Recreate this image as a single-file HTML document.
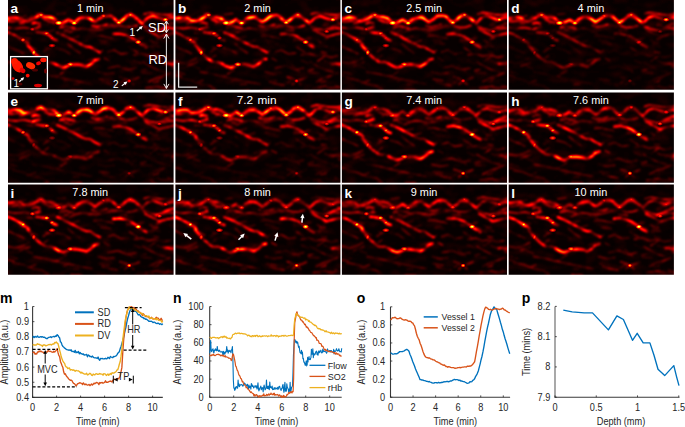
<!DOCTYPE html><html><head><meta charset="utf-8"><style>
html,body{margin:0;padding:0;background:#fff;width:685px;height:427px;overflow:hidden}
svg{display:block}
text{font-family:"Liberation Sans",sans-serif}
</style></head><body>
<svg width="685" height="427" viewBox="0 0 685 427">
<defs>
<filter id="hot" x="0" y="0" width="1" height="1" color-interpolation-filters="sRGB">
<feTurbulence type="fractalNoise" baseFrequency="0.11 0.22" numOctaves="2" seed="7" result="n"/>
<feColorMatrix in="n" type="matrix" values="2.6 0 0 0 -0.75  2.6 0 0 0 -0.75  2.6 0 0 0 -0.75  0 0 0 0 1" result="nm"/>
<feComposite in="SourceGraphic" in2="nm" operator="arithmetic" k1="1.15" k2="0.25" k3="0" k4="0" result="m"/>
<feTurbulence type="fractalNoise" baseFrequency="0.07 0.14" numOctaves="2" seed="11" result="n2"/>
<feColorMatrix in="n2" type="matrix" values="2.6 0 0 0 -1.25  2.6 0 0 0 -1.25  2.6 0 0 0 -1.25  0 0 0 0 1" result="nm2"/>
<feComposite in="m" in2="nm2" operator="arithmetic" k1="0" k2="1" k3="0.04" k4="0.006" result="mm"/>
<feGaussianBlur in="mm" stdDeviation="0.8" result="b"/>
<feComponentTransfer in="b">
<feFuncR type="table" tableValues="0 0.333 0.667 1 1 1 1 1 1"/>
<feFuncG type="table" tableValues="0 0 0 0 0.333 0.667 1 1 1"/>
<feFuncB type="table" tableValues="0 0 0 0 0 0 0 0.5 1"/>
<feFuncA type="linear" slope="0" intercept="1"/>
</feComponentTransfer></filter>
<clipPath id="cp0"><rect x="8" y="0" width="165.6" height="89.8"/></clipPath>
<clipPath id="cp1"><rect x="175.4" y="0" width="165.0" height="89.8"/></clipPath>
<clipPath id="cp2"><rect x="341.9" y="0" width="165.1" height="89.8"/></clipPath>
<clipPath id="cp3"><rect x="508.7" y="0" width="165.2" height="89.8"/></clipPath>
<clipPath id="cp4"><rect x="8" y="92.4" width="165.6" height="90.4"/></clipPath>
<clipPath id="cp5"><rect x="175.4" y="92.4" width="165.0" height="90.4"/></clipPath>
<clipPath id="cp6"><rect x="341.9" y="92.4" width="165.1" height="90.4"/></clipPath>
<clipPath id="cp7"><rect x="508.7" y="92.4" width="165.2" height="90.4"/></clipPath>
<clipPath id="cp8"><rect x="8" y="184.6" width="165.6" height="90.1"/></clipPath>
<clipPath id="cp9"><rect x="175.4" y="184.6" width="165.0" height="90.1"/></clipPath>
<clipPath id="cp10"><rect x="341.9" y="184.6" width="165.1" height="90.1"/></clipPath>
<clipPath id="cp11"><rect x="508.7" y="184.6" width="165.2" height="90.1"/></clipPath>
<filter id="hot2" x="0" y="0" width="1" height="1" color-interpolation-filters="sRGB">
<feFlood flood-color="#000" result="bk"/><feMerge result="mm"><feMergeNode in="bk"/><feMergeNode in="SourceGraphic"/></feMerge>
<feGaussianBlur in="mm" stdDeviation="0.75" result="b"/>
<feComponentTransfer in="b">
<feFuncR type="table" tableValues="0 0.333 0.667 1 1 1 1 1 1"/>
<feFuncG type="table" tableValues="0 0 0 0 0.333 0.667 1 1 1"/>
<feFuncB type="table" tableValues="0 0 0 0 0 0 0 0.5 1"/>
<feFuncA type="linear" slope="0" intercept="1"/>
</feComponentTransfer></filter>
<radialGradient id="rg"><stop offset="0" stop-color="#fff"/><stop offset="0.45" stop-color="#fff" stop-opacity="0.6"/><stop offset="1" stop-color="#fff" stop-opacity="0"/></radialGradient>
<filter id="blur1"><feGaussianBlur stdDeviation="0.6"/></filter>
</defs>
<g clip-path="url(#cp0)">
<g filter="url(#hot)">
<rect x="8" y="0" width="165.6" height="89.8" fill="rgb(1,1,1)"/>
<line x1="113.5" y1="27.6" x2="118.8" y2="26.0" stroke="rgb(32,32,32)" stroke-width="1.3" stroke-linecap="round"/>
<line x1="119.7" y1="83.1" x2="125.6" y2="79.5" stroke="rgb(24,24,24)" stroke-width="1.3" stroke-linecap="round"/>
<line x1="44.1" y1="58.3" x2="48.4" y2="55.2" stroke="rgb(33,33,33)" stroke-width="1.3" stroke-linecap="round"/>
<line x1="97.9" y1="40.1" x2="107.5" y2="41.3" stroke="rgb(24,24,24)" stroke-width="1.3" stroke-linecap="round"/>
<line x1="141.0" y1="70.7" x2="145.9" y2="69.6" stroke="rgb(49,49,49)" stroke-width="1.3" stroke-linecap="round"/>
<line x1="63.5" y1="31.9" x2="72.1" y2="26.9" stroke="rgb(36,36,36)" stroke-width="1.3" stroke-linecap="round"/>
<line x1="141.2" y1="72.7" x2="152.0" y2="73.2" stroke="rgb(30,30,30)" stroke-width="1.3" stroke-linecap="round"/>
<line x1="99.1" y1="79.1" x2="109.0" y2="80.7" stroke="rgb(26,26,26)" stroke-width="1.3" stroke-linecap="round"/>
<line x1="124.3" y1="28.9" x2="129.9" y2="26.8" stroke="rgb(27,27,27)" stroke-width="1.3" stroke-linecap="round"/>
<line x1="46.4" y1="32.5" x2="54.5" y2="30.0" stroke="rgb(34,34,34)" stroke-width="1.3" stroke-linecap="round"/>
<line x1="69.1" y1="39.4" x2="79.1" y2="36.2" stroke="rgb(33,33,33)" stroke-width="1.3" stroke-linecap="round"/>
<line x1="108.5" y1="37.0" x2="113.4" y2="38.5" stroke="rgb(23,23,23)" stroke-width="1.3" stroke-linecap="round"/>
<line x1="171.3" y1="67.0" x2="180.0" y2="67.6" stroke="rgb(39,39,39)" stroke-width="1.3" stroke-linecap="round"/>
<line x1="136.0" y1="40.7" x2="141.1" y2="37.0" stroke="rgb(29,29,29)" stroke-width="1.3" stroke-linecap="round"/>
<line x1="42.8" y1="86.3" x2="48.3" y2="89.3" stroke="rgb(42,42,42)" stroke-width="1.3" stroke-linecap="round"/>
<line x1="73.3" y1="84.5" x2="79.1" y2="84.2" stroke="rgb(23,23,23)" stroke-width="1.3" stroke-linecap="round"/>
<line x1="100.6" y1="42.8" x2="110.8" y2="44.0" stroke="rgb(27,27,27)" stroke-width="1.3" stroke-linecap="round"/>
<line x1="44.2" y1="89.8" x2="48.8" y2="89.9" stroke="rgb(19,19,19)" stroke-width="1.3" stroke-linecap="round"/>
<line x1="26.1" y1="66.2" x2="32.5" y2="68.8" stroke="rgb(21,21,21)" stroke-width="1.3" stroke-linecap="round"/>
<line x1="71.0" y1="89.8" x2="81.8" y2="90.2" stroke="rgb(34,34,34)" stroke-width="1.3" stroke-linecap="round"/>
<line x1="9.9" y1="72.1" x2="17.4" y2="74.0" stroke="rgb(32,32,32)" stroke-width="1.3" stroke-linecap="round"/>
<line x1="113.8" y1="33.1" x2="120.9" y2="32.5" stroke="rgb(37,37,37)" stroke-width="1.3" stroke-linecap="round"/>
<line x1="152.5" y1="42.9" x2="157.8" y2="42.9" stroke="rgb(43,43,43)" stroke-width="1.3" stroke-linecap="round"/>
<line x1="151.6" y1="45.1" x2="159.8" y2="46.6" stroke="rgb(18,18,18)" stroke-width="1.3" stroke-linecap="round"/>
<line x1="133.8" y1="60.5" x2="141.0" y2="63.3" stroke="rgb(23,23,23)" stroke-width="1.3" stroke-linecap="round"/>
<line x1="61.5" y1="27.2" x2="70.0" y2="32.7" stroke="rgb(33,33,33)" stroke-width="1.3" stroke-linecap="round"/>
<line x1="58.7" y1="29.7" x2="68.1" y2="34.8" stroke="rgb(17,17,17)" stroke-width="1.3" stroke-linecap="round"/>
<line x1="88.2" y1="30.4" x2="97.0" y2="33.6" stroke="rgb(24,24,24)" stroke-width="1.3" stroke-linecap="round"/>
<line x1="86.4" y1="61.2" x2="96.0" y2="58.1" stroke="rgb(37,37,37)" stroke-width="1.3" stroke-linecap="round"/>
<line x1="42.9" y1="60.5" x2="48.1" y2="62.1" stroke="rgb(29,29,29)" stroke-width="1.3" stroke-linecap="round"/>
<line x1="172.2" y1="67.6" x2="179.8" y2="67.0" stroke="rgb(26,26,26)" stroke-width="1.3" stroke-linecap="round"/>
<line x1="45.1" y1="47.6" x2="50.6" y2="48.3" stroke="rgb(25,25,25)" stroke-width="1.3" stroke-linecap="round"/>
<line x1="19.7" y1="66.4" x2="29.4" y2="62.8" stroke="rgb(50,50,50)" stroke-width="1.3" stroke-linecap="round"/>
<line x1="19.7" y1="41.2" x2="25.1" y2="42.5" stroke="rgb(20,20,20)" stroke-width="1.3" stroke-linecap="round"/>
<line x1="162.4" y1="62.5" x2="171.8" y2="62.2" stroke="rgb(29,29,29)" stroke-width="1.3" stroke-linecap="round"/>
<line x1="39.4" y1="32.2" x2="46.4" y2="31.6" stroke="rgb(33,33,33)" stroke-width="1.3" stroke-linecap="round"/>
<line x1="128.3" y1="69.1" x2="132.1" y2="71.9" stroke="rgb(30,30,30)" stroke-width="1.3" stroke-linecap="round"/>
<line x1="64.0" y1="81.1" x2="69.0" y2="79.4" stroke="rgb(26,26,26)" stroke-width="1.3" stroke-linecap="round"/>
<line x1="77.6" y1="43.8" x2="87.5" y2="40.4" stroke="rgb(24,24,24)" stroke-width="1.3" stroke-linecap="round"/>
<line x1="150.1" y1="61.2" x2="159.2" y2="55.0" stroke="rgb(42,42,42)" stroke-width="1.3" stroke-linecap="round"/>
<line x1="167.9" y1="85.3" x2="172.5" y2="87.6" stroke="rgb(27,27,27)" stroke-width="1.3" stroke-linecap="round"/>
<line x1="43.3" y1="51.7" x2="48.8" y2="48.0" stroke="rgb(35,35,35)" stroke-width="1.3" stroke-linecap="round"/>
<line x1="51.8" y1="76.2" x2="58.7" y2="75.8" stroke="rgb(53,53,53)" stroke-width="1.3" stroke-linecap="round"/>
<line x1="172.2" y1="61.6" x2="177.1" y2="63.0" stroke="rgb(34,34,34)" stroke-width="1.3" stroke-linecap="round"/>
<line x1="167.8" y1="63.1" x2="177.1" y2="63.6" stroke="rgb(18,18,18)" stroke-width="1.3" stroke-linecap="round"/>
<line x1="104.4" y1="58.2" x2="108.9" y2="60.5" stroke="rgb(32,32,32)" stroke-width="1.3" stroke-linecap="round"/>
<line x1="21.2" y1="37.9" x2="29.9" y2="39.0" stroke="rgb(29,29,29)" stroke-width="1.3" stroke-linecap="round"/>
<line x1="27.8" y1="83.0" x2="35.5" y2="80.3" stroke="rgb(34,34,34)" stroke-width="1.3" stroke-linecap="round"/>
<line x1="77.2" y1="63.4" x2="87.7" y2="63.7" stroke="rgb(28,28,28)" stroke-width="1.3" stroke-linecap="round"/>
<line x1="126.2" y1="41.3" x2="134.8" y2="40.1" stroke="rgb(21,21,21)" stroke-width="1.3" stroke-linecap="round"/>
<line x1="60.2" y1="74.1" x2="66.2" y2="70.2" stroke="rgb(53,53,53)" stroke-width="1.3" stroke-linecap="round"/>
<line x1="172.4" y1="30.7" x2="177.8" y2="28.5" stroke="rgb(47,47,47)" stroke-width="1.3" stroke-linecap="round"/>
<line x1="153.3" y1="82.3" x2="158.4" y2="81.4" stroke="rgb(48,48,48)" stroke-width="1.3" stroke-linecap="round"/>
<line x1="124.1" y1="65.1" x2="130.9" y2="70.3" stroke="rgb(16,16,16)" stroke-width="1.3" stroke-linecap="round"/>
<line x1="142.8" y1="45.2" x2="153.1" y2="47.4" stroke="rgb(24,24,24)" stroke-width="1.3" stroke-linecap="round"/>
<line x1="27.0" y1="32.9" x2="32.9" y2="33.3" stroke="rgb(41,41,41)" stroke-width="1.3" stroke-linecap="round"/>
<line x1="126.4" y1="39.0" x2="132.2" y2="40.1" stroke="rgb(24,24,24)" stroke-width="1.3" stroke-linecap="round"/>
<line x1="157.4" y1="80.2" x2="163.4" y2="76.6" stroke="rgb(29,29,29)" stroke-width="1.3" stroke-linecap="round"/>
<line x1="8.6" y1="75.4" x2="14.3" y2="76.4" stroke="rgb(38,38,38)" stroke-width="1.3" stroke-linecap="round"/>
<line x1="99.0" y1="53.4" x2="102.6" y2="50.6" stroke="rgb(42,42,42)" stroke-width="1.3" stroke-linecap="round"/>
<line x1="157.1" y1="60.9" x2="164.4" y2="64.4" stroke="rgb(24,24,24)" stroke-width="1.3" stroke-linecap="round"/>
<line x1="29.0" y1="45.7" x2="37.3" y2="50.6" stroke="rgb(38,38,38)" stroke-width="1.3" stroke-linecap="round"/>
<line x1="156.3" y1="39.4" x2="160.8" y2="37.9" stroke="rgb(44,44,44)" stroke-width="1.3" stroke-linecap="round"/>
<line x1="153.9" y1="52.0" x2="158.9" y2="52.8" stroke="rgb(41,41,41)" stroke-width="1.3" stroke-linecap="round"/>
<line x1="150.7" y1="88.5" x2="160.0" y2="92.6" stroke="rgb(22,22,22)" stroke-width="1.3" stroke-linecap="round"/>
<line x1="129.5" y1="47.3" x2="137.6" y2="52.5" stroke="rgb(46,46,46)" stroke-width="1.3" stroke-linecap="round"/>
<line x1="141.8" y1="43.1" x2="146.2" y2="44.8" stroke="rgb(43,43,43)" stroke-width="1.3" stroke-linecap="round"/>
<line x1="149.7" y1="40.2" x2="156.3" y2="43.2" stroke="rgb(24,24,24)" stroke-width="1.3" stroke-linecap="round"/>
<line x1="139.2" y1="40.6" x2="143.6" y2="37.4" stroke="rgb(34,34,34)" stroke-width="1.3" stroke-linecap="round"/>
<line x1="150.6" y1="87.9" x2="158.7" y2="85.4" stroke="rgb(37,37,37)" stroke-width="1.3" stroke-linecap="round"/>
<line x1="169.9" y1="21.7" x2="173.8" y2="24.0" stroke="rgb(41,41,41)" stroke-width="1.3" stroke-linecap="round"/>
<line x1="37.5" y1="29.3" x2="41.8" y2="28.0" stroke="rgb(27,27,27)" stroke-width="1.3" stroke-linecap="round"/>
<line x1="128.2" y1="17.6" x2="134.7" y2="18.5" stroke="rgb(29,29,29)" stroke-width="1.3" stroke-linecap="round"/>
<line x1="103.1" y1="16.6" x2="107.0" y2="17.6" stroke="rgb(46,46,46)" stroke-width="1.3" stroke-linecap="round"/>
<line x1="96.8" y1="24.9" x2="103.9" y2="27.1" stroke="rgb(32,32,32)" stroke-width="1.3" stroke-linecap="round"/>
<line x1="19.5" y1="24.0" x2="25.0" y2="22.8" stroke="rgb(56,56,56)" stroke-width="1.3" stroke-linecap="round"/>
<line x1="126.8" y1="17.4" x2="132.6" y2="16.0" stroke="rgb(36,36,36)" stroke-width="1.3" stroke-linecap="round"/>
<line x1="56.8" y1="14.3" x2="65.4" y2="13.4" stroke="rgb(41,41,41)" stroke-width="1.3" stroke-linecap="round"/>
<line x1="157.0" y1="23.1" x2="163.5" y2="21.5" stroke="rgb(19,19,19)" stroke-width="1.3" stroke-linecap="round"/>
<line x1="55.3" y1="19.7" x2="62.6" y2="20.4" stroke="rgb(34,34,34)" stroke-width="1.3" stroke-linecap="round"/>
<line x1="81.0" y1="15.8" x2="89.5" y2="15.6" stroke="rgb(51,51,51)" stroke-width="1.3" stroke-linecap="round"/>
<line x1="36.0" y1="13.5" x2="43.2" y2="13.7" stroke="rgb(32,32,32)" stroke-width="1.3" stroke-linecap="round"/>
<line x1="143.0" y1="25.5" x2="148.0" y2="26.6" stroke="rgb(21,21,21)" stroke-width="1.3" stroke-linecap="round"/>
<line x1="12.0" y1="16.4" x2="20.3" y2="16.2" stroke="rgb(22,22,22)" stroke-width="1.3" stroke-linecap="round"/>
<line x1="76.4" y1="23.3" x2="83.3" y2="20.6" stroke="rgb(27,27,27)" stroke-width="1.3" stroke-linecap="round"/>
<line x1="48.3" y1="23.8" x2="54.6" y2="19.4" stroke="rgb(43,43,43)" stroke-width="1.3" stroke-linecap="round"/>
<line x1="25.6" y1="19.7" x2="33.7" y2="16.3" stroke="rgb(44,44,44)" stroke-width="1.3" stroke-linecap="round"/>
<line x1="16.3" y1="16.5" x2="22.0" y2="19.1" stroke="rgb(51,51,51)" stroke-width="1.3" stroke-linecap="round"/>
<line x1="118.2" y1="29.8" x2="126.8" y2="30.8" stroke="rgb(33,33,33)" stroke-width="1.3" stroke-linecap="round"/>
<line x1="109.1" y1="24.9" x2="117.2" y2="25.0" stroke="rgb(43,43,43)" stroke-width="1.3" stroke-linecap="round"/>
<line x1="156.0" y1="25.4" x2="161.3" y2="25.2" stroke="rgb(25,25,25)" stroke-width="1.3" stroke-linecap="round"/>
<line x1="113.2" y1="25.8" x2="120.3" y2="26.0" stroke="rgb(36,36,36)" stroke-width="1.3" stroke-linecap="round"/>
<line x1="20.8" y1="17.1" x2="26.2" y2="15.6" stroke="rgb(34,34,34)" stroke-width="1.3" stroke-linecap="round"/>
<line x1="30.8" y1="16.2" x2="38.2" y2="17.9" stroke="rgb(27,27,27)" stroke-width="1.3" stroke-linecap="round"/>
<line x1="75.3" y1="21.8" x2="80.3" y2="21.2" stroke="rgb(34,34,34)" stroke-width="1.3" stroke-linecap="round"/>
<path d="M6.0,18.6 L9.2,18.4 L15.4,17.2 L20.3,17.8 L23.9,20.8 L28.8,20.8 L33.8,19.0 L37.4,16.6 L40.5,14.7 L44.8,17.2 L49.7,17.2 L54.0,18.4 L58.3,22.7 L62.0,23.3 L65.6,21.5 L68.7,19.6 L71.8,21.5 L74.2,23.3 L77.9,19.6 L81.6,17.8 L86.5,17.2 L90.0,18.4 L94.9,22.1 L98.6,19.6 L103.5,15.9 L108.4,15.3 L112.1,16.6 L115.8,20.2 L118.8,22.7 L123.1,19.6 L126.8,15.9 L130.5,14.7 L134.1,16.6 L137.8,19.6 L142.1,23.3" fill="none" stroke="rgb(150,150,150)" stroke-width="2.76" stroke-linejoin="round" stroke-linecap="round"/>
<path d="M142.1,23.3 L145.0,20.5 L148.0,17.5 L153.0,16.0 L158.0,17.8 L163.0,19.4 L165.4,19.6 L169.0,18.0 L175.0,17.0" fill="none" stroke="rgb(121,121,121)" stroke-width="2.42" stroke-linejoin="round" stroke-linecap="round"/>
<path d="M6.0,21.0 L12.0,21.5 L18.0,20.5 L23.0,22.5" fill="none" stroke="rgb(87,87,87)" stroke-width="2.07" stroke-linejoin="round" stroke-linecap="round"/>
<path d="M60.0,27.5 L65.0,26.0 L70.0,27.0 L75.0,28.5" fill="none" stroke="rgb(87,87,87)" stroke-width="2.07" stroke-linejoin="round" stroke-linecap="round"/>
<path d="M92.0,25.5 L97.0,27.0 L102.0,26.0 L107.0,24.5" fill="none" stroke="rgb(81,81,81)" stroke-width="2.07" stroke-linejoin="round" stroke-linecap="round"/>
<path d="M144.0,27.0 L150.0,29.0 L156.0,30.0 L163.0,29.5 L169.0,28.0 L175.0,28.5" fill="none" stroke="rgb(87,87,87)" stroke-width="2.07" stroke-linejoin="round" stroke-linecap="round"/>
<path d="M120.0,26.0 L126.0,27.5 L132.0,27.0 L137.0,25.5" fill="none" stroke="rgb(75,75,75)" stroke-width="1.95" stroke-linejoin="round" stroke-linecap="round"/>
<path d="M32.5,23.5 L35.5,22.5 L39.5,23.5" fill="none" stroke="rgb(116,116,116)" stroke-width="2.18" stroke-linejoin="round" stroke-linecap="round"/>
<path d="M39.5,15.0 L44.8,19.5 L49.7,21.5 L54.6,22.7" fill="none" stroke="rgb(93,93,93)" stroke-width="1.95" stroke-linejoin="round" stroke-linecap="round"/>
<path d="M144.0,14.0 L149.0,12.5 L155.0,13.5 L161.0,14.5 L168.0,15.0 L175.0,14.0" fill="none" stroke="rgb(81,81,81)" stroke-width="1.84" stroke-linejoin="round" stroke-linecap="round"/>
<path d="M6.0,27.5 L16.0,28.5 L24.0,27.5 L30.0,28.8" fill="none" stroke="rgb(64,64,64)" stroke-width="1.84" stroke-linejoin="round" stroke-linecap="round"/>
<path d="M32.5,29.4 L37.4,27.6 L39.9,26.4" fill="none" stroke="rgb(93,93,93)" stroke-width="2.07" stroke-linejoin="round" stroke-linecap="round"/>
<path d="M27.6,44.5 L28.2,45.6 L31.3,49.3 L33.8,52.4 L37.4,56.0 L41.1,59.1 L44.8,61.6" fill="none" stroke="rgb(134,134,134)" stroke-width="2.42" stroke-linejoin="round" stroke-linecap="round"/>
<path d="M44.8,61.6 L47.2,62.2 L50.9,62.0 L54.6,63.7" fill="none" stroke="rgb(91,91,91)" stroke-width="2.07" stroke-linejoin="round" stroke-linecap="round"/>
<path d="M54.6,63.7 L59.5,66.5 L63.2,67.8 L66.9,66.5 L70.5,64.6 L75.4,64.3 L81.6,65.3 L86.5,66.6 L90.0,64.5 L92.0,63.1 L94.9,60.3 L98.6,59.1" fill="none" stroke="rgb(134,134,134)" stroke-width="2.53" stroke-linejoin="round" stroke-linecap="round"/>
<path d="M6.0,31.5 L8.0,32.5 L12.9,34.3 L17.8,37.0 L21.5,39.0 L24.0,40.8 L27.6,42.5 L29.0,44.5" fill="none" stroke="rgb(102,102,102)" stroke-width="2.18" stroke-linejoin="round" stroke-linecap="round"/>
<path d="M57.0,32.5 L62.0,34.6 L66.9,36.8 L71.8,39.5 L76.7,42.0 L81.6,44.8 L86.0,46.5 L90.0,46.8 L94.9,49.9 L99.8,52.4" fill="none" stroke="rgb(96,96,96)" stroke-width="2.18" stroke-linejoin="round" stroke-linecap="round"/>
<path d="M36.2,32.2 L41.1,33.0 L46.0,33.7 L49.7,35.6 L52.1,38.0 L54.0,39.5 L57.0,40.5" fill="none" stroke="rgb(96,96,96)" stroke-width="2.07" stroke-linejoin="round" stroke-linecap="round"/>
<path d="M113.3,34.3 L119.4,33.7 L125.6,34.9 L130.5,36.8 L134.1,39.2 L137.8,41.7 L141.5,44.8 L146.4,47.5" fill="none" stroke="rgb(96,96,96)" stroke-width="2.07" stroke-linejoin="round" stroke-linecap="round"/>
<path d="M145.2,29.4 L150.1,31.9 L155.0,34.3 L158.7,36.8 L163.6,35.6 L168.5,34.3 L175.0,33.0" fill="none" stroke="rgb(75,75,75)" stroke-width="1.95" stroke-linejoin="round" stroke-linecap="round"/>
<path d="M70.5,31.9 L76.7,29.4 L81.6,28.2 L86.5,28.8 L92.0,29.4 L96.0,30.0 L102.3,28.8 L109.6,27.0 L113.3,26.4" fill="none" stroke="rgb(42,42,42)" stroke-width="1.84" stroke-linejoin="round" stroke-linecap="round"/>
<path d="M156.2,30.7 L161.1,28.8 L166.0,26.4 L170.9,24.5 L175.0,23.3" fill="none" stroke="rgb(75,75,75)" stroke-width="1.95" stroke-linejoin="round" stroke-linecap="round"/>
<path d="M165.0,64.0 L167.3,63.4 L172.2,64.6 L175.0,63.0" fill="none" stroke="rgb(91,91,91)" stroke-width="2.07" stroke-linejoin="round" stroke-linecap="round"/>
<path d="M134.1,54.8 L141.5,53.6 L148.9,56.0 L156.2,54.8 L163.6,57.3 L170.0,56.0" fill="none" stroke="rgb(35,35,35)" stroke-width="1.84" stroke-linejoin="round" stroke-linecap="round"/>
<path d="M8.0,46.2 L12.9,48.7 L20.3,51.7 L23.9,53.6" fill="none" stroke="rgb(35,35,35)" stroke-width="1.84" stroke-linejoin="round" stroke-linecap="round"/>
<path d="M8.0,61.9 L15.4,63.1 L22.7,61.3 L28.8,58.2" fill="none" stroke="rgb(35,35,35)" stroke-width="1.84" stroke-linejoin="round" stroke-linecap="round"/>
<path d="M102.3,81.8 L109.6,84.2 L117.0,85.5" fill="none" stroke="rgb(35,35,35)" stroke-width="1.84" stroke-linejoin="round" stroke-linecap="round"/>
<path d="M120.0,77.0 L125.0,78.5 L129.2,80.9 L134.0,79.5 L139.0,77.5" fill="none" stroke="rgb(42,42,42)" stroke-width="1.84" stroke-linejoin="round" stroke-linecap="round"/>
<path d="M125.0,84.5 L129.2,80.9 L133.5,84.5" fill="none" stroke="rgb(35,35,35)" stroke-width="1.72" stroke-linejoin="round" stroke-linecap="round"/>
<path d="M148.9,81.8 L156.2,78.1 L163.6,75.7 L170.0,73.0" fill="none" stroke="rgb(39,39,39)" stroke-width="1.84" stroke-linejoin="round" stroke-linecap="round"/>
<path d="M13.0,63.0 L23.0,64.0 L30.0,62.0" fill="none" stroke="rgb(29,29,29)" stroke-width="1.72" stroke-linejoin="round" stroke-linecap="round"/>
<path d="M33.0,72.0 L45.0,74.0 L57.0,77.0 L69.0,79.5 L81.0,82.0 L92.0,84.0" fill="none" stroke="rgb(32,32,32)" stroke-width="1.72" stroke-linejoin="round" stroke-linecap="round"/>
<path d="M108.0,52.0 L114.0,50.0 L121.0,54.0 L128.0,53.0" fill="none" stroke="rgb(35,35,35)" stroke-width="1.84" stroke-linejoin="round" stroke-linecap="round"/>
<path d="M94.0,36.0 L100.0,35.5 L106.0,37.0 L112.0,38.0" fill="none" stroke="rgb(32,32,32)" stroke-width="1.72" stroke-linejoin="round" stroke-linecap="round"/>
<path d="M68.0,44.0 L74.0,49.0 L80.0,53.0" fill="none" stroke="rgb(32,32,32)" stroke-width="1.72" stroke-linejoin="round" stroke-linecap="round"/>
<path d="M108.0,68.0 L118.0,66.0 L128.0,70.0 L136.0,68.0" fill="none" stroke="rgb(32,32,32)" stroke-width="1.72" stroke-linejoin="round" stroke-linecap="round"/>
<path d="M13.0,78.0 L23.0,80.0 L33.0,84.0 L43.0,86.0" fill="none" stroke="rgb(29,29,29)" stroke-width="1.72" stroke-linejoin="round" stroke-linecap="round"/>
<path d="M146.0,88.0 L156.0,86.5 L164.0,88.0 L172.0,87.0" fill="none" stroke="rgb(35,35,35)" stroke-width="1.84" stroke-linejoin="round" stroke-linecap="round"/>
<path d="M143.0,62.0 L150.0,66.0 L158.0,70.0 L166.0,72.0" fill="none" stroke="rgb(32,32,32)" stroke-width="1.72" stroke-linejoin="round" stroke-linecap="round"/>
<path d="M56.0,48.0 L64.0,50.0 L70.0,54.0" fill="none" stroke="rgb(29,29,29)" stroke-width="1.72" stroke-linejoin="round" stroke-linecap="round"/>
<path d="M98.0,72.0 L106.0,74.0 L114.0,73.0" fill="none" stroke="rgb(26,26,26)" stroke-width="1.72" stroke-linejoin="round" stroke-linecap="round"/>
</g>
<g filter="url(#hot2)" style="mix-blend-mode:lighten">
<rect x="8" y="0" width="165.6" height="89.8" fill="#000"/>
<ellipse cx="58.8" cy="22.9" rx="4.7" ry="2.7" fill="url(#rg)" fill-opacity="1.00"/>
<ellipse cx="74.2" cy="23.0" rx="3.6" ry="2.3" fill="url(#rg)" fill-opacity="0.97"/>
<ellipse cx="118.8" cy="22.5" rx="3.6" ry="2.3" fill="url(#rg)" fill-opacity="0.87"/>
<ellipse cx="165.4" cy="19.6" rx="3.6" ry="2.3" fill="url(#rg)" fill-opacity="0.82"/>
<ellipse cx="41.0" cy="15.0" rx="3.6" ry="2.2" fill="url(#rg)" fill-opacity="0.73"/>
<ellipse cx="130.5" cy="14.9" rx="3.2" ry="2.2" fill="url(#rg)" fill-opacity="0.70"/>
<ellipse cx="103.5" cy="16.0" rx="3.2" ry="2.2" fill="url(#rg)" fill-opacity="0.60"/>
<ellipse cx="33.8" cy="52.4" rx="2.5" ry="3.2" fill="url(#rg)" fill-opacity="0.81"/>
<ellipse cx="70.5" cy="64.4" rx="4.3" ry="2.5" fill="url(#rg)" fill-opacity="0.74"/>
<ellipse cx="23.0" cy="39.9" rx="2.9" ry="2.3" fill="url(#rg)" fill-opacity="0.62"/>
<ellipse cx="46.5" cy="33.4" rx="3.6" ry="2.2" fill="url(#rg)" fill-opacity="0.62"/>
<ellipse cx="138.2" cy="42.1" rx="3.6" ry="2.5" fill="url(#rg)" fill-opacity="0.81"/>
<ellipse cx="159.3" cy="31.3" rx="3.2" ry="2.2" fill="url(#rg)" fill-opacity="0.47"/>
<ellipse cx="52.0" cy="45.6" rx="4.0" ry="2.3" fill="url(#rg)" fill-opacity="0.45"/>
<ellipse cx="129.2" cy="80.9" rx="2.7" ry="2.2" fill="url(#rg)" fill-opacity="0.47"/>
<ellipse cx="52.1" cy="38.0" rx="2.9" ry="2.2" fill="url(#rg)" fill-opacity="0.45"/>
<ellipse cx="32.5" cy="29.2" rx="3.2" ry="2.2" fill="url(#rg)" fill-opacity="0.40"/>
</g>
</g>
<text x="10.5" y="13.4" font-size="13.6" font-weight="bold" fill="#fff">a</text>
<text x="90.2" y="11.8" font-size="10.9" fill="#fff" text-anchor="middle">1 min</text>
<g clip-path="url(#cp1)">
<g filter="url(#hot)">
<rect x="175.4" y="0" width="165.0" height="89.8" fill="rgb(1,1,1)"/>
<line x1="280.9" y1="27.6" x2="286.2" y2="26.0" stroke="rgb(36,36,36)" stroke-width="1.3" stroke-linecap="round"/>
<line x1="287.1" y1="83.1" x2="293.0" y2="79.5" stroke="rgb(25,25,25)" stroke-width="1.3" stroke-linecap="round"/>
<line x1="211.5" y1="58.3" x2="215.8" y2="55.2" stroke="rgb(33,33,33)" stroke-width="1.3" stroke-linecap="round"/>
<line x1="265.3" y1="40.1" x2="274.9" y2="41.3" stroke="rgb(16,16,16)" stroke-width="1.3" stroke-linecap="round"/>
<line x1="308.4" y1="70.7" x2="313.3" y2="69.6" stroke="rgb(42,42,42)" stroke-width="1.3" stroke-linecap="round"/>
<line x1="230.9" y1="31.9" x2="239.5" y2="26.9" stroke="rgb(39,39,39)" stroke-width="1.3" stroke-linecap="round"/>
<line x1="308.6" y1="72.7" x2="319.4" y2="73.2" stroke="rgb(32,32,32)" stroke-width="1.3" stroke-linecap="round"/>
<line x1="266.5" y1="79.1" x2="276.4" y2="80.7" stroke="rgb(26,26,26)" stroke-width="1.3" stroke-linecap="round"/>
<line x1="291.7" y1="28.9" x2="297.3" y2="26.8" stroke="rgb(22,22,22)" stroke-width="1.3" stroke-linecap="round"/>
<line x1="213.8" y1="32.5" x2="221.9" y2="30.0" stroke="rgb(24,24,24)" stroke-width="1.3" stroke-linecap="round"/>
<line x1="236.5" y1="39.4" x2="246.5" y2="36.2" stroke="rgb(27,27,27)" stroke-width="1.3" stroke-linecap="round"/>
<line x1="275.9" y1="37.0" x2="280.8" y2="38.5" stroke="rgb(37,37,37)" stroke-width="1.3" stroke-linecap="round"/>
<line x1="338.7" y1="67.0" x2="347.4" y2="67.6" stroke="rgb(44,44,44)" stroke-width="1.3" stroke-linecap="round"/>
<line x1="303.4" y1="40.7" x2="308.5" y2="37.0" stroke="rgb(25,25,25)" stroke-width="1.3" stroke-linecap="round"/>
<line x1="210.2" y1="86.3" x2="215.7" y2="89.3" stroke="rgb(41,41,41)" stroke-width="1.3" stroke-linecap="round"/>
<line x1="240.7" y1="84.5" x2="246.5" y2="84.2" stroke="rgb(30,30,30)" stroke-width="1.3" stroke-linecap="round"/>
<line x1="268.0" y1="42.8" x2="278.2" y2="44.0" stroke="rgb(22,22,22)" stroke-width="1.3" stroke-linecap="round"/>
<line x1="211.6" y1="89.8" x2="216.2" y2="89.9" stroke="rgb(20,20,20)" stroke-width="1.3" stroke-linecap="round"/>
<line x1="193.5" y1="66.2" x2="199.9" y2="68.8" stroke="rgb(20,20,20)" stroke-width="1.3" stroke-linecap="round"/>
<line x1="238.4" y1="89.8" x2="249.2" y2="90.2" stroke="rgb(31,31,31)" stroke-width="1.3" stroke-linecap="round"/>
<line x1="177.3" y1="72.1" x2="184.8" y2="74.0" stroke="rgb(30,30,30)" stroke-width="1.3" stroke-linecap="round"/>
<line x1="281.2" y1="33.1" x2="288.3" y2="32.5" stroke="rgb(51,51,51)" stroke-width="1.3" stroke-linecap="round"/>
<line x1="319.9" y1="42.9" x2="325.2" y2="42.9" stroke="rgb(41,41,41)" stroke-width="1.3" stroke-linecap="round"/>
<line x1="319.0" y1="45.1" x2="327.2" y2="46.6" stroke="rgb(28,28,28)" stroke-width="1.3" stroke-linecap="round"/>
<line x1="301.2" y1="60.5" x2="308.4" y2="63.3" stroke="rgb(21,21,21)" stroke-width="1.3" stroke-linecap="round"/>
<line x1="228.9" y1="27.2" x2="237.4" y2="32.7" stroke="rgb(39,39,39)" stroke-width="1.3" stroke-linecap="round"/>
<line x1="226.1" y1="29.7" x2="235.5" y2="34.8" stroke="rgb(23,23,23)" stroke-width="1.3" stroke-linecap="round"/>
<line x1="255.6" y1="30.4" x2="264.4" y2="33.6" stroke="rgb(27,27,27)" stroke-width="1.3" stroke-linecap="round"/>
<line x1="253.8" y1="61.2" x2="263.4" y2="58.1" stroke="rgb(27,27,27)" stroke-width="1.3" stroke-linecap="round"/>
<line x1="210.3" y1="60.5" x2="215.5" y2="62.1" stroke="rgb(28,28,28)" stroke-width="1.3" stroke-linecap="round"/>
<line x1="339.6" y1="67.6" x2="347.2" y2="67.0" stroke="rgb(19,19,19)" stroke-width="1.3" stroke-linecap="round"/>
<line x1="212.5" y1="47.6" x2="218.0" y2="48.3" stroke="rgb(26,26,26)" stroke-width="1.3" stroke-linecap="round"/>
<line x1="187.1" y1="66.4" x2="196.8" y2="62.8" stroke="rgb(44,44,44)" stroke-width="1.3" stroke-linecap="round"/>
<line x1="187.1" y1="41.2" x2="192.5" y2="42.5" stroke="rgb(22,22,22)" stroke-width="1.3" stroke-linecap="round"/>
<line x1="329.8" y1="62.5" x2="339.2" y2="62.2" stroke="rgb(31,31,31)" stroke-width="1.3" stroke-linecap="round"/>
<line x1="206.8" y1="32.2" x2="213.8" y2="31.6" stroke="rgb(37,37,37)" stroke-width="1.3" stroke-linecap="round"/>
<line x1="295.7" y1="69.1" x2="299.5" y2="71.9" stroke="rgb(34,34,34)" stroke-width="1.3" stroke-linecap="round"/>
<line x1="231.4" y1="81.1" x2="236.4" y2="79.4" stroke="rgb(36,36,36)" stroke-width="1.3" stroke-linecap="round"/>
<line x1="245.0" y1="43.8" x2="254.9" y2="40.4" stroke="rgb(25,25,25)" stroke-width="1.3" stroke-linecap="round"/>
<line x1="317.5" y1="61.2" x2="326.6" y2="55.0" stroke="rgb(50,50,50)" stroke-width="1.3" stroke-linecap="round"/>
<line x1="335.3" y1="85.3" x2="339.9" y2="87.6" stroke="rgb(32,32,32)" stroke-width="1.3" stroke-linecap="round"/>
<line x1="210.7" y1="51.7" x2="216.2" y2="48.0" stroke="rgb(36,36,36)" stroke-width="1.3" stroke-linecap="round"/>
<line x1="219.2" y1="76.2" x2="226.1" y2="75.8" stroke="rgb(38,38,38)" stroke-width="1.3" stroke-linecap="round"/>
<line x1="339.6" y1="61.6" x2="344.5" y2="63.0" stroke="rgb(21,21,21)" stroke-width="1.3" stroke-linecap="round"/>
<line x1="335.2" y1="63.1" x2="344.5" y2="63.6" stroke="rgb(25,25,25)" stroke-width="1.3" stroke-linecap="round"/>
<line x1="271.8" y1="58.2" x2="276.3" y2="60.5" stroke="rgb(53,53,53)" stroke-width="1.3" stroke-linecap="round"/>
<line x1="188.6" y1="37.9" x2="197.3" y2="39.0" stroke="rgb(31,31,31)" stroke-width="1.3" stroke-linecap="round"/>
<line x1="195.2" y1="83.0" x2="202.9" y2="80.3" stroke="rgb(39,39,39)" stroke-width="1.3" stroke-linecap="round"/>
<line x1="244.6" y1="63.4" x2="255.1" y2="63.7" stroke="rgb(25,25,25)" stroke-width="1.3" stroke-linecap="round"/>
<line x1="293.6" y1="41.3" x2="302.2" y2="40.1" stroke="rgb(25,25,25)" stroke-width="1.3" stroke-linecap="round"/>
<line x1="227.6" y1="74.1" x2="233.6" y2="70.2" stroke="rgb(47,47,47)" stroke-width="1.3" stroke-linecap="round"/>
<line x1="339.8" y1="30.7" x2="345.2" y2="28.5" stroke="rgb(31,31,31)" stroke-width="1.3" stroke-linecap="round"/>
<line x1="320.7" y1="82.3" x2="325.8" y2="81.4" stroke="rgb(31,31,31)" stroke-width="1.3" stroke-linecap="round"/>
<line x1="291.5" y1="65.1" x2="298.3" y2="70.3" stroke="rgb(21,21,21)" stroke-width="1.3" stroke-linecap="round"/>
<line x1="310.2" y1="45.2" x2="320.5" y2="47.4" stroke="rgb(21,21,21)" stroke-width="1.3" stroke-linecap="round"/>
<line x1="194.4" y1="32.9" x2="200.3" y2="33.3" stroke="rgb(43,43,43)" stroke-width="1.3" stroke-linecap="round"/>
<line x1="293.8" y1="39.0" x2="299.6" y2="40.1" stroke="rgb(35,35,35)" stroke-width="1.3" stroke-linecap="round"/>
<line x1="324.8" y1="80.2" x2="330.8" y2="76.6" stroke="rgb(20,20,20)" stroke-width="1.3" stroke-linecap="round"/>
<line x1="176.0" y1="75.4" x2="181.7" y2="76.4" stroke="rgb(40,40,40)" stroke-width="1.3" stroke-linecap="round"/>
<line x1="266.4" y1="53.4" x2="270.0" y2="50.6" stroke="rgb(31,31,31)" stroke-width="1.3" stroke-linecap="round"/>
<line x1="324.5" y1="60.9" x2="331.8" y2="64.4" stroke="rgb(30,30,30)" stroke-width="1.3" stroke-linecap="round"/>
<line x1="196.4" y1="45.7" x2="204.7" y2="50.6" stroke="rgb(44,44,44)" stroke-width="1.3" stroke-linecap="round"/>
<line x1="323.7" y1="39.4" x2="328.2" y2="37.9" stroke="rgb(44,44,44)" stroke-width="1.3" stroke-linecap="round"/>
<line x1="321.3" y1="52.0" x2="326.3" y2="52.8" stroke="rgb(39,39,39)" stroke-width="1.3" stroke-linecap="round"/>
<line x1="318.1" y1="88.5" x2="327.4" y2="92.6" stroke="rgb(16,16,16)" stroke-width="1.3" stroke-linecap="round"/>
<line x1="296.9" y1="47.3" x2="305.0" y2="52.5" stroke="rgb(45,45,45)" stroke-width="1.3" stroke-linecap="round"/>
<line x1="309.2" y1="43.1" x2="313.6" y2="44.8" stroke="rgb(45,45,45)" stroke-width="1.3" stroke-linecap="round"/>
<line x1="317.1" y1="40.2" x2="323.7" y2="43.2" stroke="rgb(25,25,25)" stroke-width="1.3" stroke-linecap="round"/>
<line x1="306.6" y1="40.6" x2="311.0" y2="37.4" stroke="rgb(24,24,24)" stroke-width="1.3" stroke-linecap="round"/>
<line x1="318.0" y1="87.9" x2="326.1" y2="85.4" stroke="rgb(35,35,35)" stroke-width="1.3" stroke-linecap="round"/>
<line x1="337.3" y1="21.7" x2="341.2" y2="24.0" stroke="rgb(43,43,43)" stroke-width="1.3" stroke-linecap="round"/>
<line x1="204.9" y1="29.3" x2="209.2" y2="28.0" stroke="rgb(36,36,36)" stroke-width="1.3" stroke-linecap="round"/>
<line x1="295.6" y1="17.6" x2="302.1" y2="18.5" stroke="rgb(39,39,39)" stroke-width="1.3" stroke-linecap="round"/>
<line x1="270.5" y1="16.6" x2="274.4" y2="17.6" stroke="rgb(50,50,50)" stroke-width="1.3" stroke-linecap="round"/>
<line x1="264.2" y1="24.9" x2="271.3" y2="27.1" stroke="rgb(25,25,25)" stroke-width="1.3" stroke-linecap="round"/>
<line x1="186.9" y1="24.0" x2="192.4" y2="22.8" stroke="rgb(52,52,52)" stroke-width="1.3" stroke-linecap="round"/>
<line x1="294.2" y1="17.4" x2="300.0" y2="16.0" stroke="rgb(41,41,41)" stroke-width="1.3" stroke-linecap="round"/>
<line x1="224.2" y1="14.3" x2="232.8" y2="13.4" stroke="rgb(47,47,47)" stroke-width="1.3" stroke-linecap="round"/>
<line x1="324.4" y1="23.1" x2="330.9" y2="21.5" stroke="rgb(25,25,25)" stroke-width="1.3" stroke-linecap="round"/>
<line x1="222.7" y1="19.7" x2="230.0" y2="20.4" stroke="rgb(27,27,27)" stroke-width="1.3" stroke-linecap="round"/>
<line x1="248.4" y1="15.8" x2="256.9" y2="15.6" stroke="rgb(34,34,34)" stroke-width="1.3" stroke-linecap="round"/>
<line x1="203.4" y1="13.5" x2="210.6" y2="13.7" stroke="rgb(36,36,36)" stroke-width="1.3" stroke-linecap="round"/>
<line x1="310.4" y1="25.5" x2="315.4" y2="26.6" stroke="rgb(22,22,22)" stroke-width="1.3" stroke-linecap="round"/>
<line x1="179.4" y1="16.4" x2="187.7" y2="16.2" stroke="rgb(29,29,29)" stroke-width="1.3" stroke-linecap="round"/>
<line x1="243.8" y1="23.3" x2="250.7" y2="20.6" stroke="rgb(30,30,30)" stroke-width="1.3" stroke-linecap="round"/>
<line x1="215.7" y1="23.8" x2="222.0" y2="19.4" stroke="rgb(41,41,41)" stroke-width="1.3" stroke-linecap="round"/>
<line x1="193.0" y1="19.7" x2="201.1" y2="16.3" stroke="rgb(30,30,30)" stroke-width="1.3" stroke-linecap="round"/>
<line x1="183.7" y1="16.5" x2="189.4" y2="19.1" stroke="rgb(47,47,47)" stroke-width="1.3" stroke-linecap="round"/>
<line x1="285.6" y1="29.8" x2="294.2" y2="30.8" stroke="rgb(48,48,48)" stroke-width="1.3" stroke-linecap="round"/>
<line x1="276.5" y1="24.9" x2="284.6" y2="25.0" stroke="rgb(32,32,32)" stroke-width="1.3" stroke-linecap="round"/>
<line x1="323.4" y1="25.4" x2="328.7" y2="25.2" stroke="rgb(29,29,29)" stroke-width="1.3" stroke-linecap="round"/>
<line x1="280.6" y1="25.8" x2="287.7" y2="26.0" stroke="rgb(29,29,29)" stroke-width="1.3" stroke-linecap="round"/>
<line x1="188.2" y1="17.1" x2="193.6" y2="15.6" stroke="rgb(39,39,39)" stroke-width="1.3" stroke-linecap="round"/>
<line x1="198.2" y1="16.2" x2="205.6" y2="17.9" stroke="rgb(29,29,29)" stroke-width="1.3" stroke-linecap="round"/>
<line x1="242.7" y1="21.8" x2="247.7" y2="21.2" stroke="rgb(32,32,32)" stroke-width="1.3" stroke-linecap="round"/>
<path d="M173.4,18.6 L176.6,18.4 L182.8,17.2 L187.7,17.8 L191.3,20.8 L196.2,20.8 L201.2,19.0 L204.8,16.6 L207.9,14.7 L212.2,17.2 L217.1,17.2 L221.4,18.4 L225.7,22.7 L229.4,23.3 L233.0,21.5 L236.1,19.6 L239.2,21.5 L241.6,23.3 L245.3,19.6 L249.0,17.8 L253.9,17.2 L257.4,18.4 L262.3,22.1 L266.0,19.6 L270.9,15.9 L275.8,15.3 L279.5,16.6 L283.2,20.2 L286.2,22.7 L290.5,19.6 L294.2,15.9 L297.9,14.7 L301.5,16.6 L305.2,19.6 L309.5,23.3" fill="none" stroke="rgb(150,150,150)" stroke-width="2.76" stroke-linejoin="round" stroke-linecap="round"/>
<path d="M309.5,23.3 L312.4,20.5 L315.4,17.5 L320.4,16.0 L325.4,17.8 L330.4,19.4 L332.8,19.6 L336.4,18.0 L342.4,17.0" fill="none" stroke="rgb(121,121,121)" stroke-width="2.42" stroke-linejoin="round" stroke-linecap="round"/>
<path d="M173.4,21.0 L179.4,21.5 L185.4,20.5 L190.4,22.5" fill="none" stroke="rgb(87,87,87)" stroke-width="2.07" stroke-linejoin="round" stroke-linecap="round"/>
<path d="M227.4,27.5 L232.4,26.0 L237.4,27.0 L242.4,28.5" fill="none" stroke="rgb(87,87,87)" stroke-width="2.07" stroke-linejoin="round" stroke-linecap="round"/>
<path d="M259.4,25.5 L264.4,27.0 L269.4,26.0 L274.4,24.5" fill="none" stroke="rgb(81,81,81)" stroke-width="2.07" stroke-linejoin="round" stroke-linecap="round"/>
<path d="M311.4,27.0 L317.4,29.0 L323.4,30.0 L330.4,29.5 L336.4,28.0 L342.4,28.5" fill="none" stroke="rgb(87,87,87)" stroke-width="2.07" stroke-linejoin="round" stroke-linecap="round"/>
<path d="M287.4,26.0 L293.4,27.5 L299.4,27.0 L304.4,25.5" fill="none" stroke="rgb(75,75,75)" stroke-width="1.95" stroke-linejoin="round" stroke-linecap="round"/>
<path d="M199.9,23.5 L202.9,22.5 L206.9,23.5" fill="none" stroke="rgb(116,116,116)" stroke-width="2.18" stroke-linejoin="round" stroke-linecap="round"/>
<path d="M206.9,15.0 L212.2,19.5 L217.1,21.5 L222.0,22.7" fill="none" stroke="rgb(93,93,93)" stroke-width="1.95" stroke-linejoin="round" stroke-linecap="round"/>
<path d="M311.4,14.0 L316.4,12.5 L322.4,13.5 L328.4,14.5 L335.4,15.0 L342.4,14.0" fill="none" stroke="rgb(81,81,81)" stroke-width="1.84" stroke-linejoin="round" stroke-linecap="round"/>
<path d="M173.4,27.5 L183.4,28.5 L191.4,27.5 L197.4,28.8" fill="none" stroke="rgb(64,64,64)" stroke-width="1.84" stroke-linejoin="round" stroke-linecap="round"/>
<path d="M199.9,29.4 L204.8,27.6 L207.3,26.4" fill="none" stroke="rgb(93,93,93)" stroke-width="2.07" stroke-linejoin="round" stroke-linecap="round"/>
<path d="M195.0,44.5 L195.6,45.6 L198.7,49.3 L201.2,52.4 L204.8,56.0 L208.5,59.1 L212.2,61.6" fill="none" stroke="rgb(134,134,134)" stroke-width="2.42" stroke-linejoin="round" stroke-linecap="round"/>
<path d="M212.2,61.6 L214.6,62.2 L218.3,62.0 L222.0,63.7" fill="none" stroke="rgb(91,91,91)" stroke-width="2.07" stroke-linejoin="round" stroke-linecap="round"/>
<path d="M222.0,63.7 L226.9,66.5 L230.6,67.8 L234.3,66.5 L237.9,64.6 L242.8,64.3 L249.0,65.3 L253.9,66.6 L257.4,64.5 L259.4,63.1 L262.3,60.3 L266.0,59.1" fill="none" stroke="rgb(134,134,134)" stroke-width="2.53" stroke-linejoin="round" stroke-linecap="round"/>
<path d="M173.4,31.5 L175.4,32.5 L180.3,34.3 L185.2,37.0 L188.9,39.0 L191.4,40.8 L195.0,42.5 L196.4,44.5" fill="none" stroke="rgb(102,102,102)" stroke-width="2.18" stroke-linejoin="round" stroke-linecap="round"/>
<path d="M224.4,32.5 L229.4,34.6 L234.3,36.8 L239.2,39.5 L244.1,42.0 L249.0,44.8 L253.4,46.5 L257.4,46.8 L262.3,49.9 L267.2,52.4" fill="none" stroke="rgb(96,96,96)" stroke-width="2.18" stroke-linejoin="round" stroke-linecap="round"/>
<path d="M203.6,32.2 L208.5,33.0 L213.4,33.7 L217.1,35.6 L219.5,38.0 L221.4,39.5 L224.4,40.5" fill="none" stroke="rgb(96,96,96)" stroke-width="2.07" stroke-linejoin="round" stroke-linecap="round"/>
<path d="M280.7,34.3 L286.8,33.7 L293.0,34.9 L297.9,36.8 L301.5,39.2 L305.2,41.7 L308.9,44.8 L313.8,47.5" fill="none" stroke="rgb(96,96,96)" stroke-width="2.07" stroke-linejoin="round" stroke-linecap="round"/>
<path d="M312.6,29.4 L317.5,31.9 L322.4,34.3 L326.1,36.8 L331.0,35.6 L335.9,34.3 L342.4,33.0" fill="none" stroke="rgb(75,75,75)" stroke-width="1.95" stroke-linejoin="round" stroke-linecap="round"/>
<path d="M237.9,31.9 L244.1,29.4 L249.0,28.2 L253.9,28.8 L259.4,29.4 L263.4,30.0 L269.7,28.8 L277.0,27.0 L280.7,26.4" fill="none" stroke="rgb(42,42,42)" stroke-width="1.84" stroke-linejoin="round" stroke-linecap="round"/>
<path d="M323.6,30.7 L328.5,28.8 L333.4,26.4 L338.3,24.5 L342.4,23.3" fill="none" stroke="rgb(75,75,75)" stroke-width="1.95" stroke-linejoin="round" stroke-linecap="round"/>
<path d="M332.4,64.0 L334.7,63.4 L339.6,64.6 L342.4,63.0" fill="none" stroke="rgb(91,91,91)" stroke-width="2.07" stroke-linejoin="round" stroke-linecap="round"/>
<path d="M301.5,54.8 L308.9,53.6 L316.3,56.0 L323.6,54.8 L331.0,57.3 L337.4,56.0" fill="none" stroke="rgb(35,35,35)" stroke-width="1.84" stroke-linejoin="round" stroke-linecap="round"/>
<path d="M175.4,46.2 L180.3,48.7 L187.7,51.7 L191.3,53.6" fill="none" stroke="rgb(35,35,35)" stroke-width="1.84" stroke-linejoin="round" stroke-linecap="round"/>
<path d="M175.4,61.9 L182.8,63.1 L190.1,61.3 L196.2,58.2" fill="none" stroke="rgb(35,35,35)" stroke-width="1.84" stroke-linejoin="round" stroke-linecap="round"/>
<path d="M269.7,81.8 L277.0,84.2 L284.4,85.5" fill="none" stroke="rgb(35,35,35)" stroke-width="1.84" stroke-linejoin="round" stroke-linecap="round"/>
<path d="M287.4,77.0 L292.4,78.5 L296.6,80.9 L301.4,79.5 L306.4,77.5" fill="none" stroke="rgb(42,42,42)" stroke-width="1.84" stroke-linejoin="round" stroke-linecap="round"/>
<path d="M292.4,84.5 L296.6,80.9 L300.9,84.5" fill="none" stroke="rgb(35,35,35)" stroke-width="1.72" stroke-linejoin="round" stroke-linecap="round"/>
<path d="M316.3,81.8 L323.6,78.1 L331.0,75.7 L337.4,73.0" fill="none" stroke="rgb(39,39,39)" stroke-width="1.84" stroke-linejoin="round" stroke-linecap="round"/>
<path d="M180.4,63.0 L190.4,64.0 L197.4,62.0" fill="none" stroke="rgb(29,29,29)" stroke-width="1.72" stroke-linejoin="round" stroke-linecap="round"/>
<path d="M200.4,72.0 L212.4,74.0 L224.4,77.0 L236.4,79.5 L248.4,82.0 L259.4,84.0" fill="none" stroke="rgb(32,32,32)" stroke-width="1.72" stroke-linejoin="round" stroke-linecap="round"/>
<path d="M275.4,52.0 L281.4,50.0 L288.4,54.0 L295.4,53.0" fill="none" stroke="rgb(35,35,35)" stroke-width="1.84" stroke-linejoin="round" stroke-linecap="round"/>
<path d="M261.4,36.0 L267.4,35.5 L273.4,37.0 L279.4,38.0" fill="none" stroke="rgb(32,32,32)" stroke-width="1.72" stroke-linejoin="round" stroke-linecap="round"/>
<path d="M235.4,44.0 L241.4,49.0 L247.4,53.0" fill="none" stroke="rgb(32,32,32)" stroke-width="1.72" stroke-linejoin="round" stroke-linecap="round"/>
<path d="M275.4,68.0 L285.4,66.0 L295.4,70.0 L303.4,68.0" fill="none" stroke="rgb(32,32,32)" stroke-width="1.72" stroke-linejoin="round" stroke-linecap="round"/>
<path d="M180.4,78.0 L190.4,80.0 L200.4,84.0 L210.4,86.0" fill="none" stroke="rgb(29,29,29)" stroke-width="1.72" stroke-linejoin="round" stroke-linecap="round"/>
<path d="M313.4,88.0 L323.4,86.5 L331.4,88.0 L339.4,87.0" fill="none" stroke="rgb(35,35,35)" stroke-width="1.84" stroke-linejoin="round" stroke-linecap="round"/>
<path d="M310.4,62.0 L317.4,66.0 L325.4,70.0 L333.4,72.0" fill="none" stroke="rgb(32,32,32)" stroke-width="1.72" stroke-linejoin="round" stroke-linecap="round"/>
<path d="M223.4,48.0 L231.4,50.0 L237.4,54.0" fill="none" stroke="rgb(29,29,29)" stroke-width="1.72" stroke-linejoin="round" stroke-linecap="round"/>
<path d="M265.4,72.0 L273.4,74.0 L281.4,73.0" fill="none" stroke="rgb(26,26,26)" stroke-width="1.72" stroke-linejoin="round" stroke-linecap="round"/>
</g>
<g filter="url(#hot2)" style="mix-blend-mode:lighten">
<rect x="175.4" y="0" width="165.0" height="89.8" fill="#000"/>
<ellipse cx="226.2" cy="22.9" rx="4.7" ry="2.7" fill="url(#rg)" fill-opacity="1.00"/>
<ellipse cx="241.6" cy="23.0" rx="3.6" ry="2.3" fill="url(#rg)" fill-opacity="0.97"/>
<ellipse cx="286.2" cy="22.5" rx="3.6" ry="2.3" fill="url(#rg)" fill-opacity="0.87"/>
<ellipse cx="332.8" cy="19.6" rx="3.6" ry="2.3" fill="url(#rg)" fill-opacity="0.82"/>
<ellipse cx="208.4" cy="15.0" rx="3.6" ry="2.2" fill="url(#rg)" fill-opacity="0.73"/>
<ellipse cx="297.9" cy="14.9" rx="3.2" ry="2.2" fill="url(#rg)" fill-opacity="0.70"/>
<ellipse cx="270.9" cy="16.0" rx="3.2" ry="2.2" fill="url(#rg)" fill-opacity="0.60"/>
<ellipse cx="201.2" cy="52.4" rx="2.5" ry="3.2" fill="url(#rg)" fill-opacity="0.81"/>
<ellipse cx="237.9" cy="64.4" rx="4.3" ry="2.5" fill="url(#rg)" fill-opacity="0.74"/>
<ellipse cx="190.4" cy="39.9" rx="2.9" ry="2.3" fill="url(#rg)" fill-opacity="0.62"/>
<ellipse cx="213.9" cy="33.4" rx="3.6" ry="2.2" fill="url(#rg)" fill-opacity="0.62"/>
<ellipse cx="305.6" cy="42.1" rx="3.6" ry="2.5" fill="url(#rg)" fill-opacity="0.81"/>
<ellipse cx="326.7" cy="31.3" rx="3.2" ry="2.2" fill="url(#rg)" fill-opacity="0.47"/>
<ellipse cx="219.4" cy="45.6" rx="4.0" ry="2.3" fill="url(#rg)" fill-opacity="0.45"/>
<ellipse cx="296.6" cy="80.9" rx="2.7" ry="2.2" fill="url(#rg)" fill-opacity="0.47"/>
<ellipse cx="219.5" cy="38.0" rx="2.9" ry="2.2" fill="url(#rg)" fill-opacity="0.45"/>
<ellipse cx="199.9" cy="29.2" rx="3.2" ry="2.2" fill="url(#rg)" fill-opacity="0.40"/>
</g>
</g>
<text x="177.9" y="13.4" font-size="13.6" font-weight="bold" fill="#fff">b</text>
<text x="257.6" y="11.8" font-size="10.9" fill="#fff" text-anchor="middle">2 min</text>
<g clip-path="url(#cp2)">
<g filter="url(#hot)">
<rect x="341.9" y="0" width="165.1" height="89.8" fill="rgb(1,1,1)"/>
<line x1="447.4" y1="27.6" x2="452.7" y2="26.0" stroke="rgb(37,37,37)" stroke-width="1.3" stroke-linecap="round"/>
<line x1="453.6" y1="83.1" x2="459.5" y2="79.5" stroke="rgb(17,17,17)" stroke-width="1.3" stroke-linecap="round"/>
<line x1="378.0" y1="58.3" x2="382.3" y2="55.2" stroke="rgb(29,29,29)" stroke-width="1.3" stroke-linecap="round"/>
<line x1="431.8" y1="40.1" x2="441.4" y2="41.3" stroke="rgb(17,17,17)" stroke-width="1.3" stroke-linecap="round"/>
<line x1="474.9" y1="70.7" x2="479.8" y2="69.6" stroke="rgb(47,47,47)" stroke-width="1.3" stroke-linecap="round"/>
<line x1="397.4" y1="31.9" x2="406.0" y2="26.9" stroke="rgb(29,29,29)" stroke-width="1.3" stroke-linecap="round"/>
<line x1="475.1" y1="72.7" x2="485.9" y2="73.2" stroke="rgb(27,27,27)" stroke-width="1.3" stroke-linecap="round"/>
<line x1="433.0" y1="79.1" x2="442.9" y2="80.7" stroke="rgb(36,36,36)" stroke-width="1.3" stroke-linecap="round"/>
<line x1="458.2" y1="28.9" x2="463.8" y2="26.8" stroke="rgb(22,22,22)" stroke-width="1.3" stroke-linecap="round"/>
<line x1="380.3" y1="32.5" x2="388.4" y2="30.0" stroke="rgb(35,35,35)" stroke-width="1.3" stroke-linecap="round"/>
<line x1="403.0" y1="39.4" x2="413.0" y2="36.2" stroke="rgb(35,35,35)" stroke-width="1.3" stroke-linecap="round"/>
<line x1="442.4" y1="37.0" x2="447.3" y2="38.5" stroke="rgb(27,27,27)" stroke-width="1.3" stroke-linecap="round"/>
<line x1="505.2" y1="67.0" x2="513.9" y2="67.6" stroke="rgb(41,41,41)" stroke-width="1.3" stroke-linecap="round"/>
<line x1="469.9" y1="40.7" x2="475.0" y2="37.0" stroke="rgb(22,22,22)" stroke-width="1.3" stroke-linecap="round"/>
<line x1="376.7" y1="86.3" x2="382.2" y2="89.3" stroke="rgb(42,42,42)" stroke-width="1.3" stroke-linecap="round"/>
<line x1="407.2" y1="84.5" x2="413.0" y2="84.2" stroke="rgb(24,24,24)" stroke-width="1.3" stroke-linecap="round"/>
<line x1="434.5" y1="42.8" x2="444.7" y2="44.0" stroke="rgb(27,27,27)" stroke-width="1.3" stroke-linecap="round"/>
<line x1="378.1" y1="89.8" x2="382.7" y2="89.9" stroke="rgb(23,23,23)" stroke-width="1.3" stroke-linecap="round"/>
<line x1="360.0" y1="66.2" x2="366.4" y2="68.8" stroke="rgb(17,17,17)" stroke-width="1.3" stroke-linecap="round"/>
<line x1="404.9" y1="89.8" x2="415.7" y2="90.2" stroke="rgb(43,43,43)" stroke-width="1.3" stroke-linecap="round"/>
<line x1="343.8" y1="72.1" x2="351.3" y2="74.0" stroke="rgb(31,31,31)" stroke-width="1.3" stroke-linecap="round"/>
<line x1="447.7" y1="33.1" x2="454.8" y2="32.5" stroke="rgb(38,38,38)" stroke-width="1.3" stroke-linecap="round"/>
<line x1="486.4" y1="42.9" x2="491.7" y2="42.9" stroke="rgb(50,50,50)" stroke-width="1.3" stroke-linecap="round"/>
<line x1="485.5" y1="45.1" x2="493.7" y2="46.6" stroke="rgb(24,24,24)" stroke-width="1.3" stroke-linecap="round"/>
<line x1="467.7" y1="60.5" x2="474.9" y2="63.3" stroke="rgb(23,23,23)" stroke-width="1.3" stroke-linecap="round"/>
<line x1="395.4" y1="27.2" x2="403.9" y2="32.7" stroke="rgb(40,40,40)" stroke-width="1.3" stroke-linecap="round"/>
<line x1="392.6" y1="29.7" x2="402.0" y2="34.8" stroke="rgb(21,21,21)" stroke-width="1.3" stroke-linecap="round"/>
<line x1="422.1" y1="30.4" x2="430.9" y2="33.6" stroke="rgb(20,20,20)" stroke-width="1.3" stroke-linecap="round"/>
<line x1="420.3" y1="61.2" x2="429.9" y2="58.1" stroke="rgb(22,22,22)" stroke-width="1.3" stroke-linecap="round"/>
<line x1="376.8" y1="60.5" x2="382.0" y2="62.1" stroke="rgb(23,23,23)" stroke-width="1.3" stroke-linecap="round"/>
<line x1="506.1" y1="67.6" x2="513.7" y2="67.0" stroke="rgb(29,29,29)" stroke-width="1.3" stroke-linecap="round"/>
<line x1="379.0" y1="47.6" x2="384.5" y2="48.3" stroke="rgb(25,25,25)" stroke-width="1.3" stroke-linecap="round"/>
<line x1="353.6" y1="66.4" x2="363.3" y2="62.8" stroke="rgb(39,39,39)" stroke-width="1.3" stroke-linecap="round"/>
<line x1="353.6" y1="41.2" x2="359.0" y2="42.5" stroke="rgb(28,28,28)" stroke-width="1.3" stroke-linecap="round"/>
<line x1="496.3" y1="62.5" x2="505.7" y2="62.2" stroke="rgb(40,40,40)" stroke-width="1.3" stroke-linecap="round"/>
<line x1="373.3" y1="32.2" x2="380.3" y2="31.6" stroke="rgb(38,38,38)" stroke-width="1.3" stroke-linecap="round"/>
<line x1="462.2" y1="69.1" x2="466.0" y2="71.9" stroke="rgb(27,27,27)" stroke-width="1.3" stroke-linecap="round"/>
<line x1="397.9" y1="81.1" x2="402.9" y2="79.4" stroke="rgb(26,26,26)" stroke-width="1.3" stroke-linecap="round"/>
<line x1="411.5" y1="43.8" x2="421.4" y2="40.4" stroke="rgb(37,37,37)" stroke-width="1.3" stroke-linecap="round"/>
<line x1="484.0" y1="61.2" x2="493.1" y2="55.0" stroke="rgb(32,32,32)" stroke-width="1.3" stroke-linecap="round"/>
<line x1="501.8" y1="85.3" x2="506.4" y2="87.6" stroke="rgb(36,36,36)" stroke-width="1.3" stroke-linecap="round"/>
<line x1="377.2" y1="51.7" x2="382.7" y2="48.0" stroke="rgb(45,45,45)" stroke-width="1.3" stroke-linecap="round"/>
<line x1="385.7" y1="76.2" x2="392.6" y2="75.8" stroke="rgb(52,52,52)" stroke-width="1.3" stroke-linecap="round"/>
<line x1="506.1" y1="61.6" x2="511.0" y2="63.0" stroke="rgb(33,33,33)" stroke-width="1.3" stroke-linecap="round"/>
<line x1="501.7" y1="63.1" x2="511.0" y2="63.6" stroke="rgb(23,23,23)" stroke-width="1.3" stroke-linecap="round"/>
<line x1="438.3" y1="58.2" x2="442.8" y2="60.5" stroke="rgb(32,32,32)" stroke-width="1.3" stroke-linecap="round"/>
<line x1="355.1" y1="37.9" x2="363.8" y2="39.0" stroke="rgb(19,19,19)" stroke-width="1.3" stroke-linecap="round"/>
<line x1="361.7" y1="83.0" x2="369.4" y2="80.3" stroke="rgb(34,34,34)" stroke-width="1.3" stroke-linecap="round"/>
<line x1="411.1" y1="63.4" x2="421.6" y2="63.7" stroke="rgb(29,29,29)" stroke-width="1.3" stroke-linecap="round"/>
<line x1="460.1" y1="41.3" x2="468.7" y2="40.1" stroke="rgb(21,21,21)" stroke-width="1.3" stroke-linecap="round"/>
<line x1="394.1" y1="74.1" x2="400.1" y2="70.2" stroke="rgb(41,41,41)" stroke-width="1.3" stroke-linecap="round"/>
<line x1="506.3" y1="30.7" x2="511.7" y2="28.5" stroke="rgb(32,32,32)" stroke-width="1.3" stroke-linecap="round"/>
<line x1="487.2" y1="82.3" x2="492.3" y2="81.4" stroke="rgb(35,35,35)" stroke-width="1.3" stroke-linecap="round"/>
<line x1="458.0" y1="65.1" x2="464.8" y2="70.3" stroke="rgb(15,15,15)" stroke-width="1.3" stroke-linecap="round"/>
<line x1="476.7" y1="45.2" x2="487.0" y2="47.4" stroke="rgb(21,21,21)" stroke-width="1.3" stroke-linecap="round"/>
<line x1="360.9" y1="32.9" x2="366.8" y2="33.3" stroke="rgb(34,34,34)" stroke-width="1.3" stroke-linecap="round"/>
<line x1="460.3" y1="39.0" x2="466.1" y2="40.1" stroke="rgb(26,26,26)" stroke-width="1.3" stroke-linecap="round"/>
<line x1="491.3" y1="80.2" x2="497.3" y2="76.6" stroke="rgb(30,30,30)" stroke-width="1.3" stroke-linecap="round"/>
<line x1="342.5" y1="75.4" x2="348.2" y2="76.4" stroke="rgb(28,28,28)" stroke-width="1.3" stroke-linecap="round"/>
<line x1="432.9" y1="53.4" x2="436.5" y2="50.6" stroke="rgb(34,34,34)" stroke-width="1.3" stroke-linecap="round"/>
<line x1="491.0" y1="60.9" x2="498.3" y2="64.4" stroke="rgb(20,20,20)" stroke-width="1.3" stroke-linecap="round"/>
<line x1="362.9" y1="45.7" x2="371.2" y2="50.6" stroke="rgb(38,38,38)" stroke-width="1.3" stroke-linecap="round"/>
<line x1="490.2" y1="39.4" x2="494.7" y2="37.9" stroke="rgb(43,43,43)" stroke-width="1.3" stroke-linecap="round"/>
<line x1="487.8" y1="52.0" x2="492.8" y2="52.8" stroke="rgb(38,38,38)" stroke-width="1.3" stroke-linecap="round"/>
<line x1="484.6" y1="88.5" x2="493.9" y2="92.6" stroke="rgb(23,23,23)" stroke-width="1.3" stroke-linecap="round"/>
<line x1="463.4" y1="47.3" x2="471.5" y2="52.5" stroke="rgb(48,48,48)" stroke-width="1.3" stroke-linecap="round"/>
<line x1="475.7" y1="43.1" x2="480.1" y2="44.8" stroke="rgb(32,32,32)" stroke-width="1.3" stroke-linecap="round"/>
<line x1="483.6" y1="40.2" x2="490.2" y2="43.2" stroke="rgb(32,32,32)" stroke-width="1.3" stroke-linecap="round"/>
<line x1="473.1" y1="40.6" x2="477.5" y2="37.4" stroke="rgb(29,29,29)" stroke-width="1.3" stroke-linecap="round"/>
<line x1="484.5" y1="87.9" x2="492.6" y2="85.4" stroke="rgb(33,33,33)" stroke-width="1.3" stroke-linecap="round"/>
<line x1="503.8" y1="21.7" x2="507.7" y2="24.0" stroke="rgb(50,50,50)" stroke-width="1.3" stroke-linecap="round"/>
<line x1="371.4" y1="29.3" x2="375.7" y2="28.0" stroke="rgb(30,30,30)" stroke-width="1.3" stroke-linecap="round"/>
<line x1="462.1" y1="17.6" x2="468.6" y2="18.5" stroke="rgb(25,25,25)" stroke-width="1.3" stroke-linecap="round"/>
<line x1="437.0" y1="16.6" x2="440.9" y2="17.6" stroke="rgb(37,37,37)" stroke-width="1.3" stroke-linecap="round"/>
<line x1="430.7" y1="24.9" x2="437.8" y2="27.1" stroke="rgb(26,26,26)" stroke-width="1.3" stroke-linecap="round"/>
<line x1="353.4" y1="24.0" x2="358.9" y2="22.8" stroke="rgb(37,37,37)" stroke-width="1.3" stroke-linecap="round"/>
<line x1="460.7" y1="17.4" x2="466.5" y2="16.0" stroke="rgb(27,27,27)" stroke-width="1.3" stroke-linecap="round"/>
<line x1="390.7" y1="14.3" x2="399.3" y2="13.4" stroke="rgb(34,34,34)" stroke-width="1.3" stroke-linecap="round"/>
<line x1="490.9" y1="23.1" x2="497.4" y2="21.5" stroke="rgb(23,23,23)" stroke-width="1.3" stroke-linecap="round"/>
<line x1="389.2" y1="19.7" x2="396.5" y2="20.4" stroke="rgb(39,39,39)" stroke-width="1.3" stroke-linecap="round"/>
<line x1="414.9" y1="15.8" x2="423.4" y2="15.6" stroke="rgb(50,50,50)" stroke-width="1.3" stroke-linecap="round"/>
<line x1="369.9" y1="13.5" x2="377.1" y2="13.7" stroke="rgb(37,37,37)" stroke-width="1.3" stroke-linecap="round"/>
<line x1="476.9" y1="25.5" x2="481.9" y2="26.6" stroke="rgb(22,22,22)" stroke-width="1.3" stroke-linecap="round"/>
<line x1="345.9" y1="16.4" x2="354.2" y2="16.2" stroke="rgb(28,28,28)" stroke-width="1.3" stroke-linecap="round"/>
<line x1="410.3" y1="23.3" x2="417.2" y2="20.6" stroke="rgb(29,29,29)" stroke-width="1.3" stroke-linecap="round"/>
<line x1="382.2" y1="23.8" x2="388.5" y2="19.4" stroke="rgb(33,33,33)" stroke-width="1.3" stroke-linecap="round"/>
<line x1="359.5" y1="19.7" x2="367.6" y2="16.3" stroke="rgb(32,32,32)" stroke-width="1.3" stroke-linecap="round"/>
<line x1="350.2" y1="16.5" x2="355.9" y2="19.1" stroke="rgb(45,45,45)" stroke-width="1.3" stroke-linecap="round"/>
<line x1="452.1" y1="29.8" x2="460.7" y2="30.8" stroke="rgb(33,33,33)" stroke-width="1.3" stroke-linecap="round"/>
<line x1="443.0" y1="24.9" x2="451.1" y2="25.0" stroke="rgb(31,31,31)" stroke-width="1.3" stroke-linecap="round"/>
<line x1="489.9" y1="25.4" x2="495.2" y2="25.2" stroke="rgb(27,27,27)" stroke-width="1.3" stroke-linecap="round"/>
<line x1="447.1" y1="25.8" x2="454.2" y2="26.0" stroke="rgb(35,35,35)" stroke-width="1.3" stroke-linecap="round"/>
<line x1="354.7" y1="17.1" x2="360.1" y2="15.6" stroke="rgb(34,34,34)" stroke-width="1.3" stroke-linecap="round"/>
<line x1="364.7" y1="16.2" x2="372.1" y2="17.9" stroke="rgb(23,23,23)" stroke-width="1.3" stroke-linecap="round"/>
<line x1="409.2" y1="21.8" x2="414.2" y2="21.2" stroke="rgb(31,31,31)" stroke-width="1.3" stroke-linecap="round"/>
<path d="M339.9,18.6 L343.1,18.4 L349.3,17.2 L354.2,17.8 L357.8,20.8 L362.7,20.8 L367.7,19.0 L371.3,16.6 L374.4,14.7 L378.7,17.2 L383.6,17.2 L387.9,18.4 L392.2,22.7 L395.9,23.3 L399.5,21.5 L402.6,19.6 L405.7,21.5 L408.1,23.3 L411.8,19.6 L415.5,17.8 L420.4,17.2 L423.9,18.4 L428.8,22.1 L432.5,19.6 L437.4,15.9 L442.3,15.3 L446.0,16.6 L449.7,20.2 L452.7,22.7 L457.0,19.6 L460.7,15.9 L464.4,14.7 L468.0,16.6 L471.7,19.6 L476.0,23.3" fill="none" stroke="rgb(147,147,147)" stroke-width="2.76" stroke-linejoin="round" stroke-linecap="round"/>
<path d="M476.0,23.3 L478.9,20.5 L481.9,17.5 L486.9,16.0 L491.9,17.8 L496.9,19.4 L499.3,19.6 L502.9,18.0 L508.9,17.0" fill="none" stroke="rgb(120,120,120)" stroke-width="2.42" stroke-linejoin="round" stroke-linecap="round"/>
<path d="M339.9,21.0 L345.9,21.5 L351.9,20.5 L356.9,22.5" fill="none" stroke="rgb(86,86,86)" stroke-width="2.07" stroke-linejoin="round" stroke-linecap="round"/>
<path d="M393.9,27.5 L398.9,26.0 L403.9,27.0 L408.9,28.5" fill="none" stroke="rgb(86,86,86)" stroke-width="2.07" stroke-linejoin="round" stroke-linecap="round"/>
<path d="M425.9,25.5 L430.9,27.0 L435.9,26.0 L440.9,24.5" fill="none" stroke="rgb(80,80,80)" stroke-width="2.07" stroke-linejoin="round" stroke-linecap="round"/>
<path d="M477.9,27.0 L483.9,29.0 L489.9,30.0 L496.9,29.5 L502.9,28.0 L508.9,28.5" fill="none" stroke="rgb(86,86,86)" stroke-width="2.07" stroke-linejoin="round" stroke-linecap="round"/>
<path d="M453.9,26.0 L459.9,27.5 L465.9,27.0 L470.9,25.5" fill="none" stroke="rgb(75,75,75)" stroke-width="1.95" stroke-linejoin="round" stroke-linecap="round"/>
<path d="M366.4,23.5 L369.4,22.5 L373.4,23.5" fill="none" stroke="rgb(115,115,115)" stroke-width="2.18" stroke-linejoin="round" stroke-linecap="round"/>
<path d="M373.4,15.0 L378.7,19.5 L383.6,21.5 L388.5,22.7" fill="none" stroke="rgb(91,91,91)" stroke-width="1.95" stroke-linejoin="round" stroke-linecap="round"/>
<path d="M477.9,14.0 L482.9,12.5 L488.9,13.5 L494.9,14.5 L501.9,15.0 L508.9,14.0" fill="none" stroke="rgb(81,81,81)" stroke-width="1.84" stroke-linejoin="round" stroke-linecap="round"/>
<path d="M339.9,27.5 L349.9,28.5 L357.9,27.5 L363.9,28.8" fill="none" stroke="rgb(66,66,66)" stroke-width="1.84" stroke-linejoin="round" stroke-linecap="round"/>
<path d="M366.4,29.4 L371.3,27.6 L373.8,26.4" fill="none" stroke="rgb(98,98,98)" stroke-width="2.07" stroke-linejoin="round" stroke-linecap="round"/>
<path d="M361.5,44.5 L362.1,45.6 L365.2,49.3 L367.7,52.4 L371.3,56.0 L375.0,59.1 L378.7,61.6" fill="none" stroke="rgb(124,124,124)" stroke-width="2.42" stroke-linejoin="round" stroke-linecap="round"/>
<path d="M378.7,61.6 L381.1,62.2 L384.8,62.0 L388.5,63.7" fill="none" stroke="rgb(83,83,83)" stroke-width="2.07" stroke-linejoin="round" stroke-linecap="round"/>
<path d="M388.5,63.7 L393.4,66.5 L397.1,67.8 L400.8,66.5 L404.4,64.6 L409.3,64.3 L415.5,65.3 L420.4,66.6 L423.9,64.5 L425.9,63.1 L428.8,60.3 L432.5,59.1" fill="none" stroke="rgb(127,127,127)" stroke-width="2.53" stroke-linejoin="round" stroke-linecap="round"/>
<path d="M339.9,31.5 L341.9,32.5 L346.8,34.3 L351.7,37.0 L355.4,39.0 L357.9,40.8 L361.5,42.5 L362.9,44.5" fill="none" stroke="rgb(100,100,100)" stroke-width="2.18" stroke-linejoin="round" stroke-linecap="round"/>
<path d="M390.9,32.5 L395.9,34.6 L400.8,36.8 L405.7,39.5 L410.6,42.0 L415.5,44.8 L419.9,46.5 L423.9,46.8 L428.8,49.9 L433.7,52.4" fill="none" stroke="rgb(93,93,93)" stroke-width="2.18" stroke-linejoin="round" stroke-linecap="round"/>
<path d="M370.1,32.2 L375.0,33.0 L379.9,33.7 L383.6,35.6 L386.0,38.0 L387.9,39.5 L390.9,40.5" fill="none" stroke="rgb(95,95,95)" stroke-width="2.07" stroke-linejoin="round" stroke-linecap="round"/>
<path d="M447.2,34.3 L453.3,33.7 L459.5,34.9 L464.4,36.8 L468.0,39.2 L471.7,41.7 L475.4,44.8 L480.3,47.5" fill="none" stroke="rgb(96,96,96)" stroke-width="2.07" stroke-linejoin="round" stroke-linecap="round"/>
<path d="M479.1,29.4 L484.0,31.9 L488.9,34.3 L492.6,36.8 L497.5,35.6 L502.4,34.3 L508.9,33.0" fill="none" stroke="rgb(75,75,75)" stroke-width="1.95" stroke-linejoin="round" stroke-linecap="round"/>
<path d="M404.4,31.9 L410.6,29.4 L415.5,28.2 L420.4,28.8 L425.9,29.4 L429.9,30.0 L436.2,28.8 L443.5,27.0 L447.2,26.4" fill="none" stroke="rgb(40,40,40)" stroke-width="1.84" stroke-linejoin="round" stroke-linecap="round"/>
<path d="M490.1,30.7 L495.0,28.8 L499.9,26.4 L504.8,24.5 L508.9,23.3" fill="none" stroke="rgb(75,75,75)" stroke-width="1.95" stroke-linejoin="round" stroke-linecap="round"/>
<path d="M498.9,64.0 L501.2,63.4 L506.1,64.6 L508.9,63.0" fill="none" stroke="rgb(86,86,86)" stroke-width="2.07" stroke-linejoin="round" stroke-linecap="round"/>
<path d="M468.0,54.8 L475.4,53.6 L482.8,56.0 L490.1,54.8 L497.5,57.3 L503.9,56.0" fill="none" stroke="rgb(34,34,34)" stroke-width="1.84" stroke-linejoin="round" stroke-linecap="round"/>
<path d="M341.9,46.2 L346.8,48.7 L354.2,51.7 L357.8,53.6" fill="none" stroke="rgb(34,34,34)" stroke-width="1.84" stroke-linejoin="round" stroke-linecap="round"/>
<path d="M341.9,61.9 L349.3,63.1 L356.6,61.3 L362.7,58.2" fill="none" stroke="rgb(34,34,34)" stroke-width="1.84" stroke-linejoin="round" stroke-linecap="round"/>
<path d="M436.2,81.8 L443.5,84.2 L450.9,85.5" fill="none" stroke="rgb(34,34,34)" stroke-width="1.84" stroke-linejoin="round" stroke-linecap="round"/>
<path d="M453.9,77.0 L458.9,78.5 L463.1,80.9 L467.9,79.5 L472.9,77.5" fill="none" stroke="rgb(40,40,40)" stroke-width="1.84" stroke-linejoin="round" stroke-linecap="round"/>
<path d="M458.9,84.5 L463.1,80.9 L467.4,84.5" fill="none" stroke="rgb(34,34,34)" stroke-width="1.72" stroke-linejoin="round" stroke-linecap="round"/>
<path d="M482.8,81.8 L490.1,78.1 L497.5,75.7 L503.9,73.0" fill="none" stroke="rgb(37,37,37)" stroke-width="1.84" stroke-linejoin="round" stroke-linecap="round"/>
<path d="M346.9,63.0 L356.9,64.0 L363.9,62.0" fill="none" stroke="rgb(27,27,27)" stroke-width="1.72" stroke-linejoin="round" stroke-linecap="round"/>
<path d="M366.9,72.0 L378.9,74.0 L390.9,77.0 L402.9,79.5 L414.9,82.0 L425.9,84.0" fill="none" stroke="rgb(31,31,31)" stroke-width="1.72" stroke-linejoin="round" stroke-linecap="round"/>
<path d="M441.9,52.0 L447.9,50.0 L454.9,54.0 L461.9,53.0" fill="none" stroke="rgb(34,34,34)" stroke-width="1.84" stroke-linejoin="round" stroke-linecap="round"/>
<path d="M427.9,36.0 L433.9,35.5 L439.9,37.0 L445.9,38.0" fill="none" stroke="rgb(31,31,31)" stroke-width="1.72" stroke-linejoin="round" stroke-linecap="round"/>
<path d="M401.9,44.0 L407.9,49.0 L413.9,53.0" fill="none" stroke="rgb(31,31,31)" stroke-width="1.72" stroke-linejoin="round" stroke-linecap="round"/>
<path d="M441.9,68.0 L451.9,66.0 L461.9,70.0 L469.9,68.0" fill="none" stroke="rgb(31,31,31)" stroke-width="1.72" stroke-linejoin="round" stroke-linecap="round"/>
<path d="M346.9,78.0 L356.9,80.0 L366.9,84.0 L376.9,86.0" fill="none" stroke="rgb(27,27,27)" stroke-width="1.72" stroke-linejoin="round" stroke-linecap="round"/>
<path d="M479.9,88.0 L489.9,86.5 L497.9,88.0 L505.9,87.0" fill="none" stroke="rgb(34,34,34)" stroke-width="1.84" stroke-linejoin="round" stroke-linecap="round"/>
<path d="M476.9,62.0 L483.9,66.0 L491.9,70.0 L499.9,72.0" fill="none" stroke="rgb(31,31,31)" stroke-width="1.72" stroke-linejoin="round" stroke-linecap="round"/>
<path d="M389.9,48.0 L397.9,50.0 L403.9,54.0" fill="none" stroke="rgb(27,27,27)" stroke-width="1.72" stroke-linejoin="round" stroke-linecap="round"/>
<path d="M431.9,72.0 L439.9,74.0 L447.9,73.0" fill="none" stroke="rgb(25,25,25)" stroke-width="1.72" stroke-linejoin="round" stroke-linecap="round"/>
</g>
<g filter="url(#hot2)" style="mix-blend-mode:lighten">
<rect x="341.9" y="0" width="165.1" height="89.8" fill="#000"/>
<ellipse cx="392.7" cy="22.9" rx="4.7" ry="2.7" fill="url(#rg)" fill-opacity="1.00"/>
<ellipse cx="408.1" cy="23.0" rx="3.6" ry="2.3" fill="url(#rg)" fill-opacity="0.94"/>
<ellipse cx="452.7" cy="22.5" rx="3.6" ry="2.3" fill="url(#rg)" fill-opacity="0.85"/>
<ellipse cx="499.3" cy="19.6" rx="3.6" ry="2.3" fill="url(#rg)" fill-opacity="0.80"/>
<ellipse cx="374.9" cy="15.0" rx="3.6" ry="2.2" fill="url(#rg)" fill-opacity="0.71"/>
<ellipse cx="464.4" cy="14.9" rx="3.2" ry="2.2" fill="url(#rg)" fill-opacity="0.69"/>
<ellipse cx="437.4" cy="16.0" rx="3.2" ry="2.2" fill="url(#rg)" fill-opacity="0.59"/>
<ellipse cx="367.7" cy="52.4" rx="2.5" ry="3.2" fill="url(#rg)" fill-opacity="0.74"/>
<ellipse cx="404.4" cy="64.4" rx="4.3" ry="2.5" fill="url(#rg)" fill-opacity="0.70"/>
<ellipse cx="356.9" cy="39.9" rx="2.9" ry="2.3" fill="url(#rg)" fill-opacity="0.61"/>
<ellipse cx="380.4" cy="33.4" rx="3.6" ry="2.2" fill="url(#rg)" fill-opacity="0.60"/>
<ellipse cx="472.1" cy="42.1" rx="3.6" ry="2.5" fill="url(#rg)" fill-opacity="0.78"/>
<ellipse cx="493.2" cy="31.3" rx="3.2" ry="2.2" fill="url(#rg)" fill-opacity="0.46"/>
<ellipse cx="385.9" cy="45.6" rx="4.0" ry="2.3" fill="url(#rg)" fill-opacity="0.44"/>
<ellipse cx="463.1" cy="80.9" rx="2.7" ry="2.2" fill="url(#rg)" fill-opacity="0.47"/>
<ellipse cx="386.0" cy="38.0" rx="2.9" ry="2.2" fill="url(#rg)" fill-opacity="0.45"/>
<ellipse cx="366.4" cy="29.2" rx="3.2" ry="2.2" fill="url(#rg)" fill-opacity="0.40"/>
</g>
</g>
<text x="344.4" y="13.4" font-size="13.6" font-weight="bold" fill="#fff">c</text>
<text x="424.09999999999997" y="11.8" font-size="10.9" fill="#fff" text-anchor="middle">2.5 min</text>
<g clip-path="url(#cp3)">
<g filter="url(#hot)">
<rect x="508.7" y="0" width="165.2" height="89.8" fill="rgb(1,1,1)"/>
<line x1="614.2" y1="27.6" x2="619.5" y2="26.0" stroke="rgb(31,31,31)" stroke-width="1.3" stroke-linecap="round"/>
<line x1="620.4" y1="83.1" x2="626.3" y2="79.5" stroke="rgb(16,16,16)" stroke-width="1.3" stroke-linecap="round"/>
<line x1="544.8" y1="58.3" x2="549.1" y2="55.2" stroke="rgb(32,32,32)" stroke-width="1.3" stroke-linecap="round"/>
<line x1="598.6" y1="40.1" x2="608.2" y2="41.3" stroke="rgb(18,18,18)" stroke-width="1.3" stroke-linecap="round"/>
<line x1="641.7" y1="70.7" x2="646.6" y2="69.6" stroke="rgb(38,38,38)" stroke-width="1.3" stroke-linecap="round"/>
<line x1="564.2" y1="31.9" x2="572.8" y2="26.9" stroke="rgb(27,27,27)" stroke-width="1.3" stroke-linecap="round"/>
<line x1="641.9" y1="72.7" x2="652.7" y2="73.2" stroke="rgb(27,27,27)" stroke-width="1.3" stroke-linecap="round"/>
<line x1="599.8" y1="79.1" x2="609.7" y2="80.7" stroke="rgb(27,27,27)" stroke-width="1.3" stroke-linecap="round"/>
<line x1="625.0" y1="28.9" x2="630.6" y2="26.8" stroke="rgb(14,14,14)" stroke-width="1.3" stroke-linecap="round"/>
<line x1="547.1" y1="32.5" x2="555.2" y2="30.0" stroke="rgb(23,23,23)" stroke-width="1.3" stroke-linecap="round"/>
<line x1="569.8" y1="39.4" x2="579.8" y2="36.2" stroke="rgb(22,22,22)" stroke-width="1.3" stroke-linecap="round"/>
<line x1="609.2" y1="37.0" x2="614.1" y2="38.5" stroke="rgb(29,29,29)" stroke-width="1.3" stroke-linecap="round"/>
<line x1="672.0" y1="67.0" x2="680.7" y2="67.6" stroke="rgb(39,39,39)" stroke-width="1.3" stroke-linecap="round"/>
<line x1="636.7" y1="40.7" x2="641.8" y2="37.0" stroke="rgb(19,19,19)" stroke-width="1.3" stroke-linecap="round"/>
<line x1="543.5" y1="86.3" x2="549.0" y2="89.3" stroke="rgb(26,26,26)" stroke-width="1.3" stroke-linecap="round"/>
<line x1="574.0" y1="84.5" x2="579.8" y2="84.2" stroke="rgb(24,24,24)" stroke-width="1.3" stroke-linecap="round"/>
<line x1="601.3" y1="42.8" x2="611.5" y2="44.0" stroke="rgb(20,20,20)" stroke-width="1.3" stroke-linecap="round"/>
<line x1="544.9" y1="89.8" x2="549.5" y2="89.9" stroke="rgb(14,14,14)" stroke-width="1.3" stroke-linecap="round"/>
<line x1="526.8" y1="66.2" x2="533.2" y2="68.8" stroke="rgb(15,15,15)" stroke-width="1.3" stroke-linecap="round"/>
<line x1="571.7" y1="89.8" x2="582.5" y2="90.2" stroke="rgb(30,30,30)" stroke-width="1.3" stroke-linecap="round"/>
<line x1="510.6" y1="72.1" x2="518.1" y2="74.0" stroke="rgb(23,23,23)" stroke-width="1.3" stroke-linecap="round"/>
<line x1="614.5" y1="33.1" x2="621.6" y2="32.5" stroke="rgb(42,42,42)" stroke-width="1.3" stroke-linecap="round"/>
<line x1="653.2" y1="42.9" x2="658.5" y2="42.9" stroke="rgb(28,28,28)" stroke-width="1.3" stroke-linecap="round"/>
<line x1="652.3" y1="45.1" x2="660.5" y2="46.6" stroke="rgb(24,24,24)" stroke-width="1.3" stroke-linecap="round"/>
<line x1="634.5" y1="60.5" x2="641.7" y2="63.3" stroke="rgb(17,17,17)" stroke-width="1.3" stroke-linecap="round"/>
<line x1="562.2" y1="27.2" x2="570.7" y2="32.7" stroke="rgb(49,49,49)" stroke-width="1.3" stroke-linecap="round"/>
<line x1="559.4" y1="29.7" x2="568.8" y2="34.8" stroke="rgb(21,21,21)" stroke-width="1.3" stroke-linecap="round"/>
<line x1="588.9" y1="30.4" x2="597.7" y2="33.6" stroke="rgb(15,15,15)" stroke-width="1.3" stroke-linecap="round"/>
<line x1="587.1" y1="61.2" x2="596.7" y2="58.1" stroke="rgb(26,26,26)" stroke-width="1.3" stroke-linecap="round"/>
<line x1="543.6" y1="60.5" x2="548.8" y2="62.1" stroke="rgb(18,18,18)" stroke-width="1.3" stroke-linecap="round"/>
<line x1="672.9" y1="67.6" x2="680.5" y2="67.0" stroke="rgb(14,14,14)" stroke-width="1.3" stroke-linecap="round"/>
<line x1="545.8" y1="47.6" x2="551.3" y2="48.3" stroke="rgb(19,19,19)" stroke-width="1.3" stroke-linecap="round"/>
<line x1="520.4" y1="66.4" x2="530.1" y2="62.8" stroke="rgb(37,37,37)" stroke-width="1.3" stroke-linecap="round"/>
<line x1="520.4" y1="41.2" x2="525.8" y2="42.5" stroke="rgb(19,19,19)" stroke-width="1.3" stroke-linecap="round"/>
<line x1="663.1" y1="62.5" x2="672.5" y2="62.2" stroke="rgb(26,26,26)" stroke-width="1.3" stroke-linecap="round"/>
<line x1="540.1" y1="32.2" x2="547.1" y2="31.6" stroke="rgb(29,29,29)" stroke-width="1.3" stroke-linecap="round"/>
<line x1="629.0" y1="69.1" x2="632.8" y2="71.9" stroke="rgb(29,29,29)" stroke-width="1.3" stroke-linecap="round"/>
<line x1="564.7" y1="81.1" x2="569.7" y2="79.4" stroke="rgb(21,21,21)" stroke-width="1.3" stroke-linecap="round"/>
<line x1="578.3" y1="43.8" x2="588.2" y2="40.4" stroke="rgb(24,24,24)" stroke-width="1.3" stroke-linecap="round"/>
<line x1="650.8" y1="61.2" x2="659.9" y2="55.0" stroke="rgb(34,34,34)" stroke-width="1.3" stroke-linecap="round"/>
<line x1="668.6" y1="85.3" x2="673.2" y2="87.6" stroke="rgb(31,31,31)" stroke-width="1.3" stroke-linecap="round"/>
<line x1="544.0" y1="51.7" x2="549.5" y2="48.0" stroke="rgb(28,28,28)" stroke-width="1.3" stroke-linecap="round"/>
<line x1="552.5" y1="76.2" x2="559.4" y2="75.8" stroke="rgb(35,35,35)" stroke-width="1.3" stroke-linecap="round"/>
<line x1="672.9" y1="61.6" x2="677.8" y2="63.0" stroke="rgb(27,27,27)" stroke-width="1.3" stroke-linecap="round"/>
<line x1="668.5" y1="63.1" x2="677.8" y2="63.6" stroke="rgb(18,18,18)" stroke-width="1.3" stroke-linecap="round"/>
<line x1="605.1" y1="58.2" x2="609.6" y2="60.5" stroke="rgb(38,38,38)" stroke-width="1.3" stroke-linecap="round"/>
<line x1="521.9" y1="37.9" x2="530.6" y2="39.0" stroke="rgb(24,24,24)" stroke-width="1.3" stroke-linecap="round"/>
<line x1="528.5" y1="83.0" x2="536.2" y2="80.3" stroke="rgb(28,28,28)" stroke-width="1.3" stroke-linecap="round"/>
<line x1="577.9" y1="63.4" x2="588.4" y2="63.7" stroke="rgb(18,18,18)" stroke-width="1.3" stroke-linecap="round"/>
<line x1="626.9" y1="41.3" x2="635.5" y2="40.1" stroke="rgb(23,23,23)" stroke-width="1.3" stroke-linecap="round"/>
<line x1="560.9" y1="74.1" x2="566.9" y2="70.2" stroke="rgb(35,35,35)" stroke-width="1.3" stroke-linecap="round"/>
<line x1="673.1" y1="30.7" x2="678.5" y2="28.5" stroke="rgb(31,31,31)" stroke-width="1.3" stroke-linecap="round"/>
<line x1="654.0" y1="82.3" x2="659.1" y2="81.4" stroke="rgb(38,38,38)" stroke-width="1.3" stroke-linecap="round"/>
<line x1="624.8" y1="65.1" x2="631.6" y2="70.3" stroke="rgb(15,15,15)" stroke-width="1.3" stroke-linecap="round"/>
<line x1="643.5" y1="45.2" x2="653.8" y2="47.4" stroke="rgb(19,19,19)" stroke-width="1.3" stroke-linecap="round"/>
<line x1="527.7" y1="32.9" x2="533.6" y2="33.3" stroke="rgb(31,31,31)" stroke-width="1.3" stroke-linecap="round"/>
<line x1="627.1" y1="39.0" x2="632.9" y2="40.1" stroke="rgb(30,30,30)" stroke-width="1.3" stroke-linecap="round"/>
<line x1="658.1" y1="80.2" x2="664.1" y2="76.6" stroke="rgb(26,26,26)" stroke-width="1.3" stroke-linecap="round"/>
<line x1="509.3" y1="75.4" x2="515.0" y2="76.4" stroke="rgb(32,32,32)" stroke-width="1.3" stroke-linecap="round"/>
<line x1="599.7" y1="53.4" x2="603.3" y2="50.6" stroke="rgb(28,28,28)" stroke-width="1.3" stroke-linecap="round"/>
<line x1="657.8" y1="60.9" x2="665.1" y2="64.4" stroke="rgb(23,23,23)" stroke-width="1.3" stroke-linecap="round"/>
<line x1="529.7" y1="45.7" x2="538.0" y2="50.6" stroke="rgb(39,39,39)" stroke-width="1.3" stroke-linecap="round"/>
<line x1="657.0" y1="39.4" x2="661.5" y2="37.9" stroke="rgb(34,34,34)" stroke-width="1.3" stroke-linecap="round"/>
<line x1="654.6" y1="52.0" x2="659.6" y2="52.8" stroke="rgb(38,38,38)" stroke-width="1.3" stroke-linecap="round"/>
<line x1="651.4" y1="88.5" x2="660.7" y2="92.6" stroke="rgb(17,17,17)" stroke-width="1.3" stroke-linecap="round"/>
<line x1="630.2" y1="47.3" x2="638.3" y2="52.5" stroke="rgb(32,32,32)" stroke-width="1.3" stroke-linecap="round"/>
<line x1="642.5" y1="43.1" x2="646.9" y2="44.8" stroke="rgb(34,34,34)" stroke-width="1.3" stroke-linecap="round"/>
<line x1="650.4" y1="40.2" x2="657.0" y2="43.2" stroke="rgb(18,18,18)" stroke-width="1.3" stroke-linecap="round"/>
<line x1="639.9" y1="40.6" x2="644.3" y2="37.4" stroke="rgb(24,24,24)" stroke-width="1.3" stroke-linecap="round"/>
<line x1="651.3" y1="87.9" x2="659.4" y2="85.4" stroke="rgb(28,28,28)" stroke-width="1.3" stroke-linecap="round"/>
<line x1="670.6" y1="21.7" x2="674.5" y2="24.0" stroke="rgb(38,38,38)" stroke-width="1.3" stroke-linecap="round"/>
<line x1="538.2" y1="29.3" x2="542.5" y2="28.0" stroke="rgb(30,30,30)" stroke-width="1.3" stroke-linecap="round"/>
<line x1="628.9" y1="17.6" x2="635.4" y2="18.5" stroke="rgb(35,35,35)" stroke-width="1.3" stroke-linecap="round"/>
<line x1="603.8" y1="16.6" x2="607.7" y2="17.6" stroke="rgb(36,36,36)" stroke-width="1.3" stroke-linecap="round"/>
<line x1="597.5" y1="24.9" x2="604.6" y2="27.1" stroke="rgb(24,24,24)" stroke-width="1.3" stroke-linecap="round"/>
<line x1="520.2" y1="24.0" x2="525.7" y2="22.8" stroke="rgb(46,46,46)" stroke-width="1.3" stroke-linecap="round"/>
<line x1="627.5" y1="17.4" x2="633.3" y2="16.0" stroke="rgb(28,28,28)" stroke-width="1.3" stroke-linecap="round"/>
<line x1="557.5" y1="14.3" x2="566.1" y2="13.4" stroke="rgb(35,35,35)" stroke-width="1.3" stroke-linecap="round"/>
<line x1="657.7" y1="23.1" x2="664.2" y2="21.5" stroke="rgb(24,24,24)" stroke-width="1.3" stroke-linecap="round"/>
<line x1="556.0" y1="19.7" x2="563.3" y2="20.4" stroke="rgb(37,37,37)" stroke-width="1.3" stroke-linecap="round"/>
<line x1="581.7" y1="15.8" x2="590.2" y2="15.6" stroke="rgb(48,48,48)" stroke-width="1.3" stroke-linecap="round"/>
<line x1="536.7" y1="13.5" x2="543.9" y2="13.7" stroke="rgb(32,32,32)" stroke-width="1.3" stroke-linecap="round"/>
<line x1="643.7" y1="25.5" x2="648.7" y2="26.6" stroke="rgb(25,25,25)" stroke-width="1.3" stroke-linecap="round"/>
<line x1="512.7" y1="16.4" x2="521.0" y2="16.2" stroke="rgb(18,18,18)" stroke-width="1.3" stroke-linecap="round"/>
<line x1="577.1" y1="23.3" x2="584.0" y2="20.6" stroke="rgb(28,28,28)" stroke-width="1.3" stroke-linecap="round"/>
<line x1="549.0" y1="23.8" x2="555.3" y2="19.4" stroke="rgb(35,35,35)" stroke-width="1.3" stroke-linecap="round"/>
<line x1="526.3" y1="19.7" x2="534.4" y2="16.3" stroke="rgb(36,36,36)" stroke-width="1.3" stroke-linecap="round"/>
<line x1="517.0" y1="16.5" x2="522.7" y2="19.1" stroke="rgb(47,47,47)" stroke-width="1.3" stroke-linecap="round"/>
<line x1="618.9" y1="29.8" x2="627.5" y2="30.8" stroke="rgb(30,30,30)" stroke-width="1.3" stroke-linecap="round"/>
<line x1="609.8" y1="24.9" x2="617.9" y2="25.0" stroke="rgb(34,34,34)" stroke-width="1.3" stroke-linecap="round"/>
<line x1="656.7" y1="25.4" x2="662.0" y2="25.2" stroke="rgb(35,35,35)" stroke-width="1.3" stroke-linecap="round"/>
<line x1="613.9" y1="25.8" x2="621.0" y2="26.0" stroke="rgb(28,28,28)" stroke-width="1.3" stroke-linecap="round"/>
<line x1="521.5" y1="17.1" x2="526.9" y2="15.6" stroke="rgb(40,40,40)" stroke-width="1.3" stroke-linecap="round"/>
<line x1="531.5" y1="16.2" x2="538.9" y2="17.9" stroke="rgb(25,25,25)" stroke-width="1.3" stroke-linecap="round"/>
<line x1="576.0" y1="21.8" x2="581.0" y2="21.2" stroke="rgb(36,36,36)" stroke-width="1.3" stroke-linecap="round"/>
<path d="M506.7,18.6 L509.9,18.4 L516.1,17.2 L521.0,17.8 L524.6,20.8 L529.5,20.8 L534.5,19.0 L538.1,16.6 L541.2,14.7 L545.5,17.2 L550.4,17.2 L554.7,18.4 L559.0,22.7 L562.7,23.3 L566.3,21.5 L569.4,19.6 L572.5,21.5 L574.9,23.3 L578.6,19.6 L582.3,17.8 L587.2,17.2 L590.7,18.4 L595.6,22.1 L599.3,19.6 L604.2,15.9 L609.1,15.3 L612.8,16.6 L616.5,20.2 L619.5,22.7 L623.8,19.6 L627.5,15.9 L631.2,14.7 L634.8,16.6 L638.5,19.6 L642.8,23.3" fill="none" stroke="rgb(139,139,139)" stroke-width="2.76" stroke-linejoin="round" stroke-linecap="round"/>
<path d="M642.8,23.3 L645.7,20.5 L648.7,17.5 L653.7,16.0 L658.7,17.8 L663.7,19.4 L666.1,19.6 L669.7,18.0 L675.7,17.0" fill="none" stroke="rgb(115,115,115)" stroke-width="2.42" stroke-linejoin="round" stroke-linecap="round"/>
<path d="M506.7,21.0 L512.7,21.5 L518.7,20.5 L523.7,22.5" fill="none" stroke="rgb(82,82,82)" stroke-width="2.07" stroke-linejoin="round" stroke-linecap="round"/>
<path d="M560.7,27.5 L565.7,26.0 L570.7,27.0 L575.7,28.5" fill="none" stroke="rgb(82,82,82)" stroke-width="2.07" stroke-linejoin="round" stroke-linecap="round"/>
<path d="M592.7,25.5 L597.7,27.0 L602.7,26.0 L607.7,24.5" fill="none" stroke="rgb(78,78,78)" stroke-width="2.07" stroke-linejoin="round" stroke-linecap="round"/>
<path d="M644.7,27.0 L650.7,29.0 L656.7,30.0 L663.7,29.5 L669.7,28.0 L675.7,28.5" fill="none" stroke="rgb(83,83,83)" stroke-width="2.07" stroke-linejoin="round" stroke-linecap="round"/>
<path d="M620.7,26.0 L626.7,27.5 L632.7,27.0 L637.7,25.5" fill="none" stroke="rgb(72,72,72)" stroke-width="1.95" stroke-linejoin="round" stroke-linecap="round"/>
<path d="M533.2,23.5 L536.2,22.5 L540.2,23.5" fill="none" stroke="rgb(110,110,110)" stroke-width="2.18" stroke-linejoin="round" stroke-linecap="round"/>
<path d="M540.2,15.0 L545.5,19.5 L550.4,21.5 L555.3,22.7" fill="none" stroke="rgb(88,88,88)" stroke-width="1.95" stroke-linejoin="round" stroke-linecap="round"/>
<path d="M644.7,14.0 L649.7,12.5 L655.7,13.5 L661.7,14.5 L668.7,15.0 L675.7,14.0" fill="none" stroke="rgb(79,79,79)" stroke-width="1.84" stroke-linejoin="round" stroke-linecap="round"/>
<path d="M506.7,27.5 L516.7,28.5 L524.7,27.5 L530.7,28.8" fill="none" stroke="rgb(66,66,66)" stroke-width="1.84" stroke-linejoin="round" stroke-linecap="round"/>
<path d="M533.2,29.4 L538.1,27.6 L540.6,26.4" fill="none" stroke="rgb(100,100,100)" stroke-width="2.07" stroke-linejoin="round" stroke-linecap="round"/>
<path d="M528.3,44.5 L528.9,45.6 L532.0,49.3 L534.5,52.4 L538.1,56.0 L541.8,59.1 L545.5,61.6" fill="none" stroke="rgb(48,48,48)" stroke-width="2.42" stroke-linejoin="round" stroke-linecap="round"/>
<path d="M545.5,61.6 L547.9,62.2 L551.6,62.0 L555.3,63.7" fill="none" stroke="rgb(32,32,32)" stroke-width="2.07" stroke-linejoin="round" stroke-linecap="round"/>
<path d="M555.3,63.7 L560.2,66.5 L563.9,67.8 L567.6,66.5 L571.2,64.6 L576.1,64.3 L582.3,65.3 L587.2,66.6 L590.7,64.5 L592.7,63.1 L595.6,60.3 L599.3,59.1" fill="none" stroke="rgb(51,51,51)" stroke-width="2.53" stroke-linejoin="round" stroke-linecap="round"/>
<path d="M506.7,31.5 L508.7,32.5 L513.6,34.3 L518.5,37.0 L522.2,39.0 L524.7,40.8 L528.3,42.5 L529.7,44.5" fill="none" stroke="rgb(55,55,55)" stroke-width="2.18" stroke-linejoin="round" stroke-linecap="round"/>
<path d="M557.7,32.5 L562.7,34.6 L567.6,36.8 L572.5,39.5 L577.4,42.0 L582.3,44.8 L586.7,46.5 L590.7,46.8 L595.6,49.9 L600.5,52.4" fill="none" stroke="rgb(50,50,50)" stroke-width="2.18" stroke-linejoin="round" stroke-linecap="round"/>
<path d="M536.9,32.2 L541.8,33.0 L546.7,33.7 L550.4,35.6 L552.8,38.0 L554.7,39.5 L557.7,40.5" fill="none" stroke="rgb(52,52,52)" stroke-width="2.07" stroke-linejoin="round" stroke-linecap="round"/>
<path d="M614.0,34.3 L620.1,33.7 L626.3,34.9 L631.2,36.8 L634.8,39.2 L638.5,41.7 L642.2,44.8 L647.1,47.5" fill="none" stroke="rgb(52,52,52)" stroke-width="2.07" stroke-linejoin="round" stroke-linecap="round"/>
<path d="M645.9,29.4 L650.8,31.9 L655.7,34.3 L659.4,36.8 L664.3,35.6 L669.2,34.3 L675.7,33.0" fill="none" stroke="rgb(41,41,41)" stroke-width="1.95" stroke-linejoin="round" stroke-linecap="round"/>
<path d="M571.2,31.9 L577.4,29.4 L582.3,28.2 L587.2,28.8 L592.7,29.4 L596.7,30.0 L603.0,28.8 L610.3,27.0 L614.0,26.4" fill="none" stroke="rgb(22,22,22)" stroke-width="1.84" stroke-linejoin="round" stroke-linecap="round"/>
<path d="M656.9,30.7 L661.8,28.8 L666.7,26.4 L671.6,24.5 L675.7,23.3" fill="none" stroke="rgb(41,41,41)" stroke-width="1.95" stroke-linejoin="round" stroke-linecap="round"/>
<path d="M665.7,64.0 L668.0,63.4 L672.9,64.6 L675.7,63.0" fill="none" stroke="rgb(35,35,35)" stroke-width="2.07" stroke-linejoin="round" stroke-linecap="round"/>
<path d="M634.8,54.8 L642.2,53.6 L649.6,56.0 L656.9,54.8 L664.3,57.3 L670.7,56.0" fill="none" stroke="rgb(14,14,14)" stroke-width="1.84" stroke-linejoin="round" stroke-linecap="round"/>
<path d="M508.7,46.2 L513.6,48.7 L521.0,51.7 L524.6,53.6" fill="none" stroke="rgb(13,13,13)" stroke-width="1.84" stroke-linejoin="round" stroke-linecap="round"/>
<path d="M508.7,61.9 L516.1,63.1 L523.4,61.3 L529.5,58.2" fill="none" stroke="rgb(14,14,14)" stroke-width="1.84" stroke-linejoin="round" stroke-linecap="round"/>
<path d="M603.0,81.8 L610.3,84.2 L617.7,85.5" fill="none" stroke="rgb(14,14,14)" stroke-width="1.84" stroke-linejoin="round" stroke-linecap="round"/>
<path d="M620.7,77.0 L625.7,78.5 L629.9,80.9 L634.7,79.5 L639.7,77.5" fill="none" stroke="rgb(16,16,16)" stroke-width="1.84" stroke-linejoin="round" stroke-linecap="round"/>
<path d="M625.7,84.5 L629.9,80.9 L634.2,84.5" fill="none" stroke="rgb(14,14,14)" stroke-width="1.72" stroke-linejoin="round" stroke-linecap="round"/>
<path d="M649.6,81.8 L656.9,78.1 L664.3,75.7 L670.7,73.0" fill="none" stroke="rgb(15,15,15)" stroke-width="1.84" stroke-linejoin="round" stroke-linecap="round"/>
<path d="M513.7,63.0 L523.7,64.0 L530.7,62.0" fill="none" stroke="rgb(11,11,11)" stroke-width="1.72" stroke-linejoin="round" stroke-linecap="round"/>
<path d="M533.7,72.0 L545.7,74.0 L557.7,77.0 L569.7,79.5 L581.7,82.0 L592.7,84.0" fill="none" stroke="rgb(12,12,12)" stroke-width="1.72" stroke-linejoin="round" stroke-linecap="round"/>
<path d="M608.7,52.0 L614.7,50.0 L621.7,54.0 L628.7,53.0" fill="none" stroke="rgb(13,13,13)" stroke-width="1.84" stroke-linejoin="round" stroke-linecap="round"/>
<path d="M594.7,36.0 L600.7,35.5 L606.7,37.0 L612.7,38.0" fill="none" stroke="rgb(16,16,16)" stroke-width="1.72" stroke-linejoin="round" stroke-linecap="round"/>
<path d="M568.7,44.0 L574.7,49.0 L580.7,53.0" fill="none" stroke="rgb(12,12,12)" stroke-width="1.72" stroke-linejoin="round" stroke-linecap="round"/>
<path d="M608.7,68.0 L618.7,66.0 L628.7,70.0 L636.7,68.0" fill="none" stroke="rgb(12,12,12)" stroke-width="1.72" stroke-linejoin="round" stroke-linecap="round"/>
<path d="M513.7,78.0 L523.7,80.0 L533.7,84.0 L543.7,86.0" fill="none" stroke="rgb(11,11,11)" stroke-width="1.72" stroke-linejoin="round" stroke-linecap="round"/>
<path d="M646.7,88.0 L656.7,86.5 L664.7,88.0 L672.7,87.0" fill="none" stroke="rgb(13,13,13)" stroke-width="1.84" stroke-linejoin="round" stroke-linecap="round"/>
<path d="M643.7,62.0 L650.7,66.0 L658.7,70.0 L666.7,72.0" fill="none" stroke="rgb(12,12,12)" stroke-width="1.72" stroke-linejoin="round" stroke-linecap="round"/>
<path d="M556.7,48.0 L564.7,50.0 L570.7,54.0" fill="none" stroke="rgb(11,11,11)" stroke-width="1.72" stroke-linejoin="round" stroke-linecap="round"/>
</g>
<g filter="url(#hot2)" style="mix-blend-mode:lighten">
<rect x="508.7" y="0" width="165.2" height="89.8" fill="#000"/>
<ellipse cx="559.5" cy="22.9" rx="4.7" ry="2.7" fill="url(#rg)" fill-opacity="0.95"/>
<ellipse cx="574.9" cy="23.0" rx="3.6" ry="2.3" fill="url(#rg)" fill-opacity="0.88"/>
<ellipse cx="619.5" cy="22.5" rx="3.6" ry="2.3" fill="url(#rg)" fill-opacity="0.81"/>
<ellipse cx="666.1" cy="19.6" rx="3.6" ry="2.3" fill="url(#rg)" fill-opacity="0.76"/>
<ellipse cx="541.7" cy="15.0" rx="3.6" ry="2.2" fill="url(#rg)" fill-opacity="0.67"/>
<ellipse cx="631.2" cy="14.9" rx="3.2" ry="2.2" fill="url(#rg)" fill-opacity="0.66"/>
<ellipse cx="604.2" cy="16.0" rx="3.2" ry="2.2" fill="url(#rg)" fill-opacity="0.56"/>
<ellipse cx="534.5" cy="52.4" rx="2.5" ry="3.2" fill="url(#rg)" fill-opacity="0.29"/>
<ellipse cx="571.2" cy="64.4" rx="4.3" ry="2.5" fill="url(#rg)" fill-opacity="0.28"/>
<ellipse cx="523.7" cy="39.9" rx="2.9" ry="2.3" fill="url(#rg)" fill-opacity="0.33"/>
<ellipse cx="547.2" cy="33.4" rx="3.6" ry="2.2" fill="url(#rg)" fill-opacity="0.33"/>
<ellipse cx="638.9" cy="42.1" rx="3.6" ry="2.5" fill="url(#rg)" fill-opacity="0.42"/>
<ellipse cx="660.0" cy="31.3" rx="3.2" ry="2.2" fill="url(#rg)" fill-opacity="0.24"/>
<ellipse cx="552.7" cy="45.6" rx="4.0" ry="2.3" fill="url(#rg)" fill-opacity="0.18"/>
<ellipse cx="629.9" cy="80.9" rx="2.7" ry="2.2" fill="url(#rg)" fill-opacity="0.20"/>
<ellipse cx="552.8" cy="38.0" rx="2.9" ry="2.2" fill="url(#rg)" fill-opacity="0.25"/>
<ellipse cx="533.2" cy="29.2" rx="3.2" ry="2.2" fill="url(#rg)" fill-opacity="0.22"/>
</g>
</g>
<text x="511.2" y="13.4" font-size="13.6" font-weight="bold" fill="#fff">d</text>
<text x="590.9" y="11.8" font-size="10.9" fill="#fff" text-anchor="middle">4 min</text>
<g clip-path="url(#cp4)">
<g filter="url(#hot)">
<rect x="8" y="92.4" width="165.6" height="90.4" fill="rgb(1,1,1)"/>
<line x1="113.5" y1="120.0" x2="118.8" y2="118.4" stroke="rgb(43,43,43)" stroke-width="1.3" stroke-linecap="round"/>
<line x1="119.7" y1="175.5" x2="125.6" y2="171.9" stroke="rgb(17,17,17)" stroke-width="1.3" stroke-linecap="round"/>
<line x1="44.1" y1="150.7" x2="48.4" y2="147.6" stroke="rgb(41,41,41)" stroke-width="1.3" stroke-linecap="round"/>
<line x1="97.9" y1="132.5" x2="107.5" y2="133.7" stroke="rgb(24,24,24)" stroke-width="1.3" stroke-linecap="round"/>
<line x1="141.0" y1="163.1" x2="145.9" y2="162.0" stroke="rgb(39,39,39)" stroke-width="1.3" stroke-linecap="round"/>
<line x1="63.5" y1="124.3" x2="72.1" y2="119.3" stroke="rgb(35,35,35)" stroke-width="1.3" stroke-linecap="round"/>
<line x1="141.2" y1="165.1" x2="152.0" y2="165.6" stroke="rgb(23,23,23)" stroke-width="1.3" stroke-linecap="round"/>
<line x1="99.1" y1="171.5" x2="109.0" y2="173.1" stroke="rgb(27,27,27)" stroke-width="1.3" stroke-linecap="round"/>
<line x1="124.3" y1="121.3" x2="129.9" y2="119.2" stroke="rgb(19,19,19)" stroke-width="1.3" stroke-linecap="round"/>
<line x1="46.4" y1="124.9" x2="54.5" y2="122.4" stroke="rgb(30,30,30)" stroke-width="1.3" stroke-linecap="round"/>
<line x1="69.1" y1="131.8" x2="79.1" y2="128.6" stroke="rgb(28,28,28)" stroke-width="1.3" stroke-linecap="round"/>
<line x1="108.5" y1="129.4" x2="113.4" y2="130.9" stroke="rgb(34,34,34)" stroke-width="1.3" stroke-linecap="round"/>
<line x1="171.3" y1="159.4" x2="180.0" y2="160.0" stroke="rgb(29,29,29)" stroke-width="1.3" stroke-linecap="round"/>
<line x1="136.0" y1="133.1" x2="141.1" y2="129.4" stroke="rgb(21,21,21)" stroke-width="1.3" stroke-linecap="round"/>
<line x1="42.8" y1="178.7" x2="48.3" y2="181.7" stroke="rgb(26,26,26)" stroke-width="1.3" stroke-linecap="round"/>
<line x1="73.3" y1="176.9" x2="79.1" y2="176.6" stroke="rgb(28,28,28)" stroke-width="1.3" stroke-linecap="round"/>
<line x1="100.6" y1="135.2" x2="110.8" y2="136.4" stroke="rgb(26,26,26)" stroke-width="1.3" stroke-linecap="round"/>
<line x1="44.2" y1="182.2" x2="48.8" y2="182.3" stroke="rgb(20,20,20)" stroke-width="1.3" stroke-linecap="round"/>
<line x1="26.1" y1="158.6" x2="32.5" y2="161.2" stroke="rgb(19,19,19)" stroke-width="1.3" stroke-linecap="round"/>
<line x1="71.0" y1="182.2" x2="81.8" y2="182.6" stroke="rgb(41,41,41)" stroke-width="1.3" stroke-linecap="round"/>
<line x1="9.9" y1="164.5" x2="17.4" y2="166.4" stroke="rgb(24,24,24)" stroke-width="1.3" stroke-linecap="round"/>
<line x1="113.8" y1="125.5" x2="120.9" y2="124.9" stroke="rgb(34,34,34)" stroke-width="1.3" stroke-linecap="round"/>
<line x1="152.5" y1="135.3" x2="157.8" y2="135.3" stroke="rgb(38,38,38)" stroke-width="1.3" stroke-linecap="round"/>
<line x1="151.6" y1="137.5" x2="159.8" y2="139.0" stroke="rgb(20,20,20)" stroke-width="1.3" stroke-linecap="round"/>
<line x1="133.8" y1="152.9" x2="141.0" y2="155.7" stroke="rgb(15,15,15)" stroke-width="1.3" stroke-linecap="round"/>
<line x1="61.5" y1="119.6" x2="70.0" y2="125.1" stroke="rgb(51,51,51)" stroke-width="1.3" stroke-linecap="round"/>
<line x1="58.7" y1="122.1" x2="68.1" y2="127.2" stroke="rgb(23,23,23)" stroke-width="1.3" stroke-linecap="round"/>
<line x1="88.2" y1="122.8" x2="97.0" y2="126.0" stroke="rgb(24,24,24)" stroke-width="1.3" stroke-linecap="round"/>
<line x1="86.4" y1="153.6" x2="96.0" y2="150.5" stroke="rgb(34,34,34)" stroke-width="1.3" stroke-linecap="round"/>
<line x1="42.9" y1="152.9" x2="48.1" y2="154.5" stroke="rgb(25,25,25)" stroke-width="1.3" stroke-linecap="round"/>
<line x1="172.2" y1="160.0" x2="179.8" y2="159.4" stroke="rgb(20,20,20)" stroke-width="1.3" stroke-linecap="round"/>
<line x1="45.1" y1="140.0" x2="50.6" y2="140.7" stroke="rgb(23,23,23)" stroke-width="1.3" stroke-linecap="round"/>
<line x1="19.7" y1="158.8" x2="29.4" y2="155.2" stroke="rgb(36,36,36)" stroke-width="1.3" stroke-linecap="round"/>
<line x1="19.7" y1="133.6" x2="25.1" y2="134.9" stroke="rgb(24,24,24)" stroke-width="1.3" stroke-linecap="round"/>
<line x1="162.4" y1="154.9" x2="171.8" y2="154.6" stroke="rgb(27,27,27)" stroke-width="1.3" stroke-linecap="round"/>
<line x1="39.4" y1="124.6" x2="46.4" y2="124.0" stroke="rgb(29,29,29)" stroke-width="1.3" stroke-linecap="round"/>
<line x1="128.3" y1="161.5" x2="132.1" y2="164.3" stroke="rgb(28,28,28)" stroke-width="1.3" stroke-linecap="round"/>
<line x1="64.0" y1="173.5" x2="69.0" y2="171.8" stroke="rgb(27,27,27)" stroke-width="1.3" stroke-linecap="round"/>
<line x1="77.6" y1="136.2" x2="87.5" y2="132.8" stroke="rgb(22,22,22)" stroke-width="1.3" stroke-linecap="round"/>
<line x1="150.1" y1="153.6" x2="159.2" y2="147.4" stroke="rgb(41,41,41)" stroke-width="1.3" stroke-linecap="round"/>
<line x1="167.9" y1="177.7" x2="172.5" y2="180.0" stroke="rgb(22,22,22)" stroke-width="1.3" stroke-linecap="round"/>
<line x1="43.3" y1="144.1" x2="48.8" y2="140.4" stroke="rgb(42,42,42)" stroke-width="1.3" stroke-linecap="round"/>
<line x1="51.8" y1="168.6" x2="58.7" y2="168.2" stroke="rgb(33,33,33)" stroke-width="1.3" stroke-linecap="round"/>
<line x1="172.2" y1="154.0" x2="177.1" y2="155.4" stroke="rgb(19,19,19)" stroke-width="1.3" stroke-linecap="round"/>
<line x1="167.8" y1="155.5" x2="177.1" y2="156.0" stroke="rgb(17,17,17)" stroke-width="1.3" stroke-linecap="round"/>
<line x1="104.4" y1="150.6" x2="108.9" y2="152.9" stroke="rgb(31,31,31)" stroke-width="1.3" stroke-linecap="round"/>
<line x1="21.2" y1="130.3" x2="29.9" y2="131.4" stroke="rgb(20,20,20)" stroke-width="1.3" stroke-linecap="round"/>
<line x1="27.8" y1="175.4" x2="35.5" y2="172.7" stroke="rgb(36,36,36)" stroke-width="1.3" stroke-linecap="round"/>
<line x1="77.2" y1="155.8" x2="87.7" y2="156.1" stroke="rgb(26,26,26)" stroke-width="1.3" stroke-linecap="round"/>
<line x1="126.2" y1="133.7" x2="134.8" y2="132.5" stroke="rgb(24,24,24)" stroke-width="1.3" stroke-linecap="round"/>
<line x1="60.2" y1="166.5" x2="66.2" y2="162.6" stroke="rgb(44,44,44)" stroke-width="1.3" stroke-linecap="round"/>
<line x1="172.4" y1="123.1" x2="177.8" y2="120.9" stroke="rgb(39,39,39)" stroke-width="1.3" stroke-linecap="round"/>
<line x1="153.3" y1="174.7" x2="158.4" y2="173.8" stroke="rgb(37,37,37)" stroke-width="1.3" stroke-linecap="round"/>
<line x1="124.1" y1="157.5" x2="130.9" y2="162.7" stroke="rgb(23,23,23)" stroke-width="1.3" stroke-linecap="round"/>
<line x1="142.8" y1="137.6" x2="153.1" y2="139.8" stroke="rgb(20,20,20)" stroke-width="1.3" stroke-linecap="round"/>
<line x1="27.0" y1="125.3" x2="32.9" y2="125.7" stroke="rgb(39,39,39)" stroke-width="1.3" stroke-linecap="round"/>
<line x1="126.4" y1="131.4" x2="132.2" y2="132.5" stroke="rgb(33,33,33)" stroke-width="1.3" stroke-linecap="round"/>
<line x1="157.4" y1="172.6" x2="163.4" y2="169.0" stroke="rgb(28,28,28)" stroke-width="1.3" stroke-linecap="round"/>
<line x1="8.6" y1="167.8" x2="14.3" y2="168.8" stroke="rgb(26,26,26)" stroke-width="1.3" stroke-linecap="round"/>
<line x1="99.0" y1="145.8" x2="102.6" y2="143.0" stroke="rgb(30,30,30)" stroke-width="1.3" stroke-linecap="round"/>
<line x1="157.1" y1="153.3" x2="164.4" y2="156.8" stroke="rgb(17,17,17)" stroke-width="1.3" stroke-linecap="round"/>
<line x1="29.0" y1="138.1" x2="37.3" y2="143.0" stroke="rgb(35,35,35)" stroke-width="1.3" stroke-linecap="round"/>
<line x1="156.3" y1="131.8" x2="160.8" y2="130.3" stroke="rgb(45,45,45)" stroke-width="1.3" stroke-linecap="round"/>
<line x1="153.9" y1="144.4" x2="158.9" y2="145.2" stroke="rgb(47,47,47)" stroke-width="1.3" stroke-linecap="round"/>
<line x1="150.7" y1="180.9" x2="160.0" y2="185.0" stroke="rgb(23,23,23)" stroke-width="1.3" stroke-linecap="round"/>
<line x1="129.5" y1="139.7" x2="137.6" y2="144.9" stroke="rgb(30,30,30)" stroke-width="1.3" stroke-linecap="round"/>
<line x1="141.8" y1="135.5" x2="146.2" y2="137.2" stroke="rgb(42,42,42)" stroke-width="1.3" stroke-linecap="round"/>
<line x1="149.7" y1="132.6" x2="156.3" y2="135.6" stroke="rgb(30,30,30)" stroke-width="1.3" stroke-linecap="round"/>
<line x1="139.2" y1="133.0" x2="143.6" y2="129.8" stroke="rgb(31,31,31)" stroke-width="1.3" stroke-linecap="round"/>
<line x1="150.6" y1="180.3" x2="158.7" y2="177.8" stroke="rgb(32,32,32)" stroke-width="1.3" stroke-linecap="round"/>
<line x1="169.9" y1="114.1" x2="173.8" y2="116.4" stroke="rgb(40,40,40)" stroke-width="1.3" stroke-linecap="round"/>
<line x1="37.5" y1="121.7" x2="41.8" y2="120.4" stroke="rgb(25,25,25)" stroke-width="1.3" stroke-linecap="round"/>
<line x1="128.2" y1="110.0" x2="134.7" y2="110.9" stroke="rgb(39,39,39)" stroke-width="1.3" stroke-linecap="round"/>
<line x1="103.1" y1="109.0" x2="107.0" y2="110.0" stroke="rgb(55,55,55)" stroke-width="1.3" stroke-linecap="round"/>
<line x1="96.8" y1="117.3" x2="103.9" y2="119.5" stroke="rgb(40,40,40)" stroke-width="1.3" stroke-linecap="round"/>
<line x1="19.5" y1="116.4" x2="25.0" y2="115.2" stroke="rgb(45,45,45)" stroke-width="1.3" stroke-linecap="round"/>
<line x1="126.8" y1="109.8" x2="132.6" y2="108.4" stroke="rgb(42,42,42)" stroke-width="1.3" stroke-linecap="round"/>
<line x1="56.8" y1="106.7" x2="65.4" y2="105.8" stroke="rgb(34,34,34)" stroke-width="1.3" stroke-linecap="round"/>
<line x1="157.0" y1="115.5" x2="163.5" y2="113.9" stroke="rgb(29,29,29)" stroke-width="1.3" stroke-linecap="round"/>
<line x1="55.3" y1="112.1" x2="62.6" y2="112.8" stroke="rgb(44,44,44)" stroke-width="1.3" stroke-linecap="round"/>
<line x1="81.0" y1="108.2" x2="89.5" y2="108.0" stroke="rgb(41,41,41)" stroke-width="1.3" stroke-linecap="round"/>
<line x1="36.0" y1="105.9" x2="43.2" y2="106.1" stroke="rgb(25,25,25)" stroke-width="1.3" stroke-linecap="round"/>
<line x1="143.0" y1="117.9" x2="148.0" y2="119.0" stroke="rgb(30,30,30)" stroke-width="1.3" stroke-linecap="round"/>
<line x1="12.0" y1="108.8" x2="20.3" y2="108.6" stroke="rgb(28,28,28)" stroke-width="1.3" stroke-linecap="round"/>
<line x1="76.4" y1="115.7" x2="83.3" y2="113.0" stroke="rgb(34,34,34)" stroke-width="1.3" stroke-linecap="round"/>
<line x1="48.3" y1="116.2" x2="54.6" y2="111.8" stroke="rgb(34,34,34)" stroke-width="1.3" stroke-linecap="round"/>
<line x1="25.6" y1="112.1" x2="33.7" y2="108.7" stroke="rgb(33,33,33)" stroke-width="1.3" stroke-linecap="round"/>
<line x1="16.3" y1="108.9" x2="22.0" y2="111.5" stroke="rgb(53,53,53)" stroke-width="1.3" stroke-linecap="round"/>
<line x1="118.2" y1="122.2" x2="126.8" y2="123.2" stroke="rgb(32,32,32)" stroke-width="1.3" stroke-linecap="round"/>
<line x1="109.1" y1="117.3" x2="117.2" y2="117.4" stroke="rgb(47,47,47)" stroke-width="1.3" stroke-linecap="round"/>
<line x1="156.0" y1="117.8" x2="161.3" y2="117.6" stroke="rgb(26,26,26)" stroke-width="1.3" stroke-linecap="round"/>
<line x1="113.2" y1="118.2" x2="120.3" y2="118.4" stroke="rgb(26,26,26)" stroke-width="1.3" stroke-linecap="round"/>
<line x1="20.8" y1="109.5" x2="26.2" y2="108.0" stroke="rgb(30,30,30)" stroke-width="1.3" stroke-linecap="round"/>
<line x1="30.8" y1="108.6" x2="38.2" y2="110.3" stroke="rgb(32,32,32)" stroke-width="1.3" stroke-linecap="round"/>
<line x1="75.3" y1="114.2" x2="80.3" y2="113.6" stroke="rgb(42,42,42)" stroke-width="1.3" stroke-linecap="round"/>
<path d="M6.0,111.0 L9.2,110.8 L15.4,109.6 L20.3,110.2 L23.9,113.2 L28.8,113.2 L33.8,111.4 L37.4,109.0 L40.5,107.1 L44.8,109.6 L49.7,109.6 L54.0,110.8 L58.3,115.1 L62.0,115.7 L65.6,113.9 L68.7,112.0 L71.8,113.9 L74.2,115.7 L77.9,112.0 L81.6,110.2 L86.5,109.6 L90.0,110.8 L94.9,114.5 L98.6,112.0 L103.5,108.3 L108.4,107.7 L112.1,109.0 L115.8,112.6 L118.8,115.1 L123.1,112.0 L126.8,108.3 L130.5,107.1 L134.1,109.0 L137.8,112.0 L142.1,115.7" fill="none" stroke="rgb(146,146,146)" stroke-width="2.76" stroke-linejoin="round" stroke-linecap="round"/>
<path d="M142.1,115.7 L145.0,112.9 L148.0,109.9 L153.0,108.4 L158.0,110.2 L163.0,111.8 L165.4,112.0 L169.0,110.4 L175.0,109.4" fill="none" stroke="rgb(125,125,125)" stroke-width="2.42" stroke-linejoin="round" stroke-linecap="round"/>
<path d="M6.0,113.4 L12.0,113.9 L18.0,112.9 L23.0,114.9" fill="none" stroke="rgb(90,90,90)" stroke-width="2.07" stroke-linejoin="round" stroke-linecap="round"/>
<path d="M60.0,119.9 L65.0,118.4 L70.0,119.4 L75.0,120.9" fill="none" stroke="rgb(90,90,90)" stroke-width="2.07" stroke-linejoin="round" stroke-linecap="round"/>
<path d="M92.0,117.9 L97.0,119.4 L102.0,118.4 L107.0,116.9" fill="none" stroke="rgb(88,88,88)" stroke-width="2.07" stroke-linejoin="round" stroke-linecap="round"/>
<path d="M144.0,119.4 L150.0,121.4 L156.0,122.4 L163.0,121.9 L169.0,120.4 L175.0,120.9" fill="none" stroke="rgb(94,94,94)" stroke-width="2.07" stroke-linejoin="round" stroke-linecap="round"/>
<path d="M120.0,118.4 L126.0,119.9 L132.0,119.4 L137.0,117.9" fill="none" stroke="rgb(81,81,81)" stroke-width="1.95" stroke-linejoin="round" stroke-linecap="round"/>
<path d="M32.5,115.9 L35.5,114.9 L39.5,115.9" fill="none" stroke="rgb(123,123,123)" stroke-width="2.18" stroke-linejoin="round" stroke-linecap="round"/>
<path d="M39.5,107.4 L44.8,111.9 L49.7,113.9 L54.6,115.1" fill="none" stroke="rgb(97,97,97)" stroke-width="1.95" stroke-linejoin="round" stroke-linecap="round"/>
<path d="M144.0,106.4 L149.0,104.9 L155.0,105.9 L161.0,106.9 L168.0,107.4 L175.0,106.4" fill="none" stroke="rgb(91,91,91)" stroke-width="1.84" stroke-linejoin="round" stroke-linecap="round"/>
<path d="M6.0,119.9 L16.0,120.9 L24.0,119.9 L30.0,121.2" fill="none" stroke="rgb(88,88,88)" stroke-width="1.84" stroke-linejoin="round" stroke-linecap="round"/>
<path d="M32.5,121.8 L37.4,120.0 L39.9,118.8" fill="none" stroke="rgb(140,140,140)" stroke-width="2.07" stroke-linejoin="round" stroke-linecap="round"/>
<path d="M27.6,136.9 L28.2,138.0 L31.3,141.7 L33.8,144.8 L37.4,148.4 L41.1,151.5 L44.8,154.0" fill="none" stroke="rgb(52,52,52)" stroke-width="2.42" stroke-linejoin="round" stroke-linecap="round"/>
<path d="M44.8,154.0 L47.2,154.6 L50.9,154.4 L54.6,156.1" fill="none" stroke="rgb(32,32,32)" stroke-width="2.07" stroke-linejoin="round" stroke-linecap="round"/>
<path d="M54.6,156.1 L59.5,158.9 L63.2,160.2 L66.9,158.9 L70.5,157.0 L75.4,156.7 L81.6,157.7 L86.5,159.0 L90.0,156.9 L92.0,155.5 L94.9,152.7 L98.6,151.5" fill="none" stroke="rgb(60,60,60)" stroke-width="2.53" stroke-linejoin="round" stroke-linecap="round"/>
<path d="M6.0,123.9 L8.0,124.9 L12.9,126.7 L17.8,129.4 L21.5,131.4 L24.0,133.2 L27.6,134.9 L29.0,136.9" fill="none" stroke="rgb(106,106,106)" stroke-width="2.18" stroke-linejoin="round" stroke-linecap="round"/>
<path d="M57.0,124.9 L62.0,127.0 L66.9,129.2 L71.8,131.9 L76.7,134.4 L81.6,137.2 L86.0,138.9 L90.0,139.2 L94.9,142.3 L99.8,144.8" fill="none" stroke="rgb(90,90,90)" stroke-width="2.18" stroke-linejoin="round" stroke-linecap="round"/>
<path d="M36.2,124.6 L41.1,125.4 L46.0,126.1 L49.7,128.0 L52.1,130.4 L54.0,131.9 L57.0,132.9" fill="none" stroke="rgb(101,101,101)" stroke-width="2.07" stroke-linejoin="round" stroke-linecap="round"/>
<path d="M113.3,126.7 L119.4,126.1 L125.6,127.3 L130.5,129.2 L134.1,131.6 L137.8,134.1 L141.5,137.2 L146.4,139.9" fill="none" stroke="rgb(104,104,104)" stroke-width="2.07" stroke-linejoin="round" stroke-linecap="round"/>
<path d="M145.2,121.8 L150.1,124.3 L155.0,126.7 L158.7,129.2 L163.6,128.0 L168.5,126.7 L175.0,125.4" fill="none" stroke="rgb(83,83,83)" stroke-width="1.95" stroke-linejoin="round" stroke-linecap="round"/>
<path d="M70.5,124.3 L76.7,121.8 L81.6,120.6 L86.5,121.2 L92.0,121.8 L96.0,122.4 L102.3,121.2 L109.6,119.4 L113.3,118.8" fill="none" stroke="rgb(39,39,39)" stroke-width="1.84" stroke-linejoin="round" stroke-linecap="round"/>
<path d="M156.2,123.1 L161.1,121.2 L166.0,118.8 L170.9,116.9 L175.0,115.7" fill="none" stroke="rgb(83,83,83)" stroke-width="1.95" stroke-linejoin="round" stroke-linecap="round"/>
<path d="M165.0,156.4 L167.3,155.8 L172.2,157.0 L175.0,155.4" fill="none" stroke="rgb(41,41,41)" stroke-width="2.07" stroke-linejoin="round" stroke-linecap="round"/>
<path d="M134.1,147.2 L141.5,146.0 L148.9,148.4 L156.2,147.2 L163.6,149.7 L170.0,148.4" fill="none" stroke="rgb(17,17,17)" stroke-width="1.84" stroke-linejoin="round" stroke-linecap="round"/>
<path d="M8.0,138.6 L12.9,141.1 L20.3,144.1 L23.9,146.0" fill="none" stroke="rgb(16,16,16)" stroke-width="1.84" stroke-linejoin="round" stroke-linecap="round"/>
<path d="M8.0,154.3 L15.4,155.5 L22.7,153.7 L28.8,150.6" fill="none" stroke="rgb(17,17,17)" stroke-width="1.84" stroke-linejoin="round" stroke-linecap="round"/>
<path d="M102.3,174.2 L109.6,176.6 L117.0,177.9" fill="none" stroke="rgb(17,17,17)" stroke-width="1.84" stroke-linejoin="round" stroke-linecap="round"/>
<path d="M120.0,169.4 L125.0,170.9 L129.2,173.3 L134.0,171.9 L139.0,169.9" fill="none" stroke="rgb(21,21,21)" stroke-width="1.84" stroke-linejoin="round" stroke-linecap="round"/>
<path d="M125.0,176.9 L129.2,173.3 L133.5,176.9" fill="none" stroke="rgb(19,19,19)" stroke-width="1.72" stroke-linejoin="round" stroke-linecap="round"/>
<path d="M148.9,174.2 L156.2,170.5 L163.6,168.1 L170.0,165.4" fill="none" stroke="rgb(17,17,17)" stroke-width="1.84" stroke-linejoin="round" stroke-linecap="round"/>
<path d="M13.0,155.4 L23.0,156.4 L30.0,154.4" fill="none" stroke="rgb(13,13,13)" stroke-width="1.72" stroke-linejoin="round" stroke-linecap="round"/>
<path d="M33.0,164.4 L45.0,166.4 L57.0,169.4 L69.0,171.9 L81.0,174.4 L92.0,176.4" fill="none" stroke="rgb(14,14,14)" stroke-width="1.72" stroke-linejoin="round" stroke-linecap="round"/>
<path d="M108.0,144.4 L114.0,142.4 L121.0,146.4 L128.0,145.4" fill="none" stroke="rgb(16,16,16)" stroke-width="1.84" stroke-linejoin="round" stroke-linecap="round"/>
<path d="M94.0,128.4 L100.0,127.9 L106.0,129.4 L112.0,130.4" fill="none" stroke="rgb(29,29,29)" stroke-width="1.72" stroke-linejoin="round" stroke-linecap="round"/>
<path d="M68.0,136.4 L74.0,141.4 L80.0,145.4" fill="none" stroke="rgb(14,14,14)" stroke-width="1.72" stroke-linejoin="round" stroke-linecap="round"/>
<path d="M108.0,160.4 L118.0,158.4 L128.0,162.4 L136.0,160.4" fill="none" stroke="rgb(15,15,15)" stroke-width="1.72" stroke-linejoin="round" stroke-linecap="round"/>
<path d="M13.0,170.4 L23.0,172.4 L33.0,176.4 L43.0,178.4" fill="none" stroke="rgb(13,13,13)" stroke-width="1.72" stroke-linejoin="round" stroke-linecap="round"/>
<path d="M146.0,180.4 L156.0,178.9 L164.0,180.4 L172.0,179.4" fill="none" stroke="rgb(16,16,16)" stroke-width="1.84" stroke-linejoin="round" stroke-linecap="round"/>
<path d="M143.0,154.4 L150.0,158.4 L158.0,162.4 L166.0,164.4" fill="none" stroke="rgb(14,14,14)" stroke-width="1.72" stroke-linejoin="round" stroke-linecap="round"/>
<path d="M56.0,140.4 L64.0,142.4 L70.0,146.4" fill="none" stroke="rgb(13,13,13)" stroke-width="1.72" stroke-linejoin="round" stroke-linecap="round"/>
<path d="M98.0,164.4 L106.0,166.4 L114.0,165.4" fill="none" stroke="rgb(12,12,12)" stroke-width="1.72" stroke-linejoin="round" stroke-linecap="round"/>
</g>
<g filter="url(#hot2)" style="mix-blend-mode:lighten">
<rect x="8" y="92.4" width="165.6" height="90.4" fill="#000"/>
<ellipse cx="58.8" cy="115.3" rx="4.7" ry="2.7" fill="url(#rg)" fill-opacity="0.97"/>
<ellipse cx="74.2" cy="115.4" rx="3.6" ry="2.3" fill="url(#rg)" fill-opacity="0.89"/>
<ellipse cx="118.8" cy="114.9" rx="3.6" ry="2.3" fill="url(#rg)" fill-opacity="0.87"/>
<ellipse cx="165.4" cy="112.0" rx="3.6" ry="2.3" fill="url(#rg)" fill-opacity="0.78"/>
<ellipse cx="41.0" cy="107.4" rx="3.6" ry="2.2" fill="url(#rg)" fill-opacity="0.70"/>
<ellipse cx="130.5" cy="107.3" rx="3.2" ry="2.2" fill="url(#rg)" fill-opacity="0.71"/>
<ellipse cx="103.5" cy="108.4" rx="3.2" ry="2.2" fill="url(#rg)" fill-opacity="0.60"/>
<ellipse cx="33.8" cy="144.8" rx="2.5" ry="3.2" fill="url(#rg)" fill-opacity="0.30"/>
<ellipse cx="70.5" cy="156.8" rx="4.3" ry="2.5" fill="url(#rg)" fill-opacity="0.32"/>
<ellipse cx="23.0" cy="132.3" rx="2.9" ry="2.3" fill="url(#rg)" fill-opacity="0.65"/>
<ellipse cx="46.5" cy="125.8" rx="3.6" ry="2.2" fill="url(#rg)" fill-opacity="0.62"/>
<ellipse cx="138.2" cy="134.5" rx="3.6" ry="2.5" fill="url(#rg)" fill-opacity="0.77"/>
<ellipse cx="159.3" cy="123.7" rx="3.2" ry="2.2" fill="url(#rg)" fill-opacity="0.45"/>
<ellipse cx="52.0" cy="138.0" rx="4.0" ry="2.3" fill="url(#rg)" fill-opacity="0.24"/>
<ellipse cx="129.2" cy="173.3" rx="2.7" ry="2.2" fill="url(#rg)" fill-opacity="0.28"/>
<ellipse cx="52.1" cy="130.4" rx="2.9" ry="2.2" fill="url(#rg)" fill-opacity="0.51"/>
<ellipse cx="32.5" cy="121.6" rx="3.2" ry="2.2" fill="url(#rg)" fill-opacity="0.43"/>
</g>
</g>
<text x="10.5" y="105.80000000000001" font-size="13.6" font-weight="bold" fill="#fff">e</text>
<text x="90.2" y="104.2" font-size="10.9" fill="#fff" text-anchor="middle">7 min</text>
<g clip-path="url(#cp5)">
<g filter="url(#hot)">
<rect x="175.4" y="92.4" width="165.0" height="90.4" fill="rgb(1,1,1)"/>
<line x1="280.9" y1="120.0" x2="286.2" y2="118.4" stroke="rgb(33,33,33)" stroke-width="1.3" stroke-linecap="round"/>
<line x1="287.1" y1="175.5" x2="293.0" y2="171.9" stroke="rgb(21,21,21)" stroke-width="1.3" stroke-linecap="round"/>
<line x1="211.5" y1="150.7" x2="215.8" y2="147.6" stroke="rgb(28,28,28)" stroke-width="1.3" stroke-linecap="round"/>
<line x1="265.3" y1="132.5" x2="274.9" y2="133.7" stroke="rgb(22,22,22)" stroke-width="1.3" stroke-linecap="round"/>
<line x1="308.4" y1="163.1" x2="313.3" y2="162.0" stroke="rgb(43,43,43)" stroke-width="1.3" stroke-linecap="round"/>
<line x1="230.9" y1="124.3" x2="239.5" y2="119.3" stroke="rgb(31,31,31)" stroke-width="1.3" stroke-linecap="round"/>
<line x1="308.6" y1="165.1" x2="319.4" y2="165.6" stroke="rgb(29,29,29)" stroke-width="1.3" stroke-linecap="round"/>
<line x1="266.5" y1="171.5" x2="276.4" y2="173.1" stroke="rgb(33,33,33)" stroke-width="1.3" stroke-linecap="round"/>
<line x1="291.7" y1="121.3" x2="297.3" y2="119.2" stroke="rgb(16,16,16)" stroke-width="1.3" stroke-linecap="round"/>
<line x1="213.8" y1="124.9" x2="221.9" y2="122.4" stroke="rgb(28,28,28)" stroke-width="1.3" stroke-linecap="round"/>
<line x1="236.5" y1="131.8" x2="246.5" y2="128.6" stroke="rgb(36,36,36)" stroke-width="1.3" stroke-linecap="round"/>
<line x1="275.9" y1="129.4" x2="280.8" y2="130.9" stroke="rgb(28,28,28)" stroke-width="1.3" stroke-linecap="round"/>
<line x1="338.7" y1="159.4" x2="347.4" y2="160.0" stroke="rgb(46,46,46)" stroke-width="1.3" stroke-linecap="round"/>
<line x1="303.4" y1="133.1" x2="308.5" y2="129.4" stroke="rgb(28,28,28)" stroke-width="1.3" stroke-linecap="round"/>
<line x1="210.2" y1="178.7" x2="215.7" y2="181.7" stroke="rgb(32,32,32)" stroke-width="1.3" stroke-linecap="round"/>
<line x1="240.7" y1="176.9" x2="246.5" y2="176.6" stroke="rgb(21,21,21)" stroke-width="1.3" stroke-linecap="round"/>
<line x1="268.0" y1="135.2" x2="278.2" y2="136.4" stroke="rgb(23,23,23)" stroke-width="1.3" stroke-linecap="round"/>
<line x1="211.6" y1="182.2" x2="216.2" y2="182.3" stroke="rgb(24,24,24)" stroke-width="1.3" stroke-linecap="round"/>
<line x1="193.5" y1="158.6" x2="199.9" y2="161.2" stroke="rgb(23,23,23)" stroke-width="1.3" stroke-linecap="round"/>
<line x1="238.4" y1="182.2" x2="249.2" y2="182.6" stroke="rgb(41,41,41)" stroke-width="1.3" stroke-linecap="round"/>
<line x1="177.3" y1="164.5" x2="184.8" y2="166.4" stroke="rgb(25,25,25)" stroke-width="1.3" stroke-linecap="round"/>
<line x1="281.2" y1="125.5" x2="288.3" y2="124.9" stroke="rgb(41,41,41)" stroke-width="1.3" stroke-linecap="round"/>
<line x1="319.9" y1="135.3" x2="325.2" y2="135.3" stroke="rgb(34,34,34)" stroke-width="1.3" stroke-linecap="round"/>
<line x1="319.0" y1="137.5" x2="327.2" y2="139.0" stroke="rgb(23,23,23)" stroke-width="1.3" stroke-linecap="round"/>
<line x1="301.2" y1="152.9" x2="308.4" y2="155.7" stroke="rgb(16,16,16)" stroke-width="1.3" stroke-linecap="round"/>
<line x1="228.9" y1="119.6" x2="237.4" y2="125.1" stroke="rgb(46,46,46)" stroke-width="1.3" stroke-linecap="round"/>
<line x1="226.1" y1="122.1" x2="235.5" y2="127.2" stroke="rgb(23,23,23)" stroke-width="1.3" stroke-linecap="round"/>
<line x1="255.6" y1="122.8" x2="264.4" y2="126.0" stroke="rgb(24,24,24)" stroke-width="1.3" stroke-linecap="round"/>
<line x1="253.8" y1="153.6" x2="263.4" y2="150.5" stroke="rgb(25,25,25)" stroke-width="1.3" stroke-linecap="round"/>
<line x1="210.3" y1="152.9" x2="215.5" y2="154.5" stroke="rgb(21,21,21)" stroke-width="1.3" stroke-linecap="round"/>
<line x1="339.6" y1="160.0" x2="347.2" y2="159.4" stroke="rgb(20,20,20)" stroke-width="1.3" stroke-linecap="round"/>
<line x1="212.5" y1="140.0" x2="218.0" y2="140.7" stroke="rgb(27,27,27)" stroke-width="1.3" stroke-linecap="round"/>
<line x1="187.1" y1="158.8" x2="196.8" y2="155.2" stroke="rgb(39,39,39)" stroke-width="1.3" stroke-linecap="round"/>
<line x1="187.1" y1="133.6" x2="192.5" y2="134.9" stroke="rgb(25,25,25)" stroke-width="1.3" stroke-linecap="round"/>
<line x1="329.8" y1="154.9" x2="339.2" y2="154.6" stroke="rgb(36,36,36)" stroke-width="1.3" stroke-linecap="round"/>
<line x1="206.8" y1="124.6" x2="213.8" y2="124.0" stroke="rgb(28,28,28)" stroke-width="1.3" stroke-linecap="round"/>
<line x1="295.7" y1="161.5" x2="299.5" y2="164.3" stroke="rgb(34,34,34)" stroke-width="1.3" stroke-linecap="round"/>
<line x1="231.4" y1="173.5" x2="236.4" y2="171.8" stroke="rgb(24,24,24)" stroke-width="1.3" stroke-linecap="round"/>
<line x1="245.0" y1="136.2" x2="254.9" y2="132.8" stroke="rgb(25,25,25)" stroke-width="1.3" stroke-linecap="round"/>
<line x1="317.5" y1="153.6" x2="326.6" y2="147.4" stroke="rgb(40,40,40)" stroke-width="1.3" stroke-linecap="round"/>
<line x1="335.3" y1="177.7" x2="339.9" y2="180.0" stroke="rgb(32,32,32)" stroke-width="1.3" stroke-linecap="round"/>
<line x1="210.7" y1="144.1" x2="216.2" y2="140.4" stroke="rgb(40,40,40)" stroke-width="1.3" stroke-linecap="round"/>
<line x1="219.2" y1="168.6" x2="226.1" y2="168.2" stroke="rgb(42,42,42)" stroke-width="1.3" stroke-linecap="round"/>
<line x1="339.6" y1="154.0" x2="344.5" y2="155.4" stroke="rgb(25,25,25)" stroke-width="1.3" stroke-linecap="round"/>
<line x1="335.2" y1="155.5" x2="344.5" y2="156.0" stroke="rgb(22,22,22)" stroke-width="1.3" stroke-linecap="round"/>
<line x1="271.8" y1="150.6" x2="276.3" y2="152.9" stroke="rgb(49,49,49)" stroke-width="1.3" stroke-linecap="round"/>
<line x1="188.6" y1="130.3" x2="197.3" y2="131.4" stroke="rgb(29,29,29)" stroke-width="1.3" stroke-linecap="round"/>
<line x1="195.2" y1="175.4" x2="202.9" y2="172.7" stroke="rgb(36,36,36)" stroke-width="1.3" stroke-linecap="round"/>
<line x1="244.6" y1="155.8" x2="255.1" y2="156.1" stroke="rgb(24,24,24)" stroke-width="1.3" stroke-linecap="round"/>
<line x1="293.6" y1="133.7" x2="302.2" y2="132.5" stroke="rgb(32,32,32)" stroke-width="1.3" stroke-linecap="round"/>
<line x1="227.6" y1="166.5" x2="233.6" y2="162.6" stroke="rgb(40,40,40)" stroke-width="1.3" stroke-linecap="round"/>
<line x1="339.8" y1="123.1" x2="345.2" y2="120.9" stroke="rgb(43,43,43)" stroke-width="1.3" stroke-linecap="round"/>
<line x1="320.7" y1="174.7" x2="325.8" y2="173.8" stroke="rgb(45,45,45)" stroke-width="1.3" stroke-linecap="round"/>
<line x1="291.5" y1="157.5" x2="298.3" y2="162.7" stroke="rgb(21,21,21)" stroke-width="1.3" stroke-linecap="round"/>
<line x1="310.2" y1="137.6" x2="320.5" y2="139.8" stroke="rgb(21,21,21)" stroke-width="1.3" stroke-linecap="round"/>
<line x1="194.4" y1="125.3" x2="200.3" y2="125.7" stroke="rgb(37,37,37)" stroke-width="1.3" stroke-linecap="round"/>
<line x1="293.8" y1="131.4" x2="299.6" y2="132.5" stroke="rgb(32,32,32)" stroke-width="1.3" stroke-linecap="round"/>
<line x1="324.8" y1="172.6" x2="330.8" y2="169.0" stroke="rgb(31,31,31)" stroke-width="1.3" stroke-linecap="round"/>
<line x1="176.0" y1="167.8" x2="181.7" y2="168.8" stroke="rgb(38,38,38)" stroke-width="1.3" stroke-linecap="round"/>
<line x1="266.4" y1="145.8" x2="270.0" y2="143.0" stroke="rgb(40,40,40)" stroke-width="1.3" stroke-linecap="round"/>
<line x1="324.5" y1="153.3" x2="331.8" y2="156.8" stroke="rgb(28,28,28)" stroke-width="1.3" stroke-linecap="round"/>
<line x1="196.4" y1="138.1" x2="204.7" y2="143.0" stroke="rgb(39,39,39)" stroke-width="1.3" stroke-linecap="round"/>
<line x1="323.7" y1="131.8" x2="328.2" y2="130.3" stroke="rgb(35,35,35)" stroke-width="1.3" stroke-linecap="round"/>
<line x1="321.3" y1="144.4" x2="326.3" y2="145.2" stroke="rgb(49,49,49)" stroke-width="1.3" stroke-linecap="round"/>
<line x1="318.1" y1="180.9" x2="327.4" y2="185.0" stroke="rgb(25,25,25)" stroke-width="1.3" stroke-linecap="round"/>
<line x1="296.9" y1="139.7" x2="305.0" y2="144.9" stroke="rgb(32,32,32)" stroke-width="1.3" stroke-linecap="round"/>
<line x1="309.2" y1="135.5" x2="313.6" y2="137.2" stroke="rgb(30,30,30)" stroke-width="1.3" stroke-linecap="round"/>
<line x1="317.1" y1="132.6" x2="323.7" y2="135.6" stroke="rgb(31,31,31)" stroke-width="1.3" stroke-linecap="round"/>
<line x1="306.6" y1="133.0" x2="311.0" y2="129.8" stroke="rgb(32,32,32)" stroke-width="1.3" stroke-linecap="round"/>
<line x1="318.0" y1="180.3" x2="326.1" y2="177.8" stroke="rgb(27,27,27)" stroke-width="1.3" stroke-linecap="round"/>
<line x1="337.3" y1="114.1" x2="341.2" y2="116.4" stroke="rgb(43,43,43)" stroke-width="1.3" stroke-linecap="round"/>
<line x1="204.9" y1="121.7" x2="209.2" y2="120.4" stroke="rgb(34,34,34)" stroke-width="1.3" stroke-linecap="round"/>
<line x1="295.6" y1="110.0" x2="302.1" y2="110.9" stroke="rgb(42,42,42)" stroke-width="1.3" stroke-linecap="round"/>
<line x1="270.5" y1="109.0" x2="274.4" y2="110.0" stroke="rgb(41,41,41)" stroke-width="1.3" stroke-linecap="round"/>
<line x1="264.2" y1="117.3" x2="271.3" y2="119.5" stroke="rgb(33,33,33)" stroke-width="1.3" stroke-linecap="round"/>
<line x1="186.9" y1="116.4" x2="192.4" y2="115.2" stroke="rgb(51,51,51)" stroke-width="1.3" stroke-linecap="round"/>
<line x1="294.2" y1="109.8" x2="300.0" y2="108.4" stroke="rgb(29,29,29)" stroke-width="1.3" stroke-linecap="round"/>
<line x1="224.2" y1="106.7" x2="232.8" y2="105.8" stroke="rgb(40,40,40)" stroke-width="1.3" stroke-linecap="round"/>
<line x1="324.4" y1="115.5" x2="330.9" y2="113.9" stroke="rgb(19,19,19)" stroke-width="1.3" stroke-linecap="round"/>
<line x1="222.7" y1="112.1" x2="230.0" y2="112.8" stroke="rgb(36,36,36)" stroke-width="1.3" stroke-linecap="round"/>
<line x1="248.4" y1="108.2" x2="256.9" y2="108.0" stroke="rgb(39,39,39)" stroke-width="1.3" stroke-linecap="round"/>
<line x1="203.4" y1="105.9" x2="210.6" y2="106.1" stroke="rgb(26,26,26)" stroke-width="1.3" stroke-linecap="round"/>
<line x1="310.4" y1="117.9" x2="315.4" y2="119.0" stroke="rgb(27,27,27)" stroke-width="1.3" stroke-linecap="round"/>
<line x1="179.4" y1="108.8" x2="187.7" y2="108.6" stroke="rgb(21,21,21)" stroke-width="1.3" stroke-linecap="round"/>
<line x1="243.8" y1="115.7" x2="250.7" y2="113.0" stroke="rgb(30,30,30)" stroke-width="1.3" stroke-linecap="round"/>
<line x1="215.7" y1="116.2" x2="222.0" y2="111.8" stroke="rgb(36,36,36)" stroke-width="1.3" stroke-linecap="round"/>
<line x1="193.0" y1="112.1" x2="201.1" y2="108.7" stroke="rgb(36,36,36)" stroke-width="1.3" stroke-linecap="round"/>
<line x1="183.7" y1="108.9" x2="189.4" y2="111.5" stroke="rgb(41,41,41)" stroke-width="1.3" stroke-linecap="round"/>
<line x1="285.6" y1="122.2" x2="294.2" y2="123.2" stroke="rgb(47,47,47)" stroke-width="1.3" stroke-linecap="round"/>
<line x1="276.5" y1="117.3" x2="284.6" y2="117.4" stroke="rgb(37,37,37)" stroke-width="1.3" stroke-linecap="round"/>
<line x1="323.4" y1="117.8" x2="328.7" y2="117.6" stroke="rgb(26,26,26)" stroke-width="1.3" stroke-linecap="round"/>
<line x1="280.6" y1="118.2" x2="287.7" y2="118.4" stroke="rgb(26,26,26)" stroke-width="1.3" stroke-linecap="round"/>
<line x1="188.2" y1="109.5" x2="193.6" y2="108.0" stroke="rgb(34,34,34)" stroke-width="1.3" stroke-linecap="round"/>
<line x1="198.2" y1="108.6" x2="205.6" y2="110.3" stroke="rgb(29,29,29)" stroke-width="1.3" stroke-linecap="round"/>
<line x1="242.7" y1="114.2" x2="247.7" y2="113.6" stroke="rgb(30,30,30)" stroke-width="1.3" stroke-linecap="round"/>
<path d="M173.4,111.0 L176.6,110.8 L182.8,109.6 L187.7,110.2 L191.3,113.2 L196.2,113.2 L201.2,111.4 L204.8,109.0 L207.9,107.1 L212.2,109.6 L217.1,109.6 L221.4,110.8 L225.7,115.1 L229.4,115.7 L233.0,113.9 L236.1,112.0 L239.2,113.9 L241.6,115.7 L245.3,112.0 L249.0,110.2 L253.9,109.6 L257.4,110.8 L262.3,114.5 L266.0,112.0 L270.9,108.3 L275.8,107.7 L279.5,109.0 L283.2,112.6 L286.2,115.1 L290.5,112.0 L294.2,108.3 L297.9,107.1 L301.5,109.0 L305.2,112.0 L309.5,115.7" fill="none" stroke="rgb(142,142,142)" stroke-width="2.76" stroke-linejoin="round" stroke-linecap="round"/>
<path d="M309.5,115.7 L312.4,112.9 L315.4,109.9 L320.4,108.4 L325.4,110.2 L330.4,111.8 L332.8,112.0 L336.4,110.4 L342.4,109.4" fill="none" stroke="rgb(123,123,123)" stroke-width="2.42" stroke-linejoin="round" stroke-linecap="round"/>
<path d="M173.4,113.4 L179.4,113.9 L185.4,112.9 L190.4,114.9" fill="none" stroke="rgb(89,89,89)" stroke-width="2.07" stroke-linejoin="round" stroke-linecap="round"/>
<path d="M227.4,119.9 L232.4,118.4 L237.4,119.4 L242.4,120.9" fill="none" stroke="rgb(89,89,89)" stroke-width="2.07" stroke-linejoin="round" stroke-linecap="round"/>
<path d="M259.4,117.9 L264.4,119.4 L269.4,118.4 L274.4,116.9" fill="none" stroke="rgb(87,87,87)" stroke-width="2.07" stroke-linejoin="round" stroke-linecap="round"/>
<path d="M311.4,119.4 L317.4,121.4 L323.4,122.4 L330.4,121.9 L336.4,120.4 L342.4,120.9" fill="none" stroke="rgb(93,93,93)" stroke-width="2.07" stroke-linejoin="round" stroke-linecap="round"/>
<path d="M287.4,118.4 L293.4,119.9 L299.4,119.4 L304.4,117.9" fill="none" stroke="rgb(80,80,80)" stroke-width="1.95" stroke-linejoin="round" stroke-linecap="round"/>
<path d="M199.9,115.9 L202.9,114.9 L206.9,115.9" fill="none" stroke="rgb(122,122,122)" stroke-width="2.18" stroke-linejoin="round" stroke-linecap="round"/>
<path d="M206.9,107.4 L212.2,111.9 L217.1,113.9 L222.0,115.1" fill="none" stroke="rgb(95,95,95)" stroke-width="1.95" stroke-linejoin="round" stroke-linecap="round"/>
<path d="M311.4,106.4 L316.4,104.9 L322.4,105.9 L328.4,106.9 L335.4,107.4 L342.4,106.4" fill="none" stroke="rgb(91,91,91)" stroke-width="1.84" stroke-linejoin="round" stroke-linecap="round"/>
<path d="M173.4,119.9 L183.4,120.9 L191.4,119.9 L197.4,121.2" fill="none" stroke="rgb(90,90,90)" stroke-width="1.84" stroke-linejoin="round" stroke-linecap="round"/>
<path d="M199.9,121.8 L204.8,120.0 L207.3,118.8" fill="none" stroke="rgb(146,146,146)" stroke-width="2.07" stroke-linejoin="round" stroke-linecap="round"/>
<path d="M195.0,136.9 L195.6,138.0 L198.7,141.7 L201.2,144.8 L204.8,148.4 L208.5,151.5 L212.2,154.0" fill="none" stroke="rgb(56,56,56)" stroke-width="2.42" stroke-linejoin="round" stroke-linecap="round"/>
<path d="M212.2,154.0 L214.6,154.6 L218.3,154.4 L222.0,156.1" fill="none" stroke="rgb(34,34,34)" stroke-width="2.07" stroke-linejoin="round" stroke-linecap="round"/>
<path d="M222.0,156.1 L226.9,158.9 L230.6,160.2 L234.3,158.9 L237.9,157.0 L242.8,156.7 L249.0,157.7 L253.9,159.0 L257.4,156.9 L259.4,155.5 L262.3,152.7 L266.0,151.5" fill="none" stroke="rgb(67,67,67)" stroke-width="2.53" stroke-linejoin="round" stroke-linecap="round"/>
<path d="M173.4,123.9 L175.4,124.9 L180.3,126.7 L185.2,129.4 L188.9,131.4 L191.4,133.2 L195.0,134.9 L196.4,136.9" fill="none" stroke="rgb(113,113,113)" stroke-width="2.18" stroke-linejoin="round" stroke-linecap="round"/>
<path d="M224.4,124.9 L229.4,127.0 L234.3,129.2 L239.2,131.9 L244.1,134.4 L249.0,137.2 L253.4,138.9 L257.4,139.2 L262.3,142.3 L267.2,144.8" fill="none" stroke="rgb(95,95,95)" stroke-width="2.18" stroke-linejoin="round" stroke-linecap="round"/>
<path d="M203.6,124.6 L208.5,125.4 L213.4,126.1 L217.1,128.0 L219.5,130.4 L221.4,131.9 L224.4,132.9" fill="none" stroke="rgb(108,108,108)" stroke-width="2.07" stroke-linejoin="round" stroke-linecap="round"/>
<path d="M280.7,126.7 L286.8,126.1 L293.0,127.3 L297.9,129.2 L301.5,131.6 L305.2,134.1 L308.9,137.2 L313.8,139.9" fill="none" stroke="rgb(111,111,111)" stroke-width="2.07" stroke-linejoin="round" stroke-linecap="round"/>
<path d="M312.6,121.8 L317.5,124.3 L322.4,126.7 L326.1,129.2 L331.0,128.0 L335.9,126.7 L342.4,125.4" fill="none" stroke="rgb(89,89,89)" stroke-width="1.95" stroke-linejoin="round" stroke-linecap="round"/>
<path d="M237.9,124.3 L244.1,121.8 L249.0,120.6 L253.9,121.2 L259.4,121.8 L263.4,122.4 L269.7,121.2 L277.0,119.4 L280.7,118.8" fill="none" stroke="rgb(41,41,41)" stroke-width="1.84" stroke-linejoin="round" stroke-linecap="round"/>
<path d="M323.6,123.1 L328.5,121.2 L333.4,118.8 L338.3,116.9 L342.4,115.7" fill="none" stroke="rgb(89,89,89)" stroke-width="1.95" stroke-linejoin="round" stroke-linecap="round"/>
<path d="M332.4,156.4 L334.7,155.8 L339.6,157.0 L342.4,155.4" fill="none" stroke="rgb(46,46,46)" stroke-width="2.07" stroke-linejoin="round" stroke-linecap="round"/>
<path d="M301.5,147.2 L308.9,146.0 L316.3,148.4 L323.6,147.2 L331.0,149.7 L337.4,148.4" fill="none" stroke="rgb(19,19,19)" stroke-width="1.84" stroke-linejoin="round" stroke-linecap="round"/>
<path d="M175.4,138.6 L180.3,141.1 L187.7,144.1 L191.3,146.0" fill="none" stroke="rgb(18,18,18)" stroke-width="1.84" stroke-linejoin="round" stroke-linecap="round"/>
<path d="M175.4,154.3 L182.8,155.5 L190.1,153.7 L196.2,150.6" fill="none" stroke="rgb(19,19,19)" stroke-width="1.84" stroke-linejoin="round" stroke-linecap="round"/>
<path d="M269.7,174.2 L277.0,176.6 L284.4,177.9" fill="none" stroke="rgb(19,19,19)" stroke-width="1.84" stroke-linejoin="round" stroke-linecap="round"/>
<path d="M287.4,169.4 L292.4,170.9 L296.6,173.3 L301.4,171.9 L306.4,169.9" fill="none" stroke="rgb(23,23,23)" stroke-width="1.84" stroke-linejoin="round" stroke-linecap="round"/>
<path d="M292.4,176.9 L296.6,173.3 L300.9,176.9" fill="none" stroke="rgb(21,21,21)" stroke-width="1.72" stroke-linejoin="round" stroke-linecap="round"/>
<path d="M316.3,174.2 L323.6,170.5 L331.0,168.1 L337.4,165.4" fill="none" stroke="rgb(19,19,19)" stroke-width="1.84" stroke-linejoin="round" stroke-linecap="round"/>
<path d="M180.4,155.4 L190.4,156.4 L197.4,154.4" fill="none" stroke="rgb(14,14,14)" stroke-width="1.72" stroke-linejoin="round" stroke-linecap="round"/>
<path d="M200.4,164.4 L212.4,166.4 L224.4,169.4 L236.4,171.9 L248.4,174.4 L259.4,176.4" fill="none" stroke="rgb(16,16,16)" stroke-width="1.72" stroke-linejoin="round" stroke-linecap="round"/>
<path d="M275.4,144.4 L281.4,142.4 L288.4,146.4 L295.4,145.4" fill="none" stroke="rgb(18,18,18)" stroke-width="1.84" stroke-linejoin="round" stroke-linecap="round"/>
<path d="M261.4,128.4 L267.4,127.9 L273.4,129.4 L279.4,130.4" fill="none" stroke="rgb(30,30,30)" stroke-width="1.72" stroke-linejoin="round" stroke-linecap="round"/>
<path d="M235.4,136.4 L241.4,141.4 L247.4,145.4" fill="none" stroke="rgb(16,16,16)" stroke-width="1.72" stroke-linejoin="round" stroke-linecap="round"/>
<path d="M275.4,160.4 L285.4,158.4 L295.4,162.4 L303.4,160.4" fill="none" stroke="rgb(17,17,17)" stroke-width="1.72" stroke-linejoin="round" stroke-linecap="round"/>
<path d="M180.4,170.4 L190.4,172.4 L200.4,176.4 L210.4,178.4" fill="none" stroke="rgb(14,14,14)" stroke-width="1.72" stroke-linejoin="round" stroke-linecap="round"/>
<path d="M313.4,180.4 L323.4,178.9 L331.4,180.4 L339.4,179.4" fill="none" stroke="rgb(18,18,18)" stroke-width="1.84" stroke-linejoin="round" stroke-linecap="round"/>
<path d="M310.4,154.4 L317.4,158.4 L325.4,162.4 L333.4,164.4" fill="none" stroke="rgb(16,16,16)" stroke-width="1.72" stroke-linejoin="round" stroke-linecap="round"/>
<path d="M223.4,140.4 L231.4,142.4 L237.4,146.4" fill="none" stroke="rgb(14,14,14)" stroke-width="1.72" stroke-linejoin="round" stroke-linecap="round"/>
<path d="M265.4,164.4 L273.4,166.4 L281.4,165.4" fill="none" stroke="rgb(14,14,14)" stroke-width="1.72" stroke-linejoin="round" stroke-linecap="round"/>
</g>
<g filter="url(#hot2)" style="mix-blend-mode:lighten">
<rect x="175.4" y="92.4" width="165.0" height="90.4" fill="#000"/>
<ellipse cx="226.2" cy="115.3" rx="4.7" ry="2.7" fill="url(#rg)" fill-opacity="0.94"/>
<ellipse cx="241.6" cy="115.4" rx="3.6" ry="2.3" fill="url(#rg)" fill-opacity="0.85"/>
<ellipse cx="286.2" cy="114.9" rx="3.6" ry="2.3" fill="url(#rg)" fill-opacity="0.85"/>
<ellipse cx="332.8" cy="112.0" rx="3.6" ry="2.3" fill="url(#rg)" fill-opacity="0.76"/>
<ellipse cx="208.4" cy="107.4" rx="3.6" ry="2.2" fill="url(#rg)" fill-opacity="0.68"/>
<ellipse cx="297.9" cy="107.3" rx="3.2" ry="2.2" fill="url(#rg)" fill-opacity="0.70"/>
<ellipse cx="270.9" cy="108.4" rx="3.2" ry="2.2" fill="url(#rg)" fill-opacity="0.59"/>
<ellipse cx="201.2" cy="144.8" rx="2.5" ry="3.2" fill="url(#rg)" fill-opacity="0.32"/>
<ellipse cx="237.9" cy="156.8" rx="4.3" ry="2.5" fill="url(#rg)" fill-opacity="0.35"/>
<ellipse cx="190.4" cy="132.3" rx="2.9" ry="2.3" fill="url(#rg)" fill-opacity="0.70"/>
<ellipse cx="213.9" cy="125.8" rx="3.6" ry="2.2" fill="url(#rg)" fill-opacity="0.66"/>
<ellipse cx="305.6" cy="134.5" rx="3.6" ry="2.5" fill="url(#rg)" fill-opacity="0.81"/>
<ellipse cx="326.7" cy="123.7" rx="3.2" ry="2.2" fill="url(#rg)" fill-opacity="0.47"/>
<ellipse cx="219.4" cy="138.0" rx="4.0" ry="2.3" fill="url(#rg)" fill-opacity="0.27"/>
<ellipse cx="296.6" cy="173.3" rx="2.7" ry="2.2" fill="url(#rg)" fill-opacity="0.33"/>
<ellipse cx="219.5" cy="130.4" rx="2.9" ry="2.2" fill="url(#rg)" fill-opacity="0.55"/>
<ellipse cx="199.9" cy="121.6" rx="3.2" ry="2.2" fill="url(#rg)" fill-opacity="0.47"/>
</g>
</g>
<text x="177.9" y="105.80000000000001" font-size="13.6" font-weight="bold" fill="#fff">f</text>
<text x="256.6" y="104.30000000000001" font-size="11.8" word-spacing="1.2" fill="#fff" text-anchor="middle">7.2 min</text>
<g clip-path="url(#cp6)">
<g filter="url(#hot)">
<rect x="341.9" y="92.4" width="165.1" height="90.4" fill="rgb(1,1,1)"/>
<line x1="447.4" y1="120.0" x2="452.7" y2="118.4" stroke="rgb(44,44,44)" stroke-width="1.3" stroke-linecap="round"/>
<line x1="453.6" y1="175.5" x2="459.5" y2="171.9" stroke="rgb(21,21,21)" stroke-width="1.3" stroke-linecap="round"/>
<line x1="378.0" y1="150.7" x2="382.3" y2="147.6" stroke="rgb(40,40,40)" stroke-width="1.3" stroke-linecap="round"/>
<line x1="431.8" y1="132.5" x2="441.4" y2="133.7" stroke="rgb(23,23,23)" stroke-width="1.3" stroke-linecap="round"/>
<line x1="474.9" y1="163.1" x2="479.8" y2="162.0" stroke="rgb(36,36,36)" stroke-width="1.3" stroke-linecap="round"/>
<line x1="397.4" y1="124.3" x2="406.0" y2="119.3" stroke="rgb(27,27,27)" stroke-width="1.3" stroke-linecap="round"/>
<line x1="475.1" y1="165.1" x2="485.9" y2="165.6" stroke="rgb(31,31,31)" stroke-width="1.3" stroke-linecap="round"/>
<line x1="433.0" y1="171.5" x2="442.9" y2="173.1" stroke="rgb(27,27,27)" stroke-width="1.3" stroke-linecap="round"/>
<line x1="458.2" y1="121.3" x2="463.8" y2="119.2" stroke="rgb(21,21,21)" stroke-width="1.3" stroke-linecap="round"/>
<line x1="380.3" y1="124.9" x2="388.4" y2="122.4" stroke="rgb(35,35,35)" stroke-width="1.3" stroke-linecap="round"/>
<line x1="403.0" y1="131.8" x2="413.0" y2="128.6" stroke="rgb(42,42,42)" stroke-width="1.3" stroke-linecap="round"/>
<line x1="442.4" y1="129.4" x2="447.3" y2="130.9" stroke="rgb(23,23,23)" stroke-width="1.3" stroke-linecap="round"/>
<line x1="505.2" y1="159.4" x2="513.9" y2="160.0" stroke="rgb(31,31,31)" stroke-width="1.3" stroke-linecap="round"/>
<line x1="469.9" y1="133.1" x2="475.0" y2="129.4" stroke="rgb(23,23,23)" stroke-width="1.3" stroke-linecap="round"/>
<line x1="376.7" y1="178.7" x2="382.2" y2="181.7" stroke="rgb(42,42,42)" stroke-width="1.3" stroke-linecap="round"/>
<line x1="407.2" y1="176.9" x2="413.0" y2="176.6" stroke="rgb(20,20,20)" stroke-width="1.3" stroke-linecap="round"/>
<line x1="434.5" y1="135.2" x2="444.7" y2="136.4" stroke="rgb(25,25,25)" stroke-width="1.3" stroke-linecap="round"/>
<line x1="378.1" y1="182.2" x2="382.7" y2="182.3" stroke="rgb(17,17,17)" stroke-width="1.3" stroke-linecap="round"/>
<line x1="360.0" y1="158.6" x2="366.4" y2="161.2" stroke="rgb(18,18,18)" stroke-width="1.3" stroke-linecap="round"/>
<line x1="404.9" y1="182.2" x2="415.7" y2="182.6" stroke="rgb(41,41,41)" stroke-width="1.3" stroke-linecap="round"/>
<line x1="343.8" y1="164.5" x2="351.3" y2="166.4" stroke="rgb(22,22,22)" stroke-width="1.3" stroke-linecap="round"/>
<line x1="447.7" y1="125.5" x2="454.8" y2="124.9" stroke="rgb(41,41,41)" stroke-width="1.3" stroke-linecap="round"/>
<line x1="486.4" y1="135.3" x2="491.7" y2="135.3" stroke="rgb(47,47,47)" stroke-width="1.3" stroke-linecap="round"/>
<line x1="485.5" y1="137.5" x2="493.7" y2="139.0" stroke="rgb(27,27,27)" stroke-width="1.3" stroke-linecap="round"/>
<line x1="467.7" y1="152.9" x2="474.9" y2="155.7" stroke="rgb(19,19,19)" stroke-width="1.3" stroke-linecap="round"/>
<line x1="395.4" y1="119.6" x2="403.9" y2="125.1" stroke="rgb(43,43,43)" stroke-width="1.3" stroke-linecap="round"/>
<line x1="392.6" y1="122.1" x2="402.0" y2="127.2" stroke="rgb(23,23,23)" stroke-width="1.3" stroke-linecap="round"/>
<line x1="422.1" y1="122.8" x2="430.9" y2="126.0" stroke="rgb(27,27,27)" stroke-width="1.3" stroke-linecap="round"/>
<line x1="420.3" y1="153.6" x2="429.9" y2="150.5" stroke="rgb(26,26,26)" stroke-width="1.3" stroke-linecap="round"/>
<line x1="376.8" y1="152.9" x2="382.0" y2="154.5" stroke="rgb(26,26,26)" stroke-width="1.3" stroke-linecap="round"/>
<line x1="506.1" y1="160.0" x2="513.7" y2="159.4" stroke="rgb(24,24,24)" stroke-width="1.3" stroke-linecap="round"/>
<line x1="379.0" y1="140.0" x2="384.5" y2="140.7" stroke="rgb(31,31,31)" stroke-width="1.3" stroke-linecap="round"/>
<line x1="353.6" y1="158.8" x2="363.3" y2="155.2" stroke="rgb(43,43,43)" stroke-width="1.3" stroke-linecap="round"/>
<line x1="353.6" y1="133.6" x2="359.0" y2="134.9" stroke="rgb(23,23,23)" stroke-width="1.3" stroke-linecap="round"/>
<line x1="496.3" y1="154.9" x2="505.7" y2="154.6" stroke="rgb(34,34,34)" stroke-width="1.3" stroke-linecap="round"/>
<line x1="373.3" y1="124.6" x2="380.3" y2="124.0" stroke="rgb(28,28,28)" stroke-width="1.3" stroke-linecap="round"/>
<line x1="462.2" y1="161.5" x2="466.0" y2="164.3" stroke="rgb(25,25,25)" stroke-width="1.3" stroke-linecap="round"/>
<line x1="397.9" y1="173.5" x2="402.9" y2="171.8" stroke="rgb(39,39,39)" stroke-width="1.3" stroke-linecap="round"/>
<line x1="411.5" y1="136.2" x2="421.4" y2="132.8" stroke="rgb(37,37,37)" stroke-width="1.3" stroke-linecap="round"/>
<line x1="484.0" y1="153.6" x2="493.1" y2="147.4" stroke="rgb(48,48,48)" stroke-width="1.3" stroke-linecap="round"/>
<line x1="501.8" y1="177.7" x2="506.4" y2="180.0" stroke="rgb(32,32,32)" stroke-width="1.3" stroke-linecap="round"/>
<line x1="377.2" y1="144.1" x2="382.7" y2="140.4" stroke="rgb(48,48,48)" stroke-width="1.3" stroke-linecap="round"/>
<line x1="385.7" y1="168.6" x2="392.6" y2="168.2" stroke="rgb(38,38,38)" stroke-width="1.3" stroke-linecap="round"/>
<line x1="506.1" y1="154.0" x2="511.0" y2="155.4" stroke="rgb(27,27,27)" stroke-width="1.3" stroke-linecap="round"/>
<line x1="501.7" y1="155.5" x2="511.0" y2="156.0" stroke="rgb(18,18,18)" stroke-width="1.3" stroke-linecap="round"/>
<line x1="438.3" y1="150.6" x2="442.8" y2="152.9" stroke="rgb(41,41,41)" stroke-width="1.3" stroke-linecap="round"/>
<line x1="355.1" y1="130.3" x2="363.8" y2="131.4" stroke="rgb(22,22,22)" stroke-width="1.3" stroke-linecap="round"/>
<line x1="361.7" y1="175.4" x2="369.4" y2="172.7" stroke="rgb(27,27,27)" stroke-width="1.3" stroke-linecap="round"/>
<line x1="411.1" y1="155.8" x2="421.6" y2="156.1" stroke="rgb(31,31,31)" stroke-width="1.3" stroke-linecap="round"/>
<line x1="460.1" y1="133.7" x2="468.7" y2="132.5" stroke="rgb(22,22,22)" stroke-width="1.3" stroke-linecap="round"/>
<line x1="394.1" y1="166.5" x2="400.1" y2="162.6" stroke="rgb(51,51,51)" stroke-width="1.3" stroke-linecap="round"/>
<line x1="506.3" y1="123.1" x2="511.7" y2="120.9" stroke="rgb(46,46,46)" stroke-width="1.3" stroke-linecap="round"/>
<line x1="487.2" y1="174.7" x2="492.3" y2="173.8" stroke="rgb(31,31,31)" stroke-width="1.3" stroke-linecap="round"/>
<line x1="458.0" y1="157.5" x2="464.8" y2="162.7" stroke="rgb(20,20,20)" stroke-width="1.3" stroke-linecap="round"/>
<line x1="476.7" y1="137.6" x2="487.0" y2="139.8" stroke="rgb(30,30,30)" stroke-width="1.3" stroke-linecap="round"/>
<line x1="360.9" y1="125.3" x2="366.8" y2="125.7" stroke="rgb(43,43,43)" stroke-width="1.3" stroke-linecap="round"/>
<line x1="460.3" y1="131.4" x2="466.1" y2="132.5" stroke="rgb(33,33,33)" stroke-width="1.3" stroke-linecap="round"/>
<line x1="491.3" y1="172.6" x2="497.3" y2="169.0" stroke="rgb(31,31,31)" stroke-width="1.3" stroke-linecap="round"/>
<line x1="342.5" y1="167.8" x2="348.2" y2="168.8" stroke="rgb(42,42,42)" stroke-width="1.3" stroke-linecap="round"/>
<line x1="432.9" y1="145.8" x2="436.5" y2="143.0" stroke="rgb(36,36,36)" stroke-width="1.3" stroke-linecap="round"/>
<line x1="491.0" y1="153.3" x2="498.3" y2="156.8" stroke="rgb(24,24,24)" stroke-width="1.3" stroke-linecap="round"/>
<line x1="362.9" y1="138.1" x2="371.2" y2="143.0" stroke="rgb(42,42,42)" stroke-width="1.3" stroke-linecap="round"/>
<line x1="490.2" y1="131.8" x2="494.7" y2="130.3" stroke="rgb(36,36,36)" stroke-width="1.3" stroke-linecap="round"/>
<line x1="487.8" y1="144.4" x2="492.8" y2="145.2" stroke="rgb(49,49,49)" stroke-width="1.3" stroke-linecap="round"/>
<line x1="484.6" y1="180.9" x2="493.9" y2="185.0" stroke="rgb(20,20,20)" stroke-width="1.3" stroke-linecap="round"/>
<line x1="463.4" y1="139.7" x2="471.5" y2="144.9" stroke="rgb(46,46,46)" stroke-width="1.3" stroke-linecap="round"/>
<line x1="475.7" y1="135.5" x2="480.1" y2="137.2" stroke="rgb(31,31,31)" stroke-width="1.3" stroke-linecap="round"/>
<line x1="483.6" y1="132.6" x2="490.2" y2="135.6" stroke="rgb(27,27,27)" stroke-width="1.3" stroke-linecap="round"/>
<line x1="473.1" y1="133.0" x2="477.5" y2="129.8" stroke="rgb(21,21,21)" stroke-width="1.3" stroke-linecap="round"/>
<line x1="484.5" y1="180.3" x2="492.6" y2="177.8" stroke="rgb(32,32,32)" stroke-width="1.3" stroke-linecap="round"/>
<line x1="503.8" y1="114.1" x2="507.7" y2="116.4" stroke="rgb(51,51,51)" stroke-width="1.3" stroke-linecap="round"/>
<line x1="371.4" y1="121.7" x2="375.7" y2="120.4" stroke="rgb(33,33,33)" stroke-width="1.3" stroke-linecap="round"/>
<line x1="462.1" y1="110.0" x2="468.6" y2="110.9" stroke="rgb(30,30,30)" stroke-width="1.3" stroke-linecap="round"/>
<line x1="437.0" y1="109.0" x2="440.9" y2="110.0" stroke="rgb(45,45,45)" stroke-width="1.3" stroke-linecap="round"/>
<line x1="430.7" y1="117.3" x2="437.8" y2="119.5" stroke="rgb(25,25,25)" stroke-width="1.3" stroke-linecap="round"/>
<line x1="353.4" y1="116.4" x2="358.9" y2="115.2" stroke="rgb(38,38,38)" stroke-width="1.3" stroke-linecap="round"/>
<line x1="460.7" y1="109.8" x2="466.5" y2="108.4" stroke="rgb(31,31,31)" stroke-width="1.3" stroke-linecap="round"/>
<line x1="390.7" y1="106.7" x2="399.3" y2="105.8" stroke="rgb(39,39,39)" stroke-width="1.3" stroke-linecap="round"/>
<line x1="490.9" y1="115.5" x2="497.4" y2="113.9" stroke="rgb(19,19,19)" stroke-width="1.3" stroke-linecap="round"/>
<line x1="389.2" y1="112.1" x2="396.5" y2="112.8" stroke="rgb(31,31,31)" stroke-width="1.3" stroke-linecap="round"/>
<line x1="414.9" y1="108.2" x2="423.4" y2="108.0" stroke="rgb(36,36,36)" stroke-width="1.3" stroke-linecap="round"/>
<line x1="369.9" y1="105.9" x2="377.1" y2="106.1" stroke="rgb(29,29,29)" stroke-width="1.3" stroke-linecap="round"/>
<line x1="476.9" y1="117.9" x2="481.9" y2="119.0" stroke="rgb(27,27,27)" stroke-width="1.3" stroke-linecap="round"/>
<line x1="345.9" y1="108.8" x2="354.2" y2="108.6" stroke="rgb(20,20,20)" stroke-width="1.3" stroke-linecap="round"/>
<line x1="410.3" y1="115.7" x2="417.2" y2="113.0" stroke="rgb(35,35,35)" stroke-width="1.3" stroke-linecap="round"/>
<line x1="382.2" y1="116.2" x2="388.5" y2="111.8" stroke="rgb(45,45,45)" stroke-width="1.3" stroke-linecap="round"/>
<line x1="359.5" y1="112.1" x2="367.6" y2="108.7" stroke="rgb(33,33,33)" stroke-width="1.3" stroke-linecap="round"/>
<line x1="350.2" y1="108.9" x2="355.9" y2="111.5" stroke="rgb(49,49,49)" stroke-width="1.3" stroke-linecap="round"/>
<line x1="452.1" y1="122.2" x2="460.7" y2="123.2" stroke="rgb(39,39,39)" stroke-width="1.3" stroke-linecap="round"/>
<line x1="443.0" y1="117.3" x2="451.1" y2="117.4" stroke="rgb(41,41,41)" stroke-width="1.3" stroke-linecap="round"/>
<line x1="489.9" y1="117.8" x2="495.2" y2="117.6" stroke="rgb(22,22,22)" stroke-width="1.3" stroke-linecap="round"/>
<line x1="447.1" y1="118.2" x2="454.2" y2="118.4" stroke="rgb(25,25,25)" stroke-width="1.3" stroke-linecap="round"/>
<line x1="354.7" y1="109.5" x2="360.1" y2="108.0" stroke="rgb(39,39,39)" stroke-width="1.3" stroke-linecap="round"/>
<line x1="364.7" y1="108.6" x2="372.1" y2="110.3" stroke="rgb(17,17,17)" stroke-width="1.3" stroke-linecap="round"/>
<line x1="409.2" y1="114.2" x2="414.2" y2="113.6" stroke="rgb(32,32,32)" stroke-width="1.3" stroke-linecap="round"/>
<path d="M339.9,111.0 L343.1,110.8 L349.3,109.6 L354.2,110.2 L357.8,113.2 L362.7,113.2 L367.7,111.4 L371.3,109.0 L374.4,107.1 L378.7,109.6 L383.6,109.6 L387.9,110.8 L392.2,115.1 L395.9,115.7 L399.5,113.9 L402.6,112.0 L405.7,113.9 L408.1,115.7 L411.8,112.0 L415.5,110.2 L420.4,109.6 L423.9,110.8 L428.8,114.5 L432.5,112.0 L437.4,108.3 L442.3,107.7 L446.0,109.0 L449.7,112.6 L452.7,115.1 L457.0,112.0 L460.7,108.3 L464.4,107.1 L468.0,109.0 L471.7,112.0 L476.0,115.7" fill="none" stroke="rgb(91,91,91)" stroke-width="2.76" stroke-linejoin="round" stroke-linecap="round"/>
<path d="M476.0,115.7 L478.9,112.9 L481.9,109.9 L486.9,108.4 L491.9,110.2 L496.9,111.8 L499.3,112.0 L502.9,110.4 L508.9,109.4" fill="none" stroke="rgb(82,82,82)" stroke-width="2.42" stroke-linejoin="round" stroke-linecap="round"/>
<path d="M339.9,113.4 L345.9,113.9 L351.9,112.9 L356.9,114.9" fill="none" stroke="rgb(59,59,59)" stroke-width="2.07" stroke-linejoin="round" stroke-linecap="round"/>
<path d="M393.9,119.9 L398.9,118.4 L403.9,119.4 L408.9,120.9" fill="none" stroke="rgb(59,59,59)" stroke-width="2.07" stroke-linejoin="round" stroke-linecap="round"/>
<path d="M425.9,117.9 L430.9,119.4 L435.9,118.4 L440.9,116.9" fill="none" stroke="rgb(59,59,59)" stroke-width="2.07" stroke-linejoin="round" stroke-linecap="round"/>
<path d="M477.9,119.4 L483.9,121.4 L489.9,122.4 L496.9,121.9 L502.9,120.4 L508.9,120.9" fill="none" stroke="rgb(64,64,64)" stroke-width="2.07" stroke-linejoin="round" stroke-linecap="round"/>
<path d="M453.9,118.4 L459.9,119.9 L465.9,119.4 L470.9,117.9" fill="none" stroke="rgb(55,55,55)" stroke-width="1.95" stroke-linejoin="round" stroke-linecap="round"/>
<path d="M366.4,115.9 L369.4,114.9 L373.4,115.9" fill="none" stroke="rgb(82,82,82)" stroke-width="2.18" stroke-linejoin="round" stroke-linecap="round"/>
<path d="M373.4,107.4 L378.7,111.9 L383.6,113.9 L388.5,115.1" fill="none" stroke="rgb(64,64,64)" stroke-width="1.95" stroke-linejoin="round" stroke-linecap="round"/>
<path d="M477.9,106.4 L482.9,104.9 L488.9,105.9 L494.9,106.9 L501.9,107.4 L508.9,106.4" fill="none" stroke="rgb(64,64,64)" stroke-width="1.84" stroke-linejoin="round" stroke-linecap="round"/>
<path d="M339.9,119.9 L349.9,120.9 L357.9,119.9 L363.9,121.2" fill="none" stroke="rgb(68,68,68)" stroke-width="1.84" stroke-linejoin="round" stroke-linecap="round"/>
<path d="M366.4,121.8 L371.3,120.0 L373.8,118.8" fill="none" stroke="rgb(114,114,114)" stroke-width="2.07" stroke-linejoin="round" stroke-linecap="round"/>
<path d="M361.5,136.9 L362.1,138.0 L365.2,141.7 L367.7,144.8 L371.3,148.4 L375.0,151.5 L378.7,154.0" fill="none" stroke="rgb(102,102,102)" stroke-width="2.42" stroke-linejoin="round" stroke-linecap="round"/>
<path d="M378.7,154.0 L381.1,154.6 L384.8,154.4 L388.5,156.1" fill="none" stroke="rgb(59,59,59)" stroke-width="2.07" stroke-linejoin="round" stroke-linecap="round"/>
<path d="M388.5,156.1 L393.4,158.9 L397.1,160.2 L400.8,158.9 L404.4,157.0 L409.3,156.7 L415.5,157.7 L420.4,159.0 L423.9,156.9 L425.9,155.5 L428.8,152.7 L432.5,151.5" fill="none" stroke="rgb(134,134,134)" stroke-width="2.53" stroke-linejoin="round" stroke-linecap="round"/>
<path d="M339.9,123.9 L341.9,124.9 L346.8,126.7 L351.7,129.4 L355.4,131.4 L357.9,133.2 L361.5,134.9 L362.9,136.9" fill="none" stroke="rgb(139,139,139)" stroke-width="2.18" stroke-linejoin="round" stroke-linecap="round"/>
<path d="M390.9,124.9 L395.9,127.0 L400.8,129.2 L405.7,131.9 L410.6,134.4 L415.5,137.2 L419.9,138.9 L423.9,139.2 L428.8,142.3 L433.7,144.8" fill="none" stroke="rgb(112,112,112)" stroke-width="2.18" stroke-linejoin="round" stroke-linecap="round"/>
<path d="M370.1,124.6 L375.0,125.4 L379.9,126.1 L383.6,128.0 L386.0,130.4 L387.9,131.9 L390.9,132.9" fill="none" stroke="rgb(134,134,134)" stroke-width="2.07" stroke-linejoin="round" stroke-linecap="round"/>
<path d="M447.2,126.7 L453.3,126.1 L459.5,127.3 L464.4,129.2 L468.0,131.6 L471.7,134.1 L475.4,137.2 L480.3,139.9" fill="none" stroke="rgb(139,139,139)" stroke-width="2.07" stroke-linejoin="round" stroke-linecap="round"/>
<path d="M479.1,121.8 L484.0,124.3 L488.9,126.7 L492.6,129.2 L497.5,128.0 L502.4,126.7 L508.9,125.4" fill="none" stroke="rgb(112,112,112)" stroke-width="1.95" stroke-linejoin="round" stroke-linecap="round"/>
<path d="M404.4,124.3 L410.6,121.8 L415.5,120.6 L420.4,121.2 L425.9,121.8 L429.9,122.4 L436.2,121.2 L443.5,119.4 L447.2,118.8" fill="none" stroke="rgb(48,48,48)" stroke-width="1.84" stroke-linejoin="round" stroke-linecap="round"/>
<path d="M490.1,123.1 L495.0,121.2 L499.9,118.8 L504.8,116.9 L508.9,115.7" fill="none" stroke="rgb(112,112,112)" stroke-width="1.95" stroke-linejoin="round" stroke-linecap="round"/>
<path d="M498.9,156.4 L501.2,155.8 L506.1,157.0 L508.9,155.4" fill="none" stroke="rgb(91,91,91)" stroke-width="2.07" stroke-linejoin="round" stroke-linecap="round"/>
<path d="M468.0,147.2 L475.4,146.0 L482.8,148.4 L490.1,147.2 L497.5,149.7 L503.9,148.4" fill="none" stroke="rgb(39,39,39)" stroke-width="1.84" stroke-linejoin="round" stroke-linecap="round"/>
<path d="M341.9,138.6 L346.8,141.1 L354.2,144.1 L357.8,146.0" fill="none" stroke="rgb(35,35,35)" stroke-width="1.84" stroke-linejoin="round" stroke-linecap="round"/>
<path d="M341.9,154.3 L349.3,155.5 L356.6,153.7 L362.7,150.6" fill="none" stroke="rgb(39,39,39)" stroke-width="1.84" stroke-linejoin="round" stroke-linecap="round"/>
<path d="M436.2,174.2 L443.5,176.6 L450.9,177.9" fill="none" stroke="rgb(39,39,39)" stroke-width="1.84" stroke-linejoin="round" stroke-linecap="round"/>
<path d="M453.9,169.4 L458.9,170.9 L463.1,173.3 L467.9,171.9 L472.9,169.9" fill="none" stroke="rgb(48,48,48)" stroke-width="1.84" stroke-linejoin="round" stroke-linecap="round"/>
<path d="M458.9,176.9 L463.1,173.3 L467.4,176.9" fill="none" stroke="rgb(45,45,45)" stroke-width="1.72" stroke-linejoin="round" stroke-linecap="round"/>
<path d="M482.8,174.2 L490.1,170.5 L497.5,168.1 L503.9,165.4" fill="none" stroke="rgb(39,39,39)" stroke-width="1.84" stroke-linejoin="round" stroke-linecap="round"/>
<path d="M346.9,155.4 L356.9,156.4 L363.9,154.4" fill="none" stroke="rgb(29,29,29)" stroke-width="1.72" stroke-linejoin="round" stroke-linecap="round"/>
<path d="M366.9,164.4 L378.9,166.4 L390.9,169.4 L402.9,171.9 L414.9,174.4 L425.9,176.4" fill="none" stroke="rgb(32,32,32)" stroke-width="1.72" stroke-linejoin="round" stroke-linecap="round"/>
<path d="M441.9,144.4 L447.9,142.4 L454.9,146.4 L461.9,145.4" fill="none" stroke="rgb(35,35,35)" stroke-width="1.84" stroke-linejoin="round" stroke-linecap="round"/>
<path d="M427.9,128.4 L433.9,127.9 L439.9,129.4 L445.9,130.4" fill="none" stroke="rgb(35,35,35)" stroke-width="1.72" stroke-linejoin="round" stroke-linecap="round"/>
<path d="M401.9,136.4 L407.9,141.4 L413.9,145.4" fill="none" stroke="rgb(32,32,32)" stroke-width="1.72" stroke-linejoin="round" stroke-linecap="round"/>
<path d="M441.9,160.4 L451.9,158.4 L461.9,162.4 L469.9,160.4" fill="none" stroke="rgb(35,35,35)" stroke-width="1.72" stroke-linejoin="round" stroke-linecap="round"/>
<path d="M346.9,170.4 L356.9,172.4 L366.9,176.4 L376.9,178.4" fill="none" stroke="rgb(29,29,29)" stroke-width="1.72" stroke-linejoin="round" stroke-linecap="round"/>
<path d="M479.9,180.4 L489.9,178.9 L497.9,180.4 L505.9,179.4" fill="none" stroke="rgb(35,35,35)" stroke-width="1.84" stroke-linejoin="round" stroke-linecap="round"/>
<path d="M476.9,154.4 L483.9,158.4 L491.9,162.4 L499.9,164.4" fill="none" stroke="rgb(32,32,32)" stroke-width="1.72" stroke-linejoin="round" stroke-linecap="round"/>
<path d="M389.9,140.4 L397.9,142.4 L403.9,146.4" fill="none" stroke="rgb(29,29,29)" stroke-width="1.72" stroke-linejoin="round" stroke-linecap="round"/>
<path d="M431.9,164.4 L439.9,166.4 L447.9,165.4" fill="none" stroke="rgb(29,29,29)" stroke-width="1.72" stroke-linejoin="round" stroke-linecap="round"/>
</g>
<g filter="url(#hot2)" style="mix-blend-mode:lighten">
<rect x="341.9" y="92.4" width="165.1" height="90.4" fill="#000"/>
<ellipse cx="392.7" cy="115.3" rx="4.7" ry="2.7" fill="url(#rg)" fill-opacity="0.59"/>
<ellipse cx="408.1" cy="115.4" rx="3.6" ry="2.3" fill="url(#rg)" fill-opacity="0.52"/>
<ellipse cx="452.7" cy="114.9" rx="3.6" ry="2.3" fill="url(#rg)" fill-opacity="0.55"/>
<ellipse cx="499.3" cy="112.0" rx="3.6" ry="2.3" fill="url(#rg)" fill-opacity="0.48"/>
<ellipse cx="374.9" cy="107.4" rx="3.6" ry="2.2" fill="url(#rg)" fill-opacity="0.43"/>
<ellipse cx="464.4" cy="107.3" rx="3.2" ry="2.2" fill="url(#rg)" fill-opacity="0.46"/>
<ellipse cx="437.4" cy="108.4" rx="3.2" ry="2.2" fill="url(#rg)" fill-opacity="0.38"/>
<ellipse cx="367.7" cy="144.8" rx="2.5" ry="3.2" fill="url(#rg)" fill-opacity="0.56"/>
<ellipse cx="404.4" cy="156.8" rx="4.3" ry="2.5" fill="url(#rg)" fill-opacity="0.69"/>
<ellipse cx="356.9" cy="132.3" rx="2.9" ry="2.3" fill="url(#rg)" fill-opacity="0.87"/>
<ellipse cx="380.4" cy="125.8" rx="3.6" ry="2.2" fill="url(#rg)" fill-opacity="0.81"/>
<ellipse cx="472.1" cy="134.5" rx="3.6" ry="2.5" fill="url(#rg)" fill-opacity="0.96"/>
<ellipse cx="493.2" cy="123.7" rx="3.2" ry="2.2" fill="url(#rg)" fill-opacity="0.56"/>
<ellipse cx="385.9" cy="138.0" rx="4.0" ry="2.3" fill="url(#rg)" fill-opacity="0.58"/>
<ellipse cx="463.1" cy="173.3" rx="2.7" ry="2.2" fill="url(#rg)" fill-opacity="0.74"/>
<ellipse cx="386.0" cy="130.4" rx="2.9" ry="2.2" fill="url(#rg)" fill-opacity="0.69"/>
<ellipse cx="366.4" cy="121.6" rx="3.2" ry="2.2" fill="url(#rg)" fill-opacity="0.58"/>
</g>
</g>
<text x="344.4" y="105.80000000000001" font-size="13.6" font-weight="bold" fill="#fff">g</text>
<text x="424.09999999999997" y="104.2" font-size="10.9" fill="#fff" text-anchor="middle">7.4 min</text>
<g clip-path="url(#cp7)">
<g filter="url(#hot)">
<rect x="508.7" y="92.4" width="165.2" height="90.4" fill="rgb(1,1,1)"/>
<line x1="614.2" y1="120.0" x2="619.5" y2="118.4" stroke="rgb(44,44,44)" stroke-width="1.3" stroke-linecap="round"/>
<line x1="620.4" y1="175.5" x2="626.3" y2="171.9" stroke="rgb(25,25,25)" stroke-width="1.3" stroke-linecap="round"/>
<line x1="544.8" y1="150.7" x2="549.1" y2="147.6" stroke="rgb(40,40,40)" stroke-width="1.3" stroke-linecap="round"/>
<line x1="598.6" y1="132.5" x2="608.2" y2="133.7" stroke="rgb(18,18,18)" stroke-width="1.3" stroke-linecap="round"/>
<line x1="641.7" y1="163.1" x2="646.6" y2="162.0" stroke="rgb(39,39,39)" stroke-width="1.3" stroke-linecap="round"/>
<line x1="564.2" y1="124.3" x2="572.8" y2="119.3" stroke="rgb(38,38,38)" stroke-width="1.3" stroke-linecap="round"/>
<line x1="641.9" y1="165.1" x2="652.7" y2="165.6" stroke="rgb(34,34,34)" stroke-width="1.3" stroke-linecap="round"/>
<line x1="599.8" y1="171.5" x2="609.7" y2="173.1" stroke="rgb(25,25,25)" stroke-width="1.3" stroke-linecap="round"/>
<line x1="625.0" y1="121.3" x2="630.6" y2="119.2" stroke="rgb(18,18,18)" stroke-width="1.3" stroke-linecap="round"/>
<line x1="547.1" y1="124.9" x2="555.2" y2="122.4" stroke="rgb(35,35,35)" stroke-width="1.3" stroke-linecap="round"/>
<line x1="569.8" y1="131.8" x2="579.8" y2="128.6" stroke="rgb(28,28,28)" stroke-width="1.3" stroke-linecap="round"/>
<line x1="609.2" y1="129.4" x2="614.1" y2="130.9" stroke="rgb(32,32,32)" stroke-width="1.3" stroke-linecap="round"/>
<line x1="672.0" y1="159.4" x2="680.7" y2="160.0" stroke="rgb(36,36,36)" stroke-width="1.3" stroke-linecap="round"/>
<line x1="636.7" y1="133.1" x2="641.8" y2="129.4" stroke="rgb(29,29,29)" stroke-width="1.3" stroke-linecap="round"/>
<line x1="543.5" y1="178.7" x2="549.0" y2="181.7" stroke="rgb(42,42,42)" stroke-width="1.3" stroke-linecap="round"/>
<line x1="574.0" y1="176.9" x2="579.8" y2="176.6" stroke="rgb(27,27,27)" stroke-width="1.3" stroke-linecap="round"/>
<line x1="601.3" y1="135.2" x2="611.5" y2="136.4" stroke="rgb(28,28,28)" stroke-width="1.3" stroke-linecap="round"/>
<line x1="544.9" y1="182.2" x2="549.5" y2="182.3" stroke="rgb(19,19,19)" stroke-width="1.3" stroke-linecap="round"/>
<line x1="526.8" y1="158.6" x2="533.2" y2="161.2" stroke="rgb(23,23,23)" stroke-width="1.3" stroke-linecap="round"/>
<line x1="571.7" y1="182.2" x2="582.5" y2="182.6" stroke="rgb(43,43,43)" stroke-width="1.3" stroke-linecap="round"/>
<line x1="510.6" y1="164.5" x2="518.1" y2="166.4" stroke="rgb(25,25,25)" stroke-width="1.3" stroke-linecap="round"/>
<line x1="614.5" y1="125.5" x2="621.6" y2="124.9" stroke="rgb(42,42,42)" stroke-width="1.3" stroke-linecap="round"/>
<line x1="653.2" y1="135.3" x2="658.5" y2="135.3" stroke="rgb(42,42,42)" stroke-width="1.3" stroke-linecap="round"/>
<line x1="652.3" y1="137.5" x2="660.5" y2="139.0" stroke="rgb(21,21,21)" stroke-width="1.3" stroke-linecap="round"/>
<line x1="634.5" y1="152.9" x2="641.7" y2="155.7" stroke="rgb(17,17,17)" stroke-width="1.3" stroke-linecap="round"/>
<line x1="562.2" y1="119.6" x2="570.7" y2="125.1" stroke="rgb(39,39,39)" stroke-width="1.3" stroke-linecap="round"/>
<line x1="559.4" y1="122.1" x2="568.8" y2="127.2" stroke="rgb(18,18,18)" stroke-width="1.3" stroke-linecap="round"/>
<line x1="588.9" y1="122.8" x2="597.7" y2="126.0" stroke="rgb(25,25,25)" stroke-width="1.3" stroke-linecap="round"/>
<line x1="587.1" y1="153.6" x2="596.7" y2="150.5" stroke="rgb(35,35,35)" stroke-width="1.3" stroke-linecap="round"/>
<line x1="543.6" y1="152.9" x2="548.8" y2="154.5" stroke="rgb(32,32,32)" stroke-width="1.3" stroke-linecap="round"/>
<line x1="672.9" y1="160.0" x2="680.5" y2="159.4" stroke="rgb(20,20,20)" stroke-width="1.3" stroke-linecap="round"/>
<line x1="545.8" y1="140.0" x2="551.3" y2="140.7" stroke="rgb(24,24,24)" stroke-width="1.3" stroke-linecap="round"/>
<line x1="520.4" y1="158.8" x2="530.1" y2="155.2" stroke="rgb(49,49,49)" stroke-width="1.3" stroke-linecap="round"/>
<line x1="520.4" y1="133.6" x2="525.8" y2="134.9" stroke="rgb(22,22,22)" stroke-width="1.3" stroke-linecap="round"/>
<line x1="663.1" y1="154.9" x2="672.5" y2="154.6" stroke="rgb(49,49,49)" stroke-width="1.3" stroke-linecap="round"/>
<line x1="540.1" y1="124.6" x2="547.1" y2="124.0" stroke="rgb(26,26,26)" stroke-width="1.3" stroke-linecap="round"/>
<line x1="629.0" y1="161.5" x2="632.8" y2="164.3" stroke="rgb(35,35,35)" stroke-width="1.3" stroke-linecap="round"/>
<line x1="564.7" y1="173.5" x2="569.7" y2="171.8" stroke="rgb(23,23,23)" stroke-width="1.3" stroke-linecap="round"/>
<line x1="578.3" y1="136.2" x2="588.2" y2="132.8" stroke="rgb(33,33,33)" stroke-width="1.3" stroke-linecap="round"/>
<line x1="650.8" y1="153.6" x2="659.9" y2="147.4" stroke="rgb(46,46,46)" stroke-width="1.3" stroke-linecap="round"/>
<line x1="668.6" y1="177.7" x2="673.2" y2="180.0" stroke="rgb(32,32,32)" stroke-width="1.3" stroke-linecap="round"/>
<line x1="544.0" y1="144.1" x2="549.5" y2="140.4" stroke="rgb(46,46,46)" stroke-width="1.3" stroke-linecap="round"/>
<line x1="552.5" y1="168.6" x2="559.4" y2="168.2" stroke="rgb(52,52,52)" stroke-width="1.3" stroke-linecap="round"/>
<line x1="672.9" y1="154.0" x2="677.8" y2="155.4" stroke="rgb(34,34,34)" stroke-width="1.3" stroke-linecap="round"/>
<line x1="668.5" y1="155.5" x2="677.8" y2="156.0" stroke="rgb(18,18,18)" stroke-width="1.3" stroke-linecap="round"/>
<line x1="605.1" y1="150.6" x2="609.6" y2="152.9" stroke="rgb(43,43,43)" stroke-width="1.3" stroke-linecap="round"/>
<line x1="521.9" y1="130.3" x2="530.6" y2="131.4" stroke="rgb(20,20,20)" stroke-width="1.3" stroke-linecap="round"/>
<line x1="528.5" y1="175.4" x2="536.2" y2="172.7" stroke="rgb(33,33,33)" stroke-width="1.3" stroke-linecap="round"/>
<line x1="577.9" y1="155.8" x2="588.4" y2="156.1" stroke="rgb(20,20,20)" stroke-width="1.3" stroke-linecap="round"/>
<line x1="626.9" y1="133.7" x2="635.5" y2="132.5" stroke="rgb(22,22,22)" stroke-width="1.3" stroke-linecap="round"/>
<line x1="560.9" y1="166.5" x2="566.9" y2="162.6" stroke="rgb(46,46,46)" stroke-width="1.3" stroke-linecap="round"/>
<line x1="673.1" y1="123.1" x2="678.5" y2="120.9" stroke="rgb(33,33,33)" stroke-width="1.3" stroke-linecap="round"/>
<line x1="654.0" y1="174.7" x2="659.1" y2="173.8" stroke="rgb(33,33,33)" stroke-width="1.3" stroke-linecap="round"/>
<line x1="624.8" y1="157.5" x2="631.6" y2="162.7" stroke="rgb(15,15,15)" stroke-width="1.3" stroke-linecap="round"/>
<line x1="643.5" y1="137.6" x2="653.8" y2="139.8" stroke="rgb(27,27,27)" stroke-width="1.3" stroke-linecap="round"/>
<line x1="527.7" y1="125.3" x2="533.6" y2="125.7" stroke="rgb(30,30,30)" stroke-width="1.3" stroke-linecap="round"/>
<line x1="627.1" y1="131.4" x2="632.9" y2="132.5" stroke="rgb(25,25,25)" stroke-width="1.3" stroke-linecap="round"/>
<line x1="658.1" y1="172.6" x2="664.1" y2="169.0" stroke="rgb(28,28,28)" stroke-width="1.3" stroke-linecap="round"/>
<line x1="509.3" y1="167.8" x2="515.0" y2="168.8" stroke="rgb(42,42,42)" stroke-width="1.3" stroke-linecap="round"/>
<line x1="599.7" y1="145.8" x2="603.3" y2="143.0" stroke="rgb(44,44,44)" stroke-width="1.3" stroke-linecap="round"/>
<line x1="657.8" y1="153.3" x2="665.1" y2="156.8" stroke="rgb(24,24,24)" stroke-width="1.3" stroke-linecap="round"/>
<line x1="529.7" y1="138.1" x2="538.0" y2="143.0" stroke="rgb(41,41,41)" stroke-width="1.3" stroke-linecap="round"/>
<line x1="657.0" y1="131.8" x2="661.5" y2="130.3" stroke="rgb(43,43,43)" stroke-width="1.3" stroke-linecap="round"/>
<line x1="654.6" y1="144.4" x2="659.6" y2="145.2" stroke="rgb(38,38,38)" stroke-width="1.3" stroke-linecap="round"/>
<line x1="651.4" y1="180.9" x2="660.7" y2="185.0" stroke="rgb(25,25,25)" stroke-width="1.3" stroke-linecap="round"/>
<line x1="630.2" y1="139.7" x2="638.3" y2="144.9" stroke="rgb(45,45,45)" stroke-width="1.3" stroke-linecap="round"/>
<line x1="642.5" y1="135.5" x2="646.9" y2="137.2" stroke="rgb(48,48,48)" stroke-width="1.3" stroke-linecap="round"/>
<line x1="650.4" y1="132.6" x2="657.0" y2="135.6" stroke="rgb(33,33,33)" stroke-width="1.3" stroke-linecap="round"/>
<line x1="639.9" y1="133.0" x2="644.3" y2="129.8" stroke="rgb(33,33,33)" stroke-width="1.3" stroke-linecap="round"/>
<line x1="651.3" y1="180.3" x2="659.4" y2="177.8" stroke="rgb(30,30,30)" stroke-width="1.3" stroke-linecap="round"/>
<line x1="670.6" y1="114.1" x2="674.5" y2="116.4" stroke="rgb(44,44,44)" stroke-width="1.3" stroke-linecap="round"/>
<line x1="538.2" y1="121.7" x2="542.5" y2="120.4" stroke="rgb(37,37,37)" stroke-width="1.3" stroke-linecap="round"/>
<line x1="628.9" y1="110.0" x2="635.4" y2="110.9" stroke="rgb(31,31,31)" stroke-width="1.3" stroke-linecap="round"/>
<line x1="603.8" y1="109.0" x2="607.7" y2="110.0" stroke="rgb(32,32,32)" stroke-width="1.3" stroke-linecap="round"/>
<line x1="597.5" y1="117.3" x2="604.6" y2="119.5" stroke="rgb(35,35,35)" stroke-width="1.3" stroke-linecap="round"/>
<line x1="520.2" y1="116.4" x2="525.7" y2="115.2" stroke="rgb(34,34,34)" stroke-width="1.3" stroke-linecap="round"/>
<line x1="627.5" y1="109.8" x2="633.3" y2="108.4" stroke="rgb(30,30,30)" stroke-width="1.3" stroke-linecap="round"/>
<line x1="557.5" y1="106.7" x2="566.1" y2="105.8" stroke="rgb(35,35,35)" stroke-width="1.3" stroke-linecap="round"/>
<line x1="657.7" y1="115.5" x2="664.2" y2="113.9" stroke="rgb(16,16,16)" stroke-width="1.3" stroke-linecap="round"/>
<line x1="556.0" y1="112.1" x2="563.3" y2="112.8" stroke="rgb(33,33,33)" stroke-width="1.3" stroke-linecap="round"/>
<line x1="581.7" y1="108.2" x2="590.2" y2="108.0" stroke="rgb(41,41,41)" stroke-width="1.3" stroke-linecap="round"/>
<line x1="536.7" y1="105.9" x2="543.9" y2="106.1" stroke="rgb(33,33,33)" stroke-width="1.3" stroke-linecap="round"/>
<line x1="643.7" y1="117.9" x2="648.7" y2="119.0" stroke="rgb(27,27,27)" stroke-width="1.3" stroke-linecap="round"/>
<line x1="512.7" y1="108.8" x2="521.0" y2="108.6" stroke="rgb(20,20,20)" stroke-width="1.3" stroke-linecap="round"/>
<line x1="577.1" y1="115.7" x2="584.0" y2="113.0" stroke="rgb(33,33,33)" stroke-width="1.3" stroke-linecap="round"/>
<line x1="549.0" y1="116.2" x2="555.3" y2="111.8" stroke="rgb(48,48,48)" stroke-width="1.3" stroke-linecap="round"/>
<line x1="526.3" y1="112.1" x2="534.4" y2="108.7" stroke="rgb(35,35,35)" stroke-width="1.3" stroke-linecap="round"/>
<line x1="517.0" y1="108.9" x2="522.7" y2="111.5" stroke="rgb(46,46,46)" stroke-width="1.3" stroke-linecap="round"/>
<line x1="618.9" y1="122.2" x2="627.5" y2="123.2" stroke="rgb(33,33,33)" stroke-width="1.3" stroke-linecap="round"/>
<line x1="609.8" y1="117.3" x2="617.9" y2="117.4" stroke="rgb(37,37,37)" stroke-width="1.3" stroke-linecap="round"/>
<line x1="656.7" y1="117.8" x2="662.0" y2="117.6" stroke="rgb(22,22,22)" stroke-width="1.3" stroke-linecap="round"/>
<line x1="613.9" y1="118.2" x2="621.0" y2="118.4" stroke="rgb(22,22,22)" stroke-width="1.3" stroke-linecap="round"/>
<line x1="521.5" y1="109.5" x2="526.9" y2="108.0" stroke="rgb(30,30,30)" stroke-width="1.3" stroke-linecap="round"/>
<line x1="531.5" y1="108.6" x2="538.9" y2="110.3" stroke="rgb(18,18,18)" stroke-width="1.3" stroke-linecap="round"/>
<line x1="576.0" y1="114.2" x2="581.0" y2="113.6" stroke="rgb(24,24,24)" stroke-width="1.3" stroke-linecap="round"/>
<path d="M506.7,111.0 L509.9,110.8 L516.1,109.6 L521.0,110.2 L524.6,113.2 L529.5,113.2 L534.5,111.4 L538.1,109.0 L541.2,107.1 L545.5,109.6 L550.4,109.6 L554.7,110.8 L559.0,115.1 L562.7,115.7 L566.3,113.9 L569.4,112.0 L572.5,113.9 L574.9,115.7 L578.6,112.0 L582.3,110.2 L587.2,109.6 L590.7,110.8 L595.6,114.5 L599.3,112.0 L604.2,108.3 L609.1,107.7 L612.8,109.0 L616.5,112.6 L619.5,115.1 L623.8,112.0 L627.5,108.3 L631.2,107.1 L634.8,109.0 L638.5,112.0 L642.8,115.7" fill="none" stroke="rgb(91,91,91)" stroke-width="2.76" stroke-linejoin="round" stroke-linecap="round"/>
<path d="M642.8,115.7 L645.7,112.9 L648.7,109.9 L653.7,108.4 L658.7,110.2 L663.7,111.8 L666.1,112.0 L669.7,110.4 L675.7,109.4" fill="none" stroke="rgb(82,82,82)" stroke-width="2.42" stroke-linejoin="round" stroke-linecap="round"/>
<path d="M506.7,113.4 L512.7,113.9 L518.7,112.9 L523.7,114.9" fill="none" stroke="rgb(59,59,59)" stroke-width="2.07" stroke-linejoin="round" stroke-linecap="round"/>
<path d="M560.7,119.9 L565.7,118.4 L570.7,119.4 L575.7,120.9" fill="none" stroke="rgb(59,59,59)" stroke-width="2.07" stroke-linejoin="round" stroke-linecap="round"/>
<path d="M592.7,117.9 L597.7,119.4 L602.7,118.4 L607.7,116.9" fill="none" stroke="rgb(59,59,59)" stroke-width="2.07" stroke-linejoin="round" stroke-linecap="round"/>
<path d="M644.7,119.4 L650.7,121.4 L656.7,122.4 L663.7,121.9 L669.7,120.4 L675.7,120.9" fill="none" stroke="rgb(64,64,64)" stroke-width="2.07" stroke-linejoin="round" stroke-linecap="round"/>
<path d="M620.7,118.4 L626.7,119.9 L632.7,119.4 L637.7,117.9" fill="none" stroke="rgb(55,55,55)" stroke-width="1.95" stroke-linejoin="round" stroke-linecap="round"/>
<path d="M533.2,115.9 L536.2,114.9 L540.2,115.9" fill="none" stroke="rgb(82,82,82)" stroke-width="2.18" stroke-linejoin="round" stroke-linecap="round"/>
<path d="M540.2,107.4 L545.5,111.9 L550.4,113.9 L555.3,115.1" fill="none" stroke="rgb(64,64,64)" stroke-width="1.95" stroke-linejoin="round" stroke-linecap="round"/>
<path d="M644.7,106.4 L649.7,104.9 L655.7,105.9 L661.7,106.9 L668.7,107.4 L675.7,106.4" fill="none" stroke="rgb(64,64,64)" stroke-width="1.84" stroke-linejoin="round" stroke-linecap="round"/>
<path d="M506.7,119.9 L516.7,120.9 L524.7,119.9 L530.7,121.2" fill="none" stroke="rgb(68,68,68)" stroke-width="1.84" stroke-linejoin="round" stroke-linecap="round"/>
<path d="M533.2,121.8 L538.1,120.0 L540.6,118.8" fill="none" stroke="rgb(114,114,114)" stroke-width="2.07" stroke-linejoin="round" stroke-linecap="round"/>
<path d="M528.3,136.9 L528.9,138.0 L532.0,141.7 L534.5,144.8 L538.1,148.4 L541.8,151.5 L545.5,154.0" fill="none" stroke="rgb(102,102,102)" stroke-width="2.42" stroke-linejoin="round" stroke-linecap="round"/>
<path d="M545.5,154.0 L547.9,154.6 L551.6,154.4 L555.3,156.1" fill="none" stroke="rgb(59,59,59)" stroke-width="2.07" stroke-linejoin="round" stroke-linecap="round"/>
<path d="M555.3,156.1 L560.2,158.9 L563.9,160.2 L567.6,158.9 L571.2,157.0 L576.1,156.7 L582.3,157.7 L587.2,159.0 L590.7,156.9 L592.7,155.5 L595.6,152.7 L599.3,151.5" fill="none" stroke="rgb(134,134,134)" stroke-width="2.53" stroke-linejoin="round" stroke-linecap="round"/>
<path d="M506.7,123.9 L508.7,124.9 L513.6,126.7 L518.5,129.4 L522.2,131.4 L524.7,133.2 L528.3,134.9 L529.7,136.9" fill="none" stroke="rgb(139,139,139)" stroke-width="2.18" stroke-linejoin="round" stroke-linecap="round"/>
<path d="M557.7,124.9 L562.7,127.0 L567.6,129.2 L572.5,131.9 L577.4,134.4 L582.3,137.2 L586.7,138.9 L590.7,139.2 L595.6,142.3 L600.5,144.8" fill="none" stroke="rgb(112,112,112)" stroke-width="2.18" stroke-linejoin="round" stroke-linecap="round"/>
<path d="M536.9,124.6 L541.8,125.4 L546.7,126.1 L550.4,128.0 L552.8,130.4 L554.7,131.9 L557.7,132.9" fill="none" stroke="rgb(134,134,134)" stroke-width="2.07" stroke-linejoin="round" stroke-linecap="round"/>
<path d="M614.0,126.7 L620.1,126.1 L626.3,127.3 L631.2,129.2 L634.8,131.6 L638.5,134.1 L642.2,137.2 L647.1,139.9" fill="none" stroke="rgb(139,139,139)" stroke-width="2.07" stroke-linejoin="round" stroke-linecap="round"/>
<path d="M645.9,121.8 L650.8,124.3 L655.7,126.7 L659.4,129.2 L664.3,128.0 L669.2,126.7 L675.7,125.4" fill="none" stroke="rgb(112,112,112)" stroke-width="1.95" stroke-linejoin="round" stroke-linecap="round"/>
<path d="M571.2,124.3 L577.4,121.8 L582.3,120.6 L587.2,121.2 L592.7,121.8 L596.7,122.4 L603.0,121.2 L610.3,119.4 L614.0,118.8" fill="none" stroke="rgb(48,48,48)" stroke-width="1.84" stroke-linejoin="round" stroke-linecap="round"/>
<path d="M656.9,123.1 L661.8,121.2 L666.7,118.8 L671.6,116.9 L675.7,115.7" fill="none" stroke="rgb(112,112,112)" stroke-width="1.95" stroke-linejoin="round" stroke-linecap="round"/>
<path d="M665.7,156.4 L668.0,155.8 L672.9,157.0 L675.7,155.4" fill="none" stroke="rgb(91,91,91)" stroke-width="2.07" stroke-linejoin="round" stroke-linecap="round"/>
<path d="M634.8,147.2 L642.2,146.0 L649.6,148.4 L656.9,147.2 L664.3,149.7 L670.7,148.4" fill="none" stroke="rgb(39,39,39)" stroke-width="1.84" stroke-linejoin="round" stroke-linecap="round"/>
<path d="M508.7,138.6 L513.6,141.1 L521.0,144.1 L524.6,146.0" fill="none" stroke="rgb(35,35,35)" stroke-width="1.84" stroke-linejoin="round" stroke-linecap="round"/>
<path d="M508.7,154.3 L516.1,155.5 L523.4,153.7 L529.5,150.6" fill="none" stroke="rgb(39,39,39)" stroke-width="1.84" stroke-linejoin="round" stroke-linecap="round"/>
<path d="M603.0,174.2 L610.3,176.6 L617.7,177.9" fill="none" stroke="rgb(39,39,39)" stroke-width="1.84" stroke-linejoin="round" stroke-linecap="round"/>
<path d="M620.7,169.4 L625.7,170.9 L629.9,173.3 L634.7,171.9 L639.7,169.9" fill="none" stroke="rgb(48,48,48)" stroke-width="1.84" stroke-linejoin="round" stroke-linecap="round"/>
<path d="M625.7,176.9 L629.9,173.3 L634.2,176.9" fill="none" stroke="rgb(45,45,45)" stroke-width="1.72" stroke-linejoin="round" stroke-linecap="round"/>
<path d="M649.6,174.2 L656.9,170.5 L664.3,168.1 L670.7,165.4" fill="none" stroke="rgb(39,39,39)" stroke-width="1.84" stroke-linejoin="round" stroke-linecap="round"/>
<path d="M513.7,155.4 L523.7,156.4 L530.7,154.4" fill="none" stroke="rgb(29,29,29)" stroke-width="1.72" stroke-linejoin="round" stroke-linecap="round"/>
<path d="M533.7,164.4 L545.7,166.4 L557.7,169.4 L569.7,171.9 L581.7,174.4 L592.7,176.4" fill="none" stroke="rgb(32,32,32)" stroke-width="1.72" stroke-linejoin="round" stroke-linecap="round"/>
<path d="M608.7,144.4 L614.7,142.4 L621.7,146.4 L628.7,145.4" fill="none" stroke="rgb(35,35,35)" stroke-width="1.84" stroke-linejoin="round" stroke-linecap="round"/>
<path d="M594.7,128.4 L600.7,127.9 L606.7,129.4 L612.7,130.4" fill="none" stroke="rgb(35,35,35)" stroke-width="1.72" stroke-linejoin="round" stroke-linecap="round"/>
<path d="M568.7,136.4 L574.7,141.4 L580.7,145.4" fill="none" stroke="rgb(32,32,32)" stroke-width="1.72" stroke-linejoin="round" stroke-linecap="round"/>
<path d="M608.7,160.4 L618.7,158.4 L628.7,162.4 L636.7,160.4" fill="none" stroke="rgb(35,35,35)" stroke-width="1.72" stroke-linejoin="round" stroke-linecap="round"/>
<path d="M513.7,170.4 L523.7,172.4 L533.7,176.4 L543.7,178.4" fill="none" stroke="rgb(29,29,29)" stroke-width="1.72" stroke-linejoin="round" stroke-linecap="round"/>
<path d="M646.7,180.4 L656.7,178.9 L664.7,180.4 L672.7,179.4" fill="none" stroke="rgb(35,35,35)" stroke-width="1.84" stroke-linejoin="round" stroke-linecap="round"/>
<path d="M643.7,154.4 L650.7,158.4 L658.7,162.4 L666.7,164.4" fill="none" stroke="rgb(32,32,32)" stroke-width="1.72" stroke-linejoin="round" stroke-linecap="round"/>
<path d="M556.7,140.4 L564.7,142.4 L570.7,146.4" fill="none" stroke="rgb(29,29,29)" stroke-width="1.72" stroke-linejoin="round" stroke-linecap="round"/>
<path d="M598.7,164.4 L606.7,166.4 L614.7,165.4" fill="none" stroke="rgb(29,29,29)" stroke-width="1.72" stroke-linejoin="round" stroke-linecap="round"/>
</g>
<g filter="url(#hot2)" style="mix-blend-mode:lighten">
<rect x="508.7" y="92.4" width="165.2" height="90.4" fill="#000"/>
<ellipse cx="559.5" cy="115.3" rx="4.7" ry="2.7" fill="url(#rg)" fill-opacity="0.59"/>
<ellipse cx="574.9" cy="115.4" rx="3.6" ry="2.3" fill="url(#rg)" fill-opacity="0.52"/>
<ellipse cx="619.5" cy="114.9" rx="3.6" ry="2.3" fill="url(#rg)" fill-opacity="0.55"/>
<ellipse cx="666.1" cy="112.0" rx="3.6" ry="2.3" fill="url(#rg)" fill-opacity="0.48"/>
<ellipse cx="541.7" cy="107.4" rx="3.6" ry="2.2" fill="url(#rg)" fill-opacity="0.43"/>
<ellipse cx="631.2" cy="107.3" rx="3.2" ry="2.2" fill="url(#rg)" fill-opacity="0.46"/>
<ellipse cx="604.2" cy="108.4" rx="3.2" ry="2.2" fill="url(#rg)" fill-opacity="0.38"/>
<ellipse cx="534.5" cy="144.8" rx="2.5" ry="3.2" fill="url(#rg)" fill-opacity="0.56"/>
<ellipse cx="571.2" cy="156.8" rx="4.3" ry="2.5" fill="url(#rg)" fill-opacity="0.69"/>
<ellipse cx="523.7" cy="132.3" rx="2.9" ry="2.3" fill="url(#rg)" fill-opacity="0.87"/>
<ellipse cx="547.2" cy="125.8" rx="3.6" ry="2.2" fill="url(#rg)" fill-opacity="0.81"/>
<ellipse cx="638.9" cy="134.5" rx="3.6" ry="2.5" fill="url(#rg)" fill-opacity="0.96"/>
<ellipse cx="660.0" cy="123.7" rx="3.2" ry="2.2" fill="url(#rg)" fill-opacity="0.56"/>
<ellipse cx="552.7" cy="138.0" rx="4.0" ry="2.3" fill="url(#rg)" fill-opacity="0.58"/>
<ellipse cx="629.9" cy="173.3" rx="2.7" ry="2.2" fill="url(#rg)" fill-opacity="0.74"/>
<ellipse cx="552.8" cy="130.4" rx="2.9" ry="2.2" fill="url(#rg)" fill-opacity="0.69"/>
<ellipse cx="533.2" cy="121.6" rx="3.2" ry="2.2" fill="url(#rg)" fill-opacity="0.58"/>
</g>
</g>
<text x="511.2" y="105.80000000000001" font-size="13.6" font-weight="bold" fill="#fff">h</text>
<text x="590.9" y="104.2" font-size="10.9" fill="#fff" text-anchor="middle">7.6 min</text>
<g clip-path="url(#cp8)">
<g filter="url(#hot)">
<rect x="8" y="184.6" width="165.6" height="90.1" fill="rgb(1,1,1)"/>
<line x1="113.5" y1="212.2" x2="118.8" y2="210.6" stroke="rgb(42,42,42)" stroke-width="1.3" stroke-linecap="round"/>
<line x1="119.7" y1="267.7" x2="125.6" y2="264.1" stroke="rgb(19,19,19)" stroke-width="1.3" stroke-linecap="round"/>
<line x1="44.1" y1="242.9" x2="48.4" y2="239.8" stroke="rgb(41,41,41)" stroke-width="1.3" stroke-linecap="round"/>
<line x1="97.9" y1="224.7" x2="107.5" y2="225.9" stroke="rgb(25,25,25)" stroke-width="1.3" stroke-linecap="round"/>
<line x1="141.0" y1="255.3" x2="145.9" y2="254.2" stroke="rgb(38,38,38)" stroke-width="1.3" stroke-linecap="round"/>
<line x1="63.5" y1="216.5" x2="72.1" y2="211.5" stroke="rgb(39,39,39)" stroke-width="1.3" stroke-linecap="round"/>
<line x1="141.2" y1="257.3" x2="152.0" y2="257.8" stroke="rgb(27,27,27)" stroke-width="1.3" stroke-linecap="round"/>
<line x1="99.1" y1="263.7" x2="109.0" y2="265.3" stroke="rgb(28,28,28)" stroke-width="1.3" stroke-linecap="round"/>
<line x1="124.3" y1="213.5" x2="129.9" y2="211.4" stroke="rgb(20,20,20)" stroke-width="1.3" stroke-linecap="round"/>
<line x1="46.4" y1="217.1" x2="54.5" y2="214.6" stroke="rgb(33,33,33)" stroke-width="1.3" stroke-linecap="round"/>
<line x1="69.1" y1="224.0" x2="79.1" y2="220.8" stroke="rgb(29,29,29)" stroke-width="1.3" stroke-linecap="round"/>
<line x1="108.5" y1="221.6" x2="113.4" y2="223.1" stroke="rgb(32,32,32)" stroke-width="1.3" stroke-linecap="round"/>
<line x1="171.3" y1="251.6" x2="180.0" y2="252.2" stroke="rgb(37,37,37)" stroke-width="1.3" stroke-linecap="round"/>
<line x1="136.0" y1="225.3" x2="141.1" y2="221.6" stroke="rgb(22,22,22)" stroke-width="1.3" stroke-linecap="round"/>
<line x1="42.8" y1="270.9" x2="48.3" y2="273.9" stroke="rgb(34,34,34)" stroke-width="1.3" stroke-linecap="round"/>
<line x1="73.3" y1="269.1" x2="79.1" y2="268.8" stroke="rgb(25,25,25)" stroke-width="1.3" stroke-linecap="round"/>
<line x1="100.6" y1="227.4" x2="110.8" y2="228.6" stroke="rgb(29,29,29)" stroke-width="1.3" stroke-linecap="round"/>
<line x1="44.2" y1="274.4" x2="48.8" y2="274.5" stroke="rgb(26,26,26)" stroke-width="1.3" stroke-linecap="round"/>
<line x1="26.1" y1="250.8" x2="32.5" y2="253.4" stroke="rgb(27,27,27)" stroke-width="1.3" stroke-linecap="round"/>
<line x1="71.0" y1="274.4" x2="81.8" y2="274.8" stroke="rgb(35,35,35)" stroke-width="1.3" stroke-linecap="round"/>
<line x1="9.9" y1="256.7" x2="17.4" y2="258.6" stroke="rgb(33,33,33)" stroke-width="1.3" stroke-linecap="round"/>
<line x1="113.8" y1="217.7" x2="120.9" y2="217.1" stroke="rgb(45,45,45)" stroke-width="1.3" stroke-linecap="round"/>
<line x1="152.5" y1="227.5" x2="157.8" y2="227.5" stroke="rgb(52,52,52)" stroke-width="1.3" stroke-linecap="round"/>
<line x1="151.6" y1="229.7" x2="159.8" y2="231.2" stroke="rgb(28,28,28)" stroke-width="1.3" stroke-linecap="round"/>
<line x1="133.8" y1="245.1" x2="141.0" y2="247.9" stroke="rgb(21,21,21)" stroke-width="1.3" stroke-linecap="round"/>
<line x1="61.5" y1="211.8" x2="70.0" y2="217.3" stroke="rgb(32,32,32)" stroke-width="1.3" stroke-linecap="round"/>
<line x1="58.7" y1="214.3" x2="68.1" y2="219.4" stroke="rgb(27,27,27)" stroke-width="1.3" stroke-linecap="round"/>
<line x1="88.2" y1="215.0" x2="97.0" y2="218.2" stroke="rgb(29,29,29)" stroke-width="1.3" stroke-linecap="round"/>
<line x1="86.4" y1="245.8" x2="96.0" y2="242.7" stroke="rgb(32,32,32)" stroke-width="1.3" stroke-linecap="round"/>
<line x1="42.9" y1="245.1" x2="48.1" y2="246.7" stroke="rgb(22,22,22)" stroke-width="1.3" stroke-linecap="round"/>
<line x1="172.2" y1="252.2" x2="179.8" y2="251.6" stroke="rgb(27,27,27)" stroke-width="1.3" stroke-linecap="round"/>
<line x1="45.1" y1="232.2" x2="50.6" y2="232.9" stroke="rgb(29,29,29)" stroke-width="1.3" stroke-linecap="round"/>
<line x1="19.7" y1="251.0" x2="29.4" y2="247.4" stroke="rgb(48,48,48)" stroke-width="1.3" stroke-linecap="round"/>
<line x1="19.7" y1="225.8" x2="25.1" y2="227.1" stroke="rgb(29,29,29)" stroke-width="1.3" stroke-linecap="round"/>
<line x1="162.4" y1="247.1" x2="171.8" y2="246.8" stroke="rgb(49,49,49)" stroke-width="1.3" stroke-linecap="round"/>
<line x1="39.4" y1="216.8" x2="46.4" y2="216.2" stroke="rgb(35,35,35)" stroke-width="1.3" stroke-linecap="round"/>
<line x1="128.3" y1="253.7" x2="132.1" y2="256.5" stroke="rgb(28,28,28)" stroke-width="1.3" stroke-linecap="round"/>
<line x1="64.0" y1="265.7" x2="69.0" y2="264.0" stroke="rgb(31,31,31)" stroke-width="1.3" stroke-linecap="round"/>
<line x1="77.6" y1="228.4" x2="87.5" y2="225.0" stroke="rgb(31,31,31)" stroke-width="1.3" stroke-linecap="round"/>
<line x1="150.1" y1="245.8" x2="159.2" y2="239.6" stroke="rgb(45,45,45)" stroke-width="1.3" stroke-linecap="round"/>
<line x1="167.9" y1="269.9" x2="172.5" y2="272.2" stroke="rgb(34,34,34)" stroke-width="1.3" stroke-linecap="round"/>
<line x1="43.3" y1="236.3" x2="48.8" y2="232.6" stroke="rgb(51,51,51)" stroke-width="1.3" stroke-linecap="round"/>
<line x1="51.8" y1="260.8" x2="58.7" y2="260.4" stroke="rgb(43,43,43)" stroke-width="1.3" stroke-linecap="round"/>
<line x1="172.2" y1="246.2" x2="177.1" y2="247.6" stroke="rgb(29,29,29)" stroke-width="1.3" stroke-linecap="round"/>
<line x1="167.8" y1="247.7" x2="177.1" y2="248.2" stroke="rgb(27,27,27)" stroke-width="1.3" stroke-linecap="round"/>
<line x1="104.4" y1="242.8" x2="108.9" y2="245.1" stroke="rgb(49,49,49)" stroke-width="1.3" stroke-linecap="round"/>
<line x1="21.2" y1="222.5" x2="29.9" y2="223.6" stroke="rgb(32,32,32)" stroke-width="1.3" stroke-linecap="round"/>
<line x1="27.8" y1="267.6" x2="35.5" y2="264.9" stroke="rgb(38,38,38)" stroke-width="1.3" stroke-linecap="round"/>
<line x1="77.2" y1="248.0" x2="87.7" y2="248.3" stroke="rgb(20,20,20)" stroke-width="1.3" stroke-linecap="round"/>
<line x1="126.2" y1="225.9" x2="134.8" y2="224.7" stroke="rgb(26,26,26)" stroke-width="1.3" stroke-linecap="round"/>
<line x1="60.2" y1="258.7" x2="66.2" y2="254.8" stroke="rgb(39,39,39)" stroke-width="1.3" stroke-linecap="round"/>
<line x1="172.4" y1="215.3" x2="177.8" y2="213.1" stroke="rgb(37,37,37)" stroke-width="1.3" stroke-linecap="round"/>
<line x1="153.3" y1="266.9" x2="158.4" y2="266.0" stroke="rgb(32,32,32)" stroke-width="1.3" stroke-linecap="round"/>
<line x1="124.1" y1="249.7" x2="130.9" y2="254.9" stroke="rgb(16,16,16)" stroke-width="1.3" stroke-linecap="round"/>
<line x1="142.8" y1="229.8" x2="153.1" y2="232.0" stroke="rgb(23,23,23)" stroke-width="1.3" stroke-linecap="round"/>
<line x1="27.0" y1="217.5" x2="32.9" y2="217.9" stroke="rgb(40,40,40)" stroke-width="1.3" stroke-linecap="round"/>
<line x1="126.4" y1="223.6" x2="132.2" y2="224.7" stroke="rgb(38,38,38)" stroke-width="1.3" stroke-linecap="round"/>
<line x1="157.4" y1="264.8" x2="163.4" y2="261.2" stroke="rgb(33,33,33)" stroke-width="1.3" stroke-linecap="round"/>
<line x1="8.6" y1="260.0" x2="14.3" y2="261.0" stroke="rgb(39,39,39)" stroke-width="1.3" stroke-linecap="round"/>
<line x1="99.0" y1="238.0" x2="102.6" y2="235.2" stroke="rgb(30,30,30)" stroke-width="1.3" stroke-linecap="round"/>
<line x1="157.1" y1="245.5" x2="164.4" y2="249.0" stroke="rgb(20,20,20)" stroke-width="1.3" stroke-linecap="round"/>
<line x1="29.0" y1="230.3" x2="37.3" y2="235.2" stroke="rgb(31,31,31)" stroke-width="1.3" stroke-linecap="round"/>
<line x1="156.3" y1="224.0" x2="160.8" y2="222.5" stroke="rgb(46,46,46)" stroke-width="1.3" stroke-linecap="round"/>
<line x1="153.9" y1="236.6" x2="158.9" y2="237.4" stroke="rgb(38,38,38)" stroke-width="1.3" stroke-linecap="round"/>
<line x1="150.7" y1="273.1" x2="160.0" y2="277.2" stroke="rgb(23,23,23)" stroke-width="1.3" stroke-linecap="round"/>
<line x1="129.5" y1="231.9" x2="137.6" y2="237.1" stroke="rgb(39,39,39)" stroke-width="1.3" stroke-linecap="round"/>
<line x1="141.8" y1="227.7" x2="146.2" y2="229.4" stroke="rgb(42,42,42)" stroke-width="1.3" stroke-linecap="round"/>
<line x1="149.7" y1="224.8" x2="156.3" y2="227.8" stroke="rgb(33,33,33)" stroke-width="1.3" stroke-linecap="round"/>
<line x1="139.2" y1="225.2" x2="143.6" y2="222.0" stroke="rgb(30,30,30)" stroke-width="1.3" stroke-linecap="round"/>
<line x1="150.6" y1="272.5" x2="158.7" y2="270.0" stroke="rgb(23,23,23)" stroke-width="1.3" stroke-linecap="round"/>
<line x1="169.9" y1="206.3" x2="173.8" y2="208.6" stroke="rgb(46,46,46)" stroke-width="1.3" stroke-linecap="round"/>
<line x1="37.5" y1="213.9" x2="41.8" y2="212.6" stroke="rgb(30,30,30)" stroke-width="1.3" stroke-linecap="round"/>
<line x1="128.2" y1="202.2" x2="134.7" y2="203.1" stroke="rgb(36,36,36)" stroke-width="1.3" stroke-linecap="round"/>
<line x1="103.1" y1="201.2" x2="107.0" y2="202.2" stroke="rgb(36,36,36)" stroke-width="1.3" stroke-linecap="round"/>
<line x1="96.8" y1="209.5" x2="103.9" y2="211.7" stroke="rgb(25,25,25)" stroke-width="1.3" stroke-linecap="round"/>
<line x1="19.5" y1="208.6" x2="25.0" y2="207.4" stroke="rgb(49,49,49)" stroke-width="1.3" stroke-linecap="round"/>
<line x1="126.8" y1="202.0" x2="132.6" y2="200.6" stroke="rgb(28,28,28)" stroke-width="1.3" stroke-linecap="round"/>
<line x1="56.8" y1="198.9" x2="65.4" y2="198.0" stroke="rgb(28,28,28)" stroke-width="1.3" stroke-linecap="round"/>
<line x1="157.0" y1="207.7" x2="163.5" y2="206.1" stroke="rgb(23,23,23)" stroke-width="1.3" stroke-linecap="round"/>
<line x1="55.3" y1="204.3" x2="62.6" y2="205.0" stroke="rgb(38,38,38)" stroke-width="1.3" stroke-linecap="round"/>
<line x1="81.0" y1="200.4" x2="89.5" y2="200.2" stroke="rgb(38,38,38)" stroke-width="1.3" stroke-linecap="round"/>
<line x1="36.0" y1="198.1" x2="43.2" y2="198.3" stroke="rgb(23,23,23)" stroke-width="1.3" stroke-linecap="round"/>
<line x1="143.0" y1="210.1" x2="148.0" y2="211.2" stroke="rgb(30,30,30)" stroke-width="1.3" stroke-linecap="round"/>
<line x1="12.0" y1="201.0" x2="20.3" y2="200.8" stroke="rgb(20,20,20)" stroke-width="1.3" stroke-linecap="round"/>
<line x1="76.4" y1="207.9" x2="83.3" y2="205.2" stroke="rgb(27,27,27)" stroke-width="1.3" stroke-linecap="round"/>
<line x1="48.3" y1="208.4" x2="54.6" y2="204.0" stroke="rgb(29,29,29)" stroke-width="1.3" stroke-linecap="round"/>
<line x1="25.6" y1="204.3" x2="33.7" y2="200.9" stroke="rgb(39,39,39)" stroke-width="1.3" stroke-linecap="round"/>
<line x1="16.3" y1="201.1" x2="22.0" y2="203.7" stroke="rgb(33,33,33)" stroke-width="1.3" stroke-linecap="round"/>
<line x1="118.2" y1="214.4" x2="126.8" y2="215.4" stroke="rgb(35,35,35)" stroke-width="1.3" stroke-linecap="round"/>
<line x1="109.1" y1="209.5" x2="117.2" y2="209.6" stroke="rgb(30,30,30)" stroke-width="1.3" stroke-linecap="round"/>
<line x1="156.0" y1="210.0" x2="161.3" y2="209.8" stroke="rgb(29,29,29)" stroke-width="1.3" stroke-linecap="round"/>
<line x1="113.2" y1="210.4" x2="120.3" y2="210.6" stroke="rgb(33,33,33)" stroke-width="1.3" stroke-linecap="round"/>
<line x1="20.8" y1="201.7" x2="26.2" y2="200.2" stroke="rgb(28,28,28)" stroke-width="1.3" stroke-linecap="round"/>
<line x1="30.8" y1="200.8" x2="38.2" y2="202.5" stroke="rgb(23,23,23)" stroke-width="1.3" stroke-linecap="round"/>
<line x1="75.3" y1="206.4" x2="80.3" y2="205.8" stroke="rgb(26,26,26)" stroke-width="1.3" stroke-linecap="round"/>
<path d="M6.0,203.2 L9.2,203.0 L15.4,201.8 L20.3,202.4 L23.9,205.4 L28.8,205.4 L33.8,203.6 L37.4,201.2 L40.5,199.3 L44.8,201.8 L49.7,201.8 L54.0,203.0 L58.3,207.3 L62.0,207.9 L65.6,206.1 L68.7,204.2 L71.8,206.1 L74.2,207.9 L77.9,204.2 L81.6,202.4 L86.5,201.8 L90.0,203.0 L94.9,206.7 L98.6,204.2 L103.5,200.5 L108.4,199.9 L112.1,201.2 L115.8,204.8 L118.8,207.3 L123.1,204.2 L126.8,200.5 L130.5,199.3 L134.1,201.2 L137.8,204.2 L142.1,207.9" fill="none" stroke="rgb(88,88,88)" stroke-width="2.76" stroke-linejoin="round" stroke-linecap="round"/>
<path d="M142.1,207.9 L145.0,205.1 L148.0,202.1 L153.0,200.6 L158.0,202.4 L163.0,204.0 L165.4,204.2 L169.0,202.6 L175.0,201.6" fill="none" stroke="rgb(79,79,79)" stroke-width="2.42" stroke-linejoin="round" stroke-linecap="round"/>
<path d="M6.0,205.6 L12.0,206.1 L18.0,205.1 L23.0,207.1" fill="none" stroke="rgb(57,57,57)" stroke-width="2.07" stroke-linejoin="round" stroke-linecap="round"/>
<path d="M60.0,212.1 L65.0,210.6 L70.0,211.6 L75.0,213.1" fill="none" stroke="rgb(57,57,57)" stroke-width="2.07" stroke-linejoin="round" stroke-linecap="round"/>
<path d="M92.0,210.1 L97.0,211.6 L102.0,210.6 L107.0,209.1" fill="none" stroke="rgb(57,57,57)" stroke-width="2.07" stroke-linejoin="round" stroke-linecap="round"/>
<path d="M144.0,211.6 L150.0,213.6 L156.0,214.6 L163.0,214.1 L169.0,212.6 L175.0,213.1" fill="none" stroke="rgb(61,61,61)" stroke-width="2.07" stroke-linejoin="round" stroke-linecap="round"/>
<path d="M120.0,210.6 L126.0,212.1 L132.0,211.6 L137.0,210.1" fill="none" stroke="rgb(53,53,53)" stroke-width="1.95" stroke-linejoin="round" stroke-linecap="round"/>
<path d="M32.5,208.1 L35.5,207.1 L39.5,208.1" fill="none" stroke="rgb(79,79,79)" stroke-width="2.18" stroke-linejoin="round" stroke-linecap="round"/>
<path d="M39.5,199.6 L44.8,204.1 L49.7,206.1 L54.6,207.3" fill="none" stroke="rgb(61,61,61)" stroke-width="1.95" stroke-linejoin="round" stroke-linecap="round"/>
<path d="M144.0,198.6 L149.0,197.1 L155.0,198.1 L161.0,199.1 L168.0,199.6 L175.0,198.6" fill="none" stroke="rgb(61,61,61)" stroke-width="1.84" stroke-linejoin="round" stroke-linecap="round"/>
<path d="M6.0,212.1 L16.0,213.1 L24.0,212.1 L30.0,213.4" fill="none" stroke="rgb(66,66,66)" stroke-width="1.84" stroke-linejoin="round" stroke-linecap="round"/>
<path d="M32.5,214.0 L37.4,212.2 L39.9,211.0" fill="none" stroke="rgb(110,110,110)" stroke-width="2.07" stroke-linejoin="round" stroke-linecap="round"/>
<path d="M27.6,229.1 L28.2,230.2 L31.3,233.9 L33.8,237.0 L37.4,240.6 L41.1,243.7 L44.8,246.2" fill="none" stroke="rgb(102,102,102)" stroke-width="2.42" stroke-linejoin="round" stroke-linecap="round"/>
<path d="M44.8,246.2 L47.2,246.8 L50.9,246.6 L54.6,248.3" fill="none" stroke="rgb(59,59,59)" stroke-width="2.07" stroke-linejoin="round" stroke-linecap="round"/>
<path d="M54.6,248.3 L59.5,251.1 L63.2,252.4 L66.9,251.1 L70.5,249.2 L75.4,248.9 L81.6,249.9 L86.5,251.2 L90.0,249.1 L92.0,247.7 L94.9,244.9 L98.6,243.7" fill="none" stroke="rgb(134,134,134)" stroke-width="2.53" stroke-linejoin="round" stroke-linecap="round"/>
<path d="M6.0,216.1 L8.0,217.1 L12.9,218.9 L17.8,221.6 L21.5,223.6 L24.0,225.4 L27.6,227.1 L29.0,229.1" fill="none" stroke="rgb(139,139,139)" stroke-width="2.18" stroke-linejoin="round" stroke-linecap="round"/>
<path d="M57.0,217.1 L62.0,219.2 L66.9,221.4 L71.8,224.1 L76.7,226.6 L81.6,229.4 L86.0,231.1 L90.0,231.4 L94.9,234.5 L99.8,237.0" fill="none" stroke="rgb(112,112,112)" stroke-width="2.18" stroke-linejoin="round" stroke-linecap="round"/>
<path d="M36.2,216.8 L41.1,217.6 L46.0,218.3 L49.7,220.2 L52.1,222.6 L54.0,224.1 L57.0,225.1" fill="none" stroke="rgb(134,134,134)" stroke-width="2.07" stroke-linejoin="round" stroke-linecap="round"/>
<path d="M113.3,218.9 L119.4,218.3 L125.6,219.5 L130.5,221.4 L134.1,223.8 L137.8,226.3 L141.5,229.4 L146.4,232.1" fill="none" stroke="rgb(139,139,139)" stroke-width="2.07" stroke-linejoin="round" stroke-linecap="round"/>
<path d="M145.2,214.0 L150.1,216.5 L155.0,218.9 L158.7,221.4 L163.6,220.2 L168.5,218.9 L175.0,217.6" fill="none" stroke="rgb(112,112,112)" stroke-width="1.95" stroke-linejoin="round" stroke-linecap="round"/>
<path d="M70.5,216.5 L76.7,214.0 L81.6,212.8 L86.5,213.4 L92.0,214.0 L96.0,214.6 L102.3,213.4 L109.6,211.6 L113.3,211.0" fill="none" stroke="rgb(48,48,48)" stroke-width="1.84" stroke-linejoin="round" stroke-linecap="round"/>
<path d="M156.2,215.3 L161.1,213.4 L166.0,211.0 L170.9,209.1 L175.0,207.9" fill="none" stroke="rgb(112,112,112)" stroke-width="1.95" stroke-linejoin="round" stroke-linecap="round"/>
<path d="M165.0,248.6 L167.3,248.0 L172.2,249.2 L175.0,247.6" fill="none" stroke="rgb(91,91,91)" stroke-width="2.07" stroke-linejoin="round" stroke-linecap="round"/>
<path d="M134.1,239.4 L141.5,238.2 L148.9,240.6 L156.2,239.4 L163.6,241.9 L170.0,240.6" fill="none" stroke="rgb(39,39,39)" stroke-width="1.84" stroke-linejoin="round" stroke-linecap="round"/>
<path d="M8.0,230.8 L12.9,233.3 L20.3,236.3 L23.9,238.2" fill="none" stroke="rgb(35,35,35)" stroke-width="1.84" stroke-linejoin="round" stroke-linecap="round"/>
<path d="M8.0,246.5 L15.4,247.7 L22.7,245.9 L28.8,242.8" fill="none" stroke="rgb(39,39,39)" stroke-width="1.84" stroke-linejoin="round" stroke-linecap="round"/>
<path d="M102.3,266.4 L109.6,268.8 L117.0,270.1" fill="none" stroke="rgb(39,39,39)" stroke-width="1.84" stroke-linejoin="round" stroke-linecap="round"/>
<path d="M120.0,261.6 L125.0,263.1 L129.2,265.5 L134.0,264.1 L139.0,262.1" fill="none" stroke="rgb(48,48,48)" stroke-width="1.84" stroke-linejoin="round" stroke-linecap="round"/>
<path d="M125.0,269.1 L129.2,265.5 L133.5,269.1" fill="none" stroke="rgb(45,45,45)" stroke-width="1.72" stroke-linejoin="round" stroke-linecap="round"/>
<path d="M148.9,266.4 L156.2,262.7 L163.6,260.3 L170.0,257.6" fill="none" stroke="rgb(39,39,39)" stroke-width="1.84" stroke-linejoin="round" stroke-linecap="round"/>
<path d="M13.0,247.6 L23.0,248.6 L30.0,246.6" fill="none" stroke="rgb(29,29,29)" stroke-width="1.72" stroke-linejoin="round" stroke-linecap="round"/>
<path d="M33.0,256.6 L45.0,258.6 L57.0,261.6 L69.0,264.1 L81.0,266.6 L92.0,268.6" fill="none" stroke="rgb(32,32,32)" stroke-width="1.72" stroke-linejoin="round" stroke-linecap="round"/>
<path d="M108.0,236.6 L114.0,234.6 L121.0,238.6 L128.0,237.6" fill="none" stroke="rgb(35,35,35)" stroke-width="1.84" stroke-linejoin="round" stroke-linecap="round"/>
<path d="M94.0,220.6 L100.0,220.1 L106.0,221.6 L112.0,222.6" fill="none" stroke="rgb(35,35,35)" stroke-width="1.72" stroke-linejoin="round" stroke-linecap="round"/>
<path d="M68.0,228.6 L74.0,233.6 L80.0,237.6" fill="none" stroke="rgb(32,32,32)" stroke-width="1.72" stroke-linejoin="round" stroke-linecap="round"/>
<path d="M108.0,252.6 L118.0,250.6 L128.0,254.6 L136.0,252.6" fill="none" stroke="rgb(35,35,35)" stroke-width="1.72" stroke-linejoin="round" stroke-linecap="round"/>
<path d="M13.0,262.6 L23.0,264.6 L33.0,268.6 L43.0,270.6" fill="none" stroke="rgb(29,29,29)" stroke-width="1.72" stroke-linejoin="round" stroke-linecap="round"/>
<path d="M146.0,272.6 L156.0,271.1 L164.0,272.6 L172.0,271.6" fill="none" stroke="rgb(35,35,35)" stroke-width="1.84" stroke-linejoin="round" stroke-linecap="round"/>
<path d="M143.0,246.6 L150.0,250.6 L158.0,254.6 L166.0,256.6" fill="none" stroke="rgb(32,32,32)" stroke-width="1.72" stroke-linejoin="round" stroke-linecap="round"/>
<path d="M56.0,232.6 L64.0,234.6 L70.0,238.6" fill="none" stroke="rgb(29,29,29)" stroke-width="1.72" stroke-linejoin="round" stroke-linecap="round"/>
<path d="M98.0,256.6 L106.0,258.6 L114.0,257.6" fill="none" stroke="rgb(29,29,29)" stroke-width="1.72" stroke-linejoin="round" stroke-linecap="round"/>
</g>
<g filter="url(#hot2)" style="mix-blend-mode:lighten">
<rect x="8" y="184.6" width="165.6" height="90.1" fill="#000"/>
<ellipse cx="58.8" cy="207.5" rx="4.7" ry="2.7" fill="url(#rg)" fill-opacity="0.57"/>
<ellipse cx="74.2" cy="207.6" rx="3.6" ry="2.3" fill="url(#rg)" fill-opacity="0.51"/>
<ellipse cx="118.8" cy="207.1" rx="3.6" ry="2.3" fill="url(#rg)" fill-opacity="0.53"/>
<ellipse cx="165.4" cy="204.2" rx="3.6" ry="2.3" fill="url(#rg)" fill-opacity="0.46"/>
<ellipse cx="41.0" cy="199.6" rx="3.6" ry="2.2" fill="url(#rg)" fill-opacity="0.41"/>
<ellipse cx="130.5" cy="199.5" rx="3.2" ry="2.2" fill="url(#rg)" fill-opacity="0.44"/>
<ellipse cx="103.5" cy="200.6" rx="3.2" ry="2.2" fill="url(#rg)" fill-opacity="0.37"/>
<ellipse cx="33.8" cy="237.0" rx="2.5" ry="3.2" fill="url(#rg)" fill-opacity="0.56"/>
<ellipse cx="70.5" cy="249.0" rx="4.3" ry="2.5" fill="url(#rg)" fill-opacity="0.69"/>
<ellipse cx="23.0" cy="224.5" rx="2.9" ry="2.3" fill="url(#rg)" fill-opacity="0.87"/>
<ellipse cx="46.5" cy="218.0" rx="3.6" ry="2.2" fill="url(#rg)" fill-opacity="0.81"/>
<ellipse cx="138.2" cy="226.7" rx="3.6" ry="2.5" fill="url(#rg)" fill-opacity="0.96"/>
<ellipse cx="159.3" cy="215.9" rx="3.2" ry="2.2" fill="url(#rg)" fill-opacity="0.56"/>
<ellipse cx="52.0" cy="230.2" rx="4.0" ry="2.3" fill="url(#rg)" fill-opacity="0.58"/>
<ellipse cx="129.2" cy="265.5" rx="2.7" ry="2.2" fill="url(#rg)" fill-opacity="0.74"/>
<ellipse cx="52.1" cy="222.6" rx="2.9" ry="2.2" fill="url(#rg)" fill-opacity="0.69"/>
<ellipse cx="32.5" cy="213.8" rx="3.2" ry="2.2" fill="url(#rg)" fill-opacity="0.58"/>
</g>
</g>
<text x="10.5" y="198.0" font-size="13.6" font-weight="bold" fill="#fff">i</text>
<text x="90.2" y="196.4" font-size="10.9" fill="#fff" text-anchor="middle">7.8 min</text>
<g clip-path="url(#cp9)">
<g filter="url(#hot)">
<rect x="175.4" y="184.6" width="165.0" height="90.1" fill="rgb(1,1,1)"/>
<line x1="280.9" y1="212.2" x2="286.2" y2="210.6" stroke="rgb(39,39,39)" stroke-width="1.3" stroke-linecap="round"/>
<line x1="287.1" y1="267.7" x2="293.0" y2="264.1" stroke="rgb(25,25,25)" stroke-width="1.3" stroke-linecap="round"/>
<line x1="211.5" y1="242.9" x2="215.8" y2="239.8" stroke="rgb(26,26,26)" stroke-width="1.3" stroke-linecap="round"/>
<line x1="265.3" y1="224.7" x2="274.9" y2="225.9" stroke="rgb(25,25,25)" stroke-width="1.3" stroke-linecap="round"/>
<line x1="308.4" y1="255.3" x2="313.3" y2="254.2" stroke="rgb(50,50,50)" stroke-width="1.3" stroke-linecap="round"/>
<line x1="230.9" y1="216.5" x2="239.5" y2="211.5" stroke="rgb(26,26,26)" stroke-width="1.3" stroke-linecap="round"/>
<line x1="308.6" y1="257.3" x2="319.4" y2="257.8" stroke="rgb(34,34,34)" stroke-width="1.3" stroke-linecap="round"/>
<line x1="266.5" y1="263.7" x2="276.4" y2="265.3" stroke="rgb(39,39,39)" stroke-width="1.3" stroke-linecap="round"/>
<line x1="291.7" y1="213.5" x2="297.3" y2="211.4" stroke="rgb(19,19,19)" stroke-width="1.3" stroke-linecap="round"/>
<line x1="213.8" y1="217.1" x2="221.9" y2="214.6" stroke="rgb(36,36,36)" stroke-width="1.3" stroke-linecap="round"/>
<line x1="236.5" y1="224.0" x2="246.5" y2="220.8" stroke="rgb(33,33,33)" stroke-width="1.3" stroke-linecap="round"/>
<line x1="275.9" y1="221.6" x2="280.8" y2="223.1" stroke="rgb(28,28,28)" stroke-width="1.3" stroke-linecap="round"/>
<line x1="338.7" y1="251.6" x2="347.4" y2="252.2" stroke="rgb(43,43,43)" stroke-width="1.3" stroke-linecap="round"/>
<line x1="303.4" y1="225.3" x2="308.5" y2="221.6" stroke="rgb(29,29,29)" stroke-width="1.3" stroke-linecap="round"/>
<line x1="210.2" y1="270.9" x2="215.7" y2="273.9" stroke="rgb(40,40,40)" stroke-width="1.3" stroke-linecap="round"/>
<line x1="240.7" y1="269.1" x2="246.5" y2="268.8" stroke="rgb(23,23,23)" stroke-width="1.3" stroke-linecap="round"/>
<line x1="268.0" y1="227.4" x2="278.2" y2="228.6" stroke="rgb(29,29,29)" stroke-width="1.3" stroke-linecap="round"/>
<line x1="211.6" y1="274.4" x2="216.2" y2="274.5" stroke="rgb(17,17,17)" stroke-width="1.3" stroke-linecap="round"/>
<line x1="193.5" y1="250.8" x2="199.9" y2="253.4" stroke="rgb(19,19,19)" stroke-width="1.3" stroke-linecap="round"/>
<line x1="238.4" y1="274.4" x2="249.2" y2="274.8" stroke="rgb(40,40,40)" stroke-width="1.3" stroke-linecap="round"/>
<line x1="177.3" y1="256.7" x2="184.8" y2="258.6" stroke="rgb(21,21,21)" stroke-width="1.3" stroke-linecap="round"/>
<line x1="281.2" y1="217.7" x2="288.3" y2="217.1" stroke="rgb(39,39,39)" stroke-width="1.3" stroke-linecap="round"/>
<line x1="319.9" y1="227.5" x2="325.2" y2="227.5" stroke="rgb(48,48,48)" stroke-width="1.3" stroke-linecap="round"/>
<line x1="319.0" y1="229.7" x2="327.2" y2="231.2" stroke="rgb(20,20,20)" stroke-width="1.3" stroke-linecap="round"/>
<line x1="301.2" y1="245.1" x2="308.4" y2="247.9" stroke="rgb(20,20,20)" stroke-width="1.3" stroke-linecap="round"/>
<line x1="228.9" y1="211.8" x2="237.4" y2="217.3" stroke="rgb(28,28,28)" stroke-width="1.3" stroke-linecap="round"/>
<line x1="226.1" y1="214.3" x2="235.5" y2="219.4" stroke="rgb(25,25,25)" stroke-width="1.3" stroke-linecap="round"/>
<line x1="255.6" y1="215.0" x2="264.4" y2="218.2" stroke="rgb(18,18,18)" stroke-width="1.3" stroke-linecap="round"/>
<line x1="253.8" y1="245.8" x2="263.4" y2="242.7" stroke="rgb(25,25,25)" stroke-width="1.3" stroke-linecap="round"/>
<line x1="210.3" y1="245.1" x2="215.5" y2="246.7" stroke="rgb(31,31,31)" stroke-width="1.3" stroke-linecap="round"/>
<line x1="339.6" y1="252.2" x2="347.2" y2="251.6" stroke="rgb(22,22,22)" stroke-width="1.3" stroke-linecap="round"/>
<line x1="212.5" y1="232.2" x2="218.0" y2="232.9" stroke="rgb(26,26,26)" stroke-width="1.3" stroke-linecap="round"/>
<line x1="187.1" y1="251.0" x2="196.8" y2="247.4" stroke="rgb(43,43,43)" stroke-width="1.3" stroke-linecap="round"/>
<line x1="187.1" y1="225.8" x2="192.5" y2="227.1" stroke="rgb(23,23,23)" stroke-width="1.3" stroke-linecap="round"/>
<line x1="329.8" y1="247.1" x2="339.2" y2="246.8" stroke="rgb(38,38,38)" stroke-width="1.3" stroke-linecap="round"/>
<line x1="206.8" y1="216.8" x2="213.8" y2="216.2" stroke="rgb(26,26,26)" stroke-width="1.3" stroke-linecap="round"/>
<line x1="295.7" y1="253.7" x2="299.5" y2="256.5" stroke="rgb(24,24,24)" stroke-width="1.3" stroke-linecap="round"/>
<line x1="231.4" y1="265.7" x2="236.4" y2="264.0" stroke="rgb(26,26,26)" stroke-width="1.3" stroke-linecap="round"/>
<line x1="245.0" y1="228.4" x2="254.9" y2="225.0" stroke="rgb(27,27,27)" stroke-width="1.3" stroke-linecap="round"/>
<line x1="317.5" y1="245.8" x2="326.6" y2="239.6" stroke="rgb(36,36,36)" stroke-width="1.3" stroke-linecap="round"/>
<line x1="335.3" y1="269.9" x2="339.9" y2="272.2" stroke="rgb(38,38,38)" stroke-width="1.3" stroke-linecap="round"/>
<line x1="210.7" y1="236.3" x2="216.2" y2="232.6" stroke="rgb(37,37,37)" stroke-width="1.3" stroke-linecap="round"/>
<line x1="219.2" y1="260.8" x2="226.1" y2="260.4" stroke="rgb(34,34,34)" stroke-width="1.3" stroke-linecap="round"/>
<line x1="339.6" y1="246.2" x2="344.5" y2="247.6" stroke="rgb(24,24,24)" stroke-width="1.3" stroke-linecap="round"/>
<line x1="335.2" y1="247.7" x2="344.5" y2="248.2" stroke="rgb(17,17,17)" stroke-width="1.3" stroke-linecap="round"/>
<line x1="271.8" y1="242.8" x2="276.3" y2="245.1" stroke="rgb(50,50,50)" stroke-width="1.3" stroke-linecap="round"/>
<line x1="188.6" y1="222.5" x2="197.3" y2="223.6" stroke="rgb(32,32,32)" stroke-width="1.3" stroke-linecap="round"/>
<line x1="195.2" y1="267.6" x2="202.9" y2="264.9" stroke="rgb(40,40,40)" stroke-width="1.3" stroke-linecap="round"/>
<line x1="244.6" y1="248.0" x2="255.1" y2="248.3" stroke="rgb(31,31,31)" stroke-width="1.3" stroke-linecap="round"/>
<line x1="293.6" y1="225.9" x2="302.2" y2="224.7" stroke="rgb(28,28,28)" stroke-width="1.3" stroke-linecap="round"/>
<line x1="227.6" y1="258.7" x2="233.6" y2="254.8" stroke="rgb(42,42,42)" stroke-width="1.3" stroke-linecap="round"/>
<line x1="339.8" y1="215.3" x2="345.2" y2="213.1" stroke="rgb(40,40,40)" stroke-width="1.3" stroke-linecap="round"/>
<line x1="320.7" y1="266.9" x2="325.8" y2="266.0" stroke="rgb(43,43,43)" stroke-width="1.3" stroke-linecap="round"/>
<line x1="291.5" y1="249.7" x2="298.3" y2="254.9" stroke="rgb(18,18,18)" stroke-width="1.3" stroke-linecap="round"/>
<line x1="310.2" y1="229.8" x2="320.5" y2="232.0" stroke="rgb(24,24,24)" stroke-width="1.3" stroke-linecap="round"/>
<line x1="194.4" y1="217.5" x2="200.3" y2="217.9" stroke="rgb(32,32,32)" stroke-width="1.3" stroke-linecap="round"/>
<line x1="293.8" y1="223.6" x2="299.6" y2="224.7" stroke="rgb(35,35,35)" stroke-width="1.3" stroke-linecap="round"/>
<line x1="324.8" y1="264.8" x2="330.8" y2="261.2" stroke="rgb(32,32,32)" stroke-width="1.3" stroke-linecap="round"/>
<line x1="176.0" y1="260.0" x2="181.7" y2="261.0" stroke="rgb(41,41,41)" stroke-width="1.3" stroke-linecap="round"/>
<line x1="266.4" y1="238.0" x2="270.0" y2="235.2" stroke="rgb(33,33,33)" stroke-width="1.3" stroke-linecap="round"/>
<line x1="324.5" y1="245.5" x2="331.8" y2="249.0" stroke="rgb(25,25,25)" stroke-width="1.3" stroke-linecap="round"/>
<line x1="196.4" y1="230.3" x2="204.7" y2="235.2" stroke="rgb(45,45,45)" stroke-width="1.3" stroke-linecap="round"/>
<line x1="323.7" y1="224.0" x2="328.2" y2="222.5" stroke="rgb(39,39,39)" stroke-width="1.3" stroke-linecap="round"/>
<line x1="321.3" y1="236.6" x2="326.3" y2="237.4" stroke="rgb(32,32,32)" stroke-width="1.3" stroke-linecap="round"/>
<line x1="318.1" y1="273.1" x2="327.4" y2="277.2" stroke="rgb(16,16,16)" stroke-width="1.3" stroke-linecap="round"/>
<line x1="296.9" y1="231.9" x2="305.0" y2="237.1" stroke="rgb(41,41,41)" stroke-width="1.3" stroke-linecap="round"/>
<line x1="309.2" y1="227.7" x2="313.6" y2="229.4" stroke="rgb(45,45,45)" stroke-width="1.3" stroke-linecap="round"/>
<line x1="317.1" y1="224.8" x2="323.7" y2="227.8" stroke="rgb(27,27,27)" stroke-width="1.3" stroke-linecap="round"/>
<line x1="306.6" y1="225.2" x2="311.0" y2="222.0" stroke="rgb(31,31,31)" stroke-width="1.3" stroke-linecap="round"/>
<line x1="318.0" y1="272.5" x2="326.1" y2="270.0" stroke="rgb(30,30,30)" stroke-width="1.3" stroke-linecap="round"/>
<line x1="337.3" y1="206.3" x2="341.2" y2="208.6" stroke="rgb(50,50,50)" stroke-width="1.3" stroke-linecap="round"/>
<line x1="204.9" y1="213.9" x2="209.2" y2="212.6" stroke="rgb(28,28,28)" stroke-width="1.3" stroke-linecap="round"/>
<line x1="295.6" y1="202.2" x2="302.1" y2="203.1" stroke="rgb(34,34,34)" stroke-width="1.3" stroke-linecap="round"/>
<line x1="270.5" y1="201.2" x2="274.4" y2="202.2" stroke="rgb(47,47,47)" stroke-width="1.3" stroke-linecap="round"/>
<line x1="264.2" y1="209.5" x2="271.3" y2="211.7" stroke="rgb(23,23,23)" stroke-width="1.3" stroke-linecap="round"/>
<line x1="186.9" y1="208.6" x2="192.4" y2="207.4" stroke="rgb(34,34,34)" stroke-width="1.3" stroke-linecap="round"/>
<line x1="294.2" y1="202.0" x2="300.0" y2="200.6" stroke="rgb(26,26,26)" stroke-width="1.3" stroke-linecap="round"/>
<line x1="224.2" y1="198.9" x2="232.8" y2="198.0" stroke="rgb(41,41,41)" stroke-width="1.3" stroke-linecap="round"/>
<line x1="324.4" y1="207.7" x2="330.9" y2="206.1" stroke="rgb(22,22,22)" stroke-width="1.3" stroke-linecap="round"/>
<line x1="222.7" y1="204.3" x2="230.0" y2="205.0" stroke="rgb(24,24,24)" stroke-width="1.3" stroke-linecap="round"/>
<line x1="248.4" y1="200.4" x2="256.9" y2="200.2" stroke="rgb(43,43,43)" stroke-width="1.3" stroke-linecap="round"/>
<line x1="203.4" y1="198.1" x2="210.6" y2="198.3" stroke="rgb(25,25,25)" stroke-width="1.3" stroke-linecap="round"/>
<line x1="310.4" y1="210.1" x2="315.4" y2="211.2" stroke="rgb(30,30,30)" stroke-width="1.3" stroke-linecap="round"/>
<line x1="179.4" y1="201.0" x2="187.7" y2="200.8" stroke="rgb(19,19,19)" stroke-width="1.3" stroke-linecap="round"/>
<line x1="243.8" y1="207.9" x2="250.7" y2="205.2" stroke="rgb(25,25,25)" stroke-width="1.3" stroke-linecap="round"/>
<line x1="215.7" y1="208.4" x2="222.0" y2="204.0" stroke="rgb(35,35,35)" stroke-width="1.3" stroke-linecap="round"/>
<line x1="193.0" y1="204.3" x2="201.1" y2="200.9" stroke="rgb(31,31,31)" stroke-width="1.3" stroke-linecap="round"/>
<line x1="183.7" y1="201.1" x2="189.4" y2="203.7" stroke="rgb(37,37,37)" stroke-width="1.3" stroke-linecap="round"/>
<line x1="285.6" y1="214.4" x2="294.2" y2="215.4" stroke="rgb(45,45,45)" stroke-width="1.3" stroke-linecap="round"/>
<line x1="276.5" y1="209.5" x2="284.6" y2="209.6" stroke="rgb(26,26,26)" stroke-width="1.3" stroke-linecap="round"/>
<line x1="323.4" y1="210.0" x2="328.7" y2="209.8" stroke="rgb(23,23,23)" stroke-width="1.3" stroke-linecap="round"/>
<line x1="280.6" y1="210.4" x2="287.7" y2="210.6" stroke="rgb(20,20,20)" stroke-width="1.3" stroke-linecap="round"/>
<line x1="188.2" y1="201.7" x2="193.6" y2="200.2" stroke="rgb(41,41,41)" stroke-width="1.3" stroke-linecap="round"/>
<line x1="198.2" y1="200.8" x2="205.6" y2="202.5" stroke="rgb(22,22,22)" stroke-width="1.3" stroke-linecap="round"/>
<line x1="242.7" y1="206.4" x2="247.7" y2="205.8" stroke="rgb(27,27,27)" stroke-width="1.3" stroke-linecap="round"/>
<path d="M173.4,203.2 L176.6,203.0 L182.8,201.8 L187.7,202.4 L191.3,205.4 L196.2,205.4 L201.2,203.6 L204.8,201.2 L207.9,199.3 L212.2,201.8 L217.1,201.8 L221.4,203.0 L225.7,207.3 L229.4,207.9 L233.0,206.1 L236.1,204.2 L239.2,206.1 L241.6,207.9 L245.3,204.2 L249.0,202.4 L253.9,201.8 L257.4,203.0 L262.3,206.7 L266.0,204.2 L270.9,200.5 L275.8,199.9 L279.5,201.2 L283.2,204.8 L286.2,207.3 L290.5,204.2 L294.2,200.5 L297.9,199.3 L301.5,201.2 L305.2,204.2 L309.5,207.9" fill="none" stroke="rgb(88,88,88)" stroke-width="2.76" stroke-linejoin="round" stroke-linecap="round"/>
<path d="M309.5,207.9 L312.4,205.1 L315.4,202.1 L320.4,200.6 L325.4,202.4 L330.4,204.0 L332.8,204.2 L336.4,202.6 L342.4,201.6" fill="none" stroke="rgb(79,79,79)" stroke-width="2.42" stroke-linejoin="round" stroke-linecap="round"/>
<path d="M173.4,205.6 L179.4,206.1 L185.4,205.1 L190.4,207.1" fill="none" stroke="rgb(57,57,57)" stroke-width="2.07" stroke-linejoin="round" stroke-linecap="round"/>
<path d="M227.4,212.1 L232.4,210.6 L237.4,211.6 L242.4,213.1" fill="none" stroke="rgb(57,57,57)" stroke-width="2.07" stroke-linejoin="round" stroke-linecap="round"/>
<path d="M259.4,210.1 L264.4,211.6 L269.4,210.6 L274.4,209.1" fill="none" stroke="rgb(57,57,57)" stroke-width="2.07" stroke-linejoin="round" stroke-linecap="round"/>
<path d="M311.4,211.6 L317.4,213.6 L323.4,214.6 L330.4,214.1 L336.4,212.6 L342.4,213.1" fill="none" stroke="rgb(61,61,61)" stroke-width="2.07" stroke-linejoin="round" stroke-linecap="round"/>
<path d="M287.4,210.6 L293.4,212.1 L299.4,211.6 L304.4,210.1" fill="none" stroke="rgb(53,53,53)" stroke-width="1.95" stroke-linejoin="round" stroke-linecap="round"/>
<path d="M199.9,208.1 L202.9,207.1 L206.9,208.1" fill="none" stroke="rgb(79,79,79)" stroke-width="2.18" stroke-linejoin="round" stroke-linecap="round"/>
<path d="M206.9,199.6 L212.2,204.1 L217.1,206.1 L222.0,207.3" fill="none" stroke="rgb(61,61,61)" stroke-width="1.95" stroke-linejoin="round" stroke-linecap="round"/>
<path d="M311.4,198.6 L316.4,197.1 L322.4,198.1 L328.4,199.1 L335.4,199.6 L342.4,198.6" fill="none" stroke="rgb(61,61,61)" stroke-width="1.84" stroke-linejoin="round" stroke-linecap="round"/>
<path d="M173.4,212.1 L183.4,213.1 L191.4,212.1 L197.4,213.4" fill="none" stroke="rgb(66,66,66)" stroke-width="1.84" stroke-linejoin="round" stroke-linecap="round"/>
<path d="M199.9,214.0 L204.8,212.2 L207.3,211.0" fill="none" stroke="rgb(110,110,110)" stroke-width="2.07" stroke-linejoin="round" stroke-linecap="round"/>
<path d="M195.0,229.1 L195.6,230.2 L198.7,233.9 L201.2,237.0 L204.8,240.6 L208.5,243.7 L212.2,246.2" fill="none" stroke="rgb(102,102,102)" stroke-width="2.42" stroke-linejoin="round" stroke-linecap="round"/>
<path d="M212.2,246.2 L214.6,246.8 L218.3,246.6 L222.0,248.3" fill="none" stroke="rgb(59,59,59)" stroke-width="2.07" stroke-linejoin="round" stroke-linecap="round"/>
<path d="M222.0,248.3 L226.9,251.1 L230.6,252.4 L234.3,251.1 L237.9,249.2 L242.8,248.9 L249.0,249.9 L253.9,251.2 L257.4,249.1 L259.4,247.7 L262.3,244.9 L266.0,243.7" fill="none" stroke="rgb(134,134,134)" stroke-width="2.53" stroke-linejoin="round" stroke-linecap="round"/>
<path d="M173.4,216.1 L175.4,217.1 L180.3,218.9 L185.2,221.6 L188.9,223.6 L191.4,225.4 L195.0,227.1 L196.4,229.1" fill="none" stroke="rgb(139,139,139)" stroke-width="2.18" stroke-linejoin="round" stroke-linecap="round"/>
<path d="M224.4,217.1 L229.4,219.2 L234.3,221.4 L239.2,224.1 L244.1,226.6 L249.0,229.4 L253.4,231.1 L257.4,231.4 L262.3,234.5 L267.2,237.0" fill="none" stroke="rgb(112,112,112)" stroke-width="2.18" stroke-linejoin="round" stroke-linecap="round"/>
<path d="M203.6,216.8 L208.5,217.6 L213.4,218.3 L217.1,220.2 L219.5,222.6 L221.4,224.1 L224.4,225.1" fill="none" stroke="rgb(134,134,134)" stroke-width="2.07" stroke-linejoin="round" stroke-linecap="round"/>
<path d="M280.7,218.9 L286.8,218.3 L293.0,219.5 L297.9,221.4 L301.5,223.8 L305.2,226.3 L308.9,229.4 L313.8,232.1" fill="none" stroke="rgb(139,139,139)" stroke-width="2.07" stroke-linejoin="round" stroke-linecap="round"/>
<path d="M312.6,214.0 L317.5,216.5 L322.4,218.9 L326.1,221.4 L331.0,220.2 L335.9,218.9 L342.4,217.6" fill="none" stroke="rgb(112,112,112)" stroke-width="1.95" stroke-linejoin="round" stroke-linecap="round"/>
<path d="M237.9,216.5 L244.1,214.0 L249.0,212.8 L253.9,213.4 L259.4,214.0 L263.4,214.6 L269.7,213.4 L277.0,211.6 L280.7,211.0" fill="none" stroke="rgb(48,48,48)" stroke-width="1.84" stroke-linejoin="round" stroke-linecap="round"/>
<path d="M323.6,215.3 L328.5,213.4 L333.4,211.0 L338.3,209.1 L342.4,207.9" fill="none" stroke="rgb(112,112,112)" stroke-width="1.95" stroke-linejoin="round" stroke-linecap="round"/>
<path d="M332.4,248.6 L334.7,248.0 L339.6,249.2 L342.4,247.6" fill="none" stroke="rgb(91,91,91)" stroke-width="2.07" stroke-linejoin="round" stroke-linecap="round"/>
<path d="M301.5,239.4 L308.9,238.2 L316.3,240.6 L323.6,239.4 L331.0,241.9 L337.4,240.6" fill="none" stroke="rgb(39,39,39)" stroke-width="1.84" stroke-linejoin="round" stroke-linecap="round"/>
<path d="M175.4,230.8 L180.3,233.3 L187.7,236.3 L191.3,238.2" fill="none" stroke="rgb(35,35,35)" stroke-width="1.84" stroke-linejoin="round" stroke-linecap="round"/>
<path d="M175.4,246.5 L182.8,247.7 L190.1,245.9 L196.2,242.8" fill="none" stroke="rgb(39,39,39)" stroke-width="1.84" stroke-linejoin="round" stroke-linecap="round"/>
<path d="M269.7,266.4 L277.0,268.8 L284.4,270.1" fill="none" stroke="rgb(39,39,39)" stroke-width="1.84" stroke-linejoin="round" stroke-linecap="round"/>
<path d="M287.4,261.6 L292.4,263.1 L296.6,265.5 L301.4,264.1 L306.4,262.1" fill="none" stroke="rgb(48,48,48)" stroke-width="1.84" stroke-linejoin="round" stroke-linecap="round"/>
<path d="M292.4,269.1 L296.6,265.5 L300.9,269.1" fill="none" stroke="rgb(45,45,45)" stroke-width="1.72" stroke-linejoin="round" stroke-linecap="round"/>
<path d="M316.3,266.4 L323.6,262.7 L331.0,260.3 L337.4,257.6" fill="none" stroke="rgb(39,39,39)" stroke-width="1.84" stroke-linejoin="round" stroke-linecap="round"/>
<path d="M180.4,247.6 L190.4,248.6 L197.4,246.6" fill="none" stroke="rgb(29,29,29)" stroke-width="1.72" stroke-linejoin="round" stroke-linecap="round"/>
<path d="M200.4,256.6 L212.4,258.6 L224.4,261.6 L236.4,264.1 L248.4,266.6 L259.4,268.6" fill="none" stroke="rgb(32,32,32)" stroke-width="1.72" stroke-linejoin="round" stroke-linecap="round"/>
<path d="M275.4,236.6 L281.4,234.6 L288.4,238.6 L295.4,237.6" fill="none" stroke="rgb(35,35,35)" stroke-width="1.84" stroke-linejoin="round" stroke-linecap="round"/>
<path d="M261.4,220.6 L267.4,220.1 L273.4,221.6 L279.4,222.6" fill="none" stroke="rgb(35,35,35)" stroke-width="1.72" stroke-linejoin="round" stroke-linecap="round"/>
<path d="M235.4,228.6 L241.4,233.6 L247.4,237.6" fill="none" stroke="rgb(32,32,32)" stroke-width="1.72" stroke-linejoin="round" stroke-linecap="round"/>
<path d="M275.4,252.6 L285.4,250.6 L295.4,254.6 L303.4,252.6" fill="none" stroke="rgb(35,35,35)" stroke-width="1.72" stroke-linejoin="round" stroke-linecap="round"/>
<path d="M180.4,262.6 L190.4,264.6 L200.4,268.6 L210.4,270.6" fill="none" stroke="rgb(29,29,29)" stroke-width="1.72" stroke-linejoin="round" stroke-linecap="round"/>
<path d="M313.4,272.6 L323.4,271.1 L331.4,272.6 L339.4,271.6" fill="none" stroke="rgb(35,35,35)" stroke-width="1.84" stroke-linejoin="round" stroke-linecap="round"/>
<path d="M310.4,246.6 L317.4,250.6 L325.4,254.6 L333.4,256.6" fill="none" stroke="rgb(32,32,32)" stroke-width="1.72" stroke-linejoin="round" stroke-linecap="round"/>
<path d="M223.4,232.6 L231.4,234.6 L237.4,238.6" fill="none" stroke="rgb(29,29,29)" stroke-width="1.72" stroke-linejoin="round" stroke-linecap="round"/>
<path d="M265.4,256.6 L273.4,258.6 L281.4,257.6" fill="none" stroke="rgb(29,29,29)" stroke-width="1.72" stroke-linejoin="round" stroke-linecap="round"/>
</g>
<g filter="url(#hot2)" style="mix-blend-mode:lighten">
<rect x="175.4" y="184.6" width="165.0" height="90.1" fill="#000"/>
<ellipse cx="226.2" cy="207.5" rx="4.7" ry="2.7" fill="url(#rg)" fill-opacity="0.57"/>
<ellipse cx="241.6" cy="207.6" rx="3.6" ry="2.3" fill="url(#rg)" fill-opacity="0.51"/>
<ellipse cx="286.2" cy="207.1" rx="3.6" ry="2.3" fill="url(#rg)" fill-opacity="0.53"/>
<ellipse cx="332.8" cy="204.2" rx="3.6" ry="2.3" fill="url(#rg)" fill-opacity="0.46"/>
<ellipse cx="208.4" cy="199.6" rx="3.6" ry="2.2" fill="url(#rg)" fill-opacity="0.41"/>
<ellipse cx="297.9" cy="199.5" rx="3.2" ry="2.2" fill="url(#rg)" fill-opacity="0.44"/>
<ellipse cx="270.9" cy="200.6" rx="3.2" ry="2.2" fill="url(#rg)" fill-opacity="0.37"/>
<ellipse cx="201.2" cy="237.0" rx="2.5" ry="3.2" fill="url(#rg)" fill-opacity="0.56"/>
<ellipse cx="237.9" cy="249.0" rx="4.3" ry="2.5" fill="url(#rg)" fill-opacity="0.69"/>
<ellipse cx="190.4" cy="224.5" rx="2.9" ry="2.3" fill="url(#rg)" fill-opacity="0.87"/>
<ellipse cx="213.9" cy="218.0" rx="3.6" ry="2.2" fill="url(#rg)" fill-opacity="0.81"/>
<ellipse cx="305.6" cy="226.7" rx="3.6" ry="2.5" fill="url(#rg)" fill-opacity="0.96"/>
<ellipse cx="326.7" cy="215.9" rx="3.2" ry="2.2" fill="url(#rg)" fill-opacity="0.56"/>
<ellipse cx="219.4" cy="230.2" rx="4.0" ry="2.3" fill="url(#rg)" fill-opacity="0.58"/>
<ellipse cx="296.6" cy="265.5" rx="2.7" ry="2.2" fill="url(#rg)" fill-opacity="0.74"/>
<ellipse cx="219.5" cy="222.6" rx="2.9" ry="2.2" fill="url(#rg)" fill-opacity="0.69"/>
<ellipse cx="199.9" cy="213.8" rx="3.2" ry="2.2" fill="url(#rg)" fill-opacity="0.58"/>
</g>
</g>
<text x="177.9" y="198.0" font-size="13.6" font-weight="bold" fill="#fff">j</text>
<text x="257.6" y="196.4" font-size="10.9" fill="#fff" text-anchor="middle">8 min</text>
<g clip-path="url(#cp10)">
<g filter="url(#hot)">
<rect x="341.9" y="184.6" width="165.1" height="90.1" fill="rgb(1,1,1)"/>
<line x1="447.4" y1="212.2" x2="452.7" y2="210.6" stroke="rgb(30,30,30)" stroke-width="1.3" stroke-linecap="round"/>
<line x1="453.6" y1="267.7" x2="459.5" y2="264.1" stroke="rgb(22,22,22)" stroke-width="1.3" stroke-linecap="round"/>
<line x1="378.0" y1="242.9" x2="382.3" y2="239.8" stroke="rgb(44,44,44)" stroke-width="1.3" stroke-linecap="round"/>
<line x1="431.8" y1="224.7" x2="441.4" y2="225.9" stroke="rgb(22,22,22)" stroke-width="1.3" stroke-linecap="round"/>
<line x1="474.9" y1="255.3" x2="479.8" y2="254.2" stroke="rgb(42,42,42)" stroke-width="1.3" stroke-linecap="round"/>
<line x1="397.4" y1="216.5" x2="406.0" y2="211.5" stroke="rgb(31,31,31)" stroke-width="1.3" stroke-linecap="round"/>
<line x1="475.1" y1="257.3" x2="485.9" y2="257.8" stroke="rgb(24,24,24)" stroke-width="1.3" stroke-linecap="round"/>
<line x1="433.0" y1="263.7" x2="442.9" y2="265.3" stroke="rgb(43,43,43)" stroke-width="1.3" stroke-linecap="round"/>
<line x1="458.2" y1="213.5" x2="463.8" y2="211.4" stroke="rgb(25,25,25)" stroke-width="1.3" stroke-linecap="round"/>
<line x1="380.3" y1="217.1" x2="388.4" y2="214.6" stroke="rgb(25,25,25)" stroke-width="1.3" stroke-linecap="round"/>
<line x1="403.0" y1="224.0" x2="413.0" y2="220.8" stroke="rgb(37,37,37)" stroke-width="1.3" stroke-linecap="round"/>
<line x1="442.4" y1="221.6" x2="447.3" y2="223.1" stroke="rgb(32,32,32)" stroke-width="1.3" stroke-linecap="round"/>
<line x1="505.2" y1="251.6" x2="513.9" y2="252.2" stroke="rgb(49,49,49)" stroke-width="1.3" stroke-linecap="round"/>
<line x1="469.9" y1="225.3" x2="475.0" y2="221.6" stroke="rgb(24,24,24)" stroke-width="1.3" stroke-linecap="round"/>
<line x1="376.7" y1="270.9" x2="382.2" y2="273.9" stroke="rgb(32,32,32)" stroke-width="1.3" stroke-linecap="round"/>
<line x1="407.2" y1="269.1" x2="413.0" y2="268.8" stroke="rgb(22,22,22)" stroke-width="1.3" stroke-linecap="round"/>
<line x1="434.5" y1="227.4" x2="444.7" y2="228.6" stroke="rgb(31,31,31)" stroke-width="1.3" stroke-linecap="round"/>
<line x1="378.1" y1="274.4" x2="382.7" y2="274.5" stroke="rgb(26,26,26)" stroke-width="1.3" stroke-linecap="round"/>
<line x1="360.0" y1="250.8" x2="366.4" y2="253.4" stroke="rgb(25,25,25)" stroke-width="1.3" stroke-linecap="round"/>
<line x1="404.9" y1="274.4" x2="415.7" y2="274.8" stroke="rgb(33,33,33)" stroke-width="1.3" stroke-linecap="round"/>
<line x1="343.8" y1="256.7" x2="351.3" y2="258.6" stroke="rgb(25,25,25)" stroke-width="1.3" stroke-linecap="round"/>
<line x1="447.7" y1="217.7" x2="454.8" y2="217.1" stroke="rgb(33,33,33)" stroke-width="1.3" stroke-linecap="round"/>
<line x1="486.4" y1="227.5" x2="491.7" y2="227.5" stroke="rgb(34,34,34)" stroke-width="1.3" stroke-linecap="round"/>
<line x1="485.5" y1="229.7" x2="493.7" y2="231.2" stroke="rgb(24,24,24)" stroke-width="1.3" stroke-linecap="round"/>
<line x1="467.7" y1="245.1" x2="474.9" y2="247.9" stroke="rgb(17,17,17)" stroke-width="1.3" stroke-linecap="round"/>
<line x1="395.4" y1="211.8" x2="403.9" y2="217.3" stroke="rgb(32,32,32)" stroke-width="1.3" stroke-linecap="round"/>
<line x1="392.6" y1="214.3" x2="402.0" y2="219.4" stroke="rgb(19,19,19)" stroke-width="1.3" stroke-linecap="round"/>
<line x1="422.1" y1="215.0" x2="430.9" y2="218.2" stroke="rgb(22,22,22)" stroke-width="1.3" stroke-linecap="round"/>
<line x1="420.3" y1="245.8" x2="429.9" y2="242.7" stroke="rgb(36,36,36)" stroke-width="1.3" stroke-linecap="round"/>
<line x1="376.8" y1="245.1" x2="382.0" y2="246.7" stroke="rgb(24,24,24)" stroke-width="1.3" stroke-linecap="round"/>
<line x1="506.1" y1="252.2" x2="513.7" y2="251.6" stroke="rgb(25,25,25)" stroke-width="1.3" stroke-linecap="round"/>
<line x1="379.0" y1="232.2" x2="384.5" y2="232.9" stroke="rgb(24,24,24)" stroke-width="1.3" stroke-linecap="round"/>
<line x1="353.6" y1="251.0" x2="363.3" y2="247.4" stroke="rgb(36,36,36)" stroke-width="1.3" stroke-linecap="round"/>
<line x1="353.6" y1="225.8" x2="359.0" y2="227.1" stroke="rgb(21,21,21)" stroke-width="1.3" stroke-linecap="round"/>
<line x1="496.3" y1="247.1" x2="505.7" y2="246.8" stroke="rgb(45,45,45)" stroke-width="1.3" stroke-linecap="round"/>
<line x1="373.3" y1="216.8" x2="380.3" y2="216.2" stroke="rgb(37,37,37)" stroke-width="1.3" stroke-linecap="round"/>
<line x1="462.2" y1="253.7" x2="466.0" y2="256.5" stroke="rgb(33,33,33)" stroke-width="1.3" stroke-linecap="round"/>
<line x1="397.9" y1="265.7" x2="402.9" y2="264.0" stroke="rgb(37,37,37)" stroke-width="1.3" stroke-linecap="round"/>
<line x1="411.5" y1="228.4" x2="421.4" y2="225.0" stroke="rgb(34,34,34)" stroke-width="1.3" stroke-linecap="round"/>
<line x1="484.0" y1="245.8" x2="493.1" y2="239.6" stroke="rgb(36,36,36)" stroke-width="1.3" stroke-linecap="round"/>
<line x1="501.8" y1="269.9" x2="506.4" y2="272.2" stroke="rgb(27,27,27)" stroke-width="1.3" stroke-linecap="round"/>
<line x1="377.2" y1="236.3" x2="382.7" y2="232.6" stroke="rgb(45,45,45)" stroke-width="1.3" stroke-linecap="round"/>
<line x1="385.7" y1="260.8" x2="392.6" y2="260.4" stroke="rgb(45,45,45)" stroke-width="1.3" stroke-linecap="round"/>
<line x1="506.1" y1="246.2" x2="511.0" y2="247.6" stroke="rgb(31,31,31)" stroke-width="1.3" stroke-linecap="round"/>
<line x1="501.7" y1="247.7" x2="511.0" y2="248.2" stroke="rgb(26,26,26)" stroke-width="1.3" stroke-linecap="round"/>
<line x1="438.3" y1="242.8" x2="442.8" y2="245.1" stroke="rgb(49,49,49)" stroke-width="1.3" stroke-linecap="round"/>
<line x1="355.1" y1="222.5" x2="363.8" y2="223.6" stroke="rgb(32,32,32)" stroke-width="1.3" stroke-linecap="round"/>
<line x1="361.7" y1="267.6" x2="369.4" y2="264.9" stroke="rgb(38,38,38)" stroke-width="1.3" stroke-linecap="round"/>
<line x1="411.1" y1="248.0" x2="421.6" y2="248.3" stroke="rgb(28,28,28)" stroke-width="1.3" stroke-linecap="round"/>
<line x1="460.1" y1="225.9" x2="468.7" y2="224.7" stroke="rgb(32,32,32)" stroke-width="1.3" stroke-linecap="round"/>
<line x1="394.1" y1="258.7" x2="400.1" y2="254.8" stroke="rgb(43,43,43)" stroke-width="1.3" stroke-linecap="round"/>
<line x1="506.3" y1="215.3" x2="511.7" y2="213.1" stroke="rgb(49,49,49)" stroke-width="1.3" stroke-linecap="round"/>
<line x1="487.2" y1="266.9" x2="492.3" y2="266.0" stroke="rgb(48,48,48)" stroke-width="1.3" stroke-linecap="round"/>
<line x1="458.0" y1="249.7" x2="464.8" y2="254.9" stroke="rgb(21,21,21)" stroke-width="1.3" stroke-linecap="round"/>
<line x1="476.7" y1="229.8" x2="487.0" y2="232.0" stroke="rgb(22,22,22)" stroke-width="1.3" stroke-linecap="round"/>
<line x1="360.9" y1="217.5" x2="366.8" y2="217.9" stroke="rgb(32,32,32)" stroke-width="1.3" stroke-linecap="round"/>
<line x1="460.3" y1="223.6" x2="466.1" y2="224.7" stroke="rgb(34,34,34)" stroke-width="1.3" stroke-linecap="round"/>
<line x1="491.3" y1="264.8" x2="497.3" y2="261.2" stroke="rgb(28,28,28)" stroke-width="1.3" stroke-linecap="round"/>
<line x1="342.5" y1="260.0" x2="348.2" y2="261.0" stroke="rgb(37,37,37)" stroke-width="1.3" stroke-linecap="round"/>
<line x1="432.9" y1="238.0" x2="436.5" y2="235.2" stroke="rgb(39,39,39)" stroke-width="1.3" stroke-linecap="round"/>
<line x1="491.0" y1="245.5" x2="498.3" y2="249.0" stroke="rgb(27,27,27)" stroke-width="1.3" stroke-linecap="round"/>
<line x1="362.9" y1="230.3" x2="371.2" y2="235.2" stroke="rgb(44,44,44)" stroke-width="1.3" stroke-linecap="round"/>
<line x1="490.2" y1="224.0" x2="494.7" y2="222.5" stroke="rgb(47,47,47)" stroke-width="1.3" stroke-linecap="round"/>
<line x1="487.8" y1="236.6" x2="492.8" y2="237.4" stroke="rgb(52,52,52)" stroke-width="1.3" stroke-linecap="round"/>
<line x1="484.6" y1="273.1" x2="493.9" y2="277.2" stroke="rgb(16,16,16)" stroke-width="1.3" stroke-linecap="round"/>
<line x1="463.4" y1="231.9" x2="471.5" y2="237.1" stroke="rgb(38,38,38)" stroke-width="1.3" stroke-linecap="round"/>
<line x1="475.7" y1="227.7" x2="480.1" y2="229.4" stroke="rgb(46,46,46)" stroke-width="1.3" stroke-linecap="round"/>
<line x1="483.6" y1="224.8" x2="490.2" y2="227.8" stroke="rgb(28,28,28)" stroke-width="1.3" stroke-linecap="round"/>
<line x1="473.1" y1="225.2" x2="477.5" y2="222.0" stroke="rgb(30,30,30)" stroke-width="1.3" stroke-linecap="round"/>
<line x1="484.5" y1="272.5" x2="492.6" y2="270.0" stroke="rgb(26,26,26)" stroke-width="1.3" stroke-linecap="round"/>
<line x1="503.8" y1="206.3" x2="507.7" y2="208.6" stroke="rgb(40,40,40)" stroke-width="1.3" stroke-linecap="round"/>
<line x1="371.4" y1="213.9" x2="375.7" y2="212.6" stroke="rgb(39,39,39)" stroke-width="1.3" stroke-linecap="round"/>
<line x1="462.1" y1="202.2" x2="468.6" y2="203.1" stroke="rgb(32,32,32)" stroke-width="1.3" stroke-linecap="round"/>
<line x1="437.0" y1="201.2" x2="440.9" y2="202.2" stroke="rgb(50,50,50)" stroke-width="1.3" stroke-linecap="round"/>
<line x1="430.7" y1="209.5" x2="437.8" y2="211.7" stroke="rgb(35,35,35)" stroke-width="1.3" stroke-linecap="round"/>
<line x1="353.4" y1="208.6" x2="358.9" y2="207.4" stroke="rgb(48,48,48)" stroke-width="1.3" stroke-linecap="round"/>
<line x1="460.7" y1="202.0" x2="466.5" y2="200.6" stroke="rgb(35,35,35)" stroke-width="1.3" stroke-linecap="round"/>
<line x1="390.7" y1="198.9" x2="399.3" y2="198.0" stroke="rgb(44,44,44)" stroke-width="1.3" stroke-linecap="round"/>
<line x1="490.9" y1="207.7" x2="497.4" y2="206.1" stroke="rgb(24,24,24)" stroke-width="1.3" stroke-linecap="round"/>
<line x1="389.2" y1="204.3" x2="396.5" y2="205.0" stroke="rgb(38,38,38)" stroke-width="1.3" stroke-linecap="round"/>
<line x1="414.9" y1="200.4" x2="423.4" y2="200.2" stroke="rgb(37,37,37)" stroke-width="1.3" stroke-linecap="round"/>
<line x1="369.9" y1="198.1" x2="377.1" y2="198.3" stroke="rgb(27,27,27)" stroke-width="1.3" stroke-linecap="round"/>
<line x1="476.9" y1="210.1" x2="481.9" y2="211.2" stroke="rgb(24,24,24)" stroke-width="1.3" stroke-linecap="round"/>
<line x1="345.9" y1="201.0" x2="354.2" y2="200.8" stroke="rgb(25,25,25)" stroke-width="1.3" stroke-linecap="round"/>
<line x1="410.3" y1="207.9" x2="417.2" y2="205.2" stroke="rgb(40,40,40)" stroke-width="1.3" stroke-linecap="round"/>
<line x1="382.2" y1="208.4" x2="388.5" y2="204.0" stroke="rgb(41,41,41)" stroke-width="1.3" stroke-linecap="round"/>
<line x1="359.5" y1="204.3" x2="367.6" y2="200.9" stroke="rgb(31,31,31)" stroke-width="1.3" stroke-linecap="round"/>
<line x1="350.2" y1="201.1" x2="355.9" y2="203.7" stroke="rgb(30,30,30)" stroke-width="1.3" stroke-linecap="round"/>
<line x1="452.1" y1="214.4" x2="460.7" y2="215.4" stroke="rgb(35,35,35)" stroke-width="1.3" stroke-linecap="round"/>
<line x1="443.0" y1="209.5" x2="451.1" y2="209.6" stroke="rgb(25,25,25)" stroke-width="1.3" stroke-linecap="round"/>
<line x1="489.9" y1="210.0" x2="495.2" y2="209.8" stroke="rgb(21,21,21)" stroke-width="1.3" stroke-linecap="round"/>
<line x1="447.1" y1="210.4" x2="454.2" y2="210.6" stroke="rgb(20,20,20)" stroke-width="1.3" stroke-linecap="round"/>
<line x1="354.7" y1="201.7" x2="360.1" y2="200.2" stroke="rgb(31,31,31)" stroke-width="1.3" stroke-linecap="round"/>
<line x1="364.7" y1="200.8" x2="372.1" y2="202.5" stroke="rgb(19,19,19)" stroke-width="1.3" stroke-linecap="round"/>
<line x1="409.2" y1="206.4" x2="414.2" y2="205.8" stroke="rgb(37,37,37)" stroke-width="1.3" stroke-linecap="round"/>
<path d="M339.9,203.2 L343.1,203.0 L349.3,201.8 L354.2,202.4 L357.8,205.4 L362.7,205.4 L367.7,203.6 L371.3,201.2 L374.4,199.3 L378.7,201.8 L383.6,201.8 L387.9,203.0 L392.2,207.3 L395.9,207.9 L399.5,206.1 L402.6,204.2 L405.7,206.1 L408.1,207.9 L411.8,204.2 L415.5,202.4 L420.4,201.8 L423.9,203.0 L428.8,206.7 L432.5,204.2 L437.4,200.5 L442.3,199.9 L446.0,201.2 L449.7,204.8 L452.7,207.3 L457.0,204.2 L460.7,200.5 L464.4,199.3 L468.0,201.2 L471.7,204.2 L476.0,207.9" fill="none" stroke="rgb(88,88,88)" stroke-width="2.76" stroke-linejoin="round" stroke-linecap="round"/>
<path d="M476.0,207.9 L478.9,205.1 L481.9,202.1 L486.9,200.6 L491.9,202.4 L496.9,204.0 L499.3,204.2 L502.9,202.6 L508.9,201.6" fill="none" stroke="rgb(79,79,79)" stroke-width="2.42" stroke-linejoin="round" stroke-linecap="round"/>
<path d="M339.9,205.6 L345.9,206.1 L351.9,205.1 L356.9,207.1" fill="none" stroke="rgb(57,57,57)" stroke-width="2.07" stroke-linejoin="round" stroke-linecap="round"/>
<path d="M393.9,212.1 L398.9,210.6 L403.9,211.6 L408.9,213.1" fill="none" stroke="rgb(57,57,57)" stroke-width="2.07" stroke-linejoin="round" stroke-linecap="round"/>
<path d="M425.9,210.1 L430.9,211.6 L435.9,210.6 L440.9,209.1" fill="none" stroke="rgb(57,57,57)" stroke-width="2.07" stroke-linejoin="round" stroke-linecap="round"/>
<path d="M477.9,211.6 L483.9,213.6 L489.9,214.6 L496.9,214.1 L502.9,212.6 L508.9,213.1" fill="none" stroke="rgb(61,61,61)" stroke-width="2.07" stroke-linejoin="round" stroke-linecap="round"/>
<path d="M453.9,210.6 L459.9,212.1 L465.9,211.6 L470.9,210.1" fill="none" stroke="rgb(53,53,53)" stroke-width="1.95" stroke-linejoin="round" stroke-linecap="round"/>
<path d="M366.4,208.1 L369.4,207.1 L373.4,208.1" fill="none" stroke="rgb(79,79,79)" stroke-width="2.18" stroke-linejoin="round" stroke-linecap="round"/>
<path d="M373.4,199.6 L378.7,204.1 L383.6,206.1 L388.5,207.3" fill="none" stroke="rgb(61,61,61)" stroke-width="1.95" stroke-linejoin="round" stroke-linecap="round"/>
<path d="M477.9,198.6 L482.9,197.1 L488.9,198.1 L494.9,199.1 L501.9,199.6 L508.9,198.6" fill="none" stroke="rgb(61,61,61)" stroke-width="1.84" stroke-linejoin="round" stroke-linecap="round"/>
<path d="M339.9,212.1 L349.9,213.1 L357.9,212.1 L363.9,213.4" fill="none" stroke="rgb(66,66,66)" stroke-width="1.84" stroke-linejoin="round" stroke-linecap="round"/>
<path d="M366.4,214.0 L371.3,212.2 L373.8,211.0" fill="none" stroke="rgb(110,110,110)" stroke-width="2.07" stroke-linejoin="round" stroke-linecap="round"/>
<path d="M361.5,229.1 L362.1,230.2 L365.2,233.9 L367.7,237.0 L371.3,240.6 L375.0,243.7 L378.7,246.2" fill="none" stroke="rgb(102,102,102)" stroke-width="2.42" stroke-linejoin="round" stroke-linecap="round"/>
<path d="M378.7,246.2 L381.1,246.8 L384.8,246.6 L388.5,248.3" fill="none" stroke="rgb(59,59,59)" stroke-width="2.07" stroke-linejoin="round" stroke-linecap="round"/>
<path d="M388.5,248.3 L393.4,251.1 L397.1,252.4 L400.8,251.1 L404.4,249.2 L409.3,248.9 L415.5,249.9 L420.4,251.2 L423.9,249.1 L425.9,247.7 L428.8,244.9 L432.5,243.7" fill="none" stroke="rgb(134,134,134)" stroke-width="2.53" stroke-linejoin="round" stroke-linecap="round"/>
<path d="M339.9,216.1 L341.9,217.1 L346.8,218.9 L351.7,221.6 L355.4,223.6 L357.9,225.4 L361.5,227.1 L362.9,229.1" fill="none" stroke="rgb(139,139,139)" stroke-width="2.18" stroke-linejoin="round" stroke-linecap="round"/>
<path d="M390.9,217.1 L395.9,219.2 L400.8,221.4 L405.7,224.1 L410.6,226.6 L415.5,229.4 L419.9,231.1 L423.9,231.4 L428.8,234.5 L433.7,237.0" fill="none" stroke="rgb(112,112,112)" stroke-width="2.18" stroke-linejoin="round" stroke-linecap="round"/>
<path d="M370.1,216.8 L375.0,217.6 L379.9,218.3 L383.6,220.2 L386.0,222.6 L387.9,224.1 L390.9,225.1" fill="none" stroke="rgb(134,134,134)" stroke-width="2.07" stroke-linejoin="round" stroke-linecap="round"/>
<path d="M447.2,218.9 L453.3,218.3 L459.5,219.5 L464.4,221.4 L468.0,223.8 L471.7,226.3 L475.4,229.4 L480.3,232.1" fill="none" stroke="rgb(139,139,139)" stroke-width="2.07" stroke-linejoin="round" stroke-linecap="round"/>
<path d="M479.1,214.0 L484.0,216.5 L488.9,218.9 L492.6,221.4 L497.5,220.2 L502.4,218.9 L508.9,217.6" fill="none" stroke="rgb(112,112,112)" stroke-width="1.95" stroke-linejoin="round" stroke-linecap="round"/>
<path d="M404.4,216.5 L410.6,214.0 L415.5,212.8 L420.4,213.4 L425.9,214.0 L429.9,214.6 L436.2,213.4 L443.5,211.6 L447.2,211.0" fill="none" stroke="rgb(48,48,48)" stroke-width="1.84" stroke-linejoin="round" stroke-linecap="round"/>
<path d="M490.1,215.3 L495.0,213.4 L499.9,211.0 L504.8,209.1 L508.9,207.9" fill="none" stroke="rgb(112,112,112)" stroke-width="1.95" stroke-linejoin="round" stroke-linecap="round"/>
<path d="M498.9,248.6 L501.2,248.0 L506.1,249.2 L508.9,247.6" fill="none" stroke="rgb(91,91,91)" stroke-width="2.07" stroke-linejoin="round" stroke-linecap="round"/>
<path d="M468.0,239.4 L475.4,238.2 L482.8,240.6 L490.1,239.4 L497.5,241.9 L503.9,240.6" fill="none" stroke="rgb(39,39,39)" stroke-width="1.84" stroke-linejoin="round" stroke-linecap="round"/>
<path d="M341.9,230.8 L346.8,233.3 L354.2,236.3 L357.8,238.2" fill="none" stroke="rgb(35,35,35)" stroke-width="1.84" stroke-linejoin="round" stroke-linecap="round"/>
<path d="M341.9,246.5 L349.3,247.7 L356.6,245.9 L362.7,242.8" fill="none" stroke="rgb(39,39,39)" stroke-width="1.84" stroke-linejoin="round" stroke-linecap="round"/>
<path d="M436.2,266.4 L443.5,268.8 L450.9,270.1" fill="none" stroke="rgb(39,39,39)" stroke-width="1.84" stroke-linejoin="round" stroke-linecap="round"/>
<path d="M453.9,261.6 L458.9,263.1 L463.1,265.5 L467.9,264.1 L472.9,262.1" fill="none" stroke="rgb(48,48,48)" stroke-width="1.84" stroke-linejoin="round" stroke-linecap="round"/>
<path d="M458.9,269.1 L463.1,265.5 L467.4,269.1" fill="none" stroke="rgb(45,45,45)" stroke-width="1.72" stroke-linejoin="round" stroke-linecap="round"/>
<path d="M482.8,266.4 L490.1,262.7 L497.5,260.3 L503.9,257.6" fill="none" stroke="rgb(39,39,39)" stroke-width="1.84" stroke-linejoin="round" stroke-linecap="round"/>
<path d="M346.9,247.6 L356.9,248.6 L363.9,246.6" fill="none" stroke="rgb(29,29,29)" stroke-width="1.72" stroke-linejoin="round" stroke-linecap="round"/>
<path d="M366.9,256.6 L378.9,258.6 L390.9,261.6 L402.9,264.1 L414.9,266.6 L425.9,268.6" fill="none" stroke="rgb(32,32,32)" stroke-width="1.72" stroke-linejoin="round" stroke-linecap="round"/>
<path d="M441.9,236.6 L447.9,234.6 L454.9,238.6 L461.9,237.6" fill="none" stroke="rgb(35,35,35)" stroke-width="1.84" stroke-linejoin="round" stroke-linecap="round"/>
<path d="M427.9,220.6 L433.9,220.1 L439.9,221.6 L445.9,222.6" fill="none" stroke="rgb(35,35,35)" stroke-width="1.72" stroke-linejoin="round" stroke-linecap="round"/>
<path d="M401.9,228.6 L407.9,233.6 L413.9,237.6" fill="none" stroke="rgb(32,32,32)" stroke-width="1.72" stroke-linejoin="round" stroke-linecap="round"/>
<path d="M441.9,252.6 L451.9,250.6 L461.9,254.6 L469.9,252.6" fill="none" stroke="rgb(35,35,35)" stroke-width="1.72" stroke-linejoin="round" stroke-linecap="round"/>
<path d="M346.9,262.6 L356.9,264.6 L366.9,268.6 L376.9,270.6" fill="none" stroke="rgb(29,29,29)" stroke-width="1.72" stroke-linejoin="round" stroke-linecap="round"/>
<path d="M479.9,272.6 L489.9,271.1 L497.9,272.6 L505.9,271.6" fill="none" stroke="rgb(35,35,35)" stroke-width="1.84" stroke-linejoin="round" stroke-linecap="round"/>
<path d="M476.9,246.6 L483.9,250.6 L491.9,254.6 L499.9,256.6" fill="none" stroke="rgb(32,32,32)" stroke-width="1.72" stroke-linejoin="round" stroke-linecap="round"/>
<path d="M389.9,232.6 L397.9,234.6 L403.9,238.6" fill="none" stroke="rgb(29,29,29)" stroke-width="1.72" stroke-linejoin="round" stroke-linecap="round"/>
<path d="M431.9,256.6 L439.9,258.6 L447.9,257.6" fill="none" stroke="rgb(29,29,29)" stroke-width="1.72" stroke-linejoin="round" stroke-linecap="round"/>
</g>
<g filter="url(#hot2)" style="mix-blend-mode:lighten">
<rect x="341.9" y="184.6" width="165.1" height="90.1" fill="#000"/>
<ellipse cx="392.7" cy="207.5" rx="4.7" ry="2.7" fill="url(#rg)" fill-opacity="0.57"/>
<ellipse cx="408.1" cy="207.6" rx="3.6" ry="2.3" fill="url(#rg)" fill-opacity="0.51"/>
<ellipse cx="452.7" cy="207.1" rx="3.6" ry="2.3" fill="url(#rg)" fill-opacity="0.53"/>
<ellipse cx="499.3" cy="204.2" rx="3.6" ry="2.3" fill="url(#rg)" fill-opacity="0.46"/>
<ellipse cx="374.9" cy="199.6" rx="3.6" ry="2.2" fill="url(#rg)" fill-opacity="0.41"/>
<ellipse cx="464.4" cy="199.5" rx="3.2" ry="2.2" fill="url(#rg)" fill-opacity="0.44"/>
<ellipse cx="437.4" cy="200.6" rx="3.2" ry="2.2" fill="url(#rg)" fill-opacity="0.37"/>
<ellipse cx="367.7" cy="237.0" rx="2.5" ry="3.2" fill="url(#rg)" fill-opacity="0.56"/>
<ellipse cx="404.4" cy="249.0" rx="4.3" ry="2.5" fill="url(#rg)" fill-opacity="0.69"/>
<ellipse cx="356.9" cy="224.5" rx="2.9" ry="2.3" fill="url(#rg)" fill-opacity="0.87"/>
<ellipse cx="380.4" cy="218.0" rx="3.6" ry="2.2" fill="url(#rg)" fill-opacity="0.81"/>
<ellipse cx="472.1" cy="226.7" rx="3.6" ry="2.5" fill="url(#rg)" fill-opacity="0.96"/>
<ellipse cx="493.2" cy="215.9" rx="3.2" ry="2.2" fill="url(#rg)" fill-opacity="0.56"/>
<ellipse cx="385.9" cy="230.2" rx="4.0" ry="2.3" fill="url(#rg)" fill-opacity="0.58"/>
<ellipse cx="463.1" cy="265.5" rx="2.7" ry="2.2" fill="url(#rg)" fill-opacity="0.74"/>
<ellipse cx="386.0" cy="222.6" rx="2.9" ry="2.2" fill="url(#rg)" fill-opacity="0.69"/>
<ellipse cx="366.4" cy="213.8" rx="3.2" ry="2.2" fill="url(#rg)" fill-opacity="0.58"/>
</g>
</g>
<text x="344.4" y="198.0" font-size="13.6" font-weight="bold" fill="#fff">k</text>
<text x="424.09999999999997" y="196.4" font-size="10.9" fill="#fff" text-anchor="middle">9 min</text>
<g clip-path="url(#cp11)">
<g filter="url(#hot)">
<rect x="508.7" y="184.6" width="165.2" height="90.1" fill="rgb(1,1,1)"/>
<line x1="614.2" y1="212.2" x2="619.5" y2="210.6" stroke="rgb(28,28,28)" stroke-width="1.3" stroke-linecap="round"/>
<line x1="620.4" y1="267.7" x2="626.3" y2="264.1" stroke="rgb(25,25,25)" stroke-width="1.3" stroke-linecap="round"/>
<line x1="544.8" y1="242.9" x2="549.1" y2="239.8" stroke="rgb(43,43,43)" stroke-width="1.3" stroke-linecap="round"/>
<line x1="598.6" y1="224.7" x2="608.2" y2="225.9" stroke="rgb(19,19,19)" stroke-width="1.3" stroke-linecap="round"/>
<line x1="641.7" y1="255.3" x2="646.6" y2="254.2" stroke="rgb(38,38,38)" stroke-width="1.3" stroke-linecap="round"/>
<line x1="564.2" y1="216.5" x2="572.8" y2="211.5" stroke="rgb(29,29,29)" stroke-width="1.3" stroke-linecap="round"/>
<line x1="641.9" y1="257.3" x2="652.7" y2="257.8" stroke="rgb(23,23,23)" stroke-width="1.3" stroke-linecap="round"/>
<line x1="599.8" y1="263.7" x2="609.7" y2="265.3" stroke="rgb(29,29,29)" stroke-width="1.3" stroke-linecap="round"/>
<line x1="625.0" y1="213.5" x2="630.6" y2="211.4" stroke="rgb(19,19,19)" stroke-width="1.3" stroke-linecap="round"/>
<line x1="547.1" y1="217.1" x2="555.2" y2="214.6" stroke="rgb(34,34,34)" stroke-width="1.3" stroke-linecap="round"/>
<line x1="569.8" y1="224.0" x2="579.8" y2="220.8" stroke="rgb(30,30,30)" stroke-width="1.3" stroke-linecap="round"/>
<line x1="609.2" y1="221.6" x2="614.1" y2="223.1" stroke="rgb(24,24,24)" stroke-width="1.3" stroke-linecap="round"/>
<line x1="672.0" y1="251.6" x2="680.7" y2="252.2" stroke="rgb(49,49,49)" stroke-width="1.3" stroke-linecap="round"/>
<line x1="636.7" y1="225.3" x2="641.8" y2="221.6" stroke="rgb(32,32,32)" stroke-width="1.3" stroke-linecap="round"/>
<line x1="543.5" y1="270.9" x2="549.0" y2="273.9" stroke="rgb(28,28,28)" stroke-width="1.3" stroke-linecap="round"/>
<line x1="574.0" y1="269.1" x2="579.8" y2="268.8" stroke="rgb(24,24,24)" stroke-width="1.3" stroke-linecap="round"/>
<line x1="601.3" y1="227.4" x2="611.5" y2="228.6" stroke="rgb(37,37,37)" stroke-width="1.3" stroke-linecap="round"/>
<line x1="544.9" y1="274.4" x2="549.5" y2="274.5" stroke="rgb(20,20,20)" stroke-width="1.3" stroke-linecap="round"/>
<line x1="526.8" y1="250.8" x2="533.2" y2="253.4" stroke="rgb(23,23,23)" stroke-width="1.3" stroke-linecap="round"/>
<line x1="571.7" y1="274.4" x2="582.5" y2="274.8" stroke="rgb(44,44,44)" stroke-width="1.3" stroke-linecap="round"/>
<line x1="510.6" y1="256.7" x2="518.1" y2="258.6" stroke="rgb(29,29,29)" stroke-width="1.3" stroke-linecap="round"/>
<line x1="614.5" y1="217.7" x2="621.6" y2="217.1" stroke="rgb(33,33,33)" stroke-width="1.3" stroke-linecap="round"/>
<line x1="653.2" y1="227.5" x2="658.5" y2="227.5" stroke="rgb(46,46,46)" stroke-width="1.3" stroke-linecap="round"/>
<line x1="652.3" y1="229.7" x2="660.5" y2="231.2" stroke="rgb(28,28,28)" stroke-width="1.3" stroke-linecap="round"/>
<line x1="634.5" y1="245.1" x2="641.7" y2="247.9" stroke="rgb(20,20,20)" stroke-width="1.3" stroke-linecap="round"/>
<line x1="562.2" y1="211.8" x2="570.7" y2="217.3" stroke="rgb(34,34,34)" stroke-width="1.3" stroke-linecap="round"/>
<line x1="559.4" y1="214.3" x2="568.8" y2="219.4" stroke="rgb(25,25,25)" stroke-width="1.3" stroke-linecap="round"/>
<line x1="588.9" y1="215.0" x2="597.7" y2="218.2" stroke="rgb(29,29,29)" stroke-width="1.3" stroke-linecap="round"/>
<line x1="587.1" y1="245.8" x2="596.7" y2="242.7" stroke="rgb(37,37,37)" stroke-width="1.3" stroke-linecap="round"/>
<line x1="543.6" y1="245.1" x2="548.8" y2="246.7" stroke="rgb(23,23,23)" stroke-width="1.3" stroke-linecap="round"/>
<line x1="672.9" y1="252.2" x2="680.5" y2="251.6" stroke="rgb(26,26,26)" stroke-width="1.3" stroke-linecap="round"/>
<line x1="545.8" y1="232.2" x2="551.3" y2="232.9" stroke="rgb(25,25,25)" stroke-width="1.3" stroke-linecap="round"/>
<line x1="520.4" y1="251.0" x2="530.1" y2="247.4" stroke="rgb(51,51,51)" stroke-width="1.3" stroke-linecap="round"/>
<line x1="520.4" y1="225.8" x2="525.8" y2="227.1" stroke="rgb(29,29,29)" stroke-width="1.3" stroke-linecap="round"/>
<line x1="663.1" y1="247.1" x2="672.5" y2="246.8" stroke="rgb(39,39,39)" stroke-width="1.3" stroke-linecap="round"/>
<line x1="540.1" y1="216.8" x2="547.1" y2="216.2" stroke="rgb(38,38,38)" stroke-width="1.3" stroke-linecap="round"/>
<line x1="629.0" y1="253.7" x2="632.8" y2="256.5" stroke="rgb(36,36,36)" stroke-width="1.3" stroke-linecap="round"/>
<line x1="564.7" y1="265.7" x2="569.7" y2="264.0" stroke="rgb(24,24,24)" stroke-width="1.3" stroke-linecap="round"/>
<line x1="578.3" y1="228.4" x2="588.2" y2="225.0" stroke="rgb(29,29,29)" stroke-width="1.3" stroke-linecap="round"/>
<line x1="650.8" y1="245.8" x2="659.9" y2="239.6" stroke="rgb(49,49,49)" stroke-width="1.3" stroke-linecap="round"/>
<line x1="668.6" y1="269.9" x2="673.2" y2="272.2" stroke="rgb(27,27,27)" stroke-width="1.3" stroke-linecap="round"/>
<line x1="544.0" y1="236.3" x2="549.5" y2="232.6" stroke="rgb(42,42,42)" stroke-width="1.3" stroke-linecap="round"/>
<line x1="552.5" y1="260.8" x2="559.4" y2="260.4" stroke="rgb(46,46,46)" stroke-width="1.3" stroke-linecap="round"/>
<line x1="672.9" y1="246.2" x2="677.8" y2="247.6" stroke="rgb(25,25,25)" stroke-width="1.3" stroke-linecap="round"/>
<line x1="668.5" y1="247.7" x2="677.8" y2="248.2" stroke="rgb(25,25,25)" stroke-width="1.3" stroke-linecap="round"/>
<line x1="605.1" y1="242.8" x2="609.6" y2="245.1" stroke="rgb(36,36,36)" stroke-width="1.3" stroke-linecap="round"/>
<line x1="521.9" y1="222.5" x2="530.6" y2="223.6" stroke="rgb(27,27,27)" stroke-width="1.3" stroke-linecap="round"/>
<line x1="528.5" y1="267.6" x2="536.2" y2="264.9" stroke="rgb(36,36,36)" stroke-width="1.3" stroke-linecap="round"/>
<line x1="577.9" y1="248.0" x2="588.4" y2="248.3" stroke="rgb(19,19,19)" stroke-width="1.3" stroke-linecap="round"/>
<line x1="626.9" y1="225.9" x2="635.5" y2="224.7" stroke="rgb(32,32,32)" stroke-width="1.3" stroke-linecap="round"/>
<line x1="560.9" y1="258.7" x2="566.9" y2="254.8" stroke="rgb(50,50,50)" stroke-width="1.3" stroke-linecap="round"/>
<line x1="673.1" y1="215.3" x2="678.5" y2="213.1" stroke="rgb(50,50,50)" stroke-width="1.3" stroke-linecap="round"/>
<line x1="654.0" y1="266.9" x2="659.1" y2="266.0" stroke="rgb(33,33,33)" stroke-width="1.3" stroke-linecap="round"/>
<line x1="624.8" y1="249.7" x2="631.6" y2="254.9" stroke="rgb(21,21,21)" stroke-width="1.3" stroke-linecap="round"/>
<line x1="643.5" y1="229.8" x2="653.8" y2="232.0" stroke="rgb(19,19,19)" stroke-width="1.3" stroke-linecap="round"/>
<line x1="527.7" y1="217.5" x2="533.6" y2="217.9" stroke="rgb(39,39,39)" stroke-width="1.3" stroke-linecap="round"/>
<line x1="627.1" y1="223.6" x2="632.9" y2="224.7" stroke="rgb(34,34,34)" stroke-width="1.3" stroke-linecap="round"/>
<line x1="658.1" y1="264.8" x2="664.1" y2="261.2" stroke="rgb(32,32,32)" stroke-width="1.3" stroke-linecap="round"/>
<line x1="509.3" y1="260.0" x2="515.0" y2="261.0" stroke="rgb(30,30,30)" stroke-width="1.3" stroke-linecap="round"/>
<line x1="599.7" y1="238.0" x2="603.3" y2="235.2" stroke="rgb(36,36,36)" stroke-width="1.3" stroke-linecap="round"/>
<line x1="657.8" y1="245.5" x2="665.1" y2="249.0" stroke="rgb(18,18,18)" stroke-width="1.3" stroke-linecap="round"/>
<line x1="529.7" y1="230.3" x2="538.0" y2="235.2" stroke="rgb(49,49,49)" stroke-width="1.3" stroke-linecap="round"/>
<line x1="657.0" y1="224.0" x2="661.5" y2="222.5" stroke="rgb(41,41,41)" stroke-width="1.3" stroke-linecap="round"/>
<line x1="654.6" y1="236.6" x2="659.6" y2="237.4" stroke="rgb(34,34,34)" stroke-width="1.3" stroke-linecap="round"/>
<line x1="651.4" y1="273.1" x2="660.7" y2="277.2" stroke="rgb(24,24,24)" stroke-width="1.3" stroke-linecap="round"/>
<line x1="630.2" y1="231.9" x2="638.3" y2="237.1" stroke="rgb(39,39,39)" stroke-width="1.3" stroke-linecap="round"/>
<line x1="642.5" y1="227.7" x2="646.9" y2="229.4" stroke="rgb(39,39,39)" stroke-width="1.3" stroke-linecap="round"/>
<line x1="650.4" y1="224.8" x2="657.0" y2="227.8" stroke="rgb(32,32,32)" stroke-width="1.3" stroke-linecap="round"/>
<line x1="639.9" y1="225.2" x2="644.3" y2="222.0" stroke="rgb(31,31,31)" stroke-width="1.3" stroke-linecap="round"/>
<line x1="651.3" y1="272.5" x2="659.4" y2="270.0" stroke="rgb(29,29,29)" stroke-width="1.3" stroke-linecap="round"/>
<line x1="670.6" y1="206.3" x2="674.5" y2="208.6" stroke="rgb(38,38,38)" stroke-width="1.3" stroke-linecap="round"/>
<line x1="538.2" y1="213.9" x2="542.5" y2="212.6" stroke="rgb(31,31,31)" stroke-width="1.3" stroke-linecap="round"/>
<line x1="628.9" y1="202.2" x2="635.4" y2="203.1" stroke="rgb(28,28,28)" stroke-width="1.3" stroke-linecap="round"/>
<line x1="603.8" y1="201.2" x2="607.7" y2="202.2" stroke="rgb(35,35,35)" stroke-width="1.3" stroke-linecap="round"/>
<line x1="597.5" y1="209.5" x2="604.6" y2="211.7" stroke="rgb(24,24,24)" stroke-width="1.3" stroke-linecap="round"/>
<line x1="520.2" y1="208.6" x2="525.7" y2="207.4" stroke="rgb(41,41,41)" stroke-width="1.3" stroke-linecap="round"/>
<line x1="627.5" y1="202.0" x2="633.3" y2="200.6" stroke="rgb(37,37,37)" stroke-width="1.3" stroke-linecap="round"/>
<line x1="557.5" y1="198.9" x2="566.1" y2="198.0" stroke="rgb(38,38,38)" stroke-width="1.3" stroke-linecap="round"/>
<line x1="657.7" y1="207.7" x2="664.2" y2="206.1" stroke="rgb(19,19,19)" stroke-width="1.3" stroke-linecap="round"/>
<line x1="556.0" y1="204.3" x2="563.3" y2="205.0" stroke="rgb(24,24,24)" stroke-width="1.3" stroke-linecap="round"/>
<line x1="581.7" y1="200.4" x2="590.2" y2="200.2" stroke="rgb(48,48,48)" stroke-width="1.3" stroke-linecap="round"/>
<line x1="536.7" y1="198.1" x2="543.9" y2="198.3" stroke="rgb(26,26,26)" stroke-width="1.3" stroke-linecap="round"/>
<line x1="643.7" y1="210.1" x2="648.7" y2="211.2" stroke="rgb(22,22,22)" stroke-width="1.3" stroke-linecap="round"/>
<line x1="512.7" y1="201.0" x2="521.0" y2="200.8" stroke="rgb(25,25,25)" stroke-width="1.3" stroke-linecap="round"/>
<line x1="577.1" y1="207.9" x2="584.0" y2="205.2" stroke="rgb(38,38,38)" stroke-width="1.3" stroke-linecap="round"/>
<line x1="549.0" y1="208.4" x2="555.3" y2="204.0" stroke="rgb(31,31,31)" stroke-width="1.3" stroke-linecap="round"/>
<line x1="526.3" y1="204.3" x2="534.4" y2="200.9" stroke="rgb(25,25,25)" stroke-width="1.3" stroke-linecap="round"/>
<line x1="517.0" y1="201.1" x2="522.7" y2="203.7" stroke="rgb(33,33,33)" stroke-width="1.3" stroke-linecap="round"/>
<line x1="618.9" y1="214.4" x2="627.5" y2="215.4" stroke="rgb(55,55,55)" stroke-width="1.3" stroke-linecap="round"/>
<line x1="609.8" y1="209.5" x2="617.9" y2="209.6" stroke="rgb(33,33,33)" stroke-width="1.3" stroke-linecap="round"/>
<line x1="656.7" y1="210.0" x2="662.0" y2="209.8" stroke="rgb(21,21,21)" stroke-width="1.3" stroke-linecap="round"/>
<line x1="613.9" y1="210.4" x2="621.0" y2="210.6" stroke="rgb(29,29,29)" stroke-width="1.3" stroke-linecap="round"/>
<line x1="521.5" y1="201.7" x2="526.9" y2="200.2" stroke="rgb(33,33,33)" stroke-width="1.3" stroke-linecap="round"/>
<line x1="531.5" y1="200.8" x2="538.9" y2="202.5" stroke="rgb(17,17,17)" stroke-width="1.3" stroke-linecap="round"/>
<line x1="576.0" y1="206.4" x2="581.0" y2="205.8" stroke="rgb(23,23,23)" stroke-width="1.3" stroke-linecap="round"/>
<path d="M506.7,203.2 L509.9,203.0 L516.1,201.8 L521.0,202.4 L524.6,205.4 L529.5,205.4 L534.5,203.6 L538.1,201.2 L541.2,199.3 L545.5,201.8 L550.4,201.8 L554.7,203.0 L559.0,207.3 L562.7,207.9 L566.3,206.1 L569.4,204.2 L572.5,206.1 L574.9,207.9 L578.6,204.2 L582.3,202.4 L587.2,201.8 L590.7,203.0 L595.6,206.7 L599.3,204.2 L604.2,200.5 L609.1,199.9 L612.8,201.2 L616.5,204.8 L619.5,207.3 L623.8,204.2 L627.5,200.5 L631.2,199.3 L634.8,201.2 L638.5,204.2 L642.8,207.9" fill="none" stroke="rgb(91,91,91)" stroke-width="2.76" stroke-linejoin="round" stroke-linecap="round"/>
<path d="M642.8,207.9 L645.7,205.1 L648.7,202.1 L653.7,200.6 L658.7,202.4 L663.7,204.0 L666.1,204.2 L669.7,202.6 L675.7,201.6" fill="none" stroke="rgb(82,82,82)" stroke-width="2.42" stroke-linejoin="round" stroke-linecap="round"/>
<path d="M506.7,205.6 L512.7,206.1 L518.7,205.1 L523.7,207.1" fill="none" stroke="rgb(59,59,59)" stroke-width="2.07" stroke-linejoin="round" stroke-linecap="round"/>
<path d="M560.7,212.1 L565.7,210.6 L570.7,211.6 L575.7,213.1" fill="none" stroke="rgb(59,59,59)" stroke-width="2.07" stroke-linejoin="round" stroke-linecap="round"/>
<path d="M592.7,210.1 L597.7,211.6 L602.7,210.6 L607.7,209.1" fill="none" stroke="rgb(59,59,59)" stroke-width="2.07" stroke-linejoin="round" stroke-linecap="round"/>
<path d="M644.7,211.6 L650.7,213.6 L656.7,214.6 L663.7,214.1 L669.7,212.6 L675.7,213.1" fill="none" stroke="rgb(64,64,64)" stroke-width="2.07" stroke-linejoin="round" stroke-linecap="round"/>
<path d="M620.7,210.6 L626.7,212.1 L632.7,211.6 L637.7,210.1" fill="none" stroke="rgb(55,55,55)" stroke-width="1.95" stroke-linejoin="round" stroke-linecap="round"/>
<path d="M533.2,208.1 L536.2,207.1 L540.2,208.1" fill="none" stroke="rgb(82,82,82)" stroke-width="2.18" stroke-linejoin="round" stroke-linecap="round"/>
<path d="M540.2,199.6 L545.5,204.1 L550.4,206.1 L555.3,207.3" fill="none" stroke="rgb(64,64,64)" stroke-width="1.95" stroke-linejoin="round" stroke-linecap="round"/>
<path d="M644.7,198.6 L649.7,197.1 L655.7,198.1 L661.7,199.1 L668.7,199.6 L675.7,198.6" fill="none" stroke="rgb(64,64,64)" stroke-width="1.84" stroke-linejoin="round" stroke-linecap="round"/>
<path d="M506.7,212.1 L516.7,213.1 L524.7,212.1 L530.7,213.4" fill="none" stroke="rgb(68,68,68)" stroke-width="1.84" stroke-linejoin="round" stroke-linecap="round"/>
<path d="M533.2,214.0 L538.1,212.2 L540.6,211.0" fill="none" stroke="rgb(114,114,114)" stroke-width="2.07" stroke-linejoin="round" stroke-linecap="round"/>
<path d="M528.3,229.1 L528.9,230.2 L532.0,233.9 L534.5,237.0 L538.1,240.6 L541.8,243.7 L545.5,246.2" fill="none" stroke="rgb(102,102,102)" stroke-width="2.42" stroke-linejoin="round" stroke-linecap="round"/>
<path d="M545.5,246.2 L547.9,246.8 L551.6,246.6 L555.3,248.3" fill="none" stroke="rgb(59,59,59)" stroke-width="2.07" stroke-linejoin="round" stroke-linecap="round"/>
<path d="M555.3,248.3 L560.2,251.1 L563.9,252.4 L567.6,251.1 L571.2,249.2 L576.1,248.9 L582.3,249.9 L587.2,251.2 L590.7,249.1 L592.7,247.7 L595.6,244.9 L599.3,243.7" fill="none" stroke="rgb(134,134,134)" stroke-width="2.53" stroke-linejoin="round" stroke-linecap="round"/>
<path d="M506.7,216.1 L508.7,217.1 L513.6,218.9 L518.5,221.6 L522.2,223.6 L524.7,225.4 L528.3,227.1 L529.7,229.1" fill="none" stroke="rgb(139,139,139)" stroke-width="2.18" stroke-linejoin="round" stroke-linecap="round"/>
<path d="M557.7,217.1 L562.7,219.2 L567.6,221.4 L572.5,224.1 L577.4,226.6 L582.3,229.4 L586.7,231.1 L590.7,231.4 L595.6,234.5 L600.5,237.0" fill="none" stroke="rgb(112,112,112)" stroke-width="2.18" stroke-linejoin="round" stroke-linecap="round"/>
<path d="M536.9,216.8 L541.8,217.6 L546.7,218.3 L550.4,220.2 L552.8,222.6 L554.7,224.1 L557.7,225.1" fill="none" stroke="rgb(134,134,134)" stroke-width="2.07" stroke-linejoin="round" stroke-linecap="round"/>
<path d="M614.0,218.9 L620.1,218.3 L626.3,219.5 L631.2,221.4 L634.8,223.8 L638.5,226.3 L642.2,229.4 L647.1,232.1" fill="none" stroke="rgb(139,139,139)" stroke-width="2.07" stroke-linejoin="round" stroke-linecap="round"/>
<path d="M645.9,214.0 L650.8,216.5 L655.7,218.9 L659.4,221.4 L664.3,220.2 L669.2,218.9 L675.7,217.6" fill="none" stroke="rgb(112,112,112)" stroke-width="1.95" stroke-linejoin="round" stroke-linecap="round"/>
<path d="M571.2,216.5 L577.4,214.0 L582.3,212.8 L587.2,213.4 L592.7,214.0 L596.7,214.6 L603.0,213.4 L610.3,211.6 L614.0,211.0" fill="none" stroke="rgb(48,48,48)" stroke-width="1.84" stroke-linejoin="round" stroke-linecap="round"/>
<path d="M656.9,215.3 L661.8,213.4 L666.7,211.0 L671.6,209.1 L675.7,207.9" fill="none" stroke="rgb(112,112,112)" stroke-width="1.95" stroke-linejoin="round" stroke-linecap="round"/>
<path d="M665.7,248.6 L668.0,248.0 L672.9,249.2 L675.7,247.6" fill="none" stroke="rgb(91,91,91)" stroke-width="2.07" stroke-linejoin="round" stroke-linecap="round"/>
<path d="M634.8,239.4 L642.2,238.2 L649.6,240.6 L656.9,239.4 L664.3,241.9 L670.7,240.6" fill="none" stroke="rgb(39,39,39)" stroke-width="1.84" stroke-linejoin="round" stroke-linecap="round"/>
<path d="M508.7,230.8 L513.6,233.3 L521.0,236.3 L524.6,238.2" fill="none" stroke="rgb(35,35,35)" stroke-width="1.84" stroke-linejoin="round" stroke-linecap="round"/>
<path d="M508.7,246.5 L516.1,247.7 L523.4,245.9 L529.5,242.8" fill="none" stroke="rgb(39,39,39)" stroke-width="1.84" stroke-linejoin="round" stroke-linecap="round"/>
<path d="M603.0,266.4 L610.3,268.8 L617.7,270.1" fill="none" stroke="rgb(39,39,39)" stroke-width="1.84" stroke-linejoin="round" stroke-linecap="round"/>
<path d="M620.7,261.6 L625.7,263.1 L629.9,265.5 L634.7,264.1 L639.7,262.1" fill="none" stroke="rgb(48,48,48)" stroke-width="1.84" stroke-linejoin="round" stroke-linecap="round"/>
<path d="M625.7,269.1 L629.9,265.5 L634.2,269.1" fill="none" stroke="rgb(45,45,45)" stroke-width="1.72" stroke-linejoin="round" stroke-linecap="round"/>
<path d="M649.6,266.4 L656.9,262.7 L664.3,260.3 L670.7,257.6" fill="none" stroke="rgb(39,39,39)" stroke-width="1.84" stroke-linejoin="round" stroke-linecap="round"/>
<path d="M513.7,247.6 L523.7,248.6 L530.7,246.6" fill="none" stroke="rgb(29,29,29)" stroke-width="1.72" stroke-linejoin="round" stroke-linecap="round"/>
<path d="M533.7,256.6 L545.7,258.6 L557.7,261.6 L569.7,264.1 L581.7,266.6 L592.7,268.6" fill="none" stroke="rgb(32,32,32)" stroke-width="1.72" stroke-linejoin="round" stroke-linecap="round"/>
<path d="M608.7,236.6 L614.7,234.6 L621.7,238.6 L628.7,237.6" fill="none" stroke="rgb(35,35,35)" stroke-width="1.84" stroke-linejoin="round" stroke-linecap="round"/>
<path d="M594.7,220.6 L600.7,220.1 L606.7,221.6 L612.7,222.6" fill="none" stroke="rgb(35,35,35)" stroke-width="1.72" stroke-linejoin="round" stroke-linecap="round"/>
<path d="M568.7,228.6 L574.7,233.6 L580.7,237.6" fill="none" stroke="rgb(32,32,32)" stroke-width="1.72" stroke-linejoin="round" stroke-linecap="round"/>
<path d="M608.7,252.6 L618.7,250.6 L628.7,254.6 L636.7,252.6" fill="none" stroke="rgb(35,35,35)" stroke-width="1.72" stroke-linejoin="round" stroke-linecap="round"/>
<path d="M513.7,262.6 L523.7,264.6 L533.7,268.6 L543.7,270.6" fill="none" stroke="rgb(29,29,29)" stroke-width="1.72" stroke-linejoin="round" stroke-linecap="round"/>
<path d="M646.7,272.6 L656.7,271.1 L664.7,272.6 L672.7,271.6" fill="none" stroke="rgb(35,35,35)" stroke-width="1.84" stroke-linejoin="round" stroke-linecap="round"/>
<path d="M643.7,246.6 L650.7,250.6 L658.7,254.6 L666.7,256.6" fill="none" stroke="rgb(32,32,32)" stroke-width="1.72" stroke-linejoin="round" stroke-linecap="round"/>
<path d="M556.7,232.6 L564.7,234.6 L570.7,238.6" fill="none" stroke="rgb(29,29,29)" stroke-width="1.72" stroke-linejoin="round" stroke-linecap="round"/>
<path d="M598.7,256.6 L606.7,258.6 L614.7,257.6" fill="none" stroke="rgb(29,29,29)" stroke-width="1.72" stroke-linejoin="round" stroke-linecap="round"/>
</g>
<g filter="url(#hot2)" style="mix-blend-mode:lighten">
<rect x="508.7" y="184.6" width="165.2" height="90.1" fill="#000"/>
<ellipse cx="559.5" cy="207.5" rx="4.7" ry="2.7" fill="url(#rg)" fill-opacity="0.59"/>
<ellipse cx="574.9" cy="207.6" rx="3.6" ry="2.3" fill="url(#rg)" fill-opacity="0.52"/>
<ellipse cx="619.5" cy="207.1" rx="3.6" ry="2.3" fill="url(#rg)" fill-opacity="0.55"/>
<ellipse cx="666.1" cy="204.2" rx="3.6" ry="2.3" fill="url(#rg)" fill-opacity="0.48"/>
<ellipse cx="541.7" cy="199.6" rx="3.6" ry="2.2" fill="url(#rg)" fill-opacity="0.43"/>
<ellipse cx="631.2" cy="199.5" rx="3.2" ry="2.2" fill="url(#rg)" fill-opacity="0.46"/>
<ellipse cx="604.2" cy="200.6" rx="3.2" ry="2.2" fill="url(#rg)" fill-opacity="0.38"/>
<ellipse cx="534.5" cy="237.0" rx="2.5" ry="3.2" fill="url(#rg)" fill-opacity="0.56"/>
<ellipse cx="571.2" cy="249.0" rx="4.3" ry="2.5" fill="url(#rg)" fill-opacity="0.69"/>
<ellipse cx="523.7" cy="224.5" rx="2.9" ry="2.3" fill="url(#rg)" fill-opacity="0.87"/>
<ellipse cx="547.2" cy="218.0" rx="3.6" ry="2.2" fill="url(#rg)" fill-opacity="0.81"/>
<ellipse cx="638.9" cy="226.7" rx="3.6" ry="2.5" fill="url(#rg)" fill-opacity="0.96"/>
<ellipse cx="660.0" cy="215.9" rx="3.2" ry="2.2" fill="url(#rg)" fill-opacity="0.56"/>
<ellipse cx="552.7" cy="230.2" rx="4.0" ry="2.3" fill="url(#rg)" fill-opacity="0.58"/>
<ellipse cx="629.9" cy="265.5" rx="2.7" ry="2.2" fill="url(#rg)" fill-opacity="0.74"/>
<ellipse cx="552.8" cy="222.6" rx="2.9" ry="2.2" fill="url(#rg)" fill-opacity="0.69"/>
<ellipse cx="533.2" cy="213.8" rx="3.2" ry="2.2" fill="url(#rg)" fill-opacity="0.58"/>
</g>
</g>
<text x="511.2" y="198.0" font-size="13.6" font-weight="bold" fill="#fff">l</text>
<text x="590.9" y="196.4" font-size="10.9" fill="#fff" text-anchor="middle">10 min</text>
<g>
<rect x="10.6" y="56.6" width="36.8" height="32.2" fill="#050000" stroke="#fff" stroke-width="1.3"/>
<g filter="url(#blur1)">
<ellipse cx="17.5" cy="66" rx="7" ry="4.8" transform="rotate(55 17.5 66)" fill="#ff1400"/>
<ellipse cx="14.5" cy="61.5" rx="3.5" ry="3.6" transform="rotate(0 14.5 61.5)" fill="#ff1a00"/>
<ellipse cx="30.6" cy="65.7" rx="4.8" ry="3.2" transform="rotate(25 30.6 65.7)" fill="#ff2a00"/>
<ellipse cx="43.4" cy="60.0" rx="3.2" ry="2.2" transform="rotate(0 43.4 60.0)" fill="#ff1800"/>
<ellipse cx="38.5" cy="63.3" rx="2.5" ry="1.8" transform="rotate(-20 38.5 63.3)" fill="#f00000"/>
<ellipse cx="27.7" cy="75.6" rx="1.9" ry="1.9" transform="rotate(0 27.7 75.6)" fill="#ff0c00"/>
<ellipse cx="38" cy="85.5" rx="4.0" ry="1.8" transform="rotate(0 38 85.5)" fill="#d80000"/>
<ellipse cx="13" cy="78.6" rx="1.5" ry="1.3" transform="rotate(0 13 78.6)" fill="#c80000"/>
<ellipse cx="22.5" cy="70.5" rx="3" ry="2.4" transform="rotate(30 22.5 70.5)" fill="#e00000"/>
<ellipse cx="35" cy="70" rx="3" ry="1.6" transform="rotate(0 35 70)" fill="#500000"/>
<ellipse cx="45.5" cy="71" rx="1.4" ry="2.6" transform="rotate(0 45.5 71)" fill="#700000"/>
<ellipse cx="20" cy="84" rx="2.5" ry="1.5" transform="rotate(0 20 84)" fill="#500000"/>
</g>
<text x="13.6" y="86.6" font-size="10" fill="#fff">1</text>
<line x1="19.3" y1="81.8" x2="22.71" y2="78.60" stroke="#ffffff" stroke-width="1.2"/><path d="M24.20,77.20 L22.88,80.77 L20.56,78.29 Z" fill="#ffffff"/>
</g>
<text x="129.4" y="35.6" font-size="10" fill="#fff">1</text>
<line x1="136.8" y1="31.0" x2="141.14" y2="27.38" stroke="#ffffff" stroke-width="1.2"/><path d="M142.80,26.00 L141.19,29.69 L138.88,26.92 Z" fill="#ffffff"/>
<text x="113.0" y="87.6" font-size="10" fill="#fff">2</text>
<line x1="121.8" y1="85.9" x2="125.72" y2="82.75" stroke="#ffffff" stroke-width="1.2"/><path d="M127.40,81.40 L125.72,85.06 L123.47,82.25 Z" fill="#ffffff"/>
<text x="148.1" y="32.4" font-size="12.9" fill="#fff">SD</text>
<text x="148.4" y="64.4" font-size="12.9" fill="#fff">RD</text>
<line x1="166.4" y1="21.2" x2="166.4" y2="32.4" stroke="#fff" stroke-width="0.9"/>
<path d="M164.50,24.20 L166.40,21.00 L168.30,24.20" fill="none" stroke="#ffffff" stroke-width="0.9"/>
<path d="M164.50,29.40 L166.40,32.60 L168.30,29.40" fill="none" stroke="#ffffff" stroke-width="0.9"/>
<line x1="166.4" y1="34.2" x2="166.4" y2="88.4" stroke="#fff" stroke-width="0.9"/>
<path d="M163.80,38.50 L166.40,34.00 L169.00,38.50" fill="none" stroke="#ffffff" stroke-width="0.9"/>
<path d="M163.80,83.90 L166.40,88.40 L169.00,83.90" fill="none" stroke="#ffffff" stroke-width="0.9"/>
<path d="M178.6,62.8 L178.6,87.2 L197.2,87.2" fill="none" stroke="#e6e6e6" stroke-width="1.3"/>
<line x1="191.3" y1="239.2" x2="185.39" y2="234.62" stroke="#ffffff" stroke-width="1.5"/><path d="M183.30,233.00 L188.06,234.04 L185.49,237.36 Z" fill="#ffffff"/>
<line x1="238.5" y1="239.8" x2="242.83" y2="235.47" stroke="#ffffff" stroke-width="1.5"/><path d="M244.70,233.60 L243.07,238.20 L240.10,235.23 Z" fill="#ffffff"/>
<line x1="275.0" y1="240.6" x2="276.82" y2="234.72" stroke="#ffffff" stroke-width="1.5"/><path d="M277.60,232.20 L278.31,237.02 L274.29,235.78 Z" fill="#ffffff"/>
<line x1="301.9" y1="222.7" x2="302.61" y2="216.32" stroke="#ffffff" stroke-width="1.5"/><path d="M302.90,213.70 L304.50,218.30 L300.33,217.84 Z" fill="#ffffff"/>
<text x="0" y="302.6" font-size="14" font-weight="bold" fill="#000">m</text>
<path d="M32.6,306.4 L32.6,397.4 L162.8,397.4" fill="none" stroke="#3a3a3a" stroke-width="1.1"/>
<line x1="32.60" y1="397.4" x2="32.60" y2="395.59999999999997" stroke="#262626" stroke-width="0.8"/>
<text x="32.60" y="410.6" font-size="9.2" fill="#262626" text-anchor="middle" transform="translate(0,410.60) scale(1,1.09) translate(0,-410.60)">0</text>
<line x1="56.60" y1="397.4" x2="56.60" y2="395.59999999999997" stroke="#262626" stroke-width="0.8"/>
<text x="56.60" y="410.6" font-size="9.2" fill="#262626" text-anchor="middle" transform="translate(0,410.60) scale(1,1.09) translate(0,-410.60)">2</text>
<line x1="80.60" y1="397.4" x2="80.60" y2="395.59999999999997" stroke="#262626" stroke-width="0.8"/>
<text x="80.60" y="410.6" font-size="9.2" fill="#262626" text-anchor="middle" transform="translate(0,410.60) scale(1,1.09) translate(0,-410.60)">4</text>
<line x1="104.60" y1="397.4" x2="104.60" y2="395.59999999999997" stroke="#262626" stroke-width="0.8"/>
<text x="104.60" y="410.6" font-size="9.2" fill="#262626" text-anchor="middle" transform="translate(0,410.60) scale(1,1.09) translate(0,-410.60)">6</text>
<line x1="128.60" y1="397.4" x2="128.60" y2="395.59999999999997" stroke="#262626" stroke-width="0.8"/>
<text x="128.60" y="410.6" font-size="9.2" fill="#262626" text-anchor="middle" transform="translate(0,410.60) scale(1,1.09) translate(0,-410.60)">8</text>
<line x1="152.60" y1="397.4" x2="152.60" y2="395.59999999999997" stroke="#262626" stroke-width="0.8"/>
<text x="152.60" y="410.6" font-size="9.2" fill="#262626" text-anchor="middle" transform="translate(0,410.60) scale(1,1.09) translate(0,-410.60)">10</text>
<line x1="32.6" y1="397.40" x2="34.4" y2="397.40" stroke="#262626" stroke-width="0.8"/>
<text x="29.00" y="400.90" font-size="9.2" fill="#262626" text-anchor="end" transform="translate(0,400.90) scale(1,1.09) translate(0,-400.90)">0.4</text>
<line x1="32.6" y1="382.25" x2="34.4" y2="382.25" stroke="#262626" stroke-width="0.8"/>
<text x="29.00" y="385.75" font-size="9.2" fill="#262626" text-anchor="end" transform="translate(0,385.75) scale(1,1.09) translate(0,-385.75)">0.5</text>
<line x1="32.6" y1="367.10" x2="34.4" y2="367.10" stroke="#262626" stroke-width="0.8"/>
<text x="29.00" y="370.60" font-size="9.2" fill="#262626" text-anchor="end" transform="translate(0,370.60) scale(1,1.09) translate(0,-370.60)">0.6</text>
<line x1="32.6" y1="351.95" x2="34.4" y2="351.95" stroke="#262626" stroke-width="0.8"/>
<text x="29.00" y="355.45" font-size="9.2" fill="#262626" text-anchor="end" transform="translate(0,355.45) scale(1,1.09) translate(0,-355.45)">0.7</text>
<line x1="32.6" y1="336.80" x2="34.4" y2="336.80" stroke="#262626" stroke-width="0.8"/>
<text x="29.00" y="340.30" font-size="9.2" fill="#262626" text-anchor="end" transform="translate(0,340.30) scale(1,1.09) translate(0,-340.30)">0.8</text>
<line x1="32.6" y1="321.65" x2="34.4" y2="321.65" stroke="#262626" stroke-width="0.8"/>
<text x="29.00" y="325.15" font-size="9.2" fill="#262626" text-anchor="end" transform="translate(0,325.15) scale(1,1.09) translate(0,-325.15)">0.9</text>
<line x1="32.6" y1="306.50" x2="34.4" y2="306.50" stroke="#262626" stroke-width="0.8"/>
<text x="29.00" y="310.00" font-size="9.2" fill="#262626" text-anchor="end" transform="translate(0,310.00) scale(1,1.09) translate(0,-310.00)">1</text>
<text x="97.70" y="425.1" font-size="9.2" fill="#262626" text-anchor="middle" transform="translate(0,425.10) scale(1,1.09) translate(0,-425.10)">Time (min)</text>
<text transform="translate(4.40,352) rotate(-90) scale(1,1.09)" font-size="9.2" fill="#262626" text-anchor="middle" dy="0.34em">Amplitude (a.u.)</text>
<path d="M32.60,337.20 L33.42,336.49 L34.24,337.54 L35.06,336.42 L35.88,336.98 L36.69,337.02 L37.51,336.01 L38.33,337.08 L39.15,337.32 L39.97,336.99 L40.79,336.64 L41.61,337.12 L42.43,336.65 L43.25,337.34 L44.06,337.19 L44.88,337.47 L45.70,338.18 L46.52,338.52 L47.34,338.62 L48.16,337.65 L48.98,337.37 L49.80,337.21 L50.62,336.76 L51.43,337.51 L52.25,336.84 L53.07,336.67 L53.89,336.40 L54.71,336.86 L55.53,336.01 L56.35,336.24 L57.17,334.68 L57.98,335.40 L58.80,337.06 L59.62,337.80 L60.44,341.87 L61.26,342.61 L62.08,345.06 L62.90,346.43 L63.72,347.06 L64.54,348.05 L65.35,348.44 L66.17,349.29 L66.99,349.65 L67.81,349.83 L68.63,350.21 L69.45,349.92 L70.27,350.52 L71.09,349.74 L71.91,351.50 L72.72,351.30 L73.54,351.43 L74.36,352.24 L75.18,350.33 L76.00,352.85 L76.82,352.02 L77.64,352.44 L78.46,351.58 L79.28,353.81 L80.09,352.49 L80.91,353.74 L81.73,353.73 L82.55,354.30 L83.37,353.90 L84.19,355.14 L85.01,354.88 L85.83,354.91 L86.65,354.36 L87.46,356.84 L88.28,354.99 L89.10,355.53 L89.92,356.52 L90.74,356.34 L91.56,356.98 L92.38,356.09 L93.20,357.08 L94.02,357.54 L94.83,357.78 L95.65,357.90 L96.47,357.99 L97.29,358.46 L98.11,357.01 L98.93,359.22 L99.75,360.22 L100.57,358.47 L101.38,358.59 L102.20,358.42 L103.02,358.83 L103.84,358.90 L104.66,358.73 L105.48,358.24 L106.30,358.83 L107.12,358.64 L107.94,357.26 L108.75,357.85 L109.57,358.48 L110.39,356.46 L111.21,357.01 L112.03,357.47 L112.85,357.52 L113.67,356.47 L114.49,356.66 L115.31,356.23 L116.12,355.81 L116.94,354.84 L117.76,353.32 L118.58,352.54 L119.40,351.47 L120.22,348.61 L121.04,346.50 L121.86,343.66 L122.68,340.73 L123.49,337.73 L124.31,334.00 L125.13,330.26 L125.95,327.22 L126.77,322.64 L127.59,318.77 L128.41,316.09 L129.23,313.00 L130.05,310.49 L130.86,309.22 L131.68,309.20 L132.50,308.99 L133.32,309.26 L134.14,309.87 L134.96,311.29 L135.78,311.09 L136.60,312.07 L137.42,313.53 L138.23,314.96 L139.05,314.58 L139.87,314.81 L140.69,316.50 L141.51,316.91 L142.33,317.50 L143.15,317.39 L143.97,318.77 L144.78,318.30 L145.60,319.41 L146.42,319.09 L147.24,319.89 L148.06,320.36 L148.88,321.35 L149.70,321.25 L150.52,321.35 L151.34,321.19 L152.15,321.74 L152.97,322.51 L153.79,322.17 L154.61,322.11 L155.43,322.95 L156.25,323.35 L157.07,323.58 L157.89,323.11 L158.71,323.37 L159.52,324.26 L160.34,323.68 L161.16,324.25 L161.98,324.51 L162.80,323.57" fill="none" stroke="#0072BD" stroke-width="1.35" stroke-linejoin="round" />
<path d="M32.60,352.12 L33.42,352.64 L34.24,352.22 L35.06,354.32 L35.88,353.40 L36.69,354.11 L37.51,351.92 L38.33,351.98 L39.15,351.06 L39.97,351.78 L40.79,351.05 L41.61,351.60 L42.43,352.18 L43.25,352.06 L44.06,353.15 L44.88,352.80 L45.70,351.96 L46.52,352.01 L47.34,351.97 L48.16,350.31 L48.98,351.16 L49.80,351.46 L50.62,351.30 L51.43,351.90 L52.25,352.06 L53.07,352.27 L53.89,351.24 L54.71,351.93 L55.53,351.10 L56.35,350.10 L57.17,348.64 L57.98,352.45 L58.80,355.43 L59.62,356.56 L60.44,361.40 L61.26,363.55 L62.08,365.72 L62.90,367.59 L63.72,372.02 L64.54,374.20 L65.35,373.80 L66.17,375.67 L66.99,376.84 L67.81,377.63 L68.63,378.97 L69.45,379.49 L70.27,380.42 L71.09,380.06 L71.91,380.50 L72.72,382.07 L73.54,383.26 L74.36,383.56 L75.18,384.63 L76.00,385.97 L76.82,385.01 L77.64,383.56 L78.46,383.51 L79.28,382.98 L80.09,382.78 L80.91,383.14 L81.73,383.35 L82.55,384.60 L83.37,382.88 L84.19,383.93 L85.01,384.73 L85.83,384.00 L86.65,384.64 L87.46,385.08 L88.28,384.82 L89.10,384.46 L89.92,385.65 L90.74,384.84 L91.56,383.99 L92.38,385.14 L93.20,384.33 L94.02,383.10 L94.83,383.87 L95.65,383.12 L96.47,382.45 L97.29,382.74 L98.11,383.14 L98.93,384.60 L99.75,382.51 L100.57,383.13 L101.38,382.66 L102.20,382.44 L103.02,383.25 L103.84,382.74 L104.66,382.30 L105.48,380.77 L106.30,382.37 L107.12,382.20 L107.94,382.34 L108.75,381.67 L109.57,381.29 L110.39,381.00 L111.21,381.40 L112.03,382.04 L112.85,380.07 L113.67,379.81 L114.49,379.08 L115.31,379.58 L116.12,379.64 L116.94,378.69 L117.76,379.18 L118.58,378.36 L119.40,377.79 L120.22,376.05 L121.04,371.63 L121.86,367.66 L122.68,353.85 L123.49,342.27 L124.31,332.94 L125.13,324.73 L125.95,317.62 L126.77,313.03 L127.59,310.38 L128.41,308.42 L129.23,307.12 L130.05,307.21 L130.86,306.96 L131.68,306.74 L132.50,307.93 L133.32,307.60 L134.14,307.52 L134.96,308.96 L135.78,308.78 L136.60,309.84 L137.42,311.22 L138.23,310.96 L139.05,312.12 L139.87,312.29 L140.69,313.25 L141.51,313.50 L142.33,315.47 L143.15,313.76 L143.97,314.54 L144.78,315.84 L145.60,316.53 L146.42,316.44 L147.24,316.48 L148.06,316.95 L148.88,317.18 L149.70,318.65 L150.52,318.43 L151.34,317.33 L152.15,318.14 L152.97,319.05 L153.79,318.61 L154.61,318.82 L155.43,318.49 L156.25,317.26 L157.07,318.36 L157.89,318.01 L158.71,318.85 L159.52,319.93 L160.34,319.65 L161.16,318.25 L161.98,320.07 L162.80,320.40" fill="none" stroke="#D95319" stroke-width="1.35" stroke-linejoin="round" />
<path d="M32.60,345.27 L33.42,344.73 L34.24,344.99 L35.06,344.91 L35.88,345.11 L36.69,344.60 L37.51,343.81 L38.33,344.39 L39.15,344.27 L39.97,344.89 L40.79,345.02 L41.61,345.34 L42.43,346.43 L43.25,344.94 L44.06,344.97 L44.88,344.81 L45.70,345.82 L46.52,345.69 L47.34,345.15 L48.16,344.93 L48.98,344.52 L49.80,344.70 L50.62,344.40 L51.43,345.02 L52.25,344.31 L53.07,343.91 L53.89,344.10 L54.71,342.48 L55.53,342.74 L56.35,342.03 L57.17,343.18 L57.98,343.68 L58.80,346.73 L59.62,350.08 L60.44,353.16 L61.26,356.83 L62.08,359.14 L62.90,361.04 L63.72,362.44 L64.54,363.14 L65.35,365.85 L66.17,366.92 L66.99,367.25 L67.81,368.65 L68.63,368.22 L69.45,367.95 L70.27,370.09 L71.09,369.57 L71.91,369.69 L72.72,370.30 L73.54,369.83 L74.36,370.36 L75.18,371.34 L76.00,370.36 L76.82,370.70 L77.64,370.81 L78.46,370.81 L79.28,371.64 L80.09,372.03 L80.91,373.04 L81.73,372.28 L82.55,373.19 L83.37,373.37 L84.19,374.05 L85.01,374.16 L85.83,374.07 L86.65,373.16 L87.46,374.97 L88.28,374.72 L89.10,373.87 L89.92,373.29 L90.74,373.80 L91.56,375.16 L92.38,375.54 L93.20,374.07 L94.02,374.70 L94.83,374.96 L95.65,373.85 L96.47,373.79 L97.29,374.29 L98.11,374.24 L98.93,374.14 L99.75,373.53 L100.57,374.04 L101.38,374.10 L102.20,374.08 L103.02,375.20 L103.84,373.69 L104.66,373.87 L105.48,374.09 L106.30,375.42 L107.12,374.71 L107.94,373.93 L108.75,375.33 L109.57,374.42 L110.39,373.52 L111.21,374.51 L112.03,372.71 L112.85,373.01 L113.67,373.13 L114.49,372.63 L115.31,372.18 L116.12,371.48 L116.94,369.95 L117.76,369.78 L118.58,367.22 L119.40,364.02 L120.22,361.55 L121.04,356.20 L121.86,349.12 L122.68,340.66 L123.49,333.93 L124.31,327.49 L125.13,320.88 L125.95,317.16 L126.77,313.52 L127.59,309.66 L128.41,309.25 L129.23,307.00 L130.05,308.65 L130.86,308.72 L131.68,308.28 L132.50,308.38 L133.32,308.92 L134.14,309.59 L134.96,310.09 L135.78,310.49 L136.60,310.66 L137.42,311.54 L138.23,311.79 L139.05,312.13 L139.87,312.93 L140.69,313.02 L141.51,313.62 L142.33,313.35 L143.15,314.66 L143.97,315.36 L144.78,315.65 L145.60,315.77 L146.42,315.58 L147.24,316.56 L148.06,316.48 L148.88,316.02 L149.70,318.67 L150.52,318.21 L151.34,317.80 L152.15,318.03 L152.97,318.37 L153.79,318.98 L154.61,318.65 L155.43,319.09 L156.25,319.76 L157.07,318.44 L157.89,319.74 L158.71,320.38 L159.52,320.30 L160.34,320.53 L161.16,320.60 L161.98,322.18 L162.80,321.15" fill="none" stroke="#EDB120" stroke-width="1.35" stroke-linejoin="round" />
<line x1="75.0" y1="312.3" x2="93.8" y2="312.3" stroke="#0072BD" stroke-width="2.0"/>
<text x="97.6" y="315.8" font-size="9.2" fill="#262626" transform="translate(0,315.80) scale(1,1.09) translate(0,-315.80)">SD</text>
<line x1="75.0" y1="323.90000000000003" x2="93.8" y2="323.90000000000003" stroke="#D95319" stroke-width="2.0"/>
<text x="97.6" y="327.4" font-size="9.2" fill="#262626" transform="translate(0,327.40) scale(1,1.09) translate(0,-327.40)">RD</text>
<line x1="75.0" y1="335.5" x2="93.8" y2="335.5" stroke="#EDB120" stroke-width="2.0"/>
<text x="97.6" y="339.0" font-size="9.2" fill="#262626" transform="translate(0,339.00) scale(1,1.09) translate(0,-339.00)">DV</text>
<line x1="32.6" y1="349.4" x2="58" y2="349.4" stroke="#000" stroke-width="1.25" stroke-dasharray="3,1.9"/>
<line x1="32.6" y1="386.9" x2="77" y2="386.9" stroke="#000" stroke-width="1.25" stroke-dasharray="3,1.9"/>
<line x1="45.2" y1="352" x2="45.2" y2="363.5" stroke="#000" stroke-width="1"/>
<line x1="45.2" y1="374.5" x2="45.2" y2="384" stroke="#000" stroke-width="1"/>
<path d="M45.20,350.00 L47.00,353.80 L43.40,353.80 Z" fill="#000"/>
<path d="M45.20,386.30 L43.40,382.50 L47.00,382.50 Z" fill="#000"/>
<text x="47.4" y="372.8" font-size="9.2" fill="#262626" text-anchor="middle" transform="translate(0,372.80) scale(1,1.09) translate(0,-372.80)">MVC</text>
<line x1="124.9" y1="307.6" x2="141.6" y2="307.6" stroke="#000" stroke-width="1.25" stroke-dasharray="3,1.9"/>
<line x1="123.7" y1="350.1" x2="147.6" y2="350.1" stroke="#000" stroke-width="1.25" stroke-dasharray="3,1.9"/>
<line x1="132.7" y1="310" x2="132.7" y2="324.5" stroke="#000" stroke-width="1"/>
<line x1="132.7" y1="335" x2="132.7" y2="348" stroke="#000" stroke-width="1"/>
<path d="M132.70,308.20 L134.50,312.00 L130.90,312.00 Z" fill="#000"/>
<path d="M132.70,349.50 L130.90,345.70 L134.50,345.70 Z" fill="#000"/>
<text x="133.8" y="333.3" font-size="9.2" fill="#262626" text-anchor="middle" transform="translate(0,333.30) scale(1,1.09) translate(0,-333.30)">HR</text>
<line x1="113.3" y1="375.7" x2="113.3" y2="383.5" stroke="#000" stroke-width="1"/>
<line x1="133.3" y1="375.7" x2="133.3" y2="383.5" stroke="#000" stroke-width="1"/>
<path d="M113.90,379.60 L117.70,377.70 L117.70,381.50 Z" fill="#000"/>
<path d="M132.70,379.60 L128.90,381.50 L128.90,377.70 Z" fill="#000"/>
<text x="123.5" y="380.2" font-size="9.2" fill="#262626" text-anchor="middle" transform="translate(0,380.20) scale(1,1.09) translate(0,-380.20)">TP</text>
<text x="173" y="302.6" font-size="14" font-weight="bold" fill="#000">n</text>
<path d="M209.7,306.5 L209.7,397.3 L341.7,397.3" fill="none" stroke="#3a3a3a" stroke-width="1.1"/>
<line x1="209.70" y1="397.3" x2="209.70" y2="395.5" stroke="#262626" stroke-width="0.8"/>
<text x="209.70" y="410.6" font-size="9.2" fill="#262626" text-anchor="middle" transform="translate(0,410.60) scale(1,1.09) translate(0,-410.60)">0</text>
<line x1="233.70" y1="397.3" x2="233.70" y2="395.5" stroke="#262626" stroke-width="0.8"/>
<text x="233.70" y="410.6" font-size="9.2" fill="#262626" text-anchor="middle" transform="translate(0,410.60) scale(1,1.09) translate(0,-410.60)">2</text>
<line x1="257.70" y1="397.3" x2="257.70" y2="395.5" stroke="#262626" stroke-width="0.8"/>
<text x="257.70" y="410.6" font-size="9.2" fill="#262626" text-anchor="middle" transform="translate(0,410.60) scale(1,1.09) translate(0,-410.60)">4</text>
<line x1="281.70" y1="397.3" x2="281.70" y2="395.5" stroke="#262626" stroke-width="0.8"/>
<text x="281.70" y="410.6" font-size="9.2" fill="#262626" text-anchor="middle" transform="translate(0,410.60) scale(1,1.09) translate(0,-410.60)">6</text>
<line x1="305.70" y1="397.3" x2="305.70" y2="395.5" stroke="#262626" stroke-width="0.8"/>
<text x="305.70" y="410.6" font-size="9.2" fill="#262626" text-anchor="middle" transform="translate(0,410.60) scale(1,1.09) translate(0,-410.60)">8</text>
<line x1="329.70" y1="397.3" x2="329.70" y2="395.5" stroke="#262626" stroke-width="0.8"/>
<text x="329.70" y="410.6" font-size="9.2" fill="#262626" text-anchor="middle" transform="translate(0,410.60) scale(1,1.09) translate(0,-410.60)">10</text>
<line x1="209.7" y1="397.30" x2="211.5" y2="397.30" stroke="#262626" stroke-width="0.8"/>
<text x="203.70" y="400.80" font-size="9.2" fill="#262626" text-anchor="end" transform="translate(0,400.80) scale(1,1.09) translate(0,-400.80)">0</text>
<line x1="209.7" y1="379.14" x2="211.5" y2="379.14" stroke="#262626" stroke-width="0.8"/>
<text x="203.70" y="382.64" font-size="9.2" fill="#262626" text-anchor="end" transform="translate(0,382.64) scale(1,1.09) translate(0,-382.64)">20</text>
<line x1="209.7" y1="360.98" x2="211.5" y2="360.98" stroke="#262626" stroke-width="0.8"/>
<text x="203.70" y="364.48" font-size="9.2" fill="#262626" text-anchor="end" transform="translate(0,364.48) scale(1,1.09) translate(0,-364.48)">40</text>
<line x1="209.7" y1="342.82" x2="211.5" y2="342.82" stroke="#262626" stroke-width="0.8"/>
<text x="203.70" y="346.32" font-size="9.2" fill="#262626" text-anchor="end" transform="translate(0,346.32) scale(1,1.09) translate(0,-346.32)">60</text>
<line x1="209.7" y1="324.66" x2="211.5" y2="324.66" stroke="#262626" stroke-width="0.8"/>
<text x="203.70" y="328.16" font-size="9.2" fill="#262626" text-anchor="end" transform="translate(0,328.16) scale(1,1.09) translate(0,-328.16)">80</text>
<line x1="209.7" y1="306.50" x2="211.5" y2="306.50" stroke="#262626" stroke-width="0.8"/>
<text x="203.70" y="310.00" font-size="9.2" fill="#262626" text-anchor="end" transform="translate(0,310.00) scale(1,1.09) translate(0,-310.00)">100</text>
<text x="276.50" y="425.1" font-size="9.2" fill="#262626" text-anchor="middle" transform="translate(0,425.10) scale(1,1.09) translate(0,-425.10)">Time (min)</text>
<text transform="translate(177.80,352) rotate(-90) scale(1,1.09)" font-size="9.2" fill="#262626" text-anchor="middle" dy="0.34em">Amplitude (a.u.)</text>
<path d="M209.70,353.04 L210.17,349.79 L210.65,340.52 L211.12,349.95 L211.59,351.67 L212.07,350.05 L212.54,349.47 L213.01,348.78 L213.48,352.36 L213.96,352.68 L214.43,349.99 L214.90,350.54 L215.38,348.85 L215.85,349.42 L216.32,350.77 L216.80,350.79 L217.27,346.43 L217.74,350.36 L218.22,350.85 L218.69,351.32 L219.16,350.06 L219.64,350.53 L220.11,351.78 L220.58,351.90 L221.05,351.95 L221.53,351.88 L222.00,351.37 L222.47,352.48 L222.95,355.21 L223.42,351.41 L223.89,354.31 L224.37,352.32 L224.84,354.03 L225.31,351.71 L225.79,352.67 L226.26,351.04 L226.73,346.47 L227.21,351.34 L227.68,350.04 L228.15,353.19 L228.62,351.68 L229.10,350.30 L229.57,351.40 L230.04,350.73 L230.52,351.11 L230.99,352.73 L231.46,349.70 L231.94,349.55 L232.41,346.61 L232.88,358.49 L233.36,380.24 L233.83,387.96 L234.30,388.56 L234.78,390.40 L235.25,387.66 L235.72,388.88 L236.19,386.45 L236.67,386.96 L237.14,387.25 L237.61,388.27 L238.09,379.93 L238.56,385.92 L239.03,383.94 L239.51,386.61 L239.98,384.99 L240.45,384.78 L240.93,384.84 L241.40,384.68 L241.87,384.45 L242.35,385.52 L242.82,386.24 L243.29,385.46 L243.76,384.15 L244.24,382.93 L244.71,383.83 L245.18,383.84 L245.66,384.36 L246.13,384.81 L246.60,385.91 L247.08,385.42 L247.55,384.32 L248.02,387.73 L248.50,388.62 L248.97,385.12 L249.44,387.79 L249.92,386.50 L250.39,386.40 L250.86,389.08 L251.33,383.66 L251.81,384.38 L252.28,386.46 L252.75,385.38 L253.23,386.34 L253.70,387.99 L254.17,387.05 L254.65,386.52 L255.12,385.62 L255.59,386.39 L256.07,387.52 L256.54,385.81 L257.01,389.06 L257.48,386.99 L257.96,382.73 L258.43,388.67 L258.90,390.87 L259.38,389.60 L259.85,387.96 L260.32,387.55 L260.80,386.09 L261.27,389.81 L261.74,388.37 L262.22,387.45 L262.69,388.64 L263.16,391.87 L263.64,387.27 L264.11,385.10 L264.58,387.02 L265.05,389.83 L265.53,389.12 L266.00,388.21 L266.47,380.06 L266.95,387.67 L267.42,388.42 L267.89,386.34 L268.37,388.74 L268.84,385.94 L269.31,389.65 L269.79,381.93 L270.26,387.63 L270.73,386.60 L271.21,387.72 L271.68,388.24 L272.15,386.11 L272.62,389.71 L273.10,389.56 L273.57,389.45 L274.04,387.82 L274.52,389.16 L274.99,387.53 L275.46,388.55 L275.94,389.16 L276.41,388.50 L276.88,388.05 L277.36,387.43 L277.83,389.37 L278.30,389.01 L278.78,386.78 L279.25,386.34 L279.72,386.56 L280.19,388.93 L280.67,389.37 L281.14,390.47 L281.61,388.43 L282.09,388.39 L282.56,385.54 L283.03,384.44 L283.51,389.88 L283.98,392.32 L284.45,386.74 L284.93,382.23 L285.40,391.17 L285.87,388.59 L286.35,391.21 L286.82,383.83 L287.29,387.28 L287.76,388.10 L288.24,389.20 L288.71,392.08 L289.18,389.17 L289.66,391.27 L290.13,382.24 L290.60,392.16 L291.08,390.39 L291.55,387.32 L292.02,386.72 L292.50,385.83 L292.97,373.03 L293.44,355.35 L293.92,346.12 L294.39,339.52 L294.86,339.52 L295.33,340.64 L295.81,342.48 L296.28,342.87 L296.75,341.18 L297.23,343.15 L297.70,342.29 L298.17,345.31 L298.65,347.47 L299.12,346.36 L299.59,349.91 L300.07,352.74 L300.54,352.80 L301.01,353.60 L301.48,350.32 L301.96,354.29 L302.43,352.03 L302.90,358.62 L303.38,358.44 L303.85,362.25 L304.32,362.04 L304.80,363.88 L305.27,365.46 L305.74,363.64 L306.22,360.76 L306.69,365.88 L307.16,364.74 L307.64,357.18 L308.11,359.83 L308.58,362.06 L309.05,356.65 L309.53,362.04 L310.00,362.39 L310.47,358.45 L310.95,357.76 L311.42,349.39 L311.89,354.24 L312.37,353.94 L312.84,348.77 L313.31,357.62 L313.79,353.26 L314.26,354.99 L314.73,354.81 L315.21,354.05 L315.68,352.00 L316.15,351.54 L316.62,351.06 L317.10,354.64 L317.57,352.79 L318.04,355.09 L318.52,351.78 L318.99,350.76 L319.46,352.74 L319.94,351.27 L320.41,351.29 L320.88,350.16 L321.36,352.82 L321.83,352.83 L322.30,352.74 L322.78,349.08 L323.25,350.04 L323.72,351.81 L324.19,351.30 L324.67,351.46 L325.14,351.33 L325.61,351.87 L326.09,351.99 L326.56,353.27 L327.03,352.31 L327.51,348.92 L327.98,350.48 L328.45,351.10 L328.93,351.45 L329.40,350.98 L329.87,350.50 L330.35,351.89 L330.82,350.60 L331.29,350.48 L331.76,351.85 L332.24,351.85 L332.71,352.11 L333.18,352.16 L333.66,349.28 L334.13,353.96 L334.60,350.87 L335.08,351.33 L335.55,351.29 L336.02,350.21 L336.50,348.67 L336.97,350.15 L337.44,350.42 L337.92,351.06 L338.39,350.31 L338.86,348.76 L339.33,350.61 L339.81,351.66 L340.28,351.78 L340.75,351.51 L341.23,351.88 L341.70,348.21" fill="none" stroke="#0072BD" stroke-width="1.1" stroke-linejoin="round" />
<path d="M209.70,356.32 L210.25,355.33 L210.80,355.53 L211.36,355.57 L211.91,354.70 L212.46,355.12 L213.01,355.23 L213.57,354.02 L214.12,355.19 L214.67,355.54 L215.22,355.59 L215.78,355.19 L216.33,354.62 L216.88,354.58 L217.43,354.50 L217.98,354.18 L218.54,354.32 L219.09,354.97 L219.64,354.66 L220.19,355.10 L220.75,355.83 L221.30,355.14 L221.85,355.63 L222.40,355.92 L222.96,354.90 L223.51,355.76 L224.06,356.64 L224.61,356.60 L225.16,355.47 L225.72,357.08 L226.27,356.73 L226.82,356.98 L227.37,357.23 L227.93,357.33 L228.48,358.06 L229.03,358.20 L229.58,358.18 L230.14,358.43 L230.69,358.81 L231.24,360.67 L231.79,359.98 L232.34,356.50 L232.90,353.94 L233.45,354.26 L234.00,356.75 L234.55,359.30 L235.11,362.34 L235.66,366.28 L236.21,366.55 L236.76,368.86 L237.32,370.46 L237.87,371.13 L238.42,373.23 L238.97,375.09 L239.52,375.43 L240.08,376.61 L240.63,378.40 L241.18,378.59 L241.73,379.96 L242.29,381.90 L242.84,381.42 L243.39,383.13 L243.94,384.64 L244.49,384.51 L245.05,385.43 L245.60,385.70 L246.15,387.73 L246.70,387.15 L247.26,387.94 L247.81,388.82 L248.36,389.60 L248.91,389.78 L249.47,390.67 L250.02,391.57 L250.57,392.51 L251.12,391.83 L251.67,392.31 L252.23,393.09 L252.78,393.58 L253.33,393.66 L253.88,395.78 L254.44,394.45 L254.99,396.24 L255.54,394.97 L256.09,394.75 L256.65,394.53 L257.20,396.07 L257.75,395.81 L258.30,396.20 L258.85,397.30 L259.41,395.67 L259.96,396.04 L260.51,395.95 L261.06,396.47 L261.62,395.92 L262.17,395.81 L262.72,395.11 L263.27,395.61 L263.83,393.80 L264.38,395.91 L264.93,395.78 L265.48,395.50 L266.03,395.77 L266.59,394.33 L267.14,394.65 L267.69,395.55 L268.24,394.63 L268.80,393.90 L269.35,395.16 L269.90,394.20 L270.45,394.44 L271.01,393.04 L271.56,394.12 L272.11,394.59 L272.66,394.70 L273.21,393.37 L273.77,394.69 L274.32,393.19 L274.87,395.34 L275.42,394.60 L275.98,394.65 L276.53,394.92 L277.08,394.74 L277.63,394.47 L278.19,395.45 L278.74,396.11 L279.29,394.80 L279.84,394.96 L280.39,396.39 L280.95,396.07 L281.50,397.30 L282.05,395.96 L282.60,397.24 L283.16,396.78 L283.71,395.25 L284.26,397.12 L284.81,396.38 L285.37,396.89 L285.92,396.76 L286.47,395.83 L287.02,394.48 L287.57,394.79 L288.13,393.84 L288.68,392.56 L289.23,392.79 L289.78,393.37 L290.34,391.76 L290.89,392.47 L291.44,391.70 L291.99,393.00 L292.55,391.33 L293.10,391.65 L293.65,378.05 L294.20,339.71 L294.75,322.99 L295.31,319.58 L295.86,316.98 L296.41,313.26 L296.96,311.76 L297.52,313.88 L298.07,315.30 L298.62,315.78 L299.17,316.12 L299.73,317.14 L300.28,318.80 L300.83,320.00 L301.38,320.16 L301.93,320.31 L302.49,321.93 L303.04,321.51 L303.59,322.79 L304.14,323.45 L304.70,324.65 L305.25,324.24 L305.80,325.66 L306.35,327.20 L306.91,326.62 L307.46,327.99 L308.01,327.85 L308.56,329.04 L309.11,330.17 L309.67,330.41 L310.22,331.47 L310.77,332.34 L311.32,332.56 L311.88,332.80 L312.43,333.90 L312.98,334.68 L313.53,335.62 L314.08,335.69 L314.64,336.54 L315.19,336.84 L315.74,337.85 L316.29,337.56 L316.85,340.28 L317.40,340.12 L317.95,340.48 L318.50,340.96 L319.06,342.98 L319.61,343.49 L320.16,343.52 L320.71,343.59 L321.26,344.25 L321.82,346.38 L322.37,346.17 L322.92,346.31 L323.47,347.64 L324.03,348.93 L324.58,349.47 L325.13,350.51 L325.68,349.32 L326.24,350.31 L326.79,350.59 L327.34,351.03 L327.89,350.81 L328.44,351.43 L329.00,351.65 L329.55,351.33 L330.10,351.62 L330.65,351.43 L331.21,351.78 L331.76,351.39 L332.31,352.25 L332.86,352.26 L333.42,352.46 L333.97,353.21 L334.52,352.29 L335.07,353.44 L335.62,354.18 L336.18,352.85 L336.73,353.42 L337.28,354.34 L337.83,353.74 L338.39,353.98 L338.94,354.36 L339.49,355.64 L340.04,355.14 L340.60,356.05 L341.15,356.06 L341.70,356.27" fill="none" stroke="#D95319" stroke-width="1.2" stroke-linejoin="round" />
<path d="M209.70,337.86 L210.30,337.15 L210.91,338.04 L211.51,338.40 L212.11,337.50 L212.71,337.29 L213.32,337.34 L213.92,337.23 L214.52,337.43 L215.12,337.62 L215.73,337.84 L216.33,337.77 L216.93,337.98 L217.54,337.60 L218.14,337.88 L218.74,338.70 L219.34,337.68 L219.95,337.77 L220.55,337.09 L221.15,336.72 L221.75,336.89 L222.36,337.64 L222.96,336.43 L223.56,337.13 L224.17,335.92 L224.77,337.05 L225.37,337.06 L225.97,336.44 L226.58,338.12 L227.18,337.59 L227.78,338.25 L228.38,338.23 L228.99,338.55 L229.59,338.18 L230.19,338.83 L230.80,338.81 L231.40,337.56 L232.00,337.35 L232.60,334.89 L233.21,334.38 L233.81,334.44 L234.41,333.97 L235.02,333.29 L235.62,333.18 L236.22,333.82 L236.82,333.44 L237.43,333.33 L238.03,332.95 L238.63,333.38 L239.23,332.86 L239.84,333.66 L240.44,333.71 L241.04,333.25 L241.65,333.34 L242.25,333.78 L242.85,333.63 L243.45,333.91 L244.06,333.80 L244.66,333.75 L245.26,334.13 L245.86,334.13 L246.47,334.75 L247.07,335.01 L247.67,335.97 L248.28,335.03 L248.88,335.39 L249.48,335.39 L250.08,336.60 L250.69,336.17 L251.29,336.21 L251.89,336.74 L252.49,335.63 L253.10,335.51 L253.70,336.56 L254.30,335.86 L254.91,335.33 L255.51,336.57 L256.11,335.67 L256.71,335.43 L257.32,335.32 L257.92,336.68 L258.52,336.57 L259.12,336.05 L259.73,335.65 L260.33,336.69 L260.93,336.49 L261.54,336.66 L262.14,335.74 L262.74,336.45 L263.34,335.99 L263.95,335.96 L264.55,335.73 L265.15,336.03 L265.75,336.05 L266.36,335.69 L266.96,335.96 L267.56,336.67 L268.17,336.36 L268.77,335.74 L269.37,336.05 L269.97,336.24 L270.58,335.98 L271.18,334.68 L271.78,336.07 L272.38,335.84 L272.99,335.83 L273.59,336.12 L274.19,335.50 L274.80,335.62 L275.40,335.80 L276.00,336.52 L276.60,335.42 L277.21,335.62 L277.81,335.97 L278.41,337.06 L279.02,335.94 L279.62,336.42 L280.22,336.00 L280.82,336.11 L281.43,336.24 L282.03,335.46 L282.63,335.83 L283.23,335.35 L283.84,336.26 L284.44,335.93 L285.04,335.27 L285.65,335.70 L286.25,336.13 L286.85,336.19 L287.45,336.06 L288.06,335.84 L288.66,335.51 L289.26,335.73 L289.86,335.47 L290.47,335.39 L291.07,335.65 L291.67,335.11 L292.28,335.29 L292.88,335.63 L293.48,335.24 L294.08,325.49 L294.69,319.25 L295.29,316.93 L295.89,313.77 L296.49,313.63 L297.10,313.96 L297.70,315.24 L298.30,315.74 L298.91,316.32 L299.51,316.81 L300.11,316.74 L300.71,317.33 L301.32,317.42 L301.92,317.11 L302.52,317.49 L303.12,317.86 L303.73,318.40 L304.33,318.07 L304.93,317.89 L305.54,320.01 L306.14,319.03 L306.74,319.75 L307.34,319.75 L307.95,320.09 L308.55,321.38 L309.15,320.60 L309.75,321.95 L310.36,322.17 L310.96,322.18 L311.56,322.91 L312.17,323.22 L312.77,324.01 L313.37,324.68 L313.97,324.69 L314.58,325.62 L315.18,325.05 L315.78,325.97 L316.38,325.94 L316.99,327.51 L317.59,328.31 L318.19,328.82 L318.80,328.32 L319.40,329.00 L320.00,328.61 L320.60,329.68 L321.21,329.95 L321.81,329.55 L322.41,330.14 L323.02,329.99 L323.62,330.23 L324.22,330.73 L324.82,331.69 L325.43,331.77 L326.03,330.61 L326.63,331.80 L327.23,331.73 L327.84,331.95 L328.44,332.16 L329.04,332.37 L329.65,332.69 L330.25,332.82 L330.85,333.60 L331.45,332.20 L332.06,333.10 L332.66,333.66 L333.26,332.95 L333.86,332.95 L334.47,333.89 L335.07,333.56 L335.67,332.77 L336.28,333.23 L336.88,333.33 L337.48,333.15 L338.08,333.68 L338.69,333.81 L339.29,333.07 L339.89,333.87 L340.49,333.89 L341.10,333.64 L341.70,333.95" fill="none" stroke="#EDB120" stroke-width="1.2" stroke-linejoin="round" />
<rect x="308.6" y="360.1" width="40" height="10.4" fill="#fff"/>
<line x1="309.5" y1="365.3" x2="325.4" y2="365.3" stroke="#0072BD" stroke-width="1.3"/>
<text x="327.8" y="368.7" font-size="9" fill="#262626" transform="translate(0,368.70) scale(1,1.09) translate(0,-368.70)">Flow</text>
<rect x="308.6" y="371.2" width="40" height="10.4" fill="#fff"/>
<line x1="309.5" y1="376.4" x2="325.4" y2="376.4" stroke="#D95319" stroke-width="1.3"/>
<text x="327.8" y="379.8" font-size="9" fill="#262626" transform="translate(0,379.85) scale(1,1.09) translate(0,-379.85)">SO2</text>
<rect x="308.6" y="382.4" width="40" height="10.4" fill="#fff"/>
<line x1="309.5" y1="387.6" x2="325.4" y2="387.6" stroke="#EDB120" stroke-width="1.3"/>
<text x="327.8" y="391.0" font-size="9" fill="#262626" transform="translate(0,391.00) scale(1,1.09) translate(0,-391.00)">rHb</text>
<text x="356.8" y="302.6" font-size="14" font-weight="bold" fill="#000">o</text>
<path d="M390.5,306.8 L390.5,397.2 L510.1,397.2" fill="none" stroke="#3a3a3a" stroke-width="1.1"/>
<line x1="390.50" y1="397.2" x2="390.50" y2="395.4" stroke="#262626" stroke-width="0.8"/>
<text x="390.50" y="410.6" font-size="9.2" fill="#262626" text-anchor="middle" transform="translate(0,410.60) scale(1,1.09) translate(0,-410.60)">0</text>
<line x1="413.06" y1="397.2" x2="413.06" y2="395.4" stroke="#262626" stroke-width="0.8"/>
<text x="413.06" y="410.6" font-size="9.2" fill="#262626" text-anchor="middle" transform="translate(0,410.60) scale(1,1.09) translate(0,-410.60)">2</text>
<line x1="435.62" y1="397.2" x2="435.62" y2="395.4" stroke="#262626" stroke-width="0.8"/>
<text x="435.62" y="410.6" font-size="9.2" fill="#262626" text-anchor="middle" transform="translate(0,410.60) scale(1,1.09) translate(0,-410.60)">4</text>
<line x1="458.18" y1="397.2" x2="458.18" y2="395.4" stroke="#262626" stroke-width="0.8"/>
<text x="458.18" y="410.6" font-size="9.2" fill="#262626" text-anchor="middle" transform="translate(0,410.60) scale(1,1.09) translate(0,-410.60)">6</text>
<line x1="480.74" y1="397.2" x2="480.74" y2="395.4" stroke="#262626" stroke-width="0.8"/>
<text x="480.74" y="410.6" font-size="9.2" fill="#262626" text-anchor="middle" transform="translate(0,410.60) scale(1,1.09) translate(0,-410.60)">8</text>
<line x1="503.30" y1="397.2" x2="503.30" y2="395.4" stroke="#262626" stroke-width="0.8"/>
<text x="503.30" y="410.6" font-size="9.2" fill="#262626" text-anchor="middle" transform="translate(0,410.60) scale(1,1.09) translate(0,-410.60)">10</text>
<line x1="390.5" y1="397.20" x2="392.3" y2="397.20" stroke="#262626" stroke-width="0.8"/>
<text x="385.20" y="400.70" font-size="9.2" fill="#262626" text-anchor="end" transform="translate(0,400.70) scale(1,1.09) translate(0,-400.70)">0</text>
<line x1="390.5" y1="379.12" x2="392.3" y2="379.12" stroke="#262626" stroke-width="0.8"/>
<text x="385.20" y="382.62" font-size="9.2" fill="#262626" text-anchor="end" transform="translate(0,382.62) scale(1,1.09) translate(0,-382.62)">0.2</text>
<line x1="390.5" y1="361.04" x2="392.3" y2="361.04" stroke="#262626" stroke-width="0.8"/>
<text x="385.20" y="364.54" font-size="9.2" fill="#262626" text-anchor="end" transform="translate(0,364.54) scale(1,1.09) translate(0,-364.54)">0.4</text>
<line x1="390.5" y1="342.96" x2="392.3" y2="342.96" stroke="#262626" stroke-width="0.8"/>
<text x="385.20" y="346.46" font-size="9.2" fill="#262626" text-anchor="end" transform="translate(0,346.46) scale(1,1.09) translate(0,-346.46)">0.6</text>
<line x1="390.5" y1="324.88" x2="392.3" y2="324.88" stroke="#262626" stroke-width="0.8"/>
<text x="385.20" y="328.38" font-size="9.2" fill="#262626" text-anchor="end" transform="translate(0,328.38) scale(1,1.09) translate(0,-328.38)">0.8</text>
<line x1="390.5" y1="306.80" x2="392.3" y2="306.80" stroke="#262626" stroke-width="0.8"/>
<text x="385.20" y="310.30" font-size="9.2" fill="#262626" text-anchor="end" transform="translate(0,310.30) scale(1,1.09) translate(0,-310.30)">1</text>
<text x="455.30" y="425.1" font-size="9.2" fill="#262626" text-anchor="middle" transform="translate(0,425.10) scale(1,1.09) translate(0,-425.10)">Time (min)</text>
<text transform="translate(361.90,352) rotate(-90) scale(1,1.09)" font-size="9.2" fill="#262626" text-anchor="middle" dy="0.34em">Amplitude (a.u.)</text>
<path d="M390.50,352.91 L391.42,353.16 L392.35,354.00 L393.27,354.18 L394.20,353.90 L395.12,353.60 L396.05,353.89 L396.97,353.74 L397.89,353.10 L398.82,352.38 L399.74,351.61 L400.67,351.70 L401.59,351.65 L402.52,351.51 L403.44,351.20 L404.36,350.81 L405.29,350.05 L406.21,349.54 L407.14,349.54 L408.06,350.22 L408.99,351.30 L409.91,354.18 L410.83,356.20 L411.76,358.79 L412.68,361.42 L413.61,363.79 L414.53,366.06 L415.46,368.82 L416.38,370.95 L417.30,373.01 L418.23,375.17 L419.15,377.34 L420.08,379.65 L421.00,379.58 L421.92,380.09 L422.85,380.02 L423.77,380.47 L424.70,380.67 L425.62,380.85 L426.55,381.31 L427.47,381.39 L428.39,381.80 L429.32,381.41 L430.24,382.20 L431.17,382.32 L432.09,382.95 L433.02,383.12 L433.94,383.00 L434.86,382.64 L435.79,382.65 L436.71,382.76 L437.64,382.96 L438.56,382.41 L439.49,382.92 L440.41,382.74 L441.33,382.30 L442.26,382.48 L443.18,382.06 L444.11,381.76 L445.03,381.85 L445.96,381.59 L446.88,381.49 L447.80,381.48 L448.73,381.86 L449.65,381.25 L450.58,380.81 L451.50,380.98 L452.43,380.44 L453.35,379.97 L454.27,379.42 L455.20,379.72 L456.12,379.57 L457.05,379.66 L457.97,379.86 L458.90,380.55 L459.82,380.10 L460.74,380.96 L461.67,380.84 L462.59,381.46 L463.52,381.67 L464.44,381.72 L465.37,382.28 L466.29,382.74 L467.21,383.33 L468.14,383.17 L469.06,382.87 L469.99,381.63 L470.91,381.96 L471.83,381.71 L472.76,380.30 L473.68,379.91 L474.61,378.72 L475.53,376.64 L476.46,375.20 L477.38,373.33 L478.30,370.96 L479.23,367.32 L480.15,363.84 L481.08,359.71 L482.00,356.25 L482.93,351.94 L483.85,347.14 L484.77,341.73 L485.70,336.73 L486.62,331.59 L487.55,327.17 L488.47,323.25 L489.40,318.84 L490.32,314.50 L491.24,311.68 L492.17,309.61 L493.09,308.88 L494.02,306.87 L494.94,308.14 L495.87,309.02 L496.79,309.56 L497.71,313.06 L498.64,316.04 L499.56,319.12 L500.49,322.52 L501.41,325.61 L502.34,329.34 L503.26,331.95 L504.18,335.56 L505.11,338.79 L506.03,341.49 L506.96,344.54 L507.88,347.83 L508.81,350.87 L509.73,353.76" fill="none" stroke="#0072BD" stroke-width="1.35" stroke-linejoin="round" />
<path d="M390.50,320.06 L391.42,319.26 L392.35,317.62 L393.27,317.92 L394.20,317.59 L395.12,317.25 L396.05,318.08 L396.97,318.73 L397.89,318.56 L398.82,318.56 L399.74,318.02 L400.67,318.02 L401.59,318.86 L402.52,319.42 L403.44,319.84 L404.36,320.11 L405.29,319.66 L406.21,320.02 L407.14,320.21 L408.06,321.12 L408.99,321.28 L409.91,321.20 L410.83,321.30 L411.76,322.60 L412.68,322.88 L413.61,324.62 L414.53,325.82 L415.46,329.27 L416.38,333.24 L417.30,336.22 L418.23,338.21 L419.15,339.91 L420.08,343.22 L421.00,345.30 L421.92,347.94 L422.85,351.16 L423.77,353.62 L424.70,355.70 L425.62,357.00 L426.55,357.52 L427.47,357.60 L428.39,358.04 L429.32,357.88 L430.24,358.54 L431.17,359.17 L432.09,359.17 L433.02,359.87 L433.94,359.92 L434.86,360.43 L435.79,361.20 L436.71,361.81 L437.64,361.90 L438.56,362.70 L439.49,362.81 L440.41,363.82 L441.33,364.15 L442.26,364.70 L443.18,365.31 L444.11,364.90 L445.03,365.64 L445.96,366.58 L446.88,366.41 L447.80,367.20 L448.73,366.65 L449.65,366.87 L450.58,367.38 L451.50,367.55 L452.43,367.55 L453.35,367.64 L454.27,367.98 L455.20,368.23 L456.12,368.07 L457.05,367.98 L457.97,367.56 L458.90,367.59 L459.82,367.42 L460.74,367.74 L461.67,367.31 L462.59,367.20 L463.52,367.12 L464.44,366.91 L465.37,366.83 L466.29,366.98 L467.21,366.25 L468.14,366.11 L469.06,366.31 L469.99,365.90 L470.91,366.05 L471.83,365.32 L472.76,364.26 L473.68,363.03 L474.61,361.76 L475.53,356.98 L476.46,351.44 L477.38,346.51 L478.30,341.36 L479.23,335.58 L480.15,330.55 L481.08,325.03 L482.00,320.56 L482.93,315.93 L483.85,312.14 L484.77,308.81 L485.70,307.14 L486.62,307.59 L487.55,308.21 L488.47,309.45 L489.40,309.57 L490.32,309.27 L491.24,309.88 L492.17,310.06 L493.09,309.53 L494.02,309.22 L494.94,308.71 L495.87,308.42 L496.79,308.78 L497.71,309.01 L498.64,309.20 L499.56,309.55 L500.49,309.05 L501.41,308.97 L502.34,308.14 L503.26,308.61 L504.18,309.80 L505.11,310.00 L506.03,310.75 L506.96,311.35 L507.88,312.01 L508.81,312.47 L509.73,312.88" fill="none" stroke="#D95319" stroke-width="1.35" stroke-linejoin="round" />
<line x1="423.7" y1="316.9" x2="437.8" y2="316.9" stroke="#0072BD" stroke-width="1.5"/>
<text x="441.6" y="320.3" font-size="8.8" fill="#262626" transform="translate(0,320.30) scale(1,1.09) translate(0,-320.30)">Vessel 1</text>
<line x1="423.7" y1="327.8" x2="437.8" y2="327.8" stroke="#D95319" stroke-width="1.5"/>
<text x="441.6" y="331.2" font-size="8.8" fill="#262626" transform="translate(0,331.20) scale(1,1.09) translate(0,-331.20)">Vessel 2</text>
<text x="521.8" y="302.6" font-size="14" font-weight="bold" fill="#000">p</text>
<path d="M555.0,306.4 L555.0,397.2" fill="none" stroke="#7a7a7a" stroke-width="1.3"/>
<path d="M554.4,397.2 L679.5,397.2" fill="none" stroke="#3a3a3a" stroke-width="1.1"/>
<line x1="555.00" y1="397.2" x2="555.00" y2="395.4" stroke="#262626" stroke-width="0.8"/>
<text x="555.00" y="410.6" font-size="9.2" fill="#262626" text-anchor="middle" transform="translate(0,410.60) scale(1,1.09) translate(0,-410.60)">0</text>
<line x1="596.25" y1="397.2" x2="596.25" y2="395.4" stroke="#262626" stroke-width="0.8"/>
<text x="596.25" y="410.6" font-size="9.2" fill="#262626" text-anchor="middle" transform="translate(0,410.60) scale(1,1.09) translate(0,-410.60)">0.5</text>
<line x1="637.50" y1="397.2" x2="637.50" y2="395.4" stroke="#262626" stroke-width="0.8"/>
<text x="637.50" y="410.6" font-size="9.2" fill="#262626" text-anchor="middle" transform="translate(0,410.60) scale(1,1.09) translate(0,-410.60)">1</text>
<line x1="678.75" y1="397.2" x2="678.75" y2="395.4" stroke="#262626" stroke-width="0.8"/>
<text x="678.75" y="410.6" font-size="9.2" fill="#262626" text-anchor="middle" transform="translate(0,410.60) scale(1,1.09) translate(0,-410.60)">1.5</text>
<line x1="555.0" y1="397.20" x2="556.8" y2="397.20" stroke="#262626" stroke-width="0.8"/>
<text x="550.40" y="400.70" font-size="9.2" fill="#262626" text-anchor="end" transform="translate(0,400.70) scale(1,1.09) translate(0,-400.70)">7.9</text>
<line x1="555.0" y1="366.93" x2="556.8" y2="366.93" stroke="#262626" stroke-width="0.8"/>
<text x="550.40" y="370.43" font-size="9.2" fill="#262626" text-anchor="end" transform="translate(0,370.43) scale(1,1.09) translate(0,-370.43)">8</text>
<line x1="555.0" y1="336.66" x2="556.8" y2="336.66" stroke="#262626" stroke-width="0.8"/>
<text x="550.40" y="340.16" font-size="9.2" fill="#262626" text-anchor="end" transform="translate(0,340.16) scale(1,1.09) translate(0,-340.16)">8.1</text>
<line x1="555.0" y1="306.39" x2="556.8" y2="306.39" stroke="#262626" stroke-width="0.8"/>
<text x="550.40" y="309.89" font-size="9.2" fill="#262626" text-anchor="end" transform="translate(0,309.89) scale(1,1.09) translate(0,-309.89)">8.2</text>
<text x="621.00" y="425.1" font-size="9.2" fill="#262626" text-anchor="middle" transform="translate(0,425.10) scale(1,1.09) translate(0,-425.10)">Depth (mm)</text>
<text transform="translate(526.90,352) rotate(-90) scale(1,1.09)" font-size="9.2" fill="#262626" text-anchor="middle" dy="0.34em">Time (mins)</text>
<path d="M563.30,310.10 L572.20,311.90 L584.20,312.80 L592.50,312.90 L608.40,329.90 L616.90,315.90 L623.40,319.50 L632.50,340.30 L637.20,333.30 L643.20,342.90 L649.90,342.90 L654.00,355.30 L658.00,369.20 L664.70,375.60 L673.80,365.60 L676.60,376.80 L679.00,385.60" fill="none" stroke="#0072BD" stroke-width="1.35" stroke-linejoin="round" />
</svg></body></html>
